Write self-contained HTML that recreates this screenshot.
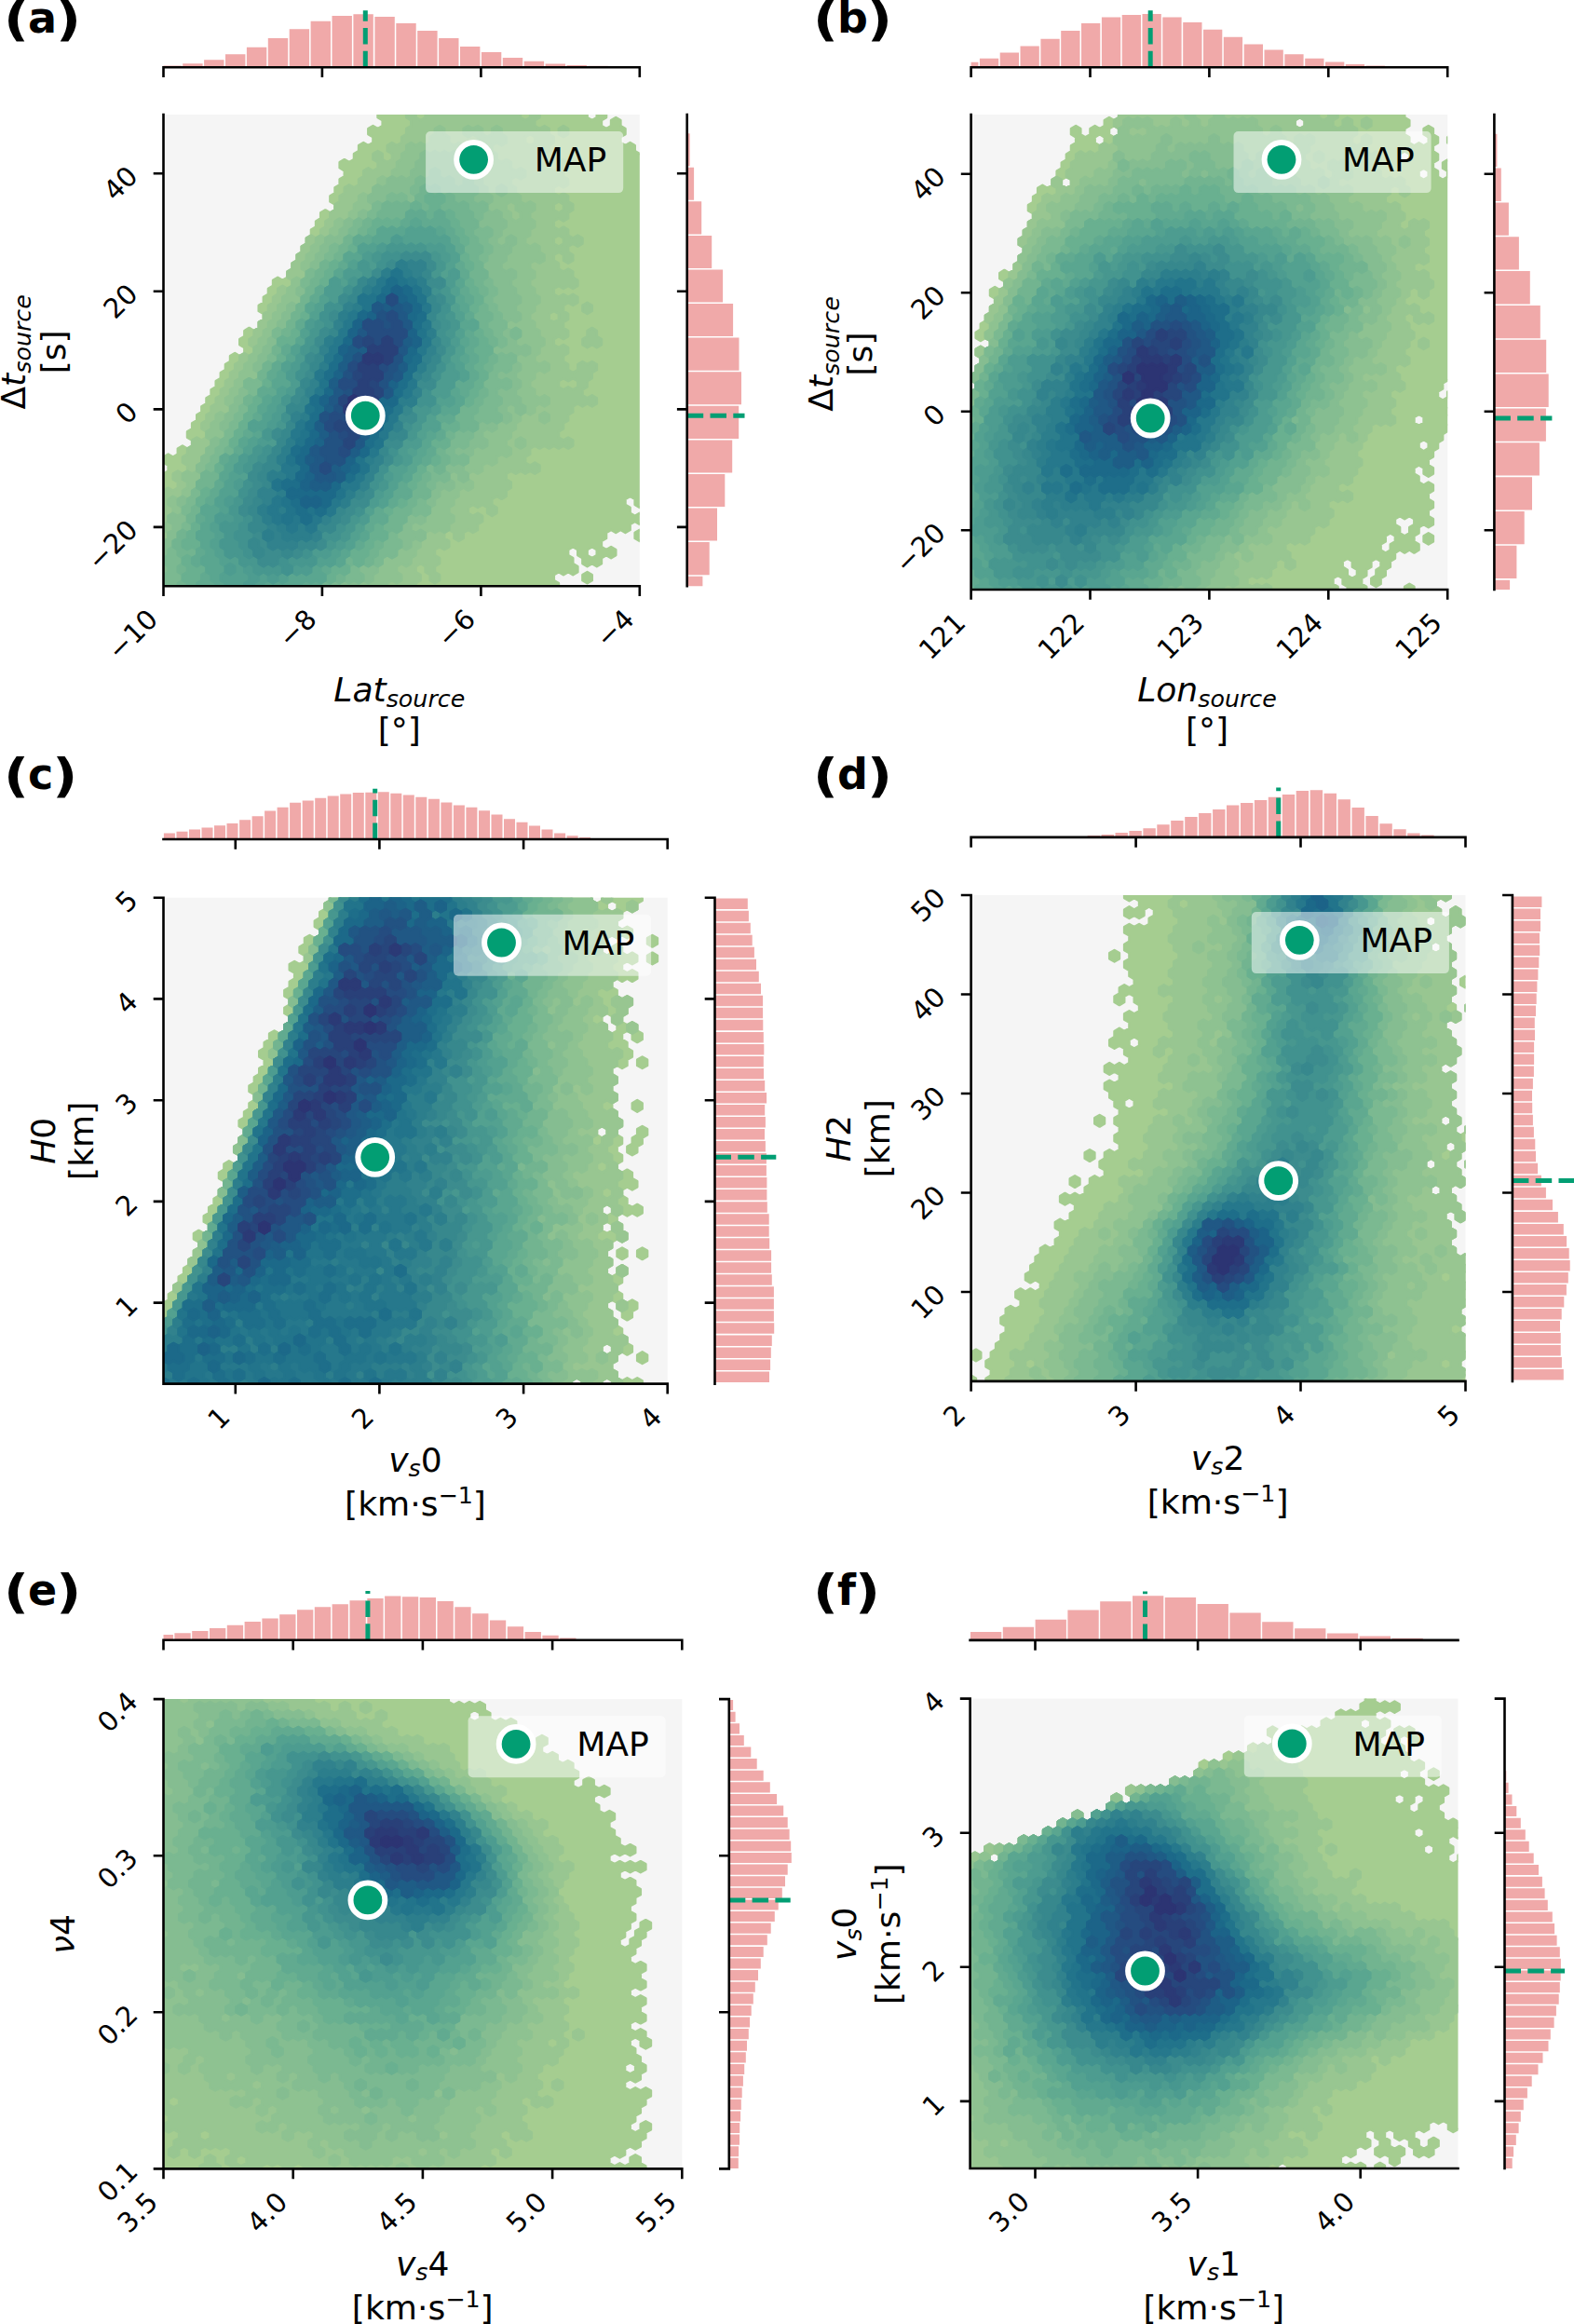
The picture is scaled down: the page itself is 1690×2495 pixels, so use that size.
<!DOCTYPE html>
<html><head><meta charset="utf-8"><title>Posterior joint distributions</title>
<style>
html,body{margin:0;padding:0;background:#fff}
svg{display:block}
text{font-family:"DejaVu Sans","Liberation Sans",sans-serif;fill:#000}
.i{font-style:italic}
.hx path{vector-effect:non-scaling-stroke;stroke-width:2.6;stroke-linejoin:round}
</style></head><body>
<svg width="1690" height="2495" viewBox="0 0 1690 2495">
<rect width="1690" height="2495" fill="#fff"/>
<!-- panel a -->
<clipPath id="clip0"><rect x="175.5" y="123.0" width="511.3" height="506.2"/></clipPath>
<rect x="175.5" y="123.0" width="511.3" height="506.2" fill="#f5f5f5"/>
<g clip-path="url(#clip0)"><g transform="matrix(5.1130 0 0 -3.0131 175.50 629.20)" class="hx">
<path fill="#a5cd90" stroke="#a5cd90" d="M0 -8l-1 1-1-1-1 1 0 2 1 1 0 2-1 1 0 2 1 1 0 2-1 1 0 2 1 1 0 2-1 1 0 2 1 1 0 2-1 1 0 2 1 1 0 2-1 1 0 2 1 1 0 2-1 1 0 2 1 1 0 2-1 1 0 2 1 1 1-1 1 1 0 2 1 1 0 2-1 1 0 2 1 1 1-1 1 1 0 2 1 1 1-1 1 1 0 2-1 1 0 2 1 1 0 2 1 1 0 2 1 1 0 2 1 1 0 2 1 1 0 2 1 1 0 2 1 1 0 2 1 1 0 2 1 1 0 2 1 1 1-1 1 1 0 2-1 1 0 2 1 1 0 2 1 1 1-1 1 1 0 2 1 1 0 2-1 1 0 2 1 1 0 2 1 1 0 2 1 1 0 2 1 1 1-1 1 1 0 2 1 1 0 2 1 1 0 2 1 1 0 2 1 1 0 2 1 1 0 2 1 1 0 2 1 1 0 2 1 1 1-1 1 1 0 2-1 1 0 2 1 1 0 2 1 1 0 2 1 1 0 2-1 1 0 2 1 1 1-1 1 1 0 2 1 1 0 2 1 1 1-1 1 1 0 2-1 1 0 2 1 1 1-1 1 1 0 2-1 1 0 2 1 1 0 2 1 1 1-1 1 1 0 2 1 1 0 2-1 1 0 2 1 1 0 2 1 1 1-1 1 1 1-1 1 1 1-1 1 1 1-1 1 1 1-1 1 1 1-1 1 1 1-1 1 1 1-1 1 1 1-1 1 1 1-1 1 1 1-1 1 1 1-1 1 1 1-1 0-2 1-1 1 1 0 2 1 1 1-1 1 1 1-1 1 1 1-1 0-2 1-1 0-2 1-1 1 1 0 2-1 1 0 2 1 1 1-1 0-2 1-1 0-2-1-1 0-2 1-1 0-2 1-1 0-2-1-1 0-2 1-1 1 1 0 2 1 1 0 2 1 1 1-1 0-2-1-1 0-2-1-1 0-2 1-1 1 1 0 2 1 1 1-1 0-2 1-1 0-2-1-1 0-2 1-1 1 1 1-1 0-2 1-1 1 1 1-1 0-2-1-1 0-2 1-1 1 1 1-1 0-2 1-1 0-2 1-1 0-2-1-1 0-2 1-1 0-2-1-1 0-2 1-1 0-2-1-1 0-2 1-1 0-2-1-1 0-2 1-1 0-2-1-1 0-2 1-1 0-2-1-1 0-2 1-1 0-2-1-1 0-2 1-1 0-2-1-1 0-2 1-1 0-2-1-1 0-2 1-1 0-2-1-1 0-2 1-1 0-2-1-1 0-2 1-1 0-2-1-1 0-2 1-1 0-2-1-1 0-2 1-1 0-2-1-1 0-2 1-1 0-2-1-1 0-2 1-1 0-2-1-1 0-2 1-1 0-2-1-1 0-2 1-1 0-2-1-1 0-2-1-1 0-2 1-1 0-2-1-1-1 1 0 2-1 1-1-1 0-2-1-1-1 1 0 2-1 1-1-1 0-2 1-1 0-2 1-1 1 1 1-1 0-2-1-1-1 1-1-1 0-2-1-1-1 1-1-1-1 1-1-1 0-2-1-1 0-2 1-1 1 1 1-1 0-2-1-1-1 1-1-1 0-2-1-1-1 1-1-1-1 1 0 2-1 1 0 2-1 1-1-1 0-2 1-1 0-2 1-1 0-2-1-1-1 1-1-1-1 1-1-1 0-2 1-1 0-2 1-1 0-2-1-1-1 1-1-1-1 1 0 2-1 1-1-1 0-2 1-1 0-2-1-1-1 1-1-1-1 1-1-1-1 1-1-1-1 1-1-1-1 1-1-1-1 1-1-1-1 1-1-1-1 1-1-1-1 1-1-1-1 1-1-1-1 1-1-1-1 1-1-1-1 1-1-1-1 1-1-1-1 1-1-1-1 1-1-1-1 1-1-1-1 1-1-1-1 1-1-1-1 1-1-1-1 1-1-1-1 1-1-1-1 1-1-1-1 1-1-1-1 1-1-1-1 1-1-1-1 1-1-1-1 1-1-1-1 1-1-1-1 1-1-1-1 1-1-1-1 1-1-1-1 1-1-1-1 1-1-1-1 1-1-1-1 1-1-1-1 1-1-1-1 1-1-1-1 1zM85 173l1-1 1 1 0 2-1 1-1-1zM91 11l0 2-1 1-1-1 0-2 1-1zM103 137l-1-1 0-2 1-1 1 1 0 2zM88 4l1 1 1-1 0-2-1-1-1 1zM99 19l1 1 1-1 0-2-1-1-1 1zM106 20l-1-1-1 1 0 2-1 1 0 2 1 1 1-1 0-2 1-1z"/>
<path fill="#98c691" stroke="#98c691" d="M5 -7l-1-1-1 1-1-1-1 1-1-1-1 1-1-1-1 1 0 2 1 1 0 2-1 1 0 2 1 1 0 2-1 1 0 2 1 1 0 2-1 1 0 2 1 1 0 2-1 1 0 2 1 1 0 2-1 1 0 2 1 1 1-1 1 1 0 2-1 1 0 2 1 1 0 2 1 1 1-1 1 1 0 2-1 1 0 2 1 1 1-1 1 1 0 2-1 1 0 2 1 1 0 2 1 1 0 2 1 1 1-1 1 1 0 2-1 1 0 2 1 1 0 2 1 1 0 2 1 1 0 2 1 1 0 2 1 1 0 2 1 1 0 2 1 1 0 2 1 1 0 2 1 1 1-1 1 1 0 2-1 1 0 2 1 1 0 2 1 1 0 2 1 1 0 2 1 1 0 2 1 1 0 2 1 1 0 2 1 1 1-1 1 1 0 2-1 1 0 2 1 1 0 2 1 1 0 2 1 1 0 2 1 1 0 2 1 1 1-1 1 1 0 2 1 1 0 2 1 1 0 2 1 1 0 2 1 1 0 2 1 1 0 2 1 1 1-1 1 1 0 2 1 1 0 2 1 1 1-1 1 1 0 2-1 1 0 2 1 1 1-1 0-2 1-1 1 1 0 2-1 1 0 2 1 1 1-1 1 1 0 2 1 1 0 2 1 1 0 2-1 1 0 2 1 1 1-1 0-2 1-1 1 1 0 2 1 1 0 2 1 1 0 2 1 1 1-1 0-2 1-1 0-2 1-1 1 1 0 2 1 1 0 2-1 1-1-1-1 1 0 2 1 1 1-1 1 1 1-1 0-2 1-1 1 1 0 2 1 1 1-1 1 1 1-1 1 1 1-1 0-2 1-1 1 1 1-1 0-2-1-1-1 1-1-1-1 1 0 2-1 1-1-1 0-2 1-1 0-2 1-1 1 1 1-1 1 1 1-1 0-2 1-1 1 1 0 2 1 1 1-1 0-2-1-1 0-2 1-1 1 1 1-1 0-2 1-1 0-2-1-1 0-2-1-1 0-2 1-1 0-2 1-1 1 1 0 2 1 1 1-1 0-2-1-1 0-2 1-1 0-2-1-1-1 1-1-1 0-2 1-1 1 1 1-1 0-2 1-1 0-2-1-1 0-2-1-1-1 1-1-1 0-2 1-1 1 1 1-1 0-2 1-1 1 1 1-1 0-2-1-1-1 1-1-1 0-2 1-1 0-2-1-1-1 1 0 2-1 1-1-1 0-2 1-1 0-2 1-1 1 1 1-1 0-2 1-1 0-2-1-1-1 1-1-1-1 1-1-1 0-2 1-1 1 1 1-1 1 1 1-1 0-2-1-1-1 1-1-1 0-2 1-1 0-2-1-1 0-2 1-1 0-2-1-1-1 1-1-1 0-2 1-1 1 1 1-1 0-2-1-1 0-2 1-1 0-2 1-1 1 1 0 2 1 1 1-1 1 1 1-1 0-2-1-1 0-2-1-1 0-2-1-1 0-2 1-1 1 1 1-1 0-2-1-1-1 1-1-1-1 1-1-1 0-2-1-1 0-2-1-1 0-2-1-1 0-2 1-1 1 1 1-1 0-2-1-1-1 1-1-1-1 1-1-1-1 1-1-1-1 1-1-1 0-2-1-1 0-2 1-1 1 1 1-1 0-2-1-1-1 1-1-1-1 1-1-1-1 1-1-1 0-2 1-1 0-2-1-1 0-2-1-1-1 1-1-1 0-2 1-1 0-2-1-1-1 1 0 2-1 1-1-1-1 1-1-1 0-2 1-1 1 1 1-1 0-2-1-1 0-2-1-1-1 1-1-1 0-2-1-1-1 1 0 2-1 1-1-1 0-2 1-1 0-2-1-1-1 1-1-1 0-2 1-1 0-2-1-1 0-2 1-1 0-2-1-1-1 1 0 2-1 1 0 2-1 1-1-1 0-2 1-1 0-2-1-1 0-2-1-1-1 1-1-1 0-2 1-1 0-2-1-1-1 1-1-1-1 1-1-1-1 1-1-1-1 1-1-1-1 1-1-1-1 1-1-1-1 1-1-1-1 1-1-1-1 1-1-1-1 1-1-1-1 1-1-1-1 1-1-1-1 1-1-1-1 1-1-1-1 1-1-1-1 1-1-1-1 1-1-1-1 1-1-1-1 1-1-1-1 1-1-1-1 1-1-1-1 1-1-1zM77 157l1 1 0 2-1 1-1-1 0-2zM85 73l-1 1-1-1 0-2 1-1 1 1 1-1 1 1 0 2-1 1zM83 95l0 2-1 1-1-1 0-2 1-1zM84 122l0 2-1 1-1-1 0-2 1-1zM84 134l0 2-1 1-1-1 0-2 1-1zM66 184l1 1 1-1 0-2-1-1-1 1zM91 91l0-2 1-1 0-2-1-1-1 1-1-1-1 1 0 2 1 1 0 2 1 1zM88 100l1 1 1-1 0-2-1-1-1 1zM83 163l1 1 1-1 0-2-1-1-1 1z"/>
<path fill="#8ec291" stroke="#8ec291" d="M9 -7l-1-1-1 1-1-1-1 1-1-1-1 1-1-1-1 1-1-1-1 1-1-1-1 1 0 2 1 1 0 2-1 1 0 2 1 1 0 2-1 1 0 2 1 1 0 2-1 1 0 2 1 1 0 2 1 1 1-1 1 1 0 2-1 1 0 2 1 1 0 2 1 1 0 2-1 1 0 2 1 1 1-1 1 1 0 2 1 1 0 2-1 1 0 2 1 1 1-1 1 1 0 2 1 1 0 2 1 1 0 2 1 1 0 2-1 1 0 2 1 1 0 2 1 1 0 2 1 1 1-1 1 1 0 2-1 1 0 2 1 1 0 2 1 1 0 2 1 1 0 2 1 1 0 2 1 1 0 2 1 1 0 2 1 1 0 2 1 1 0 2 1 1 0 2 1 1 0 2 1 1 0 2 1 1 0 2 1 1 0 2 1 1 0 2 1 1 1-1 1 1 0 2-1 1 0 2 1 1 0 2 1 1 0 2 1 1 0 2 1 1 1-1 1 1 0 2 1 1 0 2 1 1 1-1 1 1 0 2 1 1 0 2 1 1 0 2 1 1 1-1 1 1 0 2 1 1 0 2 1 1 1-1 1 1 0 2 1 1 0 2 1 1 0 2 1 1 0 2 1 1 1-1 1 1 1-1 1 1 0 2 1 1 0 2 1 1 1-1 0-2 1-1 0-2 1-1 1 1 1-1 1 1 1-1 1 1 0 2-1 1-1-1-1 1 0 2 1 1 1-1 1 1 1-1 0-2 1-1 1 1 0 2 1 1 1-1 0-2 1-1 0-2-1-1-1 1-1-1 0-2 1-1 0-2 1-1 1 1 1-1 0-2 1-1 1 1 1-1 0-2-1-1-1 1-1-1 0-2 1-1 0-2 1-1 0-2 1-1 1 1 1-1 0-2-1-1 0-2 1-1 0-2-1-1 0-2-1-1 0-2 1-1 1 1 1-1 0-2 1-1 0-2-1-1-1 1-1-1 0-2 1-1 0-2-1-1 0-2 1-1 0-2 1-1 0-2-1-1 0-2-1-1 0-2 1-1 0-2 1-1 0-2 1-1 0-2-1-1 0-2-1-1 0-2 1-1 1 1 1-1 0-2-1-1-1 1-1-1 0-2-1-1 0-2 1-1 0-2 1-1 1 1 1-1 0-2-1-1-1 1-1-1 0-2-1-1-1 1-1-1 0-2-1-1 0-2-1-1 0-2-1-1 0-2 1-1 0-2-1-1-1 1-1-1 0-2-1-1-1 1-1-1 0-2-1-1-1 1-1-1 0-2 1-1 0-2-1-1-1 1-1-1 0-2-1-1 0-2-1-1 0-2 1-1 0-2-1-1 0-2-1-1-1 1-1-1-1 1-1-1 0-2-1-1 0-2-1-1 0-2-1-1 0-2-1-1-1 1-1-1 0-2 1-1 0-2-1-1-1 1-1-1 0-2-1-1-1 1-1-1 0-2-1-1-1 1-1-1 0-2-1-1-1 1-1-1-1 1-1-1-1 1-1-1-1 1-1-1-1 1-1-1-1 1-1-1-1 1-1-1-1 1-1-1-1 1-1-1-1 1-1-1-1 1-1-1-1 1-1-1-1 1-1-1-1 1-1-1-1 1-1-1zM74 136l-1 1-1-1 0-2 1-1 0-2 1-1 1 1 0 2-1 1zM74 50l0 2 1 1 1-1 0-2-1-1zM79 61l1 1 1-1 0-2-1-1-1 1z"/>
<path fill="#85bd91" stroke="#85bd91" d="M-2 2l0 2 1 1 0 2 1 1 0 2-1 1 0 2 1 1 0 2 1 1 0 2 1 1 0 2-1 1 0 2 1 1 1-1 1 1 0 2-1 1 0 2 1 1 1-1 1 1 0 2 1 1 0 2 1 1 0 2-1 1 0 2 1 1 0 2 1 1 0 2 1 1 0 2 1 1 1-1 1 1 0 2-1 1 0 2 1 1 0 2 1 1 0 2 1 1 0 2 1 1 0 2 1 1 0 2 1 1 1-1 1 1 0 2-1 1 0 2 1 1 0 2 1 1 0 2 1 1 0 2 1 1 0 2 1 1 0 2 1 1 0 2 1 1 0 2 1 1 1-1 1 1 0 2-1 1 0 2 1 1 0 2 1 1 0 2 1 1 0 2 1 1 0 2 1 1 0 2 1 1 0 2 1 1 1-1 1 1 0 2 1 1 0 2 1 1 1-1 1 1 0 2 1 1 1-1 1 1 0 2-1 1 0 2 1 1 0 2 1 1 1-1 1 1 0 2 1 1 1-1 1 1 1-1 1 1 0 2 1 1 0 2 1 1 0 2 1 1 1-1 1 1 1-1 1 1 1-1 1 1 1-1 0-2 1-1 1 1 1-1 0-2 1-1 0-2 1-1 0-2 1-1 0-2 1-1 0-2-1-1 0-2 1-1 1 1 1-1 0-2 1-1 0-2-1-1 0-2-1-1 0-2 1-1 1 1 0 2 1 1 1-1 0-2-1-1 0-2-1-1 0-2-1-1 0-2 1-1 1 1 1-1 0-2-1-1 0-2 1-1 0-2 1-1 0-2-1-1 0-2 1-1 0-2-1-1-1 1-1-1 0-2 1-1 1 1 1-1 0-2-1-1 0-2 1-1 1 1 1-1 0-2-1-1-1 1-1-1 0-2 1-1 0-2-1-1 0-2 1-1 0-2-1-1 0-2 1-1 0-2 1-1 0-2-1-1-1 1 0 2-1 1-1-1 0-2 1-1 0-2-1-1-1 1-1-1 0-2-1-1-1 1-1-1 0-2 1-1 0-2-1-1-1 1-1-1 0-2-1-1 0-2-1-1 0-2 1-1 0-2-1-1-1 1 0 2-1 1-1-1 0-2 1-1 0-2-1-1-1 1-1-1 0-2-1-1 0-2-1-1 0-2-1-1 0-2-1-1-1 1-1-1 0-2 1-1 1 1 1-1 0-2-1-1-1 1-1-1 0-2-1-1-1 1-1-1 0-2-1-1-1 1-1-1 0-2-1-1 0-2-1-1 0-2-1-1-1 1-1-1 0-2 1-1 0-2-1-1-1 1-1-1-1 1-1-1 0-2-1-1-1 1-1-1-1 1-1-1-1 1-1-1-1 1-1-1-1 1-1-1-1 1-1-1-1 1-1-1-1 1-1-1-1 1-1-1-1 1-1-1-1 1-1-1-1 1-1-1-1 1-1-1-1 1-1-1-1 1-1-1-1 1-1-1-1 1-1-1-1 1-1-1-1 1 0 2-1 1 0 2 1 1 0 2zM70 142l1 1 1-1 0-2-1-1-1 1z"/>
<path fill="#7bb991" stroke="#7bb991" d="M10 -8l-1 1-1-1-1 1-1-1-1 1-1-1-1 1-1-1-1 1-1-1-1 1 0 2 1 1 0 2-1 1 0 2 1 1 0 2 1 1 0 2-1 1 0 2 1 1 0 2 1 1 0 2 1 1 0 2 1 1 0 2 1 1 0 2-1 1 0 2 1 1 0 2 1 1 0 2 1 1 0 2 1 1 0 2 1 1 0 2 1 1 0 2 1 1 0 2 1 1 0 2 1 1 0 2 1 1 0 2 1 1 0 2 1 1 0 2 1 1 0 2 1 1 0 2-1 1 0 2 1 1 1-1 1 1 0 2 1 1 0 2 1 1 0 2 1 1 0 2 1 1 0 2-1 1 0 2 1 1 1-1 1 1 0 2 1 1 0 2 1 1 0 2 1 1 0 2 1 1 0 2-1 1 0 2 1 1 0 2 1 1 1-1 1 1 0 2 1 1 0 2 1 1 0 2 1 1 1-1 1 1 0 2 1 1 0 2 1 1 0 2 1 1 1-1 1 1 0 2 1 1 0 2 1 1 1-1 1 1 0 2 1 1 1-1 1 1 1-1 0-2 1-1 1 1 0 2-1 1 0 2 1 1 0 2 1 1 1-1 1 1 0 2 1 1 1-1 0-2 1-1 1 1 1-1 0-2 1-1 1 1 0 2 1 1 1-1 0-2 1-1 0-2-1-1 0-2 1-1 1 1 1-1 0-2-1-1 0-2-1-1 0-2 1-1 1 1 1-1 0-2-1-1 0-2 1-1 0-2-1-1 0-2-1-1 0-2 1-1 0-2 1-1 0-2 1-1 0-2-1-1 0-2 1-1 0-2 1-1 0-2 1-1 0-2-1-1 0-2 1-1 0-2-1-1-1 1-1-1 0-2 1-1 1 1 1-1 1 1 1-1 0-2-1-1 0-2-1-1-1 1-1-1 0-2 1-1 1 1 1-1 0-2-1-1-1 1-1-1 0-2 1-1 0-2-1-1 0-2 1-1 0-2-1-1-1 1-1-1-1 1-1-1 0-2-1-1 0-2-1-1 0-2-1-1-1 1-1-1 0-2 1-1 1 1 1-1 0-2-1-1-1 1-1-1-1 1-1-1 0-2 1-1 0-2-1-1-1 1-1-1 0-2-1-1 0-2-1-1 0-2 1-1 0-2-1-1-1 1-1-1-1 1-1-1 0-2-1-1 0-2-1-1 0-2 1-1 0-2-1-1 0-2-1-1-1 1-1-1 0-2-1-1-1 1-1-1-1 1-1-1 0-2 1-1 0-2-1-1-1 1-1-1-1 1-1-1 0-2-1-1 0-2-1-1-1 1-1-1 0-2-1-1-1 1-1-1-1 1-1-1-1 1-1-1-1 1-1-1-1 1-1-1-1 1-1-1-1 1-1-1-1 1-1-1-1 1-1-1-1 1-1-1-1 1zM73 89l0 2 1 1 1-1 0-2-1-1z"/>
<path fill="#72b490" stroke="#72b490" d="M8 -8l-1 1-1-1-1 1 0 2-1 1-1-1-1 1 0 2 1 1 0 2 1 1 0 2-1 1 0 2 1 1 0 2-1 1 0 2-1 1 0 2 1 1 0 2 1 1 1-1 1 1 0 2-1 1 0 2 1 1 0 2 1 1 0 2 1 1 0 2-1 1 0 2 1 1 0 2 1 1 1-1 1 1 0 2 1 1 0 2 1 1 0 2 1 1 0 2 1 1 0 2 1 1 0 2 1 1 0 2 1 1 0 2-1 1 0 2 1 1 1-1 1 1 0 2 1 1 0 2-1 1 0 2 1 1 0 2 1 1 1-1 1 1 0 2-1 1 0 2 1 1 0 2 1 1 0 2 1 1 0 2 1 1 0 2 1 1 0 2 1 1 0 2 1 1 0 2 1 1 0 2 1 1 0 2 1 1 0 2 1 1 1-1 1 1 0 2 1 1 0 2 1 1 0 2 1 1 1-1 1 1 0 2 1 1 0 2 1 1 1-1 1 1 0 2 1 1 0 2 1 1 1-1 1 1 1-1 1 1 1-1 1 1 0 2 1 1 0 2 1 1 1-1 1 1 1-1 0-2 1-1 1 1 1-1 0-2 1-1 1 1 1-1 0-2 1-1 0-2 1-1 0-2-1-1 0-2 1-1 0-2 1-1 0-2-1-1 0-2 1-1 0-2 1-1 0-2-1-1 0-2 1-1 0-2-1-1 0-2 1-1 0-2 1-1 0-2-1-1 0-2 1-1 0-2 1-1 0-2-1-1 0-2 1-1 0-2-1-1 0-2-1-1 0-2-1-1 0-2 1-1 0-2-1-1 0-2-1-1 0-2-1-1 0-2 1-1 0-2-1-1-1 1-1-1-1 1-1-1 0-2-1-1 0-2-1-1 0-2 1-1 0-2-1-1 0-2-1-1-1 1 0 2-1 1-1-1 0-2 1-1 0-2-1-1 0-2 1-1 0-2-1-1-1 1-1-1 0-2-1-1 0-2-1-1 0-2-1-1 0-2-1-1-1 1-1-1 0-2-1-1 0-2-1-1 0-2-1-1 0-2-1-1-1 1-1-1-1 1-1-1 0-2-1-1 0-2-1-1-1 1-1-1 0-2-1-1 0-2-1-1 0-2-1-1-1 1-1-1-1 1-1-1-1 1-1-1-1 1-1-1-1 1-1-1-1 1-1-1-1 1-1-1-1 1-1-1-1 1-1-1-1 1-1-1-1 1-1-1-1 1z"/>
<path fill="#69b090" stroke="#69b090" d="M13 -7l-1-1-1 1-1-1-1 1-1-1-1 1 0 2-1 1 0 2-1 1 0 2-1 1 0 2 1 1 0 2-1 1 0 2 1 1 1-1 1 1 0 2-1 1-1-1-1 1 0 2 1 1 0 2 1 1 0 2 1 1 0 2 1 1 0 2-1 1 0 2 1 1 0 2 1 1 1-1 1 1 0 2 1 1 0 2-1 1 0 2 1 1 0 2 1 1 1-1 1 1 0 2-1 1 0 2 1 1 0 2 1 1 0 2 1 1 0 2 1 1 0 2 1 1 0 2 1 1 0 2 1 1 0 2 1 1 0 2 1 1 0 2 1 1 0 2 1 1 0 2-1 1 0 2 1 1 1-1 1 1 0 2 1 1 0 2 1 1 0 2 1 1 0 2 1 1 0 2 1 1 0 2 1 1 0 2 1 1 0 2 1 1 0 2 1 1 1-1 1 1 0 2 1 1 0 2 1 1 0 2 1 1 1-1 1 1 0 2 1 1 0 2 1 1 1-1 1 1 1-1 1 1 1-1 1 1 0 2 1 1 0 2 1 1 1-1 0-2 1-1 1 1 0 2-1 1 0 2 1 1 1-1 1 1 1-1 0-2-1-1 0-2 1-1 1 1 1-1 0-2 1-1 0-2 1-1 0-2 1-1 0-2-1-1 0-2 1-1 0-2 1-1 0-2-1-1 0-2 1-1 0-2 1-1 0-2 1-1 0-2-1-1 0-2-1-1 0-2 1-1 0-2 1-1 0-2 1-1 0-2 1-1 0-2-1-1 0-2-1-1 0-2 1-1 0-2-1-1 0-2-1-1 0-2-1-1 0-2-1-1-1 1-1-1 0-2-1-1 0-2 1-1 0-2-1-1-1 1-1-1 0-2 1-1 0-2-1-1-1 1-1-1 0-2 1-1 0-2-1-1-1 1-1-1 0-2-1-1 0-2-1-1 0-2-1-1 0-2-1-1 0-2-1-1-1 1-1-1 0-2-1-1 0-2-1-1 0-2 1-1 0-2-1-1-1 1-1-1 0-2-1-1 0-2-1-1 0-2-1-1-1 1 0 2-1 1-1-1 0-2 1-1 0-2-1-1-1 1-1-1 0-2-1-1-1 1-1-1 0-2-1-1 0-2-1-1-1 1-1-1-1 1-1-1 0-2-1-1-1 1-1-1-1 1-1-1-1 1-1-1-1 1-1-1-1 1-1-1-1 1-1-1zM9 -5l1 1 0 2-1 1-1-1 0-2z"/>
<path fill="#61aa90" stroke="#61aa90" d="M10 -2l-1 1-1-1-1 1 0 2 1 1 0 2 1 1 0 2-1 1-1-1-1 1 0 2 1 1 0 2 1 1 0 2-1 1 0 2 1 1 0 2-1 1 0 2 1 1 0 2 1 1 0 2 1 1 0 2 1 1 0 2 1 1 0 2 1 1 0 2-1 1 0 2 1 1 1-1 1 1 0 2 1 1 0 2 1 1 0 2 1 1 0 2 1 1 0 2 1 1 0 2 1 1 0 2-1 1 0 2 1 1 1-1 1 1 0 2-1 1 0 2 1 1 0 2 1 1 1-1 1 1 0 2-1 1 0 2 1 1 1-1 1 1 0 2 1 1 0 2-1 1 0 2 1 1 1-1 1 1 0 2-1 1 0 2 1 1 0 2 1 1 0 2 1 1 1-1 1 1 0 2 1 1 0 2 1 1 0 2 1 1 0 2 1 1 1-1 1 1 0 2-1 1 0 2 1 1 1-1 1 1 1-1 1 1 0 2 1 1 1-1 1 1 1-1 1 1 0 2 1 1 0 2 1 1 1-1 1 1 1-1 0-2 1-1 1 1 0 2 1 1 1-1 0-2 1-1 0-2 1-1 0-2 1-1 0-2 1-1 0-2-1-1 0-2 1-1 0-2 1-1 0-2-1-1 0-2 1-1 0-2 1-1 0-2-1-1 0-2 1-1 0-2 1-1 0-2-1-1 0-2 1-1 0-2-1-1 0-2 1-1 0-2-1-1 0-2 1-1 0-2-1-1 0-2-1-1 0-2-1-1 0-2-1-1 0-2-1-1 0-2-1-1-1 1-1-1 0-2 1-1 0-2-1-1-1 1-1-1 0-2 1-1 0-2-1-1 0-2-1-1-1 1-1-1 0-2-1-1 0-2-1-1 0-2 1-1 0-2-1-1-1 1-1-1 0-2-1-1-1 1-1-1 0-2 1-1 0-2-1-1-1 1-1-1 0-2-1-1 0-2-1-1 0-2-1-1-1 1-1-1 0-2-1-1 0-2-1-1-1 1-1-1 0-2-1-1 0-2-1-1 0-2-1-1-1 1-1-1-1 1-1-1 0-2-1-1-1 1 0 2-1 1-1-1 0-2-1-1-1 1-1-1-1 1-1-1 0-2-1-1-1 1-1-1-1 1 0 2-1 1-1-1 0-2-1-1-1 1 0 2 1 1 0 2-1 1z"/>
<path fill="#5aa690" stroke="#5aa690" d="M12 -2l-1 1 0 2-1 1 0 2-1 1 0 2-1 1 0 2 1 1 0 2-1 1 0 2-1 1 0 2 1 1 0 2 1 1 0 2-1 1 0 2 1 1 1-1 1 1 0 2 1 1 0 2 1 1 0 2-1 1 0 2 1 1 0 2 1 1 0 2 1 1 1-1 1 1 0 2-1 1 0 2 1 1 1-1 1 1 0 2-1 1 0 2 1 1 1-1 1 1 0 2-1 1 0 2 1 1 0 2 1 1 1-1 1 1 0 2-1 1 0 2 1 1 0 2 1 1 0 2 1 1 0 2 1 1 0 2 1 1 0 2 1 1 0 2 1 1 0 2 1 1 0 2-1 1 0 2 1 1 1-1 1 1 0 2 1 1 0 2 1 1 0 2 1 1 0 2 1 1 1-1 1 1 0 2-1 1 0 2 1 1 1-1 1 1 0 2 1 1 1-1 1 1 0 2 1 1 0 2 1 1 1-1 1 1 1-1 1 1 1-1 1 1 0 2 1 1 1-1 0-2 1-1 1 1 1-1 1 1 1-1 0-2 1-1 0-2 1-1 0-2 1-1 0-2-1-1 0-2 1-1 0-2 1-1 0-2-1-1 0-2 1-1 0-2 1-1 0-2-1-1 0-2 1-1 1 1 1-1 0-2-1-1-1 1-1-1 0-2 1-1 0-2-1-1 0-2 1-1 0-2-1-1 0-2 1-1 0-2-1-1-1 1-1-1 0-2 1-1 0-2 1-1 0-2-1-1 0-2-1-1-1 1-1-1-1 1-1-1 0-2 1-1 0-2-1-1 0-2-1-1 0-2-1-1 0-2-1-1 0-2-1-1 0-2-1-1 0-2-1-1-1 1-1-1 0-2-1-1 0-2-1-1 0-2-1-1-1 1-1-1 0-2-1-1 0-2-1-1 0-2 1-1 0-2-1-1-1 1-1-1 0-2-1-1 0-2-1-1 0-2-1-1-1 1-1-1-1 1-1-1 0-2 1-1 0-2-1-1-1 1-1-1-1 1-1-1 0-2-1-1-1 1-1-1-1 1-1-1 0-2-1-1-1 1-1-1-1 1-1-1-1 1-1-1-1 1-1-1-1 1 0 2-1 1z"/>
<path fill="#53a190" stroke="#53a190" d="M15 -1l-1-1-1 1 0 2-1 1 0 2 1 1 0 2-1 1 0 2-1 1 0 2-1 1 0 2 1 1 0 2-1 1 0 2 1 1 0 2 1 1 0 2-1 1 0 2 1 1 0 2 1 1 0 2 1 1 0 2 1 1 0 2 1 1 0 2 1 1 0 2 1 1 0 2 1 1 1-1 1 1 0 2-1 1-1-1-1 1 0 2 1 1 1-1 1 1 0 2 1 1 0 2 1 1 0 2 1 1 0 2 1 1 1-1 1 1 0 2-1 1 0 2-1 1 0 2 1 1 1-1 1 1 0 2-1 1 0 2 1 1 1-1 1 1 0 2-1 1 0 2 1 1 0 2 1 1 0 2 1 1 0 2 1 1 0 2 1 1 0 2 1 1 0 2 1 1 1-1 1 1 0 2 1 1 0 2 1 1 1-1 1 1 0 2-1 1 0 2 1 1 1-1 1 1 1-1 1 1 1-1 1 1 0 2 1 1 1-1 1 1 0 2 1 1 1-1 1 1 1-1 1 1 1-1 0-2 1-1 1 1 1-1 0-2 1-1 0-2 1-1 0-2-1-1 0-2 1-1 0-2-1-1 0-2 1-1 0-2-1-1 0-2 1-1 0-2 1-1 0-2-1-1 0-2 1-1 0-2-1-1 0-2 1-1 0-2-1-1 0-2 1-1 0-2 1-1 0-2-1-1-1 1-1-1 0-2-1-1 0-2 1-1 0-2-1-1-1 1-1-1 0-2-1-1 0-2 1-1 0-2-1-1-1 1-1-1 0-2-1-1 0-2-1-1 0-2-1-1 0-2-1-1 0-2-1-1 0-2-1-1 0-2-1-1 0-2-1-1 0-2-1-1-1 1-1-1 0-2-1-1 0-2-1-1 0-2-1-1 0-2-1-1 0-2-1-1-1 1-1-1 0-2-1-1 0-2-1-1-1 1-1-1-1 1-1-1 0-2-1-1-1 1-1-1-1 1-1-1 0-2-1-1-1 1-1-1-1 1-1-1 0-2-1-1-1 1-1-1-1 1-1-1z"/>
<path fill="#4d9c90" stroke="#4d9c90" d="M17 7l-1 1 0 2-1 1-1-1-1 1 0 2-1 1 0 2 1 1 0 2-1 1 0 2-1 1 0 2 1 1 1-1 1 1 0 2-1 1 0 2 1 1 1-1 1 1 0 2-1 1 0 2 1 1 1-1 1 1 0 2-1 1-1-1-1 1 0 2 1 1 0 2 1 1 1-1 1 1 0 2 1 1 0 2 1 1 0 2 1 1 0 2 1 1 0 2 1 1 0 2 1 1 0 2 1 1 0 2 1 1 0 2-1 1 0 2 1 1 0 2 1 1 0 2 1 1 0 2 1 1 0 2 1 1 0 2-1 1 0 2 1 1 1-1 1 1 0 2 1 1 0 2 1 1 0 2-1 1 0 2 1 1 0 2 1 1 1-1 0-2 1-1 1 1 0 2-1 1 0 2 1 1 1-1 1 1 0 2 1 1 0 2 1 1 1-1 1 1 0 2 1 1 1-1 1 1 0 2 1 1 1-1 0-2 1-1 1 1 1-1 1 1 1-1 1 1 1-1 1 1 1-1 0-2 1-1 0-2-1-1 0-2-1-1 0-2 1-1 1 1 0 2 1 1 1-1 0-2-1-1 0-2-1-1 0-2 1-1 0-2-1-1 0-2 1-1 0-2 1-1 0-2-1-1 0-2 1-1 0-2-1-1 0-2-1-1 0-2 1-1 0-2 1-1 0-2-1-1 0-2-1-1 0-2-1-1-1 1-1-1 0-2 1-1 0-2-1-1-1 1-1-1 0-2-1-1 0-2-1-1 0-2 1-1 0-2-1-1-1 1-1-1 0-2 1-1 0-2-1-1-1 1-1-1-1 1-1-1 0-2 1-1 0-2-1-1 0-2-1-1 0-2-1-1 0-2-1-1-1 1-1-1 0-2 1-1 0-2-1-1-1 1-1-1 0-2-1-1 0-2-1-1 0-2-1-1-1 1-1-1 0-2-1-1-1 1-1-1 0-2-1-1 0-2-1-1-1 1-1-1-1 1-1-1-1 1-1-1 0-2-1-1-1 1 0 2-1 1-1-1 0-2-1-1 0-2-1-1-1 1 0 2 1 1 0 2-1 1zM14 4l-1 1 0 2 1 1 1-1 0-2z"/>
<path fill="#47978f" stroke="#47978f" d="M17 7l-1 1 0 2-1 1-1-1-1 1 0 2-1 1 0 2 1 1 0 2-1 1 0 2 1 1 1-1 1 1 0 2-1 1 0 2 1 1 0 2 1 1 0 2 1 1 0 2 1 1 0 2-1 1 0 2 1 1 0 2 1 1 0 2 1 1 1-1 1 1 1-1 1 1 0 2-1 1-1-1-1 1 0 2 1 1 1-1 1 1 0 2 1 1 0 2 1 1 0 2-1 1 0 2 1 1 1-1 1 1 0 2 1 1 0 2-1 1 0 2 1 1 0 2 1 1 0 2-1 1 0 2 1 1 0 2 1 1 0 2 1 1 0 2 1 1 0 2 1 1 0 2 1 1 1-1 1 1 0 2 1 1 0 2 1 1 0 2 1 1 1-1 1 1 0 2-1 1 0 2 1 1 1-1 0-2 1-1 1 1 0 2-1 1 0 2 1 1 1-1 1 1 0 2 1 1 1-1 1 1 1-1 1 1 1-1 1 1 1-1 0-2 1-1 1 1 1-1 0-2 1-1 0-2-1-1 0-2 1-1 0-2 1-1 0-2 1-1 0-2-1-1 0-2 1-1 0-2 1-1 0-2-1-1 0-2-1-1 0-2 1-1 0-2-1-1 0-2-1-1 0-2-1-1 0-2-1-1 0-2-1-1 0-2 1-1 0-2-1-1 0-2-1-1 0-2-1-1 0-2-1-1 0-2-1-1-1 1-1-1 0-2-1-1 0-2 1-1 0-2-1-1-1 1-1-1 0-2-1-1 0-2 1-1 0-2-1-1-1 1-1-1 0-2-1-1 0-2-1-1 0-2-1-1 0-2-1-1 0-2-1-1 0-2-1-1-1 1-1-1 0-2-1-1-1 1-1-1-1 1-1-1 0-2 1-1 0-2-1-1-1 1-1-1-1 1-1-1 0-2-1-1-1 1-1-1-1 1-1-1-1 1-1-1-1 1 0 2-1 1z"/>
<path fill="#41928f" stroke="#41928f" d="M21 7l-1 1 0 2-1 1-1-1-1 1 0 2-1 1 0 2-1 1 0 2 1 1 0 2 1 1 0 2-1 1 0 2 1 1 0 2-1 1 0 2 1 1 0 2 1 1 0 2 1 1 0 2 1 1 0 2 1 1 0 2 1 1 1-1 1 1 0 2-1 1 0 2 1 1 1-1 1 1 0 2-1 1 0 2 1 1 0 2 1 1 0 2 1 1 0 2 1 1 0 2-1 1 0 2 1 1 0 2 1 1 0 2 1 1 0 2 1 1 0 2 1 1 0 2 1 1 0 2-1 1 0 2 1 1 0 2 1 1 1-1 1 1 0 2 1 1 0 2 1 1 1-1 1 1 0 2 1 1 1-1 1 1 0 2 1 1 0 2 1 1 0 2 1 1 1-1 1 1 1-1 1 1 1-1 1 1 1-1 1 1 1-1 0-2 1-1 0-2-1-1 0-2 1-1 1 1 1-1 0-2-1-1 0-2 1-1 0-2 1-1 0-2-1-1 0-2 1-1 0-2-1-1 0-2 1-1 0-2-1-1 0-2-1-1 0-2 1-1 0-2-1-1 0-2-1-1 0-2-1-1 0-2 1-1 0-2-1-1-1 1-1-1-1 1-1-1 0-2 1-1 0-2-1-1 0-2-1-1 0-2-1-1 0-2-1-1 0-2-1-1 0-2-1-1 0-2-1-1 0-2-1-1 0-2-1-1 0-2-1-1 0-2-1-1 0-2-1-1-1 1-1-1 0-2-1-1 0-2-1-1 0-2-1-1-1 1-1-1 0-2-1-1-1 1-1-1 0-2-1-1-1 1-1-1-1 1-1-1 0-2 1-1 0-2-1-1-1 1 0 2-1 1-1-1-1 1z"/>
<path fill="#3c8c8e" stroke="#3c8c8e" d="M19 11l0 2-1 1 0 2 1 1 0 2-1 1 0 2 1 1 0 2-1 1-1-1-1 1 0 2 1 1 0 2 1 1 0 2 1 1 0 2-1 1 0 2 1 1 0 2 1 1 1-1 1 1 0 2 1 1 0 2 1 1 0 2-1 1 0 2 1 1 1-1 1 1 0 2 1 1 0 2-1 1 0 2 1 1 0 2 1 1 0 2 1 1 0 2 1 1 0 2 1 1 0 2-1 1 0 2 1 1 1-1 1 1 0 2-1 1 0 2 1 1 0 2 1 1 1-1 1 1 0 2-1 1 0 2 1 1 1-1 1 1 0 2-1 1 0 2 1 1 1-1 1 1 0 2 1 1 0 2 1 1 1-1 1 1 0 2 1 1 1-1 1 1 0 2 1 1 1-1 1 1 0 2 1 1 1-1 1 1 1-1 1 1 1-1 0-2 1-1 0-2-1-1 0-2 1-1 1 1 1-1 0-2-1-1-1 1-1-1 0-2 1-1 1 1 1-1 0-2-1-1 0-2-1-1 0-2 1-1 0-2-1-1 0-2 1-1 0-2 1-1 0-2-1-1 0-2-1-1 0-2-1-1 0-2 1-1 0-2-1-1-1 1-1-1 0-2-1-1 0-2-1-1 0-2 1-1 0-2-1-1-1 1-1-1 0-2 1-1 0-2-1-1 0-2-1-1-1 1-1-1 0-2 1-1 0-2-1-1-1 1-1-1 0-2-1-1 0-2-1-1 0-2 1-1 0-2-1-1 0-2-1-1-1 1-1-1 0-2-1-1 0-2-1-1-1 1-1-1 0-2-1-1-1 1-1-1 0-2 1-1 0-2-1-1-1 1-1-1-1 1-1-1 0-2-1-1-1 1-1-1-1 1-1-1 0-2-1-1-1 1-1-1-1 1 0 2z"/>
<path fill="#37888d" stroke="#37888d" d="M19 17l1-1 0-2 1-1 0-2-1-1-1 1 0 2-1 1 0 2zM22 14l0 2-1 1 0 2-1 1-1-1-1 1 0 2 1 1 0 2-1 1 0 2 1 1 0 2 1 1 0 2 1 1 0 2-1 1 0 2 1 1 0 2 1 1 0 2 1 1 0 2 1 1 0 2 1 1 0 2 1 1 0 2 1 1 0 2-1 1 0 2 1 1 1-1 1 1 0 2 1 1 0 2-1 1 0 2 1 1 1-1 1 1 0 2-1 1 0 2 1 1 0 2 1 1 0 2 1 1 0 2 1 1 0 2 1 1 0 2 1 1 0 2 1 1 0 2 1 1 0 2 1 1 0 2 1 1 0 2 1 1 1-1 1 1 1-1 1 1 0 2 1 1 1-1 1 1 0 2 1 1 1-1 1 1 1-1 1 1 1-1 0-2 1-1 0-2-1-1 0-2 1-1 0-2 1-1 0-2 1-1 0-2-1-1 0-2-1-1 0-2 1-1 0-2 1-1 0-2-1-1 0-2 1-1 0-2-1-1 0-2-1-1 0-2-1-1-1 1-1-1 0-2 1-1 0-2-1-1 0-2-1-1 0-2-1-1-1 1-1-1 0-2 1-1 0-2 1-1 0-2-1-1-1 1-1-1-1 1-1-1 0-2 1-1 0-2-1-1 0-2-1-1 0-2-1-1 0-2-1-1 0-2-1-1 0-2-1-1-1 1-1-1 0-2-1-1 0-2-1-1 0-2-1-1 0-2-1-1-1 1-1-1 0-2-1-1 0-2-1-1-1 1-1-1-1 1-1-1 0-2-1-1-1 1 0 2-1 1-1-1z"/>
<path fill="#31828d" stroke="#31828d" d="M21 19l1 1 0 2-1 1 0 2-1 1 0 2 1 1 0 2-1 1 0 2 1 1 1-1 1 1 0 2-1 1 0 2 1 1 1-1 1 1 0 2-1 1 0 2 1 1 0 2 1 1 0 2 1 1 0 2 1 1 0 2-1 1 0 2 1 1 1-1 1 1 0 2 1 1 0 2-1 1 0 2 1 1 0 2 1 1 0 2 1 1 0 2 1 1 0 2-1 1 0 2 1 1 0 2 1 1 1-1 1 1 0 2-1 1 0 2 1 1 0 2 1 1 0 2 1 1 1-1 1 1 0 2 1 1 0 2 1 1 0 2 1 1 1-1 1 1 0 2 1 1 1-1 1 1 0 2 1 1 1-1 1 1 1-1 1 1 1-1 0-2-1-1 0-2 1-1 0-2 1-1 0-2-1-1 0-2 1-1 0-2-1-1 0-2 1-1 0-2 1-1 0-2-1-1 0-2 1-1 0-2-1-1 0-2-1-1 0-2-1-1 0-2-1-1 0-2 1-1 0-2-1-1 0-2-1-1-1 1-1-1 0-2-1-1 0-2 1-1 0-2-1-1-1 1-1-1 0-2-1-1 0-2-1-1 0-2 1-1 0-2-1-1 0-2-1-1 0-2-1-1 0-2-1-1-1 1-1-1 0-2-1-1 0-2-1-1-1 1-1-1 0-2-1-1 0-2-1-1-1 1-1-1 0-2 1-1 0-2-1-1-1 1-1-1-1 1-1-1 0-2-1-1-1 1-1-1-1 1-1-1-1 1 0 2-1 1z"/>
<path fill="#2c7e8c" stroke="#2c7e8c" d="M23 17l-1-1-1 1 0 2 1 1 1-1zM22 22l-1 1 0 2-1 1 0 2 1 1 1-1 1 1 0 2 1 1 0 2-1 1 0 2-1 1 0 2 1 1 1-1 1 1 0 2-1 1 0 2 1 1 0 2 1 1 0 2 1 1 0 2 1 1 0 2 1 1 0 2 1 1 0 2 1 1 0 2 1 1 0 2 1 1 0 2-1 1 0 2 1 1 0 2 1 1 0 2 1 1 0 2-1 1 0 2 1 1 1-1 1 1 0 2 1 1 0 2-1 1 0 2 1 1 1-1 1 1 0 2 1 1 0 2 1 1 0 2 1 1 1-1 1 1 0 2 1 1 0 2 1 1 1-1 1 1 0 2 1 1 1-1 0-2 1-1 0-2 1-1 1 1 1-1 0-2 1-1 0-2-1-1 0-2 1-1 0-2-1-1 0-2 1-1 0-2 1-1 0-2-1-1 0-2-1-1 0-2-1-1 0-2 1-1 0-2-1-1-1 1-1-1 0-2 1-1 0-2-1-1 0-2 1-1 0-2-1-1-1 1-1-1 0-2-1-1 0-2-1-1 0-2-1-1 0-2-1-1 0-2-1-1 0-2-1-1 0-2-1-1 0-2-1-1 0-2-1-1 0-2-1-1 0-2-1-1 0-2-1-1-1 1-1-1 0-2-1-1-1 1-1-1 0-2-1-1 0-2-1-1 0-2-1-1-1 1-1-1-1 1-1-1-1 1 0 2-1 1 0 2-1 1z"/>
<path fill="#26788c" stroke="#26788c" d="M28 22l0-2-1-1-1 1 0 2-1 1-1-1-1 1 0 2-1 1 0 2 1 1 0 2 1 1 1-1 1 1 0 2-1 1-1-1-1 1 0 2 1 1 1-1 1 1 0 2-1 1 0 2 1 1 0 2 1 1 0 2 1 1 0 2-1 1 0 2 1 1 0 2 1 1 1-1 1 1 0 2-1 1 0 2 1 1 0 2 1 1 0 2 1 1 0 2-1 1 0 2 1 1 1-1 1 1 0 2-1 1 0 2 1 1 0 2 1 1 0 2 1 1 0 2 1 1 0 2 1 1 0 2 1 1 1-1 1 1 0 2-1 1 0 2 1 1 1-1 1 1 0 2 1 1 0 2 1 1 1-1 1 1 0 2 1 1 1-1 0-2 1-1 1 1 1-1 0-2 1-1 0-2 1-1 0-2 1-1 0-2-1-1 0-2 1-1 0-2-1-1 0-2 1-1 0-2-1-1 0-2-1-1 0-2-1-1 0-2-1-1 0-2 1-1 0-2-1-1 0-2-1-1-1 1-1-1 0-2 1-1 0-2-1-1 0-2-1-1 0-2-1-1 0-2-1-1 0-2-1-1 0-2-1-1-1 1-1-1 0-2 1-1 0-2-1-1 0-2-1-1 0-2-1-1-1 1-1-1 0-2-1-1 0-2-1-1 0-2-1-1-1 1-1-1 0-2-1-1 0-2-1-1-1 1 0 2-1 1zM26 26l0 2-1 1-1-1 0-2 1-1z"/>
<path fill="#22748b" stroke="#22748b" d="M26 28l-1 1 0 2 1 1 0 2-1 1-1-1-1 1 0 2 1 1 1-1 1 1 1-1 1 1 0 2 1 1 0 2-1 1-1-1-1 1 0 2 1 1 0 2 1 1 0 2 1 1 0 2 1 1 0 2 1 1 0 2-1 1 0 2 1 1 0 2 1 1 1-1 1 1 0 2-1 1 0 2 1 1 0 2 1 1 0 2 1 1 0 2 1 1 0 2 1 1 0 2 1 1 0 2 1 1 0 2 1 1 0 2 1 1 0 2-1 1 0 2 1 1 1-1 1 1 1-1 1 1 0 2 1 1 0 2 1 1 0 2 1 1 1-1 0-2 1-1 0-2 1-1 1 1 1-1 0-2 1-1 0-2-1-1 0-2 1-1 0-2-1-1 0-2 1-1 0-2-1-1 0-2-1-1 0-2 1-1 0-2-1-1 0-2-1-1 0-2-1-1 0-2-1-1 0-2-1-1 0-2-1-1 0-2-1-1 0-2-1-1 0-2-1-1 0-2 1-1 0-2-1-1-1 1-1-1 0-2-1-1 0-2 1-1 0-2-1-1-1 1-1-1 0-2-1-1-1 1-1-1 0-2 1-1 0-2-1-1-1 1-1-1 0-2-1-1 0-2-1-1-1 1-1-1 0-2-1-1-1 1 0 2-1 1-1-1 0-2-1-1-1 1 0 2 1 1z"/>
<path fill="#1e6e8a" stroke="#1e6e8a" d="M28 28l-1 1 0 2-1 1 0 2-1 1 0 2 1 1 1-1 1 1 0 2 1 1 0 2-1 1 0 2-1 1 0 2 1 1 1-1 1 1 0 2 1 1 0 2-1 1 0 2 1 1 0 2 1 1 0 2-1 1 0 2 1 1 1-1 1 1 0 2 1 1 0 2-1 1 0 2 1 1 0 2 1 1 0 2 1 1 0 2 1 1 0 2 1 1 0 2 1 1 0 2 1 1 0 2 1 1 1-1 1 1 0 2 1 1 0 2 1 1 0 2 1 1 0 2 1 1 1-1 0-2 1-1 1 1 1-1 0-2 1-1 0-2 1-1 0-2 1-1 0-2-1-1 0-2-1-1 0-2 1-1 0-2-1-1 0-2 1-1 0-2-1-1 0-2-1-1 0-2-1-1 0-2-1-1 0-2-1-1 0-2-1-1 0-2-1-1 0-2-1-1 0-2-1-1 0-2-1-1 0-2-1-1 0-2-1-1-1 1-1-1 0-2 1-1 0-2-1-1 0-2-1-1-1 1-1-1 0-2-1-1 0-2-1-1 0-2-1-1 0-2-1-1-1 1 0 2-1 1-1-1 0-2 1-1 0-2-1-1-1 1 0 2-1 1z"/>
<path fill="#1c6989" stroke="#1c6989" d="M31 29l-1-1-1 1 0 2-1 1-1-1-1 1 0 2 1 1 1-1 1 1 0 2-1 1 0 2 1 1 0 2-1 1 0 2 1 1 0 2 1 1 0 2 1 1 0 2 1 1 0 2 1 1 0 2 1 1 0 2-1 1 0 2 1 1 0 2 1 1 0 2 1 1 0 2 1 1 0 2 1 1 0 2-1 1 0 2 1 1 0 2 1 1 0 2 1 1 0 2 1 1 0 2 1 1 1-1 1 1 0 2 1 1 0 2 1 1 1-1 1 1 0 2 1 1 1-1 1 1 1-1 0-2 1-1 0-2 1-1 0-2-1-1 0-2-1-1 0-2 1-1 0-2 1-1 0-2-1-1 0-2-1-1 0-2-1-1 0-2-1-1 0-2-1-1 0-2-1-1 0-2 1-1 0-2-1-1-1 1-1-1 0-2-1-1 0-2 1-1 0-2-1-1-1 1-1-1 0-2-1-1 0-2 1-1 0-2-1-1-1 1-1-1 0-2 1-1 0-2-1-1-1 1-1-1 0-2-1-1 0-2-1-1 0-2-1-1 0-2-1-1-1 1-1-1z"/>
<path fill="#1c6388" stroke="#1c6388" d="M31 29l-1-1-1 1 0 2 1 1 1-1 1 1 1-1 0-2-1-1zM30 34l-1 1 0 2 1 1 0 2 1 1 0 2-1 1 0 2 1 1 0 2 1 1 0 2 1 1 0 2-1 1 0 2 1 1 0 2 1 1 0 2-1 1 0 2 1 1 1-1 1 1 0 2-1 1 0 2 1 1 0 2 1 1 0 2 1 1 0 2-1 1 0 2 1 1 1-1 1 1 0 2-1 1 0 2 1 1 0 2 1 1 1-1 1 1 0 2 1 1 0 2 1 1 1-1 1 1 0 2 1 1 0 2 1 1 1-1 0-2 1-1 0-2 1-1 0-2-1-1 0-2 1-1 0-2 1-1 0-2 1-1 0-2-1-1-1 1-1-1 0-2-1-1 0-2 1-1 0-2-1-1 0-2-1-1 0-2-1-1 0-2-1-1-1 1-1-1 0-2-1-1 0-2 1-1 0-2-1-1 0-2-1-1 0-2-1-1 0-2-1-1 0-2-1-1 0-2-1-1 0-2-1-1 0-2-1-1-1 1-1-1 0-2-1-1-1 1-1-1-1 1z"/>
<path fill="#1e5d86" stroke="#1e5d86" d="M31 41l0 2-1 1 0 2 1 1 0 2 1 1 1-1 1 1 0 2-1 1 0 2-1 1 0 2 1 1 0 2 1 1 0 2 1 1 0 2 1 1 0 2-1 1 0 2 1 1 1-1 1 1 0 2-1 1 0 2 1 1 0 2 1 1 0 2 1 1 0 2 1 1 0 2 1 1 0 2 1 1 1-1 1 1 0 2-1 1 0 2 1 1 1-1 1 1 0 2 1 1 1-1 0-2 1-1 1 1 1-1 0-2-1-1 0-2 1-1 0-2-1-1 0-2 1-1 0-2-1-1 0-2-1-1 0-2 1-1 0-2-1-1 0-2-1-1-1 1-1-1 0-2 1-1 0-2-1-1-1 1-1-1 0-2-1-1 0-2-1-1 0-2 1-1 0-2-1-1 0-2-1-1 0-2-1-1 0-2-1-1-1 1-1-1 0-2-1-1 0-2 1-1 0-2-1-1-1 1-1-1 0-2-1-1-1 1-1-1-1 1 0 2 1 1 0 2z"/>
<path fill="#205885" stroke="#205885" d="M33 37l-1 1 0 2-1 1 0 2 1 1 0 2-1 1 0 2 1 1 1-1 1 1 0 2 1 1 0 2-1 1 0 2-1 1 0 2 1 1 1-1 1 1 0 2-1 1 0 2 1 1 0 2 1 1 0 2 1 1 0 2 1 1 0 2 1 1 0 2 1 1 1-1 1 1 0 2-1 1-1-1-1 1 0 2 1 1 0 2 1 1 0 2 1 1 1-1 1 1 0 2-1 1 0 2 1 1 1-1 0-2 1-1 1 1 0 2-1 1 0 2 1 1 1-1 0-2 1-1 0-2 1-1 0-2 1-1 0-2-1-1 0-2-1-1 0-2 1-1 0-2-1-1 0-2-1-1 0-2 1-1 0-2-1-1-1 1-1-1 0-2 1-1 0-2-1-1-1 1-1-1 0-2-1-1 0-2-1-1 0-2-1-1 0-2-1-1 0-2 1-1 0-2-1-1-1 1-1-1 0-2-1-1 0-2-1-1-1 1-1-1 0-2 1-1 0-2-1-1-1 1z"/>
<path fill="#225282" stroke="#225282" d="M34 46l-1 1 0 2 1 1 0 2 1 1 0 2-1 1 0 2-1 1 0 2 1 1 1-1 1 1 0 2 1 1 0 2 1 1 0 2-1 1 0 2 1 1 0 2 1 1 0 2 1 1 0 2 1 1 1-1 1 1 0 2-1 1-1-1-1 1 0 2 1 1 1-1 1 1 0 2-1 1 0 2 1 1 1-1 1 1 0 2 1 1 1-1 1 1 1-1 0-2 1-1 0-2 1-1 0-2-1-1 0-2-1-1 0-2 1-1 0-2-1-1 0-2-1-1 0-2-1-1 0-2-1-1 0-2-1-1 0-2-1-1 0-2-1-1 0-2-1-1 0-2-1-1 0-2-1-1 0-2-1-1 0-2-1-1 0-2-1-1-1 1-1-1 0-2-1-1-1 1 0 2 1 1zM49 103l0-2-1-1-1 1 0 2 1 1z"/>
<path fill="#254c80" stroke="#254c80" d="M33 43l1 1 1-1 0-2-1-1-1 1zM38 52l-1 1 0 2-1 1-1-1-1 1 0 2 1 1 0 2 1 1 1-1 1 1 0 2-1 1 0 2 1 1 1-1 1 1 0 2-1 1-1-1-1 1 0 2 1 1 1-1 1 1 0 2-1 1 0 2 1 1 1-1 1 1 0 2 1 1 0 2-1 1-1-1-1 1 0 2 1 1 1-1 1 1 0 2-1 1 0 2 1 1 1-1 1 1 1-1 0-2 1-1 1 1 0 2-1 1 0 2 1 1 1-1 0-2 1-1 0-2 1-1 0-2-1-1 0-2-1-1 0-2-1-1 0-2-1-1 0-2-1-1 0-2-1-1 0-2 1-1 0-2-1-1 0-2-1-1-1 1-1-1 0-2 1-1 0-2-1-1-1 1-1-1 0-2 1-1 0-2-1-1 0-2-1-1 0-2-1-1-1 1 0 2 1 1zM48 104l1-1 0-2-1-1-1 1 0 2z"/>
<path fill="#27467c" stroke="#27467c" d="M38 52l1 1 0 2-1 1-1-1-1 1 0 2 1 1 1-1 1 1 0 2-1 1 0 2-1 1 0 2 1 1 1-1 1 1 0 2 1 1 0 2-1 1 0 2 1 1 0 2 1 1 0 2 1 1 0 2-1 1 0 2 1 1 1-1 0-2 1-1 1 1 0 2 1 1 1-1 0-2 1-1 0-2-1-1 0-2-1-1-1 1-1-1 0-2 1-1 0-2-1-1 0-2 1-1 0-2-1-1 0-2-1-1-1 1-1-1 0-2-1-1 0-2-1-1 0-2 1-1 0-2-1-1 0-2-1-1-1 1z"/>
<path fill="#294079" stroke="#294079" d="M39 59l0 2-1 1 0 2 1 1 0 2 1 1 0 2 1 1 0 2 1 1 0 2-1 1 0 2 1 1 0 2 1 1 0 2 1 1 1-1 1 1 0 2 1 1 1-1 0-2 1-1 0-2-1-1 0-2-1-1-1 1-1-1 0-2 1-1 0-2-1-1-1 1-1-1 0-2 1-1 0-2 1-1 0-2-1-1-1 1 0 2-1 1-1-1 0-2 1-1 0-2-1-1 0-2-1-1z"/>
<path fill="#2b3a76" stroke="#2b3a76" d="M39 61l-1 1 0 2 1 1 0 2 1 1 1-1 0-2-1-1 0-2zM45 83l1-1 0-2-1-1-1 1-1-1-1 1 0 2 1 1 1-1z"/>
<path fill="#2c3473" stroke="#2c3473" d="M40 68l1-1 0-2-1-1-1 1 0 2z"/>
</g></g>
<path fill="#f0a9a9" d="M175.5 72.3v-1.7h19.2v1.7zM196.2 72.3v-4.1h21.4v4.1zM219.1 72.3v-8.1h21.4v8.1zM242.0 72.3v-14.0h21.4v14.0zM264.9 72.3v-21.6h21.4v21.6zM287.8 72.3v-31.2h21.4v31.2zM310.7 72.3v-41.1h21.4v41.1zM333.6 72.3v-49.5h21.4v49.5zM356.5 72.3v-55.2h21.4v55.2zM379.4 72.3v-57.1h21.4v57.1zM402.4 72.3v-54.2h21.4v54.2zM425.3 72.3v-47.3h21.4v47.3zM448.2 72.3v-39.2h21.4v39.2zM471.1 72.3v-31.2h21.4v31.2zM494.0 72.3v-22.4h21.4v22.4zM516.9 72.3v-16.4h21.4v16.4zM539.8 72.3v-10.3h21.4v10.3zM562.7 72.3v-6.6h21.4v6.6zM585.6 72.3v-3.9h21.4v3.9zM608.5 72.3v-2.2h21.4v2.2zM631.5 72.3v-1.5h21.4v1.5z"/>
<path fill="#f0a9a9" d="M737.7 143.2h3.0v35.1h-3.0zM737.7 179.7h7.4v35.1h-7.4zM737.7 216.3h15.5v35.1h-15.5zM737.7 252.9h26.5v35.1h-26.5zM737.7 289.5h38.4v35.1h-38.4zM737.7 326.0h49.4v35.1h-49.4zM737.7 362.6h55.8v35.1h-55.8zM737.7 399.2h58.3v35.1h-58.3zM737.7 435.8h55.5v35.1h-55.5zM737.7 472.4h48.5v35.1h-48.5zM737.7 508.9h40.6v35.1h-40.6zM737.7 545.5h32.3v35.1h-32.3zM737.7 582.1h24.0v35.1h-24.0zM737.7 618.7h16.7v10.5h-16.7z"/>
<path d="M392.3 72.3V11.3M737.7 446.2H799.5" stroke="#029e73" stroke-width="5" stroke-dasharray="17.5 7.3" fill="none"/>
<path d="M175.5 121.7V630.5M174.2 629.2H688.1M174.2 72.3H688.1M737.7 121.7V630.5M175.5 629.2v10.8M175.5 72.3v10.8M345.9 629.2v10.8M345.9 72.3v10.8M516.4 629.2v10.8M516.4 72.3v10.8M686.8 629.2v10.8M686.8 72.3v10.8M175.5 565.9h-10.8M737.7 565.9h-10.8M175.5 439.4h-10.8M737.7 439.4h-10.8M175.5 312.8h-10.8M737.7 312.8h-10.8M175.5 186.3h-10.8M737.7 186.3h-10.8" stroke="#000" stroke-width="2.6" fill="none"/>
<text transform="translate(127.69,710.21) rotate(-45)" font-size="29.17" >−10</text>
<text transform="translate(311.25,697.08) rotate(-45)" font-size="29.17" >−8</text>
<text transform="translate(481.68,697.08) rotate(-45)" font-size="29.17" >−6</text>
<text transform="translate(652.11,697.08) rotate(-45)" font-size="29.17" >−4</text>
<text transform="translate(106.19,614.05) rotate(-45)" font-size="29.17" >−20</text>
<text transform="translate(136.60,457.09) rotate(-45)" font-size="29.17" >0</text>
<text transform="translate(123.47,343.66) rotate(-45)" font-size="29.17" >20</text>
<text transform="translate(123.47,217.11) rotate(-45)" font-size="29.17" >40</text>
<circle cx="392.3" cy="446.2" r="18.4" fill="#029e73" stroke="#fff" stroke-width="6"/>
<rect x="457.1" y="141.1" width="212.1" height="66.0" rx="5" fill="#fff" fill-opacity="0.5"/>
<circle cx="508.6" cy="171.3" r="18.4" fill="#029e73" stroke="#fff" stroke-width="6"/>
<text x="573.7" y="184.2" font-size="36.1">MAP</text>
<text x="428.8" y="753.4" font-size="36.1" text-anchor="middle"><tspan class="i">Lat</tspan><tspan class="i" font-size="25.3" dy="5.4">source</tspan></text><text x="428.8" y="796.2" font-size="36.1" text-anchor="middle"><tspan>[°]</tspan></text><text transform="translate(26.8,377.9) rotate(-90)" font-size="36.1" text-anchor="middle"><tspan>Δ</tspan><tspan class="i">t</tspan><tspan class="i" font-size="25.3" dy="6.5">source</tspan></text><text transform="translate(69.5,377.9) rotate(-90)" font-size="36.1" text-anchor="middle"><tspan>[s]</tspan></text>
<g font-weight="bold"><text transform="translate(4.0,37.6) scale(1.19,1)" font-size="49.7">(</text><text x="29.9" y="35.0" font-size="46.0">a</text><text transform="translate(60.0,37.6) scale(1.19,1)" font-size="49.7">)</text></g>
<!-- panel b -->
<clipPath id="clip1"><rect x="1042.6" y="123.0" width="511.6" height="510.0"/></clipPath>
<rect x="1042.6" y="123.0" width="511.6" height="510.0" fill="#f5f5f5"/>
<g clip-path="url(#clip1)"><g transform="matrix(5.1160 0 0 -3.0357 1042.60 633.00)" class="hx">
<path fill="#a5cd90" stroke="#a5cd90" d="M-2 4l-1 1 0 2 1 1 0 2-1 1 0 2 1 1 0 2-1 1 0 2 1 1 0 2-1 1 0 2 1 1 0 2-1 1 0 2 1 1 0 2-1 1 0 2 1 1 0 2-1 1 0 2 1 1 0 2-1 1 0 2 1 1 0 2-1 1 0 2 1 1 0 2-1 1 0 2 1 1 0 2 1 1 0 2 1 1 0 2 1 1 0 2-1 1 0 2 1 1 0 2 1 1 0 2-1 1 0 2 1 1 1-1 1 1 0 2-1 1-1-1-1 1 0 2 1 1 0 2 1 1 0 2 1 1 0 2 1 1 0 2-1 1 0 2 1 1 1-1 1 1 0 2-1 1 0 2 1 1 1-1 1 1 0 2 1 1 0 2 1 1 0 2-1 1 0 2 1 1 0 2 1 1 0 2 1 1 0 2-1 1 0 2 1 1 0 2 1 1 0 2 1 1 1-1 1 1 0 2 1 1 0 2 1 1 0 2 1 1 0 2 1 1 0 2 1 1 0 2-1 1 0 2 1 1 1-1 0-2 1-1 1 1 0 2 1 1 1-1 1 1 0 2 1 1 1-1 1 1 0 2-1 1 0 2 1 1 0 2-1 1 0 2 1 1 0 2-1 1 0 2 1 1 1-1 1 1 1-1 1 1 1-1 1 1 1-1 1 1 1-1 1 1 1-1 1 1 1-1 1 1 1-1 1 1 1-1 1 1 1-1 1 1 1-1 1 1 1-1 1 1 1-1 1 1 1-1 1 1 1-1 1 1 1-1 1 1 1-1 1 1 1-1 1 1 1-1 1 1 1-1 1 1 1-1 1 1 1-1 1 1 1-1 0-2 1-1 1 1 0 2 1 1 1-1 0-2-1-1 0-2 1-1 0-2 1-1 0-2 1-1 0-2 1-1 1 1 0 2-1 1 0 2 1 1 0 2 1 1 1-1 0-2 1-1 0-2-1-1 0-2 1-1 1 1 1-1 1 1 1-1 0-2 1-1 0-2-1-1 0-2 1-1 0-2 1-1 1 1 1-1 1 1 0 2-1 1 0 2 1 1 1-1 0-2 1-1 0-2-1-1 0-2 1-1 0-2-1-1 0-2 1-1 0-2 1-1 1 1 0 2-1 1 0 2 1 1 1-1 0-2 1-1 0-2 1-1 0-2 1-1 0-2-1-1 0-2-1-1 0-2 1-1 1 1 0 2 1 1 1-1 0-2-1-1 0-2 1-1 0-2-1-1 0-2 1-1 0-2-1-1 0-2 1-1 0-2-1-1 0-2 1-1 0-2-1-1 0-2 1-1 0-2-1-1 0-2 1-1 0-2-1-1 0-2 1-1 0-2-1-1-1 1-1-1 0-2 1-1 1 1 1-1 0-2-1-1-1 1-1-1-1 1-1-1 0-2 1-1 1 1 1-1 0-2 1-1 0-2-1-1 0-2 1-1 0-2-1-1-1 1 0 2-1 1-1-1-1 1-1-1 0-2-1-1 0-2 1-1 1 1 0 2 1 1 1-1 0-2 1-1 0-2 1-1 0-2-1-1 0-2-1-1-1 1-1-1 0-2-1-1 0-2-1-1 0-2-1-1 0-2-1-1 0-2 1-1 0-2-1-1-1 1 0 2-1 1-1-1 0-2 1-1 0-2 1-1 1 1 1-1 0-2-1-1 0-2 1-1 0-2-1-1 0-2 1-1 0-2-1-1-1 1-1-1 0-2-1-1 0-2 1-1 0-2-1-1-1 1-1-1-1 1-1-1 0-2-1-1 0-2-1-1 0-2-1-1 0-2-1-1-1 1 0 2 1 1 0 2 1 1 0 2-1 1-1-1 0-2-1-1 0-2-1-1 0-2 1-1 0-2 1-1 0-2 1-1 0-2-1-1-1 1-1-1-1 1-1-1-1 1-1-1-1 1-1-1-1 1-1-1-1 1-1-1-1 1-1-1-1 1-1-1-1 1-1-1-1 1-1-1-1 1-1-1-1 1-1-1-1 1-1-1-1 1-1-1-1 1-1-1-1 1-1-1-1 1-1-1-1 1-1-1-1 1-1-1-1 1-1-1-1 1-1-1-1 1-1-1-1 1-1-1-1 1-1-1-1 1-1-1-1 1-1-1-1 1-1-1-1 1-1-1-1 1-1-1-1 1-1-1-1 1-1-1-1 1-1-1-1 1-1-1-1 1-1-1-1 1-1-1-1 1-1-1-1 1-1-1-1 1-1-1-1 1-1-1-1 1-1-1-1 1-1-1-1 1-1-1-1 1-1-1-1 1 0 2 1 1 0 2-1 1 0 2 1 1zM30 160l1 1 0 2-1 1-1-1 0-2zM26 160l0-2 1-1 1 1 0 2-1 1zM20 142l1 1 0 2-1 1-1-1 0-2zM68 166l0-2 1-1 1 1 0 2-1 1zM76 2l1-1 0-2 1-1 1 1 0 2-1 1 0 2-1 1-1-1zM90 20l1-1 1 1 0 2 1 1 0 2-1 1-1-1-1 1-1-1 0-2 1-1zM86 16l0-2 1-1 1 1 0 2 1 1 0 2-1 1-1-1 0-2zM78 10l0-2 1-1 0-2 1-1 1 1 0 2-1 1 0 2-1 1zM82 -4l0 2-1 1-1-1 0-2 1-1zM73 179l1-1 1 1 0 2-1 1-1-1zM96 148l-1 1-1-1 0-2 1-1 1 1zM95 59l0 2-1 1-1-1 0-2 1-1zM96 50l0 2-1 1-1-1 0-2 1-1zM90 152l1-1 1 1 0 2-1 1-1-1zM102 62l0 2-1 1-1-1 0-2 1-1zM81 181l1 1 1-1 0-2-1-1-1 1zM85 185l1-1 0-2-1-1-1 1 0 2zM92 2l1-1 0-2-1-1-1 1 0 2zM95 19l1 1 1-1 0-2-1-1-1 1zM102 160l0-2 1-1 0-2 1-1 0-2-1-1-1 1 0 2-1 1 0 2-1 1 0 2 1 1z"/>
<path fill="#98c691" stroke="#98c691" d="M3 -7l-1-1-1 1-1-1-1 1-1-1-1 1 0 2 1 1 0 2-1 1 0 2 1 1 0 2-1 1 0 2 1 1 0 2-1 1 0 2 1 1 0 2-1 1 0 2 1 1 0 2-1 1 0 2 1 1 0 2-1 1 0 2 1 1 0 2-1 1 0 2 1 1 0 2-1 1 0 2 1 1 0 2-1 1 0 2 1 1 0 2-1 1 0 2 1 1 0 2-1 1 0 2 1 1 0 2 1 1 0 2 1 1 0 2 1 1 0 2-1 1 0 2 1 1 0 2 1 1 0 2-1 1 0 2 1 1 1-1 1 1 0 2-1 1 0 2 1 1 0 2-1 1 0 2 1 1 0 2 1 1 0 2 1 1 0 2 1 1 0 2 1 1 0 2 1 1 0 2 1 1 0 2 1 1 0 2-1 1 0 2 1 1 0 2 1 1 0 2 1 1 0 2 1 1 0 2 1 1 0 2 1 1 1-1 1 1 0 2-1 1 0 2 1 1 1-1 0-2 1-1 1 1 0 2-1 1 0 2 1 1 0 2 1 1 0 2 1 1 1-1 1 1 1-1 1 1 0 2 1 1 1-1 1 1 0 2 1 1 0 2-1 1 0 2 1 1 0 2-1 1 0 2 1 1 0 2-1 1 0 2 1 1 0 2 1 1 1-1 0-2 1-1 1 1 1-1 1 1 0 2 1 1 0 2 1 1 1-1 0-2 1-1 0-2 1-1 1 1 0 2 1 1 1-1 1 1 1-1 1 1 1-1 1 1 0 2 1 1 1-1 0-2 1-1 0-2 1-1 1 1 0 2 1 1 1-1 1 1 0 2 1 1 1-1 0-2-1-1 0-2-1-1 0-2 1-1 1 1 1-1 1 1 0 2-1 1 0 2 1 1 1-1 0-2 1-1 0-2 1-1 1 1 1-1 1 1 1-1 1 1 1-1 0-2 1-1 1 1 0 2-1 1 0 2 1 1 1-1 0-2 1-1 1 1 1-1 0-2-1-1-1 1-1-1 0-2-1-1 0-2 1-1 1 1 0 2 1 1 1-1 0-2-1-1 0-2 1-1 1 1 0 2 1 1 1-1 0-2 1-1 0-2-1-1 0-2 1-1 1 1 0 2 1 1 1-1 0-2-1-1 0-2 1-1 1 1 1-1 0-2-1-1 0-2 1-1 0-2 1-1 1 1 1-1 1 1 1-1 0-2 1-1 0-2-1-1-1 1 0 2-1 1-1-1 0-2-1-1 0-2 1-1 1 1 1-1 0-2 1-1 0-2-1-1 0-2 1-1 1 1 0 2 1 1 1-1 1 1 1-1 0-2-1-1 0-2 1-1 0-2-1-1 0-2 1-1 0-2-1-1-1 1-1-1 0-2 1-1 1 1 1-1 0-2 1-1 0-2-1-1 0-2-1-1-1 1 0 2-1 1-1-1 0-2-1-1 0-2 1-1 1 1 1-1 0-2 1-1 1 1 1-1 0-2-1-1-1 1-1-1-1 1 0 2-1 1-1-1 0-2 1-1 0-2 1-1 0-2-1-1 0-2-1-1 0-2 1-1 0-2-1-1-1 1-1-1 0-2 1-1 0-2 1-1 0-2-1-1-1 1-1-1 0-2 1-1 0-2-1-1 0-2 1-1 0-2-1-1-1 1-1-1-1 1-1-1 0-2-1-1 0-2-1-1 0-2-1-1 0-2 1-1 0-2-1-1 0-2-1-1 0-2-1-1-1 1-1-1 0-2 1-1 1 1 1-1 0-2-1-1-1 1-1-1-1 1-1-1 0-2 1-1 0-2-1-1 0-2-1-1-1 1-1-1 0-2-1-1 0-2-1-1-1 1-1-1-1 1-1-1 0-2 1-1 0-2 1-1 0-2-1-1-1 1 0 2-1 1-1-1 0-2-1-1 0-2-1-1-1 1-1-1-1 1-1-1 0-2 1-1 1 1 1-1 1 1 1-1 0-2-1-1-1 1-1-1-1 1-1-1-1 1-1-1 0-2-1-1 0-2-1-1-1 1-1-1-1 1-1-1-1 1-1-1-1 1-1-1-1 1-1-1-1 1-1-1-1 1-1-1-1 1-1-1-1 1-1-1-1 1-1-1-1 1-1-1-1 1-1-1-1 1-1-1-1 1-1-1-1 1-1-1-1 1-1-1-1 1-1-1-1 1-1-1-1 1-1-1-1 1-1-1-1 1-1-1-1 1-1-1-1 1-1-1-1 1-1-1-1 1-1-1zM39 179l-1-1 0-2 1-1 1 1 0 2zM48 172l0-2 1-1 1 1 0 2 1 1 0 2-1 1-1-1 0-2zM69 169l1 1 0 2-1 1-1-1 0-2zM70 166l-1 1-1-1 0-2 1-1 1 1zM57 -5l1 1 1-1 0-2-1-1-1 1zM83 167l1-1 0-2-1-1-1 1 0 2zM94 88l1 1 1-1 0-2-1-1-1 1z"/>
<path fill="#8ec291" stroke="#8ec291" d="M-2 4l-1 1 0 2 1 1 0 2-1 1 0 2 1 1 0 2-1 1 0 2 1 1 0 2-1 1 0 2 1 1 0 2-1 1 0 2 1 1 0 2-1 1 0 2 1 1 0 2-1 1 0 2 1 1 0 2-1 1 0 2 1 1 0 2-1 1 0 2 1 1 0 2-1 1 0 2 1 1 0 2 1 1 0 2 1 1 0 2 1 1 0 2-1 1 0 2 1 1 0 2 1 1 0 2 1 1 0 2 1 1 0 2-1 1 0 2 1 1 0 2 1 1 0 2 1 1 0 2 1 1 0 2 1 1 0 2-1 1 0 2 1 1 1-1 1 1 0 2 1 1 0 2-1 1 0 2 1 1 0 2 1 1 0 2 1 1 0 2 1 1 0 2 1 1 1-1 1 1 0 2-1 1 0 2 1 1 1-1 1 1 0 2 1 1 1-1 1 1 0 2 1 1 0 2 1 1 1-1 1 1 0 2 1 1 1-1 1 1 0 2 1 1 0 2 1 1 0 2-1 1 0 2 1 1 0 2 1 1 0 2 1 1 1-1 1 1 1-1 1 1 1-1 0-2 1-1 1 1 1-1 1 1 0 2 1 1 1-1 0-2 1-1 1 1 0 2-1 1 0 2 1 1 1-1 0-2 1-1 0-2 1-1 1 1 0 2 1 1 0 2-1 1 0 2 1 1 1-1 0-2 1-1 0-2 1-1 1 1 1-1 1 1 1-1 1 1 1-1 0-2 1-1 0-2 1-1 1 1 0 2 1 1 1-1 0-2 1-1 0-2 1-1 1 1 0 2 1 1 1-1 1 1 1-1 0-2-1-1 0-2-1-1 0-2 1-1 0-2 1-1 1 1 1-1 0-2 1-1 1 1 0 2-1 1 0 2 1 1 1-1 1 1 1-1 0-2 1-1 0-2-1-1-1 1-1-1 0-2 1-1 1 1 1-1 0-2-1-1 0-2 1-1 1 1 1-1 0-2 1-1 1 1 1-1 1 1 1-1 0-2-1-1 0-2-1-1 0-2 1-1 1 1 1-1 0-2 1-1 0-2-1-1 0-2 1-1 0-2 1-1 0-2-1-1 0-2 1-1 0-2-1-1 0-2-1-1 0-2-1-1 0-2 1-1 0-2-1-1 0-2-1-1 0-2-1-1 0-2-1-1 0-2 1-1 1 1 1-1 0-2-1-1-1 1-1-1-1 1-1-1 0-2 1-1 1 1 1-1 0-2-1-1-1 1-1-1 0-2 1-1 0-2-1-1 0-2-1-1 0-2-1-1 0-2 1-1 0-2-1-1-1 1 0 2-1 1-1-1 0-2-1-1 0-2-1-1 0-2-1-1 0-2 1-1 0-2-1-1-1 1-1-1 0-2-1-1 0-2-1-1 0-2 1-1 0-2-1-1-1 1 0 2-1 1-1-1 0-2-1-1 0-2-1-1 0-2-1-1-1 1-1-1 0-2 1-1 0-2-1-1-1 1-1-1-1 1-1-1 0-2 1-1 0-2-1-1-1 1 0 2-1 1-1-1 0-2 1-1 0-2-1-1 0-2 1-1 0-2-1-1-1 1-1-1 0-2-1-1 0-2-1-1-1 1-1-1 0-2-1-1-1 1-1-1-1 1-1-1-1 1-1-1-1 1-1-1-1 1-1-1-1 1-1-1-1 1-1-1-1 1-1-1-1 1-1-1-1 1-1-1-1 1-1-1-1 1-1-1-1 1-1-1-1 1-1-1-1 1-1-1-1 1-1-1-1 1-1-1-1 1-1-1-1 1-1-1-1 1-1-1-1 1-1-1-1 1-1-1-1 1-1-1-1 1-1-1-1 1-1-1-1 1 0 2 1 1 0 2-1 1 0 2 1 1zM35 161l1-1 1 1 0 2-1 1-1-1-1 1-1-1 0-2 1-1zM72 154l1 1 1-1 0-2-1-1-1 1zM90 124l1 1 1-1 0-2-1-1-1 1z"/>
<path fill="#85bd91" stroke="#85bd91" d="M-2 -2l-1 1 0 2 1 1 0 2-1 1 0 2 1 1 0 2-1 1 0 2 1 1 0 2-1 1 0 2 1 1 0 2-1 1 0 2 1 1 0 2-1 1 0 2 1 1 0 2-1 1 0 2 1 1 0 2-1 1 0 2 1 1 0 2-1 1 0 2 1 1 0 2-1 1 0 2 1 1 0 2 1 1 0 2-1 1 0 2 1 1 0 2 1 1 0 2 1 1 0 2-1 1 0 2 1 1 0 2 1 1 0 2 1 1 0 2 1 1 0 2 1 1 0 2 1 1 0 2 1 1 0 2 1 1 0 2-1 1 0 2 1 1 0 2 1 1 0 2 1 1 0 2 1 1 0 2 1 1 0 2 1 1 0 2 1 1 0 2 1 1 0 2 1 1 1-1 1 1 1-1 1 1 0 2-1 1 0 2 1 1 1-1 1 1 0 2 1 1 0 2 1 1 0 2 1 1 1-1 1 1 1-1 1 1 0 2 1 1 0 2 1 1 0 2-1 1 0 2 1 1 1-1 0-2 1-1 1 1 1-1 1 1 1-1 1 1 0 2 1 1 0 2 1 1 0 2 1 1 1-1 0-2-1-1 0-2 1-1 1 1 0 2 1 1 1-1 1 1 1-1 1 1 1-1 1 1 0 2 1 1 1-1 0-2 1-1 1 1 1-1 1 1 1-1 0-2 1-1 0-2 1-1 1 1 0 2 1 1 1-1 0-2 1-1 1 1 1-1 0-2 1-1 1 1 1-1 0-2 1-1 0-2 1-1 1 1 1-1 0-2 1-1 1 1 1-1 0-2 1-1 0-2 1-1 0-2 1-1 1 1 1-1 0-2-1-1 0-2 1-1 1 1 1-1 1 1 1-1 0-2 1-1 0-2 1-1 0-2 1-1 0-2-1-1 0-2 1-1 0-2-1-1 0-2-1-1 0-2 1-1 0-2-1-1 0-2-1-1-1 1-1-1 0-2-1-1 0-2 1-1 1 1 1-1 0-2-1-1 0-2-1-1-1 1-1-1 0-2-1-1 0-2 1-1 0-2-1-1 0-2-1-1 0-2-1-1 0-2 1-1 0-2-1-1 0-2-1-1 0-2-1-1-1 1-1-1 0-2-1-1 0-2 1-1 0-2-1-1-1 1-1-1 0-2 1-1 0-2-1-1 0-2-1-1 0-2-1-1-1 1-1-1 0-2-1-1 0-2-1-1-1 1-1-1 0-2-1-1 0-2-1-1 0-2-1-1-1 1-1-1 0-2-1-1 0-2-1-1-1 1-1-1 0-2-1-1 0-2-1-1 0-2-1-1 0-2-1-1 0-2-1-1 0-2-1-1-1 1-1-1 0-2-1-1-1 1-1-1-1 1-1-1-1 1-1-1-1 1-1-1-1 1-1-1-1 1-1-1-1 1-1-1-1 1-1-1-1 1-1-1-1 1-1-1-1 1-1-1-1 1-1-1-1 1-1-1-1 1-1-1-1 1-1-1-1 1-1-1-1 1-1-1-1 1-1-1-1 1-1-1-1 1-1-1-1 1-1-1-1 1-1-1-1 1-1-1-1 1 0 2 1 1zM84 98l0 2-1 1-1-1 0-2 1-1zM73 145l1 1 1-1 0-2-1-1-1 1z"/>
<path fill="#7bb991" stroke="#7bb991" d="M-1 -7l-1-1-1 1 0 2 1 1 0 2-1 1 0 2 1 1 0 2-1 1 0 2 1 1 0 2-1 1 0 2 1 1 0 2-1 1 0 2 1 1 0 2-1 1 0 2 1 1 0 2-1 1 0 2 1 1 0 2-1 1 0 2 1 1 0 2-1 1 0 2 1 1 0 2-1 1 0 2 1 1 0 2 1 1 0 2-1 1 0 2 1 1 0 2 1 1 0 2 1 1 0 2-1 1 0 2 1 1 0 2 1 1 0 2 1 1 0 2 1 1 0 2-1 1 0 2 1 1 1-1 1 1 0 2-1 1 0 2 1 1 0 2 1 1 0 2 1 1 0 2 1 1 0 2 1 1 0 2 1 1 0 2 1 1 0 2 1 1 0 2 1 1 0 2 1 1 0 2 1 1 0 2 1 1 1-1 1 1 0 2 1 1 0 2 1 1 0 2 1 1 1-1 1 1 1-1 1 1 0 2 1 1 0 2 1 1 1-1 1 1 0 2 1 1 0 2 1 1 1-1 1 1 0 2 1 1 1-1 1 1 1-1 1 1 1-1 1 1 0 2 1 1 1-1 1 1 1-1 0-2-1-1 0-2 1-1 1 1 0 2 1 1 0 2-1 1 0 2 1 1 1-1 1 1 1-1 0-2 1-1 0-2 1-1 1 1 1-1 1 1 1-1 1 1 0 2 1 1 1-1 0-2-1-1 0-2 1-1 1 1 0 2 1 1 1-1 0-2 1-1 0-2 1-1 1 1 1-1 1 1 1-1 0-2 1-1 1 1 1-1 0-2 1-1 0-2-1-1 0-2 1-1 1 1 1-1 1 1 1-1 0-2 1-1 0-2 1-1 0-2 1-1 1 1 1-1 0-2 1-1 0-2 1-1 0-2 1-1 0-2 1-1 0-2-1-1 0-2-1-1-1 1-1-1 0-2 1-1 0-2-1-1 0-2 1-1 0-2-1-1-1 1-1-1 0-2-1-1 0-2 1-1 0-2-1-1 0-2-1-1 0-2 1-1 0-2-1-1-1 1-1-1 0-2 1-1 0-2-1-1 0-2-1-1-1 1-1-1 0-2-1-1 0-2 1-1 0-2-1-1 0-2 1-1 0-2-1-1-1 1-1-1 0-2-1-1 0-2-1-1 0-2-1-1-1 1-1-1 0-2-1-1 0-2 1-1 0-2-1-1-1 1-1-1 0-2-1-1-1 1-1-1 0-2-1-1 0-2-1-1 0-2 1-1 0-2-1-1-1 1 0 2-1 1-1-1 0-2-1-1 0-2-1-1 0-2-1-1-1 1-1-1 0-2-1-1 0-2 1-1 0-2-1-1 0-2-1-1-1 1 0 2-1 1-1-1 0-2 1-1 0-2-1-1-1 1-1-1 0-2-1-1-1 1-1-1-1 1-1-1-1 1-1-1-1 1-1-1-1 1-1-1-1 1-1-1-1 1-1-1-1 1-1-1-1 1-1-1-1 1-1-1-1 1-1-1-1 1-1-1-1 1-1-1-1 1-1-1-1 1-1-1-1 1-1-1-1 1-1-1-1 1-1-1-1 1-1-1-1 1-1-1zM35 143l1-1 1 1 0 2-1 1-1-1zM48 148l0-2 1-1 1 1 0 2-1 1zM70 134l0 2-1 1-1-1 0-2 1-1zM79 97l1 1 0 2-1 1-1-1 0-2zM31 151l1 1 1-1 0-2-1-1-1 1z"/>
<path fill="#72b490" stroke="#72b490" d="M-3 1l1 1 0 2-1 1 0 2 1 1 0 2-1 1 0 2 1 1 0 2-1 1 0 2 1 1 0 2-1 1 0 2 1 1 0 2-1 1 0 2 1 1 0 2-1 1 0 2 1 1 0 2-1 1 0 2 1 1 0 2-1 1 0 2 1 1 0 2 1 1 0 2 1 1 0 2-1 1 0 2 1 1 0 2 1 1 0 2 1 1 0 2-1 1 0 2 1 1 0 2 1 1 0 2 1 1 0 2 1 1 0 2 1 1 0 2 1 1 0 2 1 1 0 2 1 1 0 2-1 1 0 2 1 1 0 2 1 1 0 2 1 1 0 2 1 1 1-1 1 1 0 2-1 1 0 2 1 1 1-1 0-2 1-1 1 1 0 2-1 1 0 2 1 1 1-1 1 1 0 2 1 1 0 2 1 1 0 2 1 1 1-1 1 1 0 2 1 1 1-1 1 1 0 2 1 1 0 2 1 1 1-1 1 1 0 2 1 1 1-1 0-2 1-1 1 1 0 2-1 1 0 2 1 1 1-1 0-2 1-1 1 1 0 2 1 1 1-1 1 1 1-1 1 1 1-1 1 1 0 2 1 1 1-1 1 1 1-1 1 1 1-1 1 1 1-1 0-2 1-1 1 1 0 2-1 1 0 2 1 1 1-1 0-2 1-1 0-2 1-1 1 1 1-1 0-2 1-1 1 1 1-1 0-2 1-1 1 1 1-1 0-2 1-1 0-2 1-1 1 1 1-1 1 1 1-1 0-2 1-1 0-2 1-1 1 1 1-1 0-2 1-1 1 1 1-1 0-2 1-1 0-2 1-1 1 1 1-1 0-2-1-1-1 1-1-1 0-2-1-1 0-2 1-1 1 1 1-1 0-2-1-1 0-2-1-1-1 1-1-1 0-2 1-1 0-2-1-1 0-2-1-1-1 1-1-1 0-2 1-1 0-2-1-1 0-2 1-1 0-2-1-1-1 1-1-1 0-2 1-1 0-2-1-1 0-2 1-1 0-2-1-1-1 1-1-1 0-2-1-1 0-2 1-1 0-2-1-1 0-2-1-1 0-2-1-1-1 1-1-1 0-2 1-1 0-2-1-1 0-2-1-1 0-2-1-1 0-2-1-1-1 1-1-1 0-2-1-1-1 1-1-1 0-2-1-1 0-2-1-1 0-2-1-1 0-2-1-1 0-2-1-1-1 1-1-1-1 1-1-1 0-2-1-1 0-2-1-1-1 1-1-1 0-2 1-1 0-2-1-1-1 1-1-1 0-2 1-1 0-2-1-1-1 1-1-1 0-2-1-1-1 1-1-1 0-2 1-1 0-2-1-1-1 1-1-1-1 1-1-1-1 1-1-1-1 1-1-1-1 1-1-1-1 1-1-1-1 1-1-1-1 1-1-1-1 1-1-1-1 1-1-1-1 1-1-1-1 1-1-1-1 1-1-1-1 1-1-1-1 1-1-1-1 1-1-1-1 1-1-1-1 1-1-1-1 1-1-1-1 1-1-1-1 1 0 2 1 1 0 2-1 1zM68 58l1 1 0 2-1 1-1-1 0-2z"/>
<path fill="#69b090" stroke="#69b090" d="M-1 -7l0 2-1 1 0 2-1 1 0 2 1 1 0 2-1 1 0 2 1 1 0 2-1 1 0 2 1 1 0 2-1 1 0 2 1 1 0 2-1 1 0 2 1 1 0 2-1 1 0 2 1 1 0 2-1 1 0 2 1 1 0 2-1 1 0 2 1 1 0 2 1 1 0 2 1 1 0 2-1 1 0 2 1 1 0 2 1 1 0 2-1 1 0 2 1 1 0 2 1 1 0 2-1 1 0 2 1 1 1-1 1 1 0 2-1 1 0 2 1 1 1-1 1 1 0 2 1 1 0 2-1 1 0 2 1 1 0 2 1 1 0 2 1 1 0 2 1 1 0 2-1 1 0 2 1 1 1-1 0-2 1-1 1 1 0 2 1 1 0 2 1 1 0 2-1 1 0 2 1 1 1-1 1 1 0 2 1 1 0 2 1 1 1-1 1 1 0 2-1 1 0 2 1 1 1-1 1 1 0 2 1 1 0 2 1 1 1-1 1 1 1-1 1 1 1-1 1 1 1-1 1 1 0 2-1 1-1-1-1 1 0 2 1 1 1-1 1 1 1-1 1 1 0 2 1 1 1-1 0-2 1-1 1 1 0 2 1 1 1-1 1 1 1-1 1 1 0 2 1 1 1-1 0-2 1-1 1 1 0 2 1 1 1-1 1 1 1-1 0-2 1-1 0-2 1-1 1 1 1-1 1 1 0 2 1 1 1-1 0-2 1-1 0-2 1-1 1 1 1-1 0-2 1-1 1 1 0 2 1 1 1-1 0-2-1-1 0-2 1-1 1 1 1-1 1 1 1-1 0-2 1-1 1 1 1-1 0-2-1-1 0-2 1-1 1 1 1-1 1 1 1-1 0-2-1-1 0-2 1-1 0-2 1-1 0-2 1-1 0-2-1-1-1 1 0 2-1 1-1-1 0-2 1-1 0-2 1-1 0-2-1-1-1 1-1-1 0-2-1-1 0-2 1-1 0-2-1-1 0-2-1-1 0-2-1-1 0-2-1-1 0-2 1-1 0-2-1-1 0-2-1-1 0-2-1-1 0-2-1-1 0-2-1-1 0-2 1-1 0-2-1-1 0-2-1-1 0-2-1-1 0-2-1-1-1 1-1-1 0-2-1-1 0-2-1-1 0-2 1-1 0-2-1-1-1 1-1-1-1 1-1-1 0-2-1-1 0-2-1-1 0-2-1-1-1 1-1-1 0-2-1-1 0-2-1-1-1 1-1-1 0-2-1-1-1 1-1-1 0-2 1-1 0-2-1-1-1 1-1-1 0-2 1-1 0-2-1-1-1 1 0 2-1 1-1-1 0-2 1-1 0-2-1-1 0-2-1-1-1 1-1-1-1 1-1-1 0-2-1-1 0-2-1-1-1 1-1-1-1 1-1-1-1 1-1-1-1 1-1-1-1 1-1-1-1 1-1-1-1 1-1-1-1 1-1-1-1 1-1-1-1 1-1-1-1 1-1-1-1 1-1-1-1 1-1-1-1 1-1-1-1 1-1-1-1 1-1-1zM35 -5l1 1 1-1 0-2-1-1-1 1z"/>
<path fill="#61aa90" stroke="#61aa90" d="M1 1l-1 1 0 2-1 1-1-1-1 1 0 2 1 1 0 2-1 1 0 2 1 1 1-1 1 1 0 2-1 1-1-1-1 1 0 2 1 1 0 2-1 1 0 2 1 1 0 2-1 1 0 2 1 1 0 2 1 1 0 2-1 1 0 2 1 1 0 2-1 1 0 2 1 1 0 2 1 1 0 2 1 1 0 2-1 1 0 2 1 1 1-1 1 1 0 2-1 1 0 2-1 1 0 2 1 1 1-1 1 1 0 2-1 1 0 2 1 1 0 2 1 1 0 2 1 1 0 2 1 1 0 2 1 1 0 2 1 1 0 2-1 1 0 2 1 1 1-1 1 1 0 2 1 1 0 2 1 1 0 2 1 1 0 2 1 1 0 2 1 1 1-1 1 1 1-1 1 1 0 2-1 1 0 2-1 1 0 2 1 1 1-1 1 1 1-1 1 1 0 2 1 1 1-1 1 1 0 2 1 1 1-1 1 1 0 2 1 1 1-1 1 1 0 2 1 1 1-1 1 1 1-1 1 1 1-1 1 1 0 2-1 1 0 2 1 1 1-1 1 1 1-1 0-2 1-1 1 1 0 2 1 1 1-1 0-2 1-1 1 1 1-1 1 1 0 2 1 1 1-1 0-2 1-1 1 1 0 2 1 1 1-1 0-2-1-1 0-2 1-1 1 1 1-1 0-2 1-1 1 1 1-1 1 1 1-1 1 1 1-1 0-2 1-1 1 1 0 2 1 1 1-1 0-2-1-1 0-2 1-1 1 1 1-1 0-2 1-1 0-2 1-1 1 1 1-1 0-2 1-1 0-2-1-1 0-2 1-1 0-2-1-1 0-2 1-1 0-2-1-1-1 1-1-1 0-2-1-1 0-2 1-1 0-2-1-1 0-2 1-1 0-2-1-1 0-2-1-1 0-2-1-1 0-2-1-1 0-2-1-1 0-2 1-1 0-2-1-1 0-2-1-1-1 1-1-1 0-2-1-1 0-2-1-1 0-2 1-1 0-2-1-1 0-2-1-1-1 1-1-1 0-2-1-1 0-2-1-1 0-2-1-1 0-2-1-1 0-2-1-1-1 1-1-1-1 1-1-1 0-2 1-1 0-2-1-1-1 1-1-1-1 1-1-1 0-2-1-1 0-2-1-1 0-2-1-1-1 1-1-1 0-2-1-1 0-2-1-1 0-2-1-1 0-2-1-1-1 1-1-1 0-2 1-1 0-2-1-1-1 1-1-1 0-2-1-1-1 1-1-1 0-2-1-1-1 1-1-1-1 1-1-1-1 1-1-1-1 1-1-1-1 1-1-1-1 1-1-1-1 1-1-1-1 1-1-1-1 1-1-1-1 1-1-1-1 1-1-1-1 1-1-1-1 1-1-1-1 1-1-1-1 1 0 2-1 1 0 2 1 1zM-3 -1l0 2 1 1 1-1 0-2-1-1zM66 56l0 2 1 1 1-1 0-2-1-1z"/>
<path fill="#5aa690" stroke="#5aa690" d="M2 4l-1 1 0 2-1 1 0 2-1 1 0 2 1 1 0 2-1 1-1-1-1 1 0 2 1 1 0 2 1 1 0 2-1 1 0 2 1 1 0 2-1 1 0 2 1 1 0 2-1 1 0 2 1 1 0 2-1 1 0 2 1 1 1-1 1 1 0 2-1 1 0 2 1 1 0 2 1 1 0 2 1 1 0 2-1 1 0 2 1 1 0 2 1 1 0 2 1 1 0 2-1 1 0 2 1 1 1-1 1 1 0 2-1 1 0 2 1 1 1-1 1 1 0 2-1 1 0 2 1 1 0 2 1 1 0 2 1 1 0 2 1 1 1-1 1 1 0 2-1 1 0 2 1 1 0 2 1 1 1-1 0-2-1-1 0-2 1-1 1 1 0 2 1 1 0 2-1 1 0 2 1 1 1-1 0-2 1-1 1 1 0 2 1 1 0 2-1 1-1-1-1 1 0 2 1 1 1-1 1 1 0 2 1 1 1-1 1 1 0 2 1 1 1-1 1 1 0 2 1 1 1-1 1 1 1-1 1 1 0 2 1 1 0 2 1 1 1-1 0-2 1-1 1 1 0 2 1 1 1-1 1 1 1-1 1 1 1-1 1 1 0 2 1 1 1-1 1 1 1-1 0-2 1-1 1 1 0 2 1 1 1-1 1 1 1-1 0-2 1-1 0-2 1-1 1 1 1-1 1 1 1-1 1 1 1-1 0-2 1-1 0-2 1-1 1 1 1-1 0-2-1-1 0-2 1-1 1 1 0 2 1 1 1-1 1 1 1-1 0-2 1-1 0-2 1-1 0-2 1-1 0-2-1-1 0-2-1-1 0-2 1-1 0-2-1-1 0-2-1-1 0-2-1-1 0-2-1-1 0-2 1-1 0-2-1-1-1 1-1-1 0-2-1-1 0-2 1-1 0-2-1-1 0-2-1-1 0-2 1-1 0-2-1-1 0-2-1-1 0-2-1-1 0-2-1-1 0-2-1-1 0-2-1-1-1 1-1-1 0-2-1-1 0-2-1-1-1 1-1-1 0-2-1-1 0-2 1-1 1 1 1-1 0-2-1-1-1 1-1-1-1 1-1-1 0-2-1-1 0-2-1-1-1 1-1-1 0-2-1-1 0-2-1-1-1 1-1-1 0-2 1-1 0-2-1-1-1 1-1-1 0-2-1-1-1 1 0 2-1 1-1-1 0-2 1-1 0-2-1-1-1 1-1-1 0-2 1-1 0-2-1-1-1 1-1-1-1 1-1-1 0-2 1-1 0-2-1-1-1 1-1-1 0-2-1-1 0-2-1-1-1 1-1-1-1 1-1-1-1 1-1-1-1 1-1-1-1 1-1-1-1 1-1-1-1 1-1-1-1 1-1-1-1 1-1-1-1 1-1-1-1 1-1-1-1 1-1-1-1 1-1-1-1 1 0 2 1 1 0 2-1 1 0 2 1 1zM29 121l0-2 1-1 1 1 0 2-1 1zM69 79l1 1 1-1 0-2-1-1-1 1z"/>
<path fill="#53a190" stroke="#53a190" d="M5 -1l0 2-1 1 0 2-1 1-1-1-1 1 0 2-1 1 0 2 1 1 1-1 0-2 1-1 1 1 0 2-1 1 0 2-1 1 0 2-1 1 0 2-1 1 0 2-1 1 0 2-1 1 0 2 1 1 1-1 1 1 0 2 1 1 0 2-1 1 0 2-1 1 0 2-1 1 0 2 1 1 0 2 1 1 0 2 1 1 0 2-1 1 0 2 1 1 0 2 1 1 0 2 1 1 0 2 1 1 0 2-1 1 0 2 1 1 0 2 1 1 0 2 1 1 0 2 1 1 0 2 1 1 0 2 1 1 1-1 1 1 1-1 1 1 0 2-1 1 0 2 1 1 0 2-1 1 0 2 1 1 1-1 1 1 1-1 1 1 0 2-1 1 0 2 1 1 1-1 1 1 0 2 1 1 0 2 1 1 1-1 1 1 1-1 1 1 0 2-1 1 0 2 1 1 0 2 1 1 1-1 0-2 1-1 1 1 0 2 1 1 0 2 1 1 0 2 1 1 1-1 1 1 1-1 1 1 1-1 1 1 0 2-1 1 0 2 1 1 1-1 0-2 1-1 1 1 1-1 1 1 1-1 1 1 0 2 1 1 1-1 0-2 1-1 1 1 1-1 1 1 0 2 1 1 1-1 0-2 1-1 1 1 1-1 0-2 1-1 1 1 1-1 0-2 1-1 1 1 1-1 1 1 1-1 0-2 1-1 0-2 1-1 1 1 0 2 1 1 1-1 0-2 1-1 0-2 1-1 0-2 1-1 0-2-1-1 0-2 1-1 0-2-1-1 0-2-1-1-1 1-1-1 0-2 1-1 1 1 1-1 0-2-1-1-1 1-1-1 0-2-1-1 0-2-1-1 0-2 1-1 0-2-1-1 0-2-1-1 0-2 1-1 0-2-1-1 0-2-1-1-1 1-1-1 0-2 1-1 0-2-1-1 0-2 1-1 0-2-1-1-1 1-1-1 0-2 1-1 0-2-1-1-1 1-1-1 0-2-1-1 0-2-1-1-1 1-1-1 0-2-1-1 0-2-1-1 0-2-1-1-1 1-1-1 0-2-1-1 0-2-1-1-1 1-1-1-1 1-1-1 0-2-1-1 0-2-1-1 0-2-1-1-1 1-1-1-1 1-1-1 0-2 1-1 0-2-1-1 0-2-1-1 0-2-1-1-1 1-1-1-1 1-1-1 0-2 1-1 0-2-1-1-1 1-1-1 0-2-1-1-1 1-1-1 0-2-1-1 0-2-1-1-1 1-1-1-1 1-1-1-1 1-1-1-1 1-1-1-1 1-1-1-1 1-1-1-1 1-1-1-1 1 0 2-1 1-1-1-1 1 0 2zM9 -1l0 2-1 1-1-1 0-2 1-1zM-2 32l0 2 1 1 1-1 0-2-1-1zM9 89l0 2 1 1 1-1 0-2-1-1z"/>
<path fill="#4d9c90" stroke="#4d9c90" d="M6 4l-1 1 0 2-1 1 0 2 1 1 0 2-1 1 0 2-1 1 0 2-1 1-1-1-1 1 0 2 1 1 0 2 1 1 0 2 1 1 0 2-1 1 0 2-1 1 0 2 1 1 0 2-1 1 0 2 1 1 1-1 1 1 0 2-1 1 0 2 1 1 0 2-1 1 0 2 1 1 0 2-1 1 0 2 1 1 0 2 1 1 0 2 1 1 1-1 1 1 0 2-1 1 0 2-1 1 0 2 1 1 1-1 1 1 0 2-1 1 0 2 1 1 1-1 1 1 1-1 1 1 0 2 1 1 0 2-1 1 0 2 1 1 1-1 1 1 1-1 1 1 0 2-1 1 0 2 1 1 0 2-1 1 0 2 1 1 1-1 0-2 1-1 1 1 1-1 1 1 0 2-1 1-1-1-1 1 0 2 1 1 1-1 1 1 0 2 1 1 1-1 1 1 0 2 1 1 0 2-1 1 0 2 1 1 1-1 0-2 1-1 1 1 0 2 1 1 1-1 1 1 0 2 1 1 1-1 1 1 0 2 1 1 1-1 1 1 1-1 1 1 0 2 1 1 1-1 1 1 1-1 1 1 1-1 0-2 1-1 1 1 0 2 1 1 1-1 0-2 1-1 1 1 0 2 1 1 1-1 0-2 1-1 0-2 1-1 0-2 1-1 1 1 1-1 1 1 1-1 0-2 1-1 1 1 0 2 1 1 1-1 0-2-1-1 0-2 1-1 0-2 1-1 0-2 1-1 1 1 1-1 0-2 1-1 0-2-1-1-1 1-1-1 0-2 1-1 0-2-1-1 0-2 1-1 0-2-1-1 0-2-1-1 0-2-1-1 0-2-1-1 0-2 1-1 0-2-1-1 0-2-1-1 0-2-1-1 0-2-1-1 0-2 1-1 0-2-1-1 0-2-1-1 0-2-1-1-1 1-1-1 0-2 1-1 0-2-1-1-1 1 0 2-1 1-1-1 0-2-1-1 0-2-1-1 0-2-1-1 0-2-1-1-1 1-1-1-1 1-1-1 0-2 1-1 0-2-1-1 0-2-1-1-1 1-1-1 0-2-1-1-1 1-1-1-1 1-1-1 0-2 1-1 0-2-1-1-1 1-1-1 0-2-1-1 0-2 1-1 0-2-1-1-1 1 0 2-1 1-1-1-1 1-1-1 0-2 1-1 0-2-1-1-1 1-1-1 0-2-1-1 0-2 1-1 0-2-1-1-1 1-1-1 0-2-1-1-1 1-1-1 0-2-1-1-1 1-1-1-1 1 0 2-1 1-1-1 0-2-1-1-1 1 0 2-1 1-1-1 0-2-1-1-1 1 0 2 1 1 0 2-1 1 0 2-1 1-1-1-1 1-1-1-1 1zM24 -2l1 1 0 2-1 1-1-1 0-2zM20 -2l0-2 1-1 1 1 0 2-1 1zM-2 32l0 2 1 1 1-1 0-2-1-1zM70 110l0 2 1 1 1-1 0-2-1-1z"/>
<path fill="#47978f" stroke="#47978f" d="M7 5l-1-1-1 1 0 2-1 1 0 2 1 1 1-1 1 1 1-1 1 1 0 2-1 1 0 2-1 1-1-1-1 1 0 2 1 1 0 2-1 1-1-1-1 1 0 2 1 1 0 2-1 1 0 2 1 1 1-1 1 1 0 2-1 1-1-1-1 1 0 2 1 1 0 2 1 1 0 2 1 1 0 2-1 1 0 2-1 1 0 2 1 1 0 2 1 1 0 2 1 1 0 2-1 1 0 2 1 1 1-1 1 1 1-1 1 1 0 2-1 1-1-1-1 1 0 2 1 1 1-1 1 1 0 2-1 1 0 2 1 1 1-1 1 1 0 2-1 1 0 2 1 1 1-1 1 1 1-1 1 1 0 2 1 1 0 2-1 1 0 2 1 1 1-1 1 1 0 2 1 1 0 2-1 1 0 2 1 1 1-1 1 1 0 2-1 1 0 2 1 1 1-1 1 1 0 2 1 1 1-1 1 1 0 2-1 1 0 2 1 1 1-1 0-2 1-1 1 1 0 2 1 1 0 2 1 1 1-1 1 1 1-1 1 1 1-1 1 1 0 2 1 1 1-1 1 1 1-1 1 1 0 2 1 1 1-1 0-2 1-1 1 1 1-1 1 1 0 2 1 1 1-1 1 1 1-1 0-2 1-1 1 1 1-1 0-2 1-1 1 1 1-1 0-2-1-1 0-2 1-1 1 1 0 2 1 1 1-1 0-2 1-1 0-2 1-1 1 1 1-1 0-2 1-1 0-2-1-1 0-2 1-1 0-2 1-1 0-2-1-1 0-2-1-1 0-2-1-1 0-2-1-1 0-2 1-1 0-2-1-1 0-2-1-1 0-2-1-1 0-2 1-1 0-2-1-1-1 1-1-1-1 1-1-1 0-2 1-1 0-2-1-1 0-2-1-1 0-2-1-1-1 1-1-1 0-2 1-1 0-2-1-1 0-2-1-1-1 1-1-1 0-2-1-1 0-2-1-1-1 1-1-1 0-2-1-1 0-2-1-1 0-2-1-1 0-2-1-1-1 1-1-1-1 1-1-1 0-2-1-1 0-2-1-1 0-2-1-1-1 1-1-1-1 1-1-1 0-2-1-1 0-2-1-1 0-2-1-1-1 1-1-1 0-2-1-1 0-2-1-1-1 1-1-1 0-2-1-1-1 1 0 2-1 1-1-1 0-2 1-1 0-2-1-1-1 1-1-1 0-2-1-1-1 1-1-1-1 1 0 2 1 1 0 2-1 1-1-1 0-2-1-1-1 1 0 2-1 1 0 2-1 1-1-1zM16 2l1-1 1 1 0 2-1 1-1-1zM14 86l0 2 1 1 1-1 0-2-1-1z"/>
<path fill="#41928f" stroke="#41928f" d="M15 1l-1 1 0 2 1 1 1-1 0-2zM11 7l1 1 0 2-1 1-1-1-1 1 0 2-1 1 0 2-1 1 0 2 1 1 0 2-1 1 0 2-1 1 0 2-1 1 0 2 1 1 0 2 1 1 0 2-1 1 0 2 1 1 0 2-1 1 0 2-1 1 0 2 1 1 0 2 1 1 1-1 1 1 0 2-1 1 0 2-1 1 0 2 1 1 0 2 1 1 1-1 1 1 0 2-1 1 0 2 1 1 1-1 1 1 0 2-1 1 0 2 1 1 0 2-1 1 0 2 1 1 1-1 1 1 1-1 1 1 1-1 1 1 0 2-1 1 0 2-1 1 0 2 1 1 1-1 1 1 1-1 1 1 0 2-1 1 0 2 1 1 1-1 1 1 0 2 1 1 0 2-1 1 0 2 1 1 1-1 0-2 1-1 1 1 0 2 1 1 0 2 1 1 1-1 1 1 0 2 1 1 0 2 1 1 1-1 0-2 1-1 1 1 0 2-1 1 0 2 1 1 1-1 1 1 1-1 1 1 1-1 1 1 0 2 1 1 1-1 1 1 1-1 1 1 1-1 1 1 1-1 1 1 1-1 0-2 1-1 0-2 1-1 1 1 1-1 1 1 1-1 0-2 1-1 1 1 1-1 0-2 1-1 1 1 1-1 0-2-1-1 0-2 1-1 0-2 1-1 0-2-1-1 0-2-1-1-1 1-1-1 0-2 1-1 1 1 1-1 0-2-1-1-1 1-1-1 0-2 1-1 0-2-1-1 0-2-1-1 0-2-1-1 0-2 1-1 0-2-1-1 0-2-1-1 0-2 1-1 0-2-1-1 0-2-1-1-1 1-1-1 0-2-1-1 0-2 1-1 0-2-1-1 0-2-1-1-1 1 0 2-1 1-1-1 0-2-1-1 0-2 1-1 0-2-1-1-1 1-1-1 0-2-1-1 0-2-1-1-1 1-1-1 0-2-1-1-1 1 0 2-1 1-1-1 0-2 1-1 0-2-1-1-1 1-1-1 0-2-1-1 0-2-1-1-1 1-1-1 0-2-1-1 0-2-1-1-1 1-1-1 0-2 1-1 0-2-1-1-1 1-1-1-1 1-1-1 0-2-1-1-1 1-1-1-1 1-1-1 0-2-1-1 0-2-1-1-1 1 0 2 1 1 0 2-1 1-1-1-1 1-1-1-1 1-1-1 0-2-1-1-1 1-1-1-1 1 0 2 1 1zM18 10l1 1 0 2-1 1-1-1 0-2zM60 106l0-2 1-1 1 1 0 2-1 1zM22 2l0 2 1 1 1-1 0-2-1-1z"/>
<path fill="#3c8c8e" stroke="#3c8c8e" d="M17 7l-1 1 0 2 1 1 1-1 0-2zM7 17l0 2 1 1 0 2 1 1 0 2-1 1 0 2-1 1 0 2 1 1 0 2-1 1 0 2 1 1 0 2-1 1 0 2 1 1 1-1 1 1 0 2-1 1 0 2-1 1 0 2 1 1 0 2-1 1 0 2 1 1 0 2 1 1 1-1 1 1 0 2 1 1 0 2 1 1 0 2-1 1 0 2 1 1 1-1 1 1 0 2 1 1 0 2 1 1 0 2 1 1 0 2-1 1 0 2 1 1 0 2 1 1 1-1 1 1 0 2 1 1 1-1 1 1 0 2-1 1 0 2 1 1 1-1 0-2 1-1 1 1 0 2-1 1 0 2 1 1 0 2 1 1 0 2 1 1 1-1 1 1 1-1 0-2 1-1 1 1 0 2 1 1 0 2 1 1 0 2 1 1 1-1 1 1 1-1 1 1 0 2 1 1 0 2 1 1 1-1 0-2 1-1 1 1 1-1 1 1 1-1 0-2 1-1 1 1 0 2-1 1 0 2 1 1 1-1 0-2 1-1 0-2-1-1 0-2 1-1 0-2 1-1 1 1 1-1 1 1 0 2 1 1 1-1 0-2-1-1 0-2 1-1 0-2 1-1 0-2 1-1 1 1 0 2 1 1 1-1 0-2-1-1 0-2 1-1 0-2-1-1-1 1 0 2-1 1-1-1 0-2 1-1 0-2 1-1 0-2-1-1-1 1-1-1 0-2 1-1 0-2 1-1 0-2-1-1 0-2-1-1-1 1-1-1 0-2 1-1 0-2 1-1 0-2-1-1 0-2-1-1 0-2-1-1 0-2-1-1-1 1-1-1 0-2 1-1 0-2-1-1-1 1-1-1 0-2-1-1-1 1-1-1 0-2 1-1 0-2-1-1-1 1-1-1 0-2-1-1 0-2-1-1-1 1-1-1-1 1-1-1 0-2-1-1 0-2-1-1 0-2-1-1-1 1-1-1 0-2-1-1-1 1-1-1 0-2-1-1 0-2-1-1 0-2-1-1-1 1 0 2-1 1-1-1 0-2-1-1 0-2 1-1 0-2-1-1-1 1-1-1-1 1-1-1 0-2-1-1-1 1 0 2-1 1 0 2-1 1 0 2-1 1-1-1 0-2-1-1-1 1-1-1-1 1-1-1-1 1 0 2-1 1-1-1zM22 14l1-1 1 1 0 2-1 1-1-1zM10 20l1-1 1 1 0 2-1 1-1-1zM12 52l-1 1-1-1 0-2 1-1 1 1zM19 1l-1 1 0 2 1 1 1-1 0-2z"/>
<path fill="#37888d" stroke="#37888d" d="M13 17l0 2-1 1 0 2 1 1 1-1 1 1 0 2-1 1-1-1-1 1-1-1-1 1 0 2 1 1 0 2-1 1 0 2-1 1 0 2-1 1 0 2 1 1 0 2 1 1 1-1 1 1 0 2-1 1 0 2 1 1 0 2 1 1 0 2 1 1 0 2-1 1 0 2-1 1 0 2 1 1 1-1 1 1 0 2-1 1 0 2 1 1 0 2 1 1 1-1 1 1 1-1 1 1 0 2-1 1-1-1-1 1 0 2 1 1 0 2 1 1 1-1 1 1 1-1 1 1 0 2-1 1 0 2 1 1 0 2 1 1 0 2 1 1 1-1 1 1 0 2 1 1 0 2-1 1 0 2 1 1 1-1 1 1 0 2 1 1 0 2 1 1 1-1 0-2 1-1 1 1 0 2 1 1 0 2 1 1 1-1 1 1 0 2 1 1 1-1 1 1 1-1 1 1 1-1 1 1 0 2 1 1 1-1 0-2 1-1 0-2 1-1 1 1 1-1 1 1 1-1 0-2 1-1 1 1 1-1 0-2 1-1 1 1 1-1 0-2-1-1 0-2 1-1 1 1 1-1 1 1 1-1 0-2-1-1-1 1-1-1 0-2-1-1 0-2 1-1 0-2-1-1 0-2-1-1 0-2 1-1 0-2-1-1 0-2-1-1 0-2 1-1 0-2-1-1 0-2-1-1 0-2-1-1 0-2 1-1 0-2-1-1-1 1-1-1 0-2-1-1 0-2-1-1 0-2-1-1-1 1-1-1 0-2-1-1 0-2-1-1-1 1-1-1 0-2-1-1 0-2-1-1-1 1-1-1 0-2-1-1 0-2-1-1 0-2-1-1-1 1-1-1 0-2-1-1-1 1-1-1-1 1-1-1 0-2 1-1 0-2-1-1-1 1-1-1-1 1-1-1-1 1-1-1 0-2 1-1 0-2-1-1-1 1 0 2-1 1-1-1-1 1 0 2-1 1-1-1 0-2-1-1-1 1-1-1-1 1-1-1zM21 23l0 2-1 1-1-1 0-2 1-1zM12 38l0 2-1 1-1-1 0-2 1-1zM8 28l-1 1 0 2 1 1 1-1 0-2zM12 58l0-2-1-1 0-2-1-1-1 1 0 2 1 1 0 2 1 1zM19 85l-1 1 0 2 1 1 1-1 0-2z"/>
<path fill="#31828d" stroke="#31828d" d="M20 26l-1-1 0-2-1-1-1 1 0 2-1 1-1-1-1 1 0 2-1 1 0 2 1 1 1-1 1 1 0 2-1 1 0 2-1 1 0 2 1 1 0 2-1 1 0 2-1 1 0 2-1 1 0 2 1 1 1-1 1 1 0 2-1 1 0 2-1 1 0 2 1 1 1-1 1 1 0 2 1 1 0 2 1 1 0 2-1 1-1-1 0-2-1-1-1 1 0 2 1 1 0 2 1 1 1-1 1 1 1-1 1 1 0 2 1 1 0 2-1 1 0 2 1 1 1-1 1 1 0 2 1 1 0 2 1 1 0 2 1 1 0 2 1 1 0 2 1 1 0 2 1 1 1-1 1 1 0 2 1 1 0 2 1 1 1-1 1 1 0 2 1 1 1-1 1 1 1-1 1 1 0 2 1 1 1-1 1 1 1-1 1 1 1-1 1 1 0 2 1 1 1-1 0-2 1-1 1 1 1-1 1 1 1-1 0-2-1-1 0-2 1-1 0-2 1-1 1 1 0 2 1 1 1-1 0-2-1-1 0-2 1-1 1 1 1-1 0-2-1-1 0-2 1-1 0-2-1-1 0-2 1-1 0-2-1-1 0-2-1-1 0-2 1-1 0-2-1-1 0-2-1-1 0-2 1-1 0-2-1-1-1 1-1-1 0-2 1-1 0-2-1-1-1 1-1-1 0-2-1-1 0-2-1-1 0-2-1-1 0-2-1-1 0-2-1-1-1 1 0 2-1 1-1-1 0-2 1-1 0-2-1-1-1 1-1-1 0-2 1-1 0-2-1-1-1 1 0 2-1 1-1-1 0-2-1-1 0-2-1-1-1 1-1-1 0-2-1-1-1 1-1-1 0-2 1-1 0-2-1-1-1 1 0 2-1 1-1-1 0-2 1-1 0-2-1-1-1 1 0 2-1 1-1-1 0-2-1-1-1 1-1-1 0-2-1-1 0-2-1-1-1 1 0 2-1 1 0 2 1 1 0 2zM12 34l-1 1 0 2 1 1 1-1 0-2zM18 76l-1 1 0 2 1 1 1-1 0-2z"/>
<path fill="#2c7e8c" stroke="#2c7e8c" d="M24 20l-1-1-1 1 0 2 1 1 1-1zM16 34l-1 1 0 2 1 1 0 2-1 1 0 2-1 1 0 2 1 1 0 2-1 1 0 2 1 1 0 2 1 1 0 2 1 1 0 2-1 1 0 2 1 1 0 2 1 1 1-1 1 1 0 2 1 1 0 2-1 1 0 2 1 1 0 2 1 1 1-1 1 1 0 2-1 1 0 2 1 1 0 2 1 1 1-1 1 1 0 2 1 1 1-1 1 1 0 2-1 1 0 2 1 1 0 2 1 1 1-1 1 1 1-1 1 1 0 2-1 1 0 2 1 1 0 2 1 1 1-1 0-2 1-1 1 1 0 2 1 1 0 2 1 1 1-1 1 1 1-1 1 1 1-1 1 1 1-1 0-2 1-1 1 1 0 2 1 1 1-1 0-2-1-1 0-2 1-1 0-2 1-1 1 1 1-1 1 1 1-1 0-2-1-1 0-2 1-1 1 1 1-1 0-2-1-1-1 1-1-1 0-2 1-1 0-2 1-1 0-2 1-1 0-2-1-1-1 1 0 2-1 1-1-1 0-2 1-1 0-2 1-1 0-2-1-1 0-2 1-1 0-2-1-1-1 1-1-1 0-2-1-1 0-2-1-1 0-2-1-1 0-2-1-1 0-2 1-1 0-2-1-1-1 1-1-1 0-2-1-1-1 1-1-1 0-2-1-1 0-2-1-1-1 1-1-1 0-2-1-1-1 1-1-1 0-2 1-1 0-2-1-1-1 1-1-1 0-2-1-1-1 1-1-1-1 1-1-1-1 1-1-1-1 1-1-1 0-2 1-1 1 1 1-1 0-2-1-1-1 1-1-1-1 1 0 2-1 1-1-1-1 1-1-1-1 1-1-1-1 1 0 2-1 1-1-1 0-2 1-1 0-2-1-1-1 1 0 2-1 1 0 2 1 1z"/>
<path fill="#26788c" stroke="#26788c" d="M22 32l-1-1-1 1 0 2 1 1 0 2-1 1 0 2-1 1 0 2-1 1-1-1 0-2-1-1-1 1 0 2 1 1 0 2 1 1 0 2-1 1 0 2 1 1 1-1 1 1 0 2-1 1 0 2 1 1 1-1 1 1 0 2-1 1 0 2-1 1 0 2 1 1 1-1 1 1 0 2-1 1 0 2 1 1 0 2-1 1 0 2 1 1 1-1 0-2 1-1 1 1 0 2-1 1 0 2 1 1 0 2 1 1 0 2 1 1 0 2 1 1 1-1 1 1 0 2 1 1 0 2 1 1 0 2 1 1 1-1 1 1 0 2 1 1 0 2 1 1 1-1 1 1 0 2 1 1 1-1 1 1 1-1 1 1 1-1 1 1 1-1 0-2 1-1 1 1 0 2 1 1 1-1 0-2 1-1 0-2 1-1 0-2 1-1 0-2-1-1 0-2 1-1 1 1 0 2 1 1 1-1 0-2-1-1 0-2 1-1 0-2-1-1 0-2-1-1 0-2-1-1 0-2 1-1 1 1 1-1 0-2-1-1-1 1-1-1 0-2 1-1 1 1 1-1 0-2-1-1-1 1-1-1 0-2-1-1-1 1-1-1 0-2 1-1 0-2-1-1 0-2-1-1 0-2-1-1 0-2-1-1 0-2-1-1-1 1-1-1-1 1-1-1 0-2-1-1 0-2-1-1 0-2-1-1-1 1-1-1 0-2-1-1 0-2-1-1-1 1-1-1-1 1-1-1 0-2-1-1-1 1 0 2-1 1-1-1 0-2-1-1 0-2-1-1-1 1 0 2-1 1 0 2-1 1-1-1zM18 38l1-1 0-2-1-1-1 1-1-1-1 1 0 2 1 1 1-1zM58 82l-1 1 0 2 1 1 1-1 0-2zM56 100l-1 1 0 2 1 1 1-1 0-2z"/>
<path fill="#22748b" stroke="#22748b" d="M22 38l1-1 1 1 0 2-1 1 0 2-1 1 0 2-1 1 0 2-1 1-1-1-1 1 0 2 1 1 0 2-1 1 0 2 1 1 1-1 1 1 0 2-1 1 0 2 1 1 0 2 1 1 0 2-1 1 0 2 1 1 0 2 1 1 1-1 1 1 0 2 1 1 0 2 1 1 0 2-1 1 0 2 1 1 1-1 1 1 0 2 1 1 0 2 1 1 0 2 1 1 0 2 1 1 1-1 1 1 1-1 1 1 0 2-1 1 0 2 1 1 1-1 0-2 1-1 1 1 0 2 1 1 1-1 1 1 0 2 1 1 1-1 1 1 1-1 0-2-1-1 0-2 1-1 1 1 1-1 1 1 1-1 0-2 1-1 1 1 1-1 0-2-1-1 0-2 1-1 0-2 1-1 1 1 1-1 0-2-1-1 0-2-1-1-1 1-1-1 0-2 1-1 0-2 1-1 0-2-1-1-1 1-1-1 0-2 1-1 0-2 1-1 0-2-1-1-1 1-1-1 0-2-1-1 0-2-1-1-1 1-1-1 0-2 1-1 0-2-1-1 0-2 1-1 0-2-1-1-1 1-1-1-1 1-1-1 0-2-1-1 0-2-1-1-1 1-1-1 0-2-1-1-1 1 0 2-1 1-1-1 0-2-1-1 0-2-1-1 0-2-1-1-1 1-1-1-1 1-1-1-1 1 0 2 1 1 0 2-1 1-1-1 0-2-1-1 0-2-1-1-1 1-1-1 0-2-1-1-1 1 0 2 1 1 0 2zM43 55l0-2 1-1 1 1 0 2-1 1zM21 41l-1-1-1 1 0 2 1 1 1-1zM36 34l-1 1 0 2 1 1 1-1 0-2z"/>
<path fill="#1e6e8a" stroke="#1e6e8a" d="M27 41l-1-1 0-2-1-1-1 1 0 2-1 1 0 2-1 1 0 2-1 1 0 2 1 1 0 2 1 1 0 2-1 1-1-1-1 1 0 2 1 1 0 2 1 1 0 2-1 1 0 2 1 1 1-1 1 1 1-1 1 1 0 2-1 1-1-1-1 1 0 2 1 1 0 2 1 1 0 2 1 1 0 2 1 1 0 2 1 1 0 2 1 1 0 2 1 1 1-1 1 1 0 2-1 1 0 2 1 1 1-1 1 1 0 2 1 1 1-1 1 1 0 2 1 1 1-1 1 1 0 2 1 1 1-1 1 1 1-1 0-2 1-1 1 1 1-1 1 1 1-1 1 1 1-1 0-2 1-1 1 1 1-1 0-2-1-1 0-2 1-1 0-2 1-1 0-2-1-1 0-2-1-1 0-2-1-1 0-2 1-1 0-2-1-1 0-2-1-1 0-2-1-1 0-2 1-1 0-2-1-1 0-2-1-1-1 1-1-1 0-2 1-1 0-2-1-1-1 1-1-1-1 1-1-1 0-2-1-1 0-2 1-1 0-2-1-1-1 1-1-1 0-2-1-1 0-2-1-1-1 1 0 2-1 1-1-1 0-2-1-1 0-2-1-1 0-2-1-1-1 1-1-1-1 1-1-1-1 1 0 2 1 1 0 2zM23 35l-1-1-1 1 0 2 1 1 1-1zM21 41l-1-1-1 1 0 2 1 1 1-1z"/>
<path fill="#1c6989" stroke="#1c6989" d="M26 40l-1 1-1-1-1 1 0 2 1 1 1-1 1 1 0 2-1 1-1-1-1 1 0 2-1 1 0 2 1 1 0 2-1 1 0 2-1 1 0 2 1 1 1-1 1 1 0 2-1 1 0 2 1 1 1-1 1 1 0 2-1 1 0 2 1 1 0 2 1 1 0 2-1 1 0 2 1 1 1-1 1 1 0 2-1 1 0 2 1 1 1-1 1 1 0 2 1 1 0 2-1 1 0 2 1 1 1-1 0-2 1-1 1 1 0 2 1 1 1-1 1 1 0 2-1 1 0 2 1 1 1-1 1 1 1-1 0-2 1-1 1 1 0 2 1 1 1-1 1 1 1-1 1 1 1-1 0-2 1-1 0-2 1-1 0-2 1-1 0-2-1-1 0-2 1-1 0-2-1-1 0-2-1-1 0-2 1-1 0-2 1-1 0-2-1-1 0-2-1-1-1 1-1-1 0-2 1-1 1 1 1-1 0-2-1-1-1 1-1-1 0-2-1-1 0-2-1-1 0-2-1-1-1 1-1-1 0-2-1-1 0-2-1-1-1 1-1-1 0-2-1-1 0-2-1-1-1 1 0 2-1 1-1-1 0-2-1-1 0-2-1-1-1 1-1-1-1 1-1-1-1 1z"/>
<path fill="#1c6388" stroke="#1c6388" d="M25 49l-1 1 0 2-1 1 0 2-1 1 0 2 1 1 0 2 1 1 0 2 1 1 0 2 1 1 0 2 1 1 0 2-1 1 0 2 1 1 0 2 1 1 0 2 1 1 0 2 1 1 1-1 1 1 0 2-1 1 0 2 1 1 1-1 1 1 0 2 1 1 0 2 1 1 1-1 0-2 1-1 1 1 0 2 1 1 0 2-1 1 0 2 1 1 1-1 0-2 1-1 1 1 0 2 1 1 1-1 1 1 1-1 0-2 1-1 0-2 1-1 0-2 1-1 0-2 1-1 0-2 1-1 0-2-1-1 0-2-1-1 0-2 1-1 0-2-1-1 0-2 1-1 0-2-1-1-1 1-1-1 0-2-1-1 0-2 1-1 0-2-1-1-1 1-1-1 0-2 1-1 0-2-1-1-1 1-1-1 0-2-1-1-1 1-1-1 0-2-1-1-1 1-1-1 0-2 1-1 0-2-1-1-1 1 0 2-1 1-1-1 0-2-1-1-1 1-1-1-1 1 0 2 1 1 0 2-1 1-1-1 0-2-1-1-1 1-1-1-1 1zM45 97l1 1 0 2-1 1-1-1 0-2z"/>
<path fill="#1e5d86" stroke="#1e5d86" d="M30 50l-1-1 0-2-1-1-1 1 0 2 1 1 0 2-1 1-1-1 0-2-1-1-1 1 0 2-1 1 0 2 1 1 1-1 1 1 0 2-1 1 0 2 1 1 0 2-1 1 0 2 1 1 0 2 1 1 0 2 1 1 0 2 1 1 0 2-1 1 0 2 1 1 1-1 1 1 0 2 1 1 0 2 1 1 1-1 1 1 0 2-1 1 0 2 1 1 1-1 0-2 1-1 1 1 0 2 1 1 0 2 1 1 0 2 1 1 1-1 1 1 0 2 1 1 1-1 0-2-1-1 0-2 1-1 0-2 1-1 1 1 1-1 0-2 1-1 1 1 1-1 0-2-1-1 0-2 1-1 0-2-1-1 0-2 1-1 0-2-1-1-1 1-1-1 0-2-1-1 0-2 1-1 0-2-1-1 0-2-1-1-1 1-1-1 0-2 1-1 0-2-1-1 0-2-1-1-1 1-1-1 0-2-1-1-1 1-1-1-1 1-1-1 0-2 1-1 0-2-1-1-1 1-1-1 0-2-1-1-1 1-1-1-1 1 0 2 1 1 0 2z"/>
<path fill="#205885" stroke="#205885" d="M31 53l0 2-1 1-1-1-1 1 0 2-1 1 0 2-1 1 0 2 1 1 0 2-1 1 0 2 1 1 0 2 1 1 1-1 1 1 0 2-1 1 0 2 1 1 0 2 1 1 0 2 1 1 0 2 1 1 1-1 1 1 0 2 1 1 1-1 1 1 0 2 1 1 1-1 1 1 0 2 1 1 0 2 1 1 1-1 0-2 1-1 0-2 1-1 1 1 1-1 0-2 1-1 0-2 1-1 0-2 1-1 0-2-1-1 0-2-1-1-1 1 0 2-1 1-1-1 0-2 1-1 0-2 1-1 0-2-1-1 0-2 1-1 0-2-1-1 0-2-1-1-1 1-1-1 0-2 1-1 0-2-1-1-1 1-1-1 0-2-1-1 0-2-1-1-1 1 0 2-1 1-1-1 0-2-1-1 0-2 1-1 0-2-1-1-1 1 0 2-1 1-1-1-1 1 0 2zM25 55l0-2-1-1-1 1 0 2 1 1z"/>
<path fill="#225282" stroke="#225282" d="M31 53l0 2-1 1-1-1-1 1 0 2-1 1 0 2 1 1 1-1 1 1 0 2-1 1 0 2-1 1 0 2 1 1 0 2 1 1 0 2-1 1 0 2 1 1 1-1 1 1 0 2-1 1 0 2 1 1 0 2 1 1 1-1 1 1 1-1 1 1 0 2 1 1 0 2 1 1 1-1 1 1 1-1 1 1 1-1 1 1 1-1 0-2 1-1 0-2 1-1 0-2-1-1 0-2-1-1 0-2 1-1 0-2 1-1 0-2-1-1 0-2-1-1-1 1-1-1 0-2 1-1 0-2-1-1 0-2 1-1 0-2-1-1-1 1-1-1 0-2-1-1-1 1-1-1-1 1-1-1 0-2-1-1-1 1-1-1 0-2-1-1-1 1 0 2zM49 83l1-1 0-2-1-1-1 1 0 2z"/>
<path fill="#254c80" stroke="#254c80" d="M30 56l-1-1-1 1 0 2 1 1 0 2 1 1 0 2 1 1 0 2-1 1 0 2 1 1 0 2 1 1 0 2-1 1-1-1-1 1 0 2 1 1 1-1 1 1 0 2 1 1 0 2 1 1 0 2 1 1 1-1 1 1 0 2 1 1 1-1 1 1 1-1 1 1 0 2 1 1 1-1 0-2 1-1 0-2 1-1 0-2-1-1 0-2 1-1 0-2 1-1 0-2 1-1 0-2-1-1 0-2-1-1-1 1 0 2-1 1-1-1 0-2 1-1 0-2-1-1-1 1-1-1 0-2 1-1 0-2 1-1 0-2-1-1-1 1-1-1-1 1-1-1 0-2-1-1-1 1-1-1-1 1 0 2-1 1-1-1 0-2 1-1 0-2-1-1-1 1 0 2z"/>
<path fill="#27467c" stroke="#27467c" d="M28 58l1 1 1-1 0-2-1-1-1 1zM32 58l-1 1 0 2 1 1 0 2-1 1 0 2-1 1 0 2 1 1 0 2 1 1 0 2-1 1 0 2 1 1 1-1 1 1 0 2 1 1 0 2-1 1 0 2 1 1 1-1 0-2 1-1 1 1 0 2 1 1 0 2 1 1 1-1 1 1 1-1 1 1 1-1 0-2-1-1 0-2-1-1-1 1-1-1 0-2 1-1 1 1 1-1 0-2-1-1 0-2 1-1 1 1 0 2 1 1 1-1 0-2-1-1 0-2-1-1-1 1-1-1 0-2 1-1 0-2-1-1-1 1-1-1 0-2 1-1 0-2-1-1 0-2-1-1-1 1-1-1 0-2-1-1-1 1 0 2-1 1-1-1-1 1zM35 65l0 2-1 1-1-1 0-2 1-1z"/>
<path fill="#294079" stroke="#294079" d="M36 58l1 1 1-1 0-2-1-1-1 1zM31 61l1 1 0 2-1 1 0 2 1 1 0 2 1 1 0 2-1 1 0 2 1 1 0 2 1 1 0 2 1 1 0 2 1 1 1-1 1 1 1-1 0-2 1-1 1 1 1-1 1 1 1-1 0-2-1-1 0-2 1-1 0-2-1-1-1 1-1-1 0-2-1-1 0-2 1-1 0-2 1-1 0-2-1-1-1 1-1-1-1 1-1-1-1 1-1-1-1 1-1-1 0-2-1-1-1 1zM34 64l1 1 0 2-1 1-1-1 0-2zM36 74l0 2-1 1-1-1 0-2 1-1zM43 89l1-1 0-2-1-1-1 1 0 2zM40 92l1-1 0-2-1-1-1 1 0 2z"/>
<path fill="#2b3a76" stroke="#2b3a76" d="M34 64l1 1 0 2 1 1 0 2-1 1 0 2 1 1 0 2-1 1 0 2 1 1 0 2-1 1 0 2 1 1 1-1 0-2 1-1 1 1 1-1 0-2 1-1 1 1 0 2 1 1 1-1 0-2-1-1 0-2-1-1 0-2-1-1 0-2-1-1-1 1-1-1 0-2 1-1 1 1 1-1 0-2-1-1 0-2-1-1-1 1 0 2-1 1-1-1 0-2-1-1-1 1zM32 70l1 1 1-1 0-2-1-1-1 1zM32 76l1 1 1-1 0-2-1-1-1 1z"/>
<path fill="#2c3473" stroke="#2c3473" d="M34 62l0 2 1 1 0 2 1 1 0 2 1 1 0 2-1 1 0 2-1 1 0 2 1 1 1-1 1 1 1-1 1 1 1-1 0-2-1-1 0-2 1-1 0-2-1-1-1 1-1-1 0-2-1-1 0-2-1-1 0-2-1-1zM32 74l0 2 1 1 1-1 0-2-1-1z"/>
</g></g>
<path fill="#f0a9a9" d="M1042.6 72.3v-5.6h7.8v5.6zM1051.9 72.3v-9.6h20.3v9.6zM1073.7 72.3v-15.7h20.3v15.7zM1095.5 72.3v-22.7h20.3v22.7zM1117.4 72.3v-30.5h20.3v30.5zM1139.2 72.3v-39.2h20.3v39.2zM1161.0 72.3v-47.3h20.3v47.3zM1182.9 72.3v-53.7h20.3v53.7zM1204.7 72.3v-56.4h20.3v56.4zM1226.5 72.3v-57.4h20.3v57.4zM1248.3 72.3v-53.7h20.3v53.7zM1270.2 72.3v-48.3h20.3v48.3zM1292.0 72.3v-40.6h20.3v40.6zM1313.8 72.3v-32.5h20.3v32.5zM1335.7 72.3v-24.8h20.3v24.8zM1357.5 72.3v-18.7h20.3v18.7zM1379.3 72.3v-14.0h20.3v14.0zM1401.2 72.3v-9.6h20.3v9.6zM1423.0 72.3v-5.9h20.3v5.9zM1444.8 72.3v-3.2h20.3v3.2zM1466.6 72.3v-1.9h20.3v1.9z"/>
<path fill="#f0a9a9" d="M1604.4 143.8h3.0v35.3h-3.0zM1604.4 180.6h7.4v35.3h-7.4zM1604.4 217.4h15.5v35.3h-15.5zM1604.4 254.3h26.5v35.3h-26.5zM1604.4 291.1h38.4v35.3h-38.4zM1604.4 328.0h49.4v35.3h-49.4zM1604.4 364.8h55.8v35.3h-55.8zM1604.4 401.6h58.3v35.3h-58.3zM1604.4 438.5h55.5v35.3h-55.5zM1604.4 475.3h48.5v35.3h-48.5zM1604.4 512.2h40.6v35.3h-40.6zM1604.4 549.0h32.3v35.3h-32.3zM1604.4 585.8h24.0v35.3h-24.0zM1604.4 622.7h16.7v10.3h-16.7z"/>
<path d="M1235.2 72.3V11.3M1604.4 449.0H1666.4" stroke="#029e73" stroke-width="5" stroke-dasharray="17.5 7.3" fill="none"/>
<path d="M1042.6 121.7V634.3M1041.3 633.0H1555.5M1041.3 72.3H1555.5M1604.4 121.7V634.3M1042.6 633.0v10.8M1042.6 72.3v10.8M1170.5 633.0v10.8M1170.5 72.3v10.8M1298.4 633.0v10.8M1298.4 72.3v10.8M1426.3 633.0v10.8M1426.3 72.3v10.8M1554.2 633.0v10.8M1554.2 72.3v10.8M1042.6 569.2h-10.8M1604.4 569.2h-10.8M1042.6 441.8h-10.8M1604.4 441.8h-10.8M1042.6 314.2h-10.8M1604.4 314.2h-10.8M1042.6 186.8h-10.8M1604.4 186.8h-10.8" stroke="#000" stroke-width="2.6" fill="none"/>
<text transform="translate(998.95,709.85) rotate(-45)" font-size="29.17" >121</text>
<text transform="translate(1126.85,709.85) rotate(-45)" font-size="29.17" >122</text>
<text transform="translate(1254.75,709.85) rotate(-45)" font-size="29.17" >123</text>
<text transform="translate(1382.65,709.85) rotate(-45)" font-size="29.17" >124</text>
<text transform="translate(1510.55,709.85) rotate(-45)" font-size="29.17" >125</text>
<text transform="translate(973.29,617.37) rotate(-45)" font-size="29.17" >−20</text>
<text transform="translate(1003.70,459.46) rotate(-45)" font-size="29.17" >0</text>
<text transform="translate(990.57,345.09) rotate(-45)" font-size="29.17" >20</text>
<text transform="translate(990.57,217.59) rotate(-45)" font-size="29.17" >40</text>
<circle cx="1235.2" cy="449.0" r="18.4" fill="#029e73" stroke="#fff" stroke-width="6"/>
<rect x="1324.5" y="141.1" width="212.1" height="66.0" rx="5" fill="#fff" fill-opacity="0.5"/>
<circle cx="1376.0" cy="171.3" r="18.4" fill="#029e73" stroke="#fff" stroke-width="6"/>
<text x="1441.1" y="184.2" font-size="36.1">MAP</text>
<text x="1296.0" y="753.4" font-size="36.1" text-anchor="middle"><tspan class="i">Lon</tspan><tspan class="i" font-size="25.3" dy="5.4">source</tspan></text><text x="1296.0" y="796.2" font-size="36.1" text-anchor="middle"><tspan>[°]</tspan></text><text transform="translate(894.0,380.0) rotate(-90)" font-size="36.1" text-anchor="middle"><tspan>Δ</tspan><tspan class="i">t</tspan><tspan class="i" font-size="25.3" dy="6.5">source</tspan></text><text transform="translate(936.4,380.0) rotate(-90)" font-size="36.1" text-anchor="middle"><tspan>[s]</tspan></text>
<g font-weight="bold"><text transform="translate(873.1,37.6) scale(1.19,1)" font-size="49.7">(</text><text x="899.0" y="35.0" font-size="46.0">b</text><text transform="translate(931.0,37.6) scale(1.19,1)" font-size="49.7">)</text></g>
<!-- panel c -->
<clipPath id="clip2"><rect x="175.5" y="963.7" width="541.2" height="521.9"/></clipPath>
<rect x="175.5" y="963.7" width="541.2" height="521.9" fill="#f5f5f5"/>
<g clip-path="url(#clip2)"><g transform="matrix(5.4120 0 0 -3.1065 175.50 1485.60)" class="hx">
<path fill="#a5cd90" stroke="#a5cd90" d="M6 -8l-1 1-1-1-1 1-1-1-1 1-1-1-1 1-1-1-1 1 0 2 1 1 0 2-1 1 0 2 1 1 0 2-1 1 0 2 1 1 0 2-1 1 0 2 1 1 0 2-1 1 0 2 1 1 0 2 1 1 0 2-1 1 0 2 1 1 1-1 1 1 0 2 1 1 0 2 1 1 0 2 1 1 0 2 1 1 0 2 1 1 0 2 1 1 0 2-1 1 0 2 1 1 1-1 1 1 0 2-1 1 0 2 1 1 0 2 1 1 0 2 1 1 0 2 1 1 0 2-1 1 0 2 1 1 0 2 1 1 1-1 1 1 0 2-1 1 0 2 1 1 0 2 1 1 0 2-1 1 0 2 1 1 0 2 1 1 0 2 1 1 0 2-1 1 0 2 1 1 0 2 1 1 0 2 1 1 0 2-1 1 0 2 1 1 0 2 1 1 0 2 1 1 1-1 1 1 0 2 1 1 0 2-1 1 0 2 1 1 0 2-1 1 0 2 1 1 0 2 1 1 0 2-1 1 0 2 1 1 1-1 1 1 0 2-1 1 0 2 1 1 0 2 1 1 1-1 1 1 0 2-1 1 0 2 1 1 0 2 1 1 0 2 1 1 0 2 1 1 0 2-1 1 0 2 1 1 0 2 1 1 0 2-1 1 0 2 1 1 1-1 1 1 1-1 1 1 1-1 1 1 1-1 1 1 1-1 1 1 1-1 1 1 1-1 1 1 1-1 1 1 1-1 1 1 1-1 1 1 1-1 1 1 1-1 1 1 1-1 1 1 1-1 1 1 1-1 1 1 1-1 1 1 1-1 1 1 1-1 1 1 1-1 1 1 1-1 1 1 1-1 1 1 1-1 1 1 1-1 1 1 1-1 1 1 1-1 1 1 1-1 1 1 1-1 1 1 1-1 1 1 1-1 1 1 1-1 0-2-1-1-1 1-1-1 0-2 1-1 0-2-1-1-1 1-1-1 0-2-1-1 0-2 1-1 1 1 0 2 1 1 1-1 1 1 1-1 0-2 1-1 0-2-1-1 0-2-1-1-1 1-1-1 0-2-1-1 0-2 1-1 1 1 1-1 0-2-1-1-1 1-1-1-1 1-1-1 0-2-1-1 0-2 1-1 1 1 0 2 1 1 1-1 0-2 1-1 1 1 1-1 0-2-1-1-1 1-1-1 0-2 1-1 1 1 1-1 0-2-1-1-1 1-1-1-1 1-1-1 0-2 1-1 0-2 1-1 1 1 1-1 0-2-1-1 0-2-1-1 0-2 1-1 1 1 1-1 0-2 1-1 0-2-1-1-1 1 0 2-1 1-1-1 0-2 1-1 0-2 1-1 0-2-1-1 0-2-1-1-1 1-1-1 0-2 1-1 0-2-1-1 0-2 1-1 0-2-1-1 0-2 1-1 0-2 1-1 0-2-1-1 0-2 1-1 0-2-1-1 0-2 1-1 0-2-1-1 0-2 1-1 1 1 1-1 0-2 1-1 0-2-1-1-1 1-1-1 0-2 1-1 0-2 1-1 1 1 1-1 0-2-1-1-1 1-1-1-1 1-1-1 0-2 1-1 0-2 1-1 0-2-1-1-1 1-1-1 0-2-1-1 0-2 1-1 0-2-1-1 0-2 1-1 1 1 0 2 1 1 1-1 0-2-1-1 0-2-1-1 0-2 1-1 0-2 1-1 1 1 1-1 0-2-1-1 0-2-1-1-1 1 0 2-1 1 0 2-1 1-1-1 0-2 1-1 0-2 1-1 0-2 1-1 0-2 1-1 0-2 1-1 0-2-1-1-1 1-1-1 0-2-1-1 0-2 1-1 0-2 1-1 1 1 1-1 1 1 1-1 0-2-1-1-1 1-1-1-1 1-1-1 0-2-1-1 0-2-1-1-1 1-1-1-1 1-1-1-1 1-1-1-1 1-1-1-1 1-1-1-1 1-1-1-1 1-1-1-1 1-1-1-1 1-1-1-1 1-1-1-1 1-1-1-1 1-1-1-1 1-1-1-1 1-1-1-1 1-1-1-1 1-1-1-1 1-1-1-1 1-1-1-1 1-1-1-1 1-1-1-1 1-1-1-1 1-1-1-1 1-1-1-1 1-1-1-1 1-1-1-1 1-1-1-1 1-1-1-1 1-1-1-1 1-1-1-1 1-1-1-1 1-1-1-1 1-1-1-1 1-1-1-1 1-1-1-1 1-1-1-1 1-1-1-1 1-1-1-1 1-1-1-1 1-1-1-1 1-1-1-1 1zM82 -2l1 1 0 2-1 1-1-1 0-2zM86 166l1 1 0 2-1 1-1-1 0-2zM88 122l1-1 1 1 0 2-1 1 0 2-1 1-1-1 0-2 1-1zM88 86l0 2-1 1-1-1 0-2 1-1zM89 61l-1 1-1-1 0-2 1-1 1 1zM89 55l-1 1-1-1 0-2 1-1 1 1zM89 13l-1 1-1-1 0-2 1-1 1 1zM89 -1l0 2-1 1-1-1 0-2 1-1zM90 164l0 2-1 1-1-1 0-2 1-1zM94 10l1 1 1-1 0-2-1-1-1 1zM90 46l1 1 1-1 0-2-1-1-1 1zM94 46l1 1 1-1 0-2-1-1-1 1zM96 86l-1-1 0-2-1-1 0-2-1-1-1 1 0 2 1 1 0 2 1 1 0 2 1 1 1-1zM93 97l1 1 1-1 0-2-1-1-1 1zM94 112l1 1 1-1 0-2-1-1-1 1zM96 148l1 1 1-1 0-2-1-1-1 1zM96 154l1 1 1-1 0-2-1-1-1 1zM98 172l1 1 1-1 0-2-1-1-1 1z"/>
<path fill="#98c691" stroke="#98c691" d="M-2 -8l-1 1 0 2 1 1 0 2-1 1 0 2 1 1 0 2-1 1 0 2 1 1 0 2-1 1 0 2 1 1 0 2 1 1 0 2 1 1 0 2 1 1 0 2 1 1 0 2 1 1 0 2-1 1 0 2 1 1 1-1 1 1 0 2 1 1 0 2-1 1 0 2 1 1 0 2 1 1 0 2 1 1 0 2 1 1 0 2 1 1 0 2 1 1 0 2 1 1 0 2-1 1 0 2 1 1 0 2 1 1 0 2 1 1 0 2 1 1 0 2-1 1 0 2 1 1 0 2 1 1 0 2 1 1 0 2 1 1 0 2 1 1 0 2-1 1 0 2 1 1 0 2 1 1 0 2 1 1 0 2 1 1 0 2-1 1 0 2 1 1 0 2 1 1 0 2 1 1 0 2 1 1 0 2 1 1 0 2-1 1 0 2 1 1 0 2 1 1 0 2 1 1 0 2 1 1 0 2-1 1 0 2 1 1 0 2 1 1 0 2 1 1 0 2 1 1 0 2 1 1 0 2-1 1 0 2 1 1 0 2 1 1 0 2 1 1 0 2 1 1 0 2-1 1 0 2 1 1 0 2 1 1 1-1 1 1 1-1 1 1 1-1 1 1 1-1 1 1 1-1 1 1 1-1 1 1 1-1 1 1 1-1 1 1 1-1 1 1 1-1 1 1 1-1 1 1 1-1 1 1 1-1 1 1 1-1 1 1 1-1 1 1 1-1 1 1 1-1 1 1 1-1 1 1 1-1 1 1 1-1 1 1 1-1 1 1 1-1 1 1 1-1 1 1 1-1 1 1 1-1 1 1 1-1 1 1 1-1 1 1 1-1 0-2-1-1 0-2 1-1 0-2-1-1-1 1-1-1 0-2-1-1 0-2 1-1 0-2-1-1-1 1 0 2-1 1-1-1 0-2 1-1 0-2 1-1 1 1 1-1 1 1 1-1 0-2-1-1 0-2 1-1 0-2-1-1-1 1-1-1 0-2-1-1 0-2 1-1 1 1 1-1 0-2-1-1 0-2 1-1 0-2-1-1 0-2-1-1-1 1-1-1 0-2 1-1 0-2 1-1 0-2-1-1-1 1-1-1 0-2 1-1 1 1 1-1 0-2 1-1 0-2-1-1 0-2 1-1 1 1 1-1 0-2-1-1 0-2-1-1 0-2 1-1 0-2-1-1 0-2 1-1 0-2-1-1-1 1-1-1 0-2 1-1 1 1 1-1 0-2 1-1 0-2-1-1 0-2-1-1 0-2-1-1 0-2 1-1 0-2 1-1 0-2 1-1 0-2-1-1 0-2 1-1 0-2-1-1 0-2 1-1 0-2-1-1-1 1 0 2-1 1-1-1 0-2 1-1 0-2-1-1 0-2-1-1 0-2 1-1 1 1 1-1 0-2-1-1 0-2 1-1 0-2-1-1 0-2 1-1 0-2 1-1 0-2-1-1 0-2-1-1 0-2 1-1 0-2 1-1 0-2-1-1 0-2 1-1 1 1 1-1 0-2-1-1 0-2-1-1 0-2-1-1 0-2 1-1 0-2 1-1 0-2-1-1 0-2-1-1 0-2-1-1-1 1-1-1-1 1-1-1-1 1-1-1-1 1-1-1-1 1-1-1-1 1-1-1-1 1-1-1-1 1-1-1-1 1-1-1-1 1-1-1-1 1-1-1-1 1-1-1-1 1-1-1-1 1-1-1-1 1-1-1-1 1-1-1-1 1-1-1-1 1-1-1-1 1-1-1-1 1-1-1-1 1-1-1-1 1-1-1-1 1-1-1-1 1-1-1-1 1-1-1-1 1-1-1-1 1-1-1-1 1-1-1-1 1-1-1-1 1-1-1-1 1-1-1-1 1-1-1-1 1-1-1-1 1-1-1-1 1-1-1-1 1-1-1-1 1-1-1-1 1-1-1-1 1-1-1-1 1-1-1-1 1-1-1-1 1-1-1-1 1-1-1-1 1-1-1-1 1zM83 -1l0 2-1 1-1-1 0-2 1-1zM87 85l1 1 0 2-1 1-1-1 0-2-1-1 0-2 1-1 1 1zM88 76l-1 1-1-1 0-2 1-1 1 1zM87 -1l1-1 1 1 0 2-1 1-1-1zM88 10l1 1 0 2-1 1-1-1 0-2zM88 64l1 1 0 2-1 1-1-1 0-2zM90 28l1 1 1-1 0-2-1-1-1 1zM90 40l1 1 1-1 0-2-1-1-1 1zM89 55l1 1 1-1 0-2 1-1 0-2-1-1-1 1 0 2-1 1zM93 125l1-1 0-2-1-1-1 1 0 2zM91 133l1 1 1-1 0-2-1-1 0-2-1-1 0-2-1-1-1 1 0 2 1 1 0 2-1 1 0 2 1 1zM92 166l1 1 1-1 0-2-1-1-1 1z"/>
<path fill="#8ec291" stroke="#8ec291" d="M-2 4l-1 1 0 2 1 1 0 2-1 1 0 2 1 1 0 2 1 1 0 2 1 1 0 2 1 1 0 2 1 1 0 2 1 1 0 2 1 1 0 2 1 1 0 2 1 1 0 2 1 1 0 2 1 1 0 2-1 1 0 2 1 1 0 2 1 1 0 2 1 1 0 2 1 1 0 2 1 1 0 2-1 1 0 2 1 1 0 2 1 1 0 2 1 1 0 2 1 1 0 2-1 1 0 2 1 1 0 2 1 1 0 2 1 1 0 2 1 1 0 2 1 1 0 2-1 1 0 2 1 1 0 2 1 1 0 2 1 1 0 2 1 1 0 2-1 1 0 2 1 1 0 2 1 1 0 2 1 1 0 2 1 1 0 2 1 1 0 2-1 1 0 2 1 1 0 2 1 1 0 2 1 1 0 2 1 1 0 2 1 1 0 2-1 1 0 2 1 1 0 2 1 1 0 2 1 1 0 2 1 1 0 2-1 1 0 2 1 1 0 2 1 1 0 2 1 1 0 2 1 1 0 2 1 1 0 2-1 1 0 2 1 1 1-1 1 1 1-1 1 1 1-1 1 1 1-1 1 1 1-1 1 1 1-1 1 1 1-1 1 1 1-1 1 1 1-1 1 1 1-1 1 1 1-1 1 1 1-1 1 1 1-1 1 1 1-1 1 1 1-1 1 1 1-1 1 1 1-1 1 1 1-1 1 1 1-1 1 1 1-1 1 1 1-1 1 1 1-1 1 1 1-1 1 1 1-1 1 1 1-1 0-2-1-1 0-2 1-1 1 1 1-1 0-2-1-1 0-2 1-1 0-2-1-1-1 1-1-1 0-2 1-1 0-2-1-1 0-2 1-1 0-2-1-1-1 1-1-1 0-2 1-1 0-2 1-1 1 1 0 2 1 1 1-1 0-2-1-1 0-2-1-1-1 1-1-1 0-2 1-1 0-2-1-1 0-2-1-1 0-2-1-1 0-2-1-1 0-2 1-1 1 1 0 2 1 1 1-1 0-2-1-1 0-2-1-1 0-2 1-1 0-2-1-1 0-2-1-1 0-2 1-1 0-2 1-1 0-2 1-1 0-2-1-1 0-2 1-1 0-2-1-1-1 1 0 2-1 1-1-1 0-2 1-1 0-2 1-1 0-2 1-1 0-2 1-1 0-2-1-1-1 1-1-1 0-2 1-1 1 1 1-1 0-2-1-1 0-2 1-1 0-2-1-1 0-2-1-1-1 1-1-1 0-2 1-1 0-2 1-1 1 1 1-1 0-2-1-1 0-2-1-1 0-2-1-1 0-2 1-1 0-2-1-1 0-2 1-1 1 1 1-1 0-2 1-1 0-2-1-1 0-2-1-1 0-2 1-1 0-2-1-1-1 1-1-1 0-2 1-1 1 1 1-1 0-2-1-1 0-2-1-1 0-2 1-1 0-2 1-1 0-2-1-1 0-2-1-1 0-2 1-1 0-2-1-1-1 1-1-1 0-2 1-1 1 1 1-1 1 1 1-1 0-2-1-1 0-2-1-1 0-2 1-1 0-2-1-1-1 1-1-1-1 1-1-1-1 1-1-1-1 1-1-1-1 1-1-1-1 1-1-1-1 1-1-1-1 1-1-1-1 1-1-1-1 1-1-1-1 1-1-1-1 1-1-1-1 1-1-1-1 1-1-1-1 1-1-1-1 1-1-1-1 1-1-1-1 1-1-1-1 1-1-1-1 1-1-1-1 1-1-1-1 1-1-1-1 1-1-1-1 1-1-1-1 1-1-1-1 1-1-1-1 1-1-1-1 1-1-1-1 1-1-1-1 1-1-1-1 1-1-1-1 1-1-1-1 1-1-1-1 1-1-1-1 1-1-1-1 1-1-1-1 1-1-1-1 1-1-1-1 1-1-1-1 1-1-1-1 1-1-1-1 1-1-1-1 1-1-1-1 1 0 2 1 1 0 2-1 1 0 2 1 1zM82 2l-1-1 0-2 1-1 1 1 0 2zM84 172l1 1 0 2-1 1-1-1 0-2zM86 10l1 1 1-1 0-2-1-1-1 1zM84 58l1 1 1-1 0-2-1-1-1 1z"/>
<path fill="#85bd91" stroke="#85bd91" d="M-2 4l-1 1 0 2 1 1 0 2-1 1 0 2 1 1 0 2 1 1 0 2 1 1 0 2 1 1 0 2 1 1 0 2 1 1 0 2 1 1 0 2 1 1 0 2 1 1 0 2 1 1 0 2 1 1 0 2 1 1 0 2-1 1 0 2 1 1 0 2 1 1 0 2 1 1 0 2 1 1 0 2-1 1 0 2 1 1 0 2 1 1 0 2 1 1 0 2 1 1 0 2 1 1 0 2-1 1 0 2 1 1 0 2 1 1 0 2 1 1 0 2 1 1 0 2-1 1 0 2 1 1 0 2 1 1 0 2 1 1 0 2 1 1 0 2 1 1 0 2-1 1 0 2 1 1 0 2 1 1 0 2 1 1 0 2 1 1 0 2-1 1 0 2 1 1 0 2 1 1 0 2 1 1 0 2 1 1 0 2 1 1 0 2-1 1 0 2 1 1 0 2 1 1 0 2 1 1 0 2 1 1 0 2 1 1 0 2-1 1 0 2 1 1 0 2 1 1 0 2 1 1 0 2 1 1 0 2-1 1 0 2 1 1 1-1 1 1 1-1 1 1 1-1 1 1 1-1 1 1 1-1 1 1 1-1 1 1 1-1 1 1 1-1 1 1 1-1 1 1 1-1 1 1 1-1 1 1 1-1 1 1 1-1 1 1 1-1 1 1 1-1 1 1 1-1 1 1 1-1 1 1 1-1 1 1 1-1 1 1 1-1 1 1 1-1 1 1 1-1 1 1 1-1 1 1 1-1 0-2-1-1 0-2-1-1 0-2-1-1 0-2 1-1 0-2-1-1 0-2-1-1 0-2 1-1 0-2-1-1 0-2-1-1 0-2 1-1 0-2-1-1 0-2 1-1 1 1 1-1 0-2-1-1 0-2-1-1 0-2-1-1 0-2 1-1 0-2 1-1 0-2-1-1 0-2-1-1 0-2-1-1 0-2 1-1 1 1 1-1 0-2-1-1 0-2-1-1 0-2 1-1 0-2-1-1 0-2-1-1 0-2-1-1 0-2 1-1 0-2-1-1 0-2 1-1 1 1 1-1 0-2 1-1 0-2-1-1 0-2-1-1 0-2 1-1 1 1 1-1 0-2-1-1-1 1-1-1 0-2 1-1 0-2-1-1 0-2 1-1 0-2 1-1 1 1 1-1 0-2-1-1-1 1-1-1-1 1 0 2-1 1 0 2-1 1-1-1 0-2 1-1 0-2 1-1 0-2 1-1 1 1 1-1 0-2 1-1 0-2-1-1-1 1-1-1-1 1-1-1 0-2-1-1 0-2 1-1 1 1 0 2 1 1 1-1 0-2 1-1 0-2 1-1 0-2-1-1-1 1-1-1 0-2-1-1 0-2 1-1 1 1 1-1 0-2 1-1 0-2-1-1-1 1-1-1 0-2 1-1 0-2 1-1 0-2 1-1 0-2 1-1 0-2-1-1-1 1 0 2-1 1-1-1 0-2 1-1 0-2-1-1 0-2 1-1 0-2-1-1 0-2 1-1 0-2-1-1 0-2 1-1 0-2 1-1 0-2-1-1-1 1-1-1-1 1-1-1-1 1-1-1-1 1-1-1-1 1-1-1-1 1-1-1-1 1-1-1-1 1-1-1-1 1-1-1-1 1-1-1-1 1-1-1-1 1-1-1-1 1-1-1-1 1-1-1-1 1-1-1-1 1-1-1-1 1-1-1-1 1-1-1-1 1-1-1-1 1-1-1-1 1-1-1-1 1-1-1-1 1-1-1-1 1-1-1-1 1-1-1-1 1-1-1-1 1-1-1-1 1-1-1-1 1-1-1-1 1-1-1-1 1-1-1-1 1-1-1-1 1-1-1-1 1-1-1-1 1-1-1-1 1-1-1-1 1-1-1-1 1-1-1-1 1-1-1-1 1-1-1-1 1-1-1-1 1 0 2 1 1 0 2-1 1 0 2 1 1zM78 130l1 1 0 2-1 1-1-1 0-2-1-1 0-2 1-1 1 1zM78 118l-1 1-1-1 0-2 1-1 1 1zM79 103l1 1 1-1 0-2-1-1-1 1z"/>
<path fill="#7bb991" stroke="#7bb991" d="M11 -7l-1-1-1 1-1-1-1 1-1-1-1 1-1-1-1 1-1-1-1 1-1-1-1 1-1-1-1 1 0 2 1 1 0 2-1 1 0 2 1 1 0 2-1 1 0 2 1 1 0 2-1 1 0 2 1 1 0 2 1 1 0 2 1 1 0 2 1 1 0 2 1 1 0 2 1 1 0 2 1 1 0 2 1 1 0 2 1 1 0 2 1 1 0 2 1 1 0 2 1 1 0 2-1 1 0 2 1 1 0 2 1 1 0 2 1 1 0 2 1 1 0 2 1 1 0 2-1 1 0 2 1 1 0 2 1 1 0 2 1 1 0 2 1 1 0 2 1 1 0 2-1 1 0 2 1 1 0 2 1 1 0 2 1 1 0 2 1 1 0 2-1 1 0 2 1 1 0 2 1 1 0 2 1 1 0 2 1 1 0 2-1 1 0 2 1 1 0 2 1 1 0 2 1 1 0 2 1 1 0 2 1 1 0 2-1 1 0 2 1 1 0 2 1 1 0 2 1 1 0 2 1 1 0 2 1 1 0 2-1 1 0 2 1 1 0 2 1 1 0 2 1 1 0 2 1 1 0 2-1 1 0 2 1 1 0 2 1 1 0 2 1 1 0 2 1 1 0 2 1 1 0 2 1 1 1-1 1 1 1-1 1 1 1-1 1 1 1-1 1 1 1-1 1 1 1-1 1 1 1-1 1 1 1-1 1 1 1-1 1 1 1-1 1 1 1-1 1 1 1-1 1 1 1-1 1 1 1-1 1 1 1-1 1 1 1-1 1 1 1-1 1 1 1-1 1 1 1-1 1 1 1-1 1 1 1-1 0-2-1-1 0-2 1-1 0-2 1-1 0-2-1-1-1 1-1-1 0-2 1-1 0-2-1-1 0-2 1-1 0-2-1-1 0-2-1-1 0-2 1-1 0-2 1-1 0-2-1-1 0-2 1-1 0-2-1-1 0-2-1-1 0-2-1-1 0-2-1-1 0-2 1-1 0-2 1-1 0-2-1-1 0-2-1-1 0-2 1-1 0-2 1-1 0-2-1-1 0-2 1-1 0-2 1-1 0-2-1-1 0-2-1-1 0-2 1-1 0-2-1-1 0-2-1-1 0-2 1-1 0-2 1-1 0-2 1-1 0-2-1-1-1 1-1-1 0-2 1-1 0-2-1-1 0-2 1-1 0-2 1-1 0-2-1-1 0-2 1-1 0-2 1-1 1 1 1-1 0-2-1-1-1 1-1-1 0-2-1-1 0-2 1-1 1 1 1-1 0-2-1-1 0-2 1-1 0-2-1-1 0-2-1-1 0-2-1-1 0-2-1-1 0-2 1-1 1 1 0 2 1 1 1-1 0-2-1-1 0-2-1-1 0-2 1-1 1 1 1-1 0-2-1-1-1 1-1-1 0-2 1-1 0-2-1-1 0-2-1-1 0-2 1-1 1 1 1-1 0-2-1-1-1 1-1-1 0-2 1-1 0-2 1-1 0-2-1-1-1 1-1-1 0-2-1-1-1 1-1-1-1 1-1-1-1 1-1-1-1 1-1-1-1 1-1-1-1 1-1-1-1 1-1-1-1 1-1-1-1 1-1-1-1 1-1-1-1 1-1-1-1 1-1-1-1 1-1-1-1 1-1-1-1 1-1-1-1 1-1-1-1 1-1-1-1 1-1-1-1 1-1-1-1 1-1-1-1 1-1-1-1 1-1-1-1 1-1-1-1 1-1-1-1 1-1-1-1 1-1-1-1 1-1-1-1 1-1-1-1 1-1-1-1 1-1-1-1 1-1-1zM75 109l-1 1-1-1 0-2 1-1 1 1zM77 41l0 2-1 1-1-1 0-2 1-1zM74 56l1-1 1 1 0 2-1 1-1-1zM77 151l-1 1-1-1 0-2 1-1 1 1zM81 181l1 1 1-1 0-2-1-1-1 1z"/>
<path fill="#72b490" stroke="#72b490" d="M0 -8l-1 1-1-1-1 1 0 2 1 1 0 2-1 1 0 2 1 1 0 2-1 1 0 2 1 1 0 2-1 1 0 2 1 1 0 2 1 1 0 2 1 1 0 2 1 1 0 2 1 1 0 2 1 1 0 2 1 1 0 2 1 1 0 2 1 1 0 2 1 1 0 2 1 1 0 2 1 1 0 2-1 1 0 2 1 1 0 2 1 1 0 2 1 1 0 2 1 1 0 2 1 1 0 2-1 1 0 2 1 1 0 2 1 1 0 2 1 1 0 2 1 1 0 2 1 1 0 2-1 1 0 2 1 1 0 2 1 1 0 2 1 1 0 2 1 1 0 2-1 1 0 2 1 1 0 2 1 1 0 2 1 1 0 2 1 1 0 2-1 1 0 2 1 1 0 2 1 1 0 2 1 1 0 2 1 1 0 2 1 1 0 2-1 1 0 2 1 1 0 2 1 1 0 2 1 1 0 2 1 1 0 2 1 1 0 2-1 1 0 2 1 1 0 2 1 1 0 2 1 1 0 2 1 1 0 2 1 1 0 2-1 1 0 2 1 1 0 2 1 1 0 2 1 1 0 2 1 1 0 2 1 1 1-1 1 1 1-1 1 1 1-1 1 1 1-1 1 1 1-1 1 1 1-1 1 1 1-1 1 1 1-1 1 1 1-1 1 1 1-1 1 1 1-1 1 1 1-1 1 1 1-1 1 1 1-1 1 1 1-1 1 1 1-1 1 1 1-1 1 1 1-1 1 1 1-1 1 1 1-1 0-2-1-1 0-2 1-1 0-2-1-1 0-2-1-1 0-2 1-1 0-2-1-1 0-2 1-1 1 1 1-1 0-2-1-1-1 1-1-1 0-2 1-1 0-2-1-1 0-2-1-1-1 1-1-1 0-2 1-1 1 1 1-1 0-2-1-1 0-2 1-1 0-2-1-1 0-2-1-1 0-2-1-1 0-2 1-1 0-2-1-1 0-2 1-1 0-2-1-1 0-2-1-1 0-2 1-1 0-2 1-1 0-2-1-1 0-2-1-1 0-2 1-1 1 1 1-1 0-2-1-1 0-2-1-1 0-2 1-1 1 1 1-1 0-2-1-1 0-2-1-1 0-2 1-1 0-2-1-1-1 1-1-1 0-2 1-1 0-2 1-1 1 1 1-1 0-2-1-1-1 1-1-1 0-2 1-1 0-2-1-1 0-2 1-1 0-2 1-1 0-2-1-1 0-2 1-1 0-2-1-1 0-2 1-1 0-2 1-1 0-2-1-1-1 1-1-1 0-2 1-1 0-2-1-1 0-2 1-1 1 1 0 2 1 1 1-1 0-2-1-1 0-2-1-1 0-2 1-1 0-2-1-1-1 1-1-1 0-2-1-1 0-2 1-1 1 1 1-1 0-2-1-1 0-2 1-1 1 1 1-1 0-2-1-1-1 1-1-1 0-2 1-1 0-2-1-1 0-2 1-1 0-2 1-1 0-2-1-1-1 1-1-1 0-2-1-1-1 1-1-1-1 1-1-1-1 1-1-1-1 1-1-1-1 1-1-1-1 1-1-1-1 1-1-1-1 1-1-1-1 1-1-1-1 1-1-1-1 1-1-1-1 1-1-1-1 1-1-1-1 1-1-1-1 1-1-1-1 1-1-1-1 1-1-1-1 1-1-1-1 1-1-1-1 1-1-1-1 1-1-1-1 1-1-1-1 1-1-1-1 1-1-1-1 1-1-1-1 1-1-1-1 1-1-1-1 1-1-1-1 1-1-1-1 1-1-1-1 1-1-1-1 1-1-1-1 1-1-1-1 1-1-1-1 1-1-1-1 1zM72 74l0 2-1 1-1-1 0-2 1-1z"/>
<path fill="#69b090" stroke="#69b090" d="M3 -7l-1-1-1 1-1-1-1 1-1-1-1 1 0 2 1 1 0 2-1 1 0 2 1 1 0 2-1 1 0 2 1 1 0 2-1 1 0 2 1 1 0 2 1 1 0 2 1 1 0 2 1 1 0 2 1 1 0 2 1 1 0 2 1 1 0 2 1 1 0 2 1 1 0 2 1 1 0 2 1 1 0 2 1 1 0 2 1 1 0 2-1 1 0 2 1 1 0 2 1 1 0 2 1 1 0 2 1 1 0 2 1 1 0 2-1 1 0 2 1 1 0 2 1 1 0 2 1 1 0 2 1 1 0 2-1 1 0 2 1 1 0 2 1 1 0 2 1 1 0 2 1 1 0 2 1 1 0 2-1 1 0 2 1 1 0 2 1 1 0 2 1 1 0 2 1 1 0 2-1 1 0 2 1 1 0 2 1 1 0 2 1 1 0 2 1 1 0 2-1 1 0 2 1 1 0 2 1 1 0 2 1 1 0 2 1 1 0 2 1 1 0 2-1 1 0 2 1 1 0 2 1 1 0 2 1 1 0 2 1 1 0 2 1 1 0 2-1 1 0 2 1 1 0 2 1 1 0 2 1 1 0 2 1 1 0 2 1 1 1-1 1 1 1-1 1 1 1-1 1 1 1-1 1 1 1-1 1 1 1-1 1 1 1-1 1 1 1-1 1 1 1-1 1 1 1-1 1 1 1-1 1 1 1-1 1 1 1-1 1 1 1-1 1 1 1-1 1 1 1-1 1 1 1-1 1 1 1-1 1 1 1-1 0-2-1-1 0-2 1-1 0-2-1-1 0-2-1-1 0-2 1-1 0-2-1-1 0-2-1-1 0-2 1-1 0-2-1-1 0-2 1-1 0-2-1-1 0-2 1-1 1 1 1-1 0-2-1-1-1 1-1-1 0-2-1-1 0-2-1-1 0-2 1-1 0-2 1-1 0-2-1-1 0-2 1-1 0-2-1-1 0-2-1-1 0-2 1-1 0-2-1-1 0-2 1-1 0-2 1-1 0-2-1-1 0-2-1-1 0-2 1-1 0-2 1-1 0-2-1-1 0-2-1-1 0-2 1-1 1 1 1-1 0-2-1-1-1 1-1-1 0-2 1-1 0-2 1-1 0-2-1-1-1 1-1-1 0-2 1-1 0-2 1-1 1 1 1-1 0-2-1-1-1 1-1-1 0-2 1-1 0-2 1-1 0-2-1-1 0-2-1-1 0-2 1-1 0-2-1-1 0-2 1-1 0-2-1-1 0-2 1-1 0-2 1-1 0-2-1-1-1 1-1-1 0-2 1-1 1 1 1-1 0-2 1-1 0-2-1-1 0-2-1-1 0-2 1-1 1 1 1-1 0-2-1-1-1 1-1-1 0-2-1-1 0-2 1-1 1 1 1-1 0-2 1-1 0-2-1-1-1 1 0 2-1 1-1-1 0-2 1-1 0-2 1-1 0-2-1-1 0-2-1-1 0-2-1-1-1 1-1-1-1 1-1-1-1 1-1-1-1 1-1-1-1 1-1-1-1 1-1-1-1 1-1-1-1 1-1-1-1 1-1-1-1 1-1-1-1 1-1-1-1 1-1-1-1 1-1-1-1 1-1-1-1 1-1-1-1 1-1-1-1 1-1-1-1 1-1-1-1 1-1-1-1 1-1-1-1 1-1-1-1 1-1-1-1 1-1-1-1 1-1-1-1 1-1-1-1 1-1-1-1 1-1-1-1 1-1-1-1 1-1-1-1 1-1-1-1 1-1-1-1 1-1-1-1 1-1-1zM73 55l1 1 1-1 0-2-1-1-1 1z"/>
<path fill="#61aa90" stroke="#61aa90" d="M3 -7l-1-1-1 1-1-1-1 1-1-1-1 1 0 2 1 1 0 2-1 1 0 2 1 1 0 2-1 1 0 2 1 1 0 2-1 1 0 2 1 1 0 2 1 1 0 2 1 1 0 2 1 1 0 2 1 1 0 2 1 1 0 2 1 1 0 2 1 1 0 2 1 1 0 2 1 1 0 2 1 1 0 2 1 1 0 2 1 1 0 2-1 1 0 2 1 1 0 2 1 1 0 2 1 1 0 2 1 1 0 2 1 1 0 2-1 1 0 2 1 1 0 2 1 1 0 2 1 1 0 2 1 1 0 2-1 1 0 2 1 1 0 2 1 1 0 2 1 1 0 2 1 1 0 2 1 1 0 2-1 1 0 2 1 1 0 2 1 1 0 2 1 1 0 2 1 1 0 2-1 1 0 2 1 1 0 2 1 1 0 2 1 1 0 2 1 1 0 2 1 1 0 2-1 1 0 2 1 1 0 2 1 1 0 2 1 1 0 2 1 1 0 2 1 1 0 2 1 1 0 2-1 1 0 2 1 1 0 2 1 1 0 2 1 1 0 2-1 1 0 2 1 1 0 2 1 1 0 2 1 1 0 2 1 1 0 2 1 1 1-1 1 1 1-1 1 1 1-1 1 1 1-1 1 1 1-1 1 1 1-1 1 1 1-1 1 1 1-1 1 1 1-1 1 1 1-1 1 1 1-1 1 1 1-1 1 1 1-1 1 1 1-1 1 1 1-1 1 1 1-1 1 1 1-1 1 1 1-1 0-2 1-1 0-2 1-1 0-2-1-1-1 1-1-1 0-2 1-1 0-2-1-1 0-2-1-1 0-2-1-1 0-2 1-1 1 1 1-1 0-2-1-1 0-2-1-1 0-2-1-1 0-2 1-1 1 1 1-1 0-2-1-1-1 1-1-1 0-2 1-1 0-2-1-1 0-2 1-1 0-2-1-1 0-2-1-1 0-2-1-1 0-2-1-1 0-2 1-1 0-2-1-1 0-2 1-1 1 1 0 2 1 1 1-1 0-2-1-1 0-2-1-1 0-2-1-1 0-2 1-1 0-2 1-1 0-2 1-1 0-2 1-1 0-2-1-1-1 1 0 2-1 1-1-1-1 1-1-1 0-2 1-1 1 1 1-1 0-2 1-1 0-2-1-1 0-2-1-1 0-2 1-1 0-2-1-1 0-2 1-1 0-2-1-1 0-2 1-1 0-2-1-1 0-2 1-1 0-2 1-1 0-2-1-1 0-2-1-1 0-2 1-1 1 1 1-1 0-2-1-1 0-2-1-1 0-2-1-1 0-2-1-1 0-2 1-1 0-2 1-1 0-2 1-1 0-2-1-1-1 1-1-1 0-2 1-1 0-2 1-1 1 1 1-1 0-2-1-1 0-2 1-1 0-2-1-1 0-2-1-1 0-2-1-1 0-2-1-1 0-2 1-1 1 1 1-1 0-2 1-1 0-2-1-1 0-2-1-1-1 1-1-1-1 1-1-1-1 1-1-1-1 1-1-1-1 1-1-1-1 1-1-1-1 1-1-1-1 1-1-1-1 1-1-1-1 1-1-1-1 1-1-1-1 1-1-1-1 1-1-1-1 1-1-1-1 1-1-1-1 1-1-1-1 1-1-1-1 1-1-1-1 1-1-1-1 1-1-1-1 1-1-1-1 1-1-1-1 1-1-1-1 1-1-1-1 1-1-1-1 1-1-1-1 1-1-1-1 1-1-1-1 1-1-1-1 1-1-1-1 1-1-1-1 1-1-1-1 1-1-1zM69 139l1 1 0 2-1 1-1-1 0-2zM70 40l1 1 1-1 0-2-1-1-1 1z"/>
<path fill="#5aa690" stroke="#5aa690" d="M1 -7l-1-1-1 1-1-1-1 1 0 2 1 1 0 2-1 1 0 2 1 1 0 2-1 1 0 2 1 1 0 2-1 1 0 2 1 1 0 2 1 1 0 2 1 1 0 2 1 1 0 2 1 1 0 2 1 1 0 2 1 1 0 2 1 1 0 2 1 1 0 2 1 1 0 2 1 1 0 2 1 1 0 2 1 1 0 2 1 1 0 2-1 1 0 2 1 1 0 2 1 1 0 2 1 1 0 2 1 1 0 2-1 1 0 2 1 1 0 2 1 1 0 2 1 1 0 2 1 1 0 2 1 1 0 2-1 1 0 2 1 1 0 2 1 1 0 2 1 1 0 2 1 1 0 2-1 1 0 2 1 1 0 2 1 1 0 2 1 1 0 2 1 1 0 2 1 1 0 2 1 1 0 2-1 1 0 2 1 1 0 2 1 1 0 2 1 1 0 2-1 1 0 2 1 1 0 2 1 1 0 2 1 1 0 2 1 1 0 2 1 1 0 2 1 1 0 2-1 1 0 2 1 1 0 2 1 1 0 2 1 1 0 2 1 1 0 2 1 1 0 2-1 1 0 2 1 1 0 2 1 1 0 2 1 1 1-1 1 1 1-1 1 1 1-1 1 1 1-1 1 1 1-1 1 1 1-1 1 1 1-1 1 1 1-1 1 1 1-1 1 1 1-1 1 1 1-1 1 1 1-1 1 1 1-1 1 1 1-1 1 1 1-1 1 1 1-1 1 1 1-1 1 1 1-1 0-2-1-1 0-2-1-1 0-2 1-1 0-2-1-1 0-2-1-1 0-2 1-1 0-2-1-1 0-2 1-1 0-2 1-1 0-2-1-1-1 1-1-1 0-2-1-1 0-2 1-1 0-2-1-1 0-2-1-1 0-2 1-1 0-2-1-1 0-2-1-1 0-2-1-1 0-2 1-1 0-2 1-1 0-2-1-1-1 1-1-1 0-2 1-1 0-2 1-1 0-2 1-1 0-2-1-1 0-2-1-1 0-2 1-1 1 1 1-1 0-2-1-1-1 1-1-1-1 1-1-1 0-2 1-1 1 1 1-1 0-2 1-1 0-2-1-1 0-2 1-1 0-2-1-1 0-2 1-1 0-2 1-1 0-2 1-1 0-2-1-1 0-2-1-1 0-2 1-1 0-2 1-1 0-2-1-1 0-2 1-1 0-2-1-1 0-2-1-1 0-2 1-1 0-2-1-1 0-2-1-1 0-2 1-1 0-2 1-1 0-2 1-1 0-2-1-1 0-2-1-1 0-2 1-1 0-2-1-1 0-2-1-1 0-2 1-1 0-2 1-1 0-2-1-1 0-2 1-1 0-2-1-1 0-2-1-1 0-2 1-1 0-2 1-1 0-2-1-1-1 1-1-1-1 1-1-1-1 1-1-1-1 1-1-1-1 1-1-1-1 1-1-1-1 1-1-1-1 1-1-1-1 1-1-1-1 1-1-1-1 1-1-1-1 1-1-1-1 1-1-1-1 1-1-1-1 1-1-1-1 1-1-1-1 1-1-1-1 1-1-1-1 1-1-1-1 1-1-1-1 1-1-1-1 1-1-1-1 1-1-1-1 1-1-1-1 1-1-1-1 1-1-1-1 1-1-1-1 1-1-1-1 1-1-1-1 1-1-1-1 1-1-1-1 1-1-1-1 1-1-1zM67 67l-1 1-1-1 0-2 1-1 1 1zM67 73l1 1 0 2-1 1-1-1 0-2zM69 19l1 1 1-1 0-2-1-1-1 1zM70 128l-1-1-1 1 0 2 1 1 0 2 1 1 1-1 0-2-1-1zM70 142l1 1 1-1 0-2-1-1-1 1z"/>
<path fill="#53a190" stroke="#53a190" d="M-2 -8l-1 1 0 2 1 1 0 2-1 1 0 2 1 1 0 2-1 1 0 2 1 1 0 2-1 1 0 2 1 1 0 2 1 1 0 2 1 1 0 2 1 1 0 2 1 1 0 2 1 1 0 2 1 1 0 2 1 1 0 2 1 1 0 2 1 1 0 2 1 1 0 2 1 1 0 2 1 1 0 2 1 1 0 2-1 1 0 2 1 1 0 2 1 1 0 2 1 1 0 2 1 1 0 2 1 1 0 2-1 1 0 2 1 1 0 2 1 1 0 2 1 1 0 2 1 1 0 2 1 1 0 2-1 1 0 2 1 1 0 2 1 1 0 2 1 1 0 2 1 1 0 2-1 1 0 2 1 1 0 2 1 1 0 2 1 1 0 2 1 1 0 2 1 1 0 2-1 1 0 2 1 1 0 2 1 1 0 2 1 1 0 2 1 1 0 2 1 1 0 2-1 1 0 2 1 1 0 2 1 1 0 2 1 1 0 2 1 1 0 2-1 1 0 2 1 1 0 2 1 1 0 2 1 1 0 2 1 1 0 2 1 1 0 2-1 1 0 2 1 1 0 2 1 1 0 2 1 1 1-1 1 1 1-1 1 1 1-1 1 1 1-1 1 1 1-1 1 1 1-1 1 1 1-1 1 1 1-1 1 1 1-1 1 1 1-1 1 1 1-1 1 1 1-1 1 1 1-1 1 1 1-1 1 1 1-1 1 1 1-1 0-2-1-1 0-2-1-1 0-2 1-1 0-2 1-1 0-2 1-1 0-2-1-1 0-2 1-1 0-2-1-1 0-2 1-1 0-2-1-1 0-2-1-1 0-2-1-1 0-2-1-1 0-2 1-1 0-2-1-1 0-2 1-1 0-2-1-1 0-2-1-1 0-2 1-1 0-2-1-1 0-2-1-1 0-2-1-1 0-2 1-1 0-2 1-1 1 1 1-1 0-2-1-1 0-2-1-1-1 1-1-1 0-2 1-1 1 1 1-1 0-2-1-1-1 1-1-1 0-2 1-1 0-2 1-1 0-2 1-1 0-2 1-1 0-2-1-1-1 1-1-1 0-2 1-1 0-2 1-1 0-2-1-1 0-2 1-1 0-2 1-1 0-2-1-1-1 1-1-1 0-2 1-1 0-2-1-1 0-2 1-1 1 1 1-1 0-2-1-1 0-2-1-1 0-2-1-1 0-2-1-1 0-2 1-1 0-2 1-1 1 1 1-1 0-2-1-1 0-2-1-1 0-2 1-1 0-2-1-1 0-2 1-1 0-2-1-1 0-2-1-1 0-2 1-1 1 1 1-1 0-2-1-1 0-2-1-1 0-2 1-1 0-2 1-1 0-2-1-1 0-2-1-1 0-2 1-1 0-2-1-1-1 1-1-1-1 1-1-1-1 1-1-1-1 1-1-1-1 1-1-1-1 1-1-1-1 1-1-1-1 1-1-1-1 1-1-1-1 1-1-1-1 1-1-1-1 1-1-1-1 1-1-1-1 1-1-1-1 1-1-1-1 1-1-1-1 1-1-1-1 1-1-1-1 1-1-1-1 1-1-1-1 1-1-1-1 1-1-1-1 1-1-1-1 1-1-1-1 1-1-1-1 1-1-1-1 1-1-1-1 1-1-1-1 1-1-1-1 1-1-1-1 1-1-1-1 1-1-1-1 1-1-1-1 1zM64 4l0-2 1-1 1 1 0 2-1 1 0 2-1 1-1-1 0-2zM70 176l0 2 1 1 1-1 0-2-1-1z"/>
<path fill="#4d9c90" stroke="#4d9c90" d="M0 -8l-1 1-1-1-1 1 0 2 1 1 0 2-1 1 0 2 1 1 0 2-1 1 0 2 1 1 0 2-1 1 0 2 1 1 0 2 1 1 0 2 1 1 0 2 1 1 1-1 1 1 0 2-1 1 0 2 1 1 0 2 1 1 0 2 1 1 0 2 1 1 0 2 1 1 0 2 1 1 0 2 1 1 0 2 1 1 0 2 1 1 0 2-1 1 0 2 1 1 0 2 1 1 0 2 1 1 0 2 1 1 0 2 1 1 0 2-1 1 0 2 1 1 0 2 1 1 0 2 1 1 0 2 1 1 0 2 1 1 0 2-1 1 0 2 1 1 0 2 1 1 0 2 1 1 0 2 1 1 0 2-1 1 0 2 1 1 0 2 1 1 0 2 1 1 0 2 1 1 0 2 1 1 0 2 1 1 0 2-1 1 0 2 1 1 0 2 1 1 0 2 1 1 0 2 1 1 0 2-1 1 0 2 1 1 0 2 1 1 0 2 1 1 0 2 1 1 0 2 1 1 0 2-1 1 0 2 1 1 0 2 1 1 0 2 1 1 0 2 1 1 0 2-1 1 0 2 1 1 0 2 1 1 0 2 1 1 1-1 1 1 1-1 1 1 1-1 1 1 1-1 1 1 1-1 1 1 1-1 1 1 1-1 1 1 1-1 1 1 1-1 1 1 1-1 1 1 1-1 1 1 1-1 1 1 1-1 1 1 1-1 1 1 1-1 1 1 1-1 0-2-1-1 0-2-1-1 0-2 1-1 0-2-1-1 0-2 1-1 0-2 1-1 0-2-1-1 0-2 1-1 0-2-1-1 0-2-1-1 0-2 1-1 0-2-1-1 0-2-1-1 0-2 1-1 0-2-1-1 0-2-1-1 0-2-1-1 0-2 1-1 0-2-1-1 0-2-1-1 0-2 1-1 0-2-1-1 0-2 1-1 0-2-1-1 0-2 1-1 0-2-1-1 0-2-1-1 0-2 1-1 0-2-1-1 0-2-1-1 0-2-1-1 0-2 1-1 1 1 1-1 1 1 1-1 0-2-1-1 0-2 1-1 0-2 1-1 0-2-1-1-1 1 0 2-1 1-1-1 0-2-1-1 0-2 1-1 1 1 1-1 0-2-1-1 0-2 1-1 0-2 1-1 0-2-1-1-1 1-1-1 0-2 1-1 0-2 1-1 0-2-1-1 0-2 1-1 0-2-1-1 0-2 1-1 0-2-1-1 0-2 1-1 1 1 1-1 0-2-1-1 0-2-1-1-1 1-1-1 0-2 1-1 0-2 1-1 0-2 1-1 0-2-1-1 0-2-1-1 0-2 1-1 0-2-1-1 0-2-1-1 0-2 1-1 0-2 1-1 0-2 1-1 0-2-1-1-1 1-1-1 0-2-1-1-1 1-1-1-1 1-1-1-1 1-1-1-1 1-1-1-1 1-1-1-1 1-1-1-1 1-1-1-1 1-1-1-1 1-1-1-1 1-1-1-1 1-1-1-1 1-1-1-1 1-1-1-1 1-1-1-1 1-1-1-1 1-1-1-1 1-1-1-1 1-1-1-1 1-1-1-1 1-1-1-1 1-1-1-1 1-1-1-1 1-1-1-1 1-1-1-1 1-1-1-1 1-1-1-1 1-1-1-1 1-1-1-1 1-1-1-1 1-1-1-1 1zM62 16l1 1 0 2-1 1-1-1 0-2zM66 16l1 1 1-1 0-2-1-1-1 1zM64 92l0 2 1 1 1-1 0-2-1-1z"/>
<path fill="#47978f" stroke="#47978f" d="M0 -8l-1 1-1-1-1 1 0 2 1 1 0 2-1 1 0 2 1 1 0 2-1 1 0 2 1 1 0 2 1 1 0 2 1 1 0 2-1 1 0 2 1 1 1-1 1 1 0 2 1 1 0 2-1 1 0 2 1 1 0 2 1 1 0 2 1 1 0 2 1 1 0 2 1 1 0 2 1 1 0 2 1 1 0 2 1 1 0 2 1 1 0 2-1 1 0 2 1 1 0 2 1 1 0 2 1 1 0 2 1 1 0 2 1 1 0 2 1 1 0 2-1 1 0 2 1 1 0 2 1 1 0 2 1 1 0 2 1 1 0 2-1 1 0 2 1 1 0 2 1 1 0 2 1 1 0 2 1 1 0 2 1 1 0 2-1 1 0 2 1 1 0 2 1 1 0 2 1 1 0 2 1 1 0 2 1 1 0 2-1 1 0 2 1 1 0 2 1 1 0 2 1 1 0 2 1 1 0 2 1 1 0 2-1 1 0 2 1 1 0 2 1 1 0 2 1 1 0 2 1 1 0 2-1 1 0 2 1 1 0 2 1 1 0 2 1 1 0 2 1 1 0 2 1 1 0 2-1 1 0 2 1 1 0 2 1 1 1-1 1 1 1-1 1 1 1-1 1 1 1-1 1 1 1-1 1 1 1-1 1 1 1-1 1 1 1-1 1 1 1-1 1 1 1-1 1 1 1-1 1 1 1-1 1 1 1-1 1 1 1-1 1 1 1-1 1 1 1-1 0-2-1-1-1 1-1-1 0-2 1-1 0-2 1-1 0-2-1-1-1 1 0 2-1 1-1-1 0-2 1-1 0-2 1-1 1 1 1-1 0-2-1-1-1 1-1-1 0-2 1-1 0-2 1-1 0-2-1-1 0-2 1-1 0-2-1-1 0-2 1-1 0-2-1-1-1 1-1-1 0-2 1-1 0-2-1-1 0-2 1-1 0-2-1-1-1 1-1-1 0-2 1-1 0-2 1-1 0-2-1-1-1 1-1-1 0-2 1-1 1 1 1-1 0-2-1-1-1 1-1-1 0-2 1-1 0-2-1-1 0-2 1-1 0-2 1-1 0-2-1-1 0-2-1-1 0-2-1-1 0-2 1-1 0-2-1-1 0-2 1-1 1 1 1-1 0-2 1-1 0-2-1-1 0-2-1-1 0-2-1-1 0-2-1-1 0-2 1-1 1 1 1-1 0-2-1-1 0-2-1-1 0-2 1-1 0-2 1-1 0-2 1-1 0-2-1-1 0-2 1-1 0-2-1-1 0-2-1-1 0-2 1-1 0-2-1-1-1 1-1-1 0-2 1-1 1 1 1-1 1 1 1-1 0-2-1-1-1 1-1-1 0-2 1-1 0-2 1-1 0-2-1-1-1 1-1-1 0-2-1-1 0-2 1-1 1 1 1-1 0-2-1-1-1 1-1-1 0-2 1-1 1 1 1-1 0-2-1-1-1 1-1-1 0-2 1-1 0-2-1-1 0-2 1-1 1 1 1-1 0-2-1-1 0-2-1-1-1 1-1-1-1 1-1-1-1 1-1-1-1 1-1-1-1 1-1-1-1 1-1-1-1 1-1-1-1 1-1-1-1 1-1-1-1 1-1-1-1 1-1-1-1 1-1-1-1 1-1-1-1 1-1-1-1 1-1-1-1 1-1-1-1 1-1-1-1 1-1-1-1 1-1-1-1 1-1-1-1 1-1-1-1 1-1-1-1 1-1-1-1 1-1-1-1 1-1-1-1 1-1-1-1 1-1-1-1 1-1-1-1 1-1-1-1 1-1-1-1 1zM63 47l0 2-1 1-1-1 0-2 1-1zM62 104l0 2-1 1-1-1 0-2 1-1zM63 85l-1 1-1-1 0-2 1-1 1 1zM61 59l0 2-1 1-1-1 0-2 1-1z"/>
<path fill="#41928f" stroke="#41928f" d="M-2 2l0 2-1 1 0 2 1 1 0 2 1 1 0 2 1 1 0 2 1 1 0 2 1 1 0 2 1 1 0 2 1 1 0 2 1 1 0 2 1 1 0 2-1 1 0 2 1 1 0 2 1 1 0 2 1 1 0 2 1 1 0 2 1 1 0 2 1 1 0 2 1 1 0 2 1 1 0 2-1 1 0 2 1 1 0 2 1 1 0 2 1 1 0 2 1 1 0 2-1 1 0 2 1 1 0 2 1 1 0 2 1 1 0 2 1 1 0 2 1 1 0 2 1 1 0 2-1 1 0 2 1 1 0 2 1 1 0 2 1 1 0 2-1 1 0 2 1 1 0 2 1 1 0 2 1 1 0 2 1 1 0 2 1 1 0 2 1 1 0 2-1 1 0 2 1 1 0 2 1 1 0 2 1 1 0 2 1 1 0 2-1 1 0 2 1 1 0 2 1 1 0 2 1 1 0 2 1 1 0 2 1 1 0 2-1 1 0 2 1 1 0 2 1 1 0 2 1 1 0 2 1 1 0 2 1 1 0 2 1 1 0 2 1 1 1-1 1 1 1-1 1 1 1-1 1 1 1-1 1 1 1-1 1 1 1-1 1 1 1-1 1 1 1-1 1 1 1-1 1 1 1-1 1 1 1-1 1 1 1-1 1 1 1-1 0-2 1-1 0-2 1-1 0-2-1-1-1 1-1-1 0-2 1-1 0-2-1-1 0-2 1-1 0-2 1-1 0-2-1-1 0-2 1-1 0-2 1-1 0-2-1-1 0-2-1-1 0-2-1-1 0-2-1-1 0-2 1-1 0-2 1-1 0-2-1-1-1 1-1-1 0-2 1-1 0-2-1-1 0-2-1-1 0-2 1-1 0-2-1-1-1 1-1-1 0-2 1-1 1 1 1-1 0-2-1-1-1 1-1-1 0-2 1-1 0-2-1-1 0-2 1-1 0-2-1-1 0-2 1-1 0-2 1-1 0-2-1-1-1 1 0 2-1 1-1-1 0-2 1-1 0-2 1-1 0-2-1-1-1 1-1-1 0-2 1-1 1 1 1-1 1 1 1-1 0-2 1-1 0-2-1-1-1 1-1-1-1 1-1-1 0-2 1-1 1 1 1-1 0-2-1-1 0-2 1-1 1 1 1-1 0-2-1-1-1 1-1-1 0-2-1-1 0-2 1-1 1 1 1-1 0-2-1-1 0-2-1-1 0-2-1-1 0-2 1-1 0-2 1-1 1 1 1-1 0-2-1-1 0-2-1-1 0-2-1-1 0-2-1-1 0-2 1-1 0-2 1-1 1 1 1-1 0-2-1-1-1 1-1-1 0-2 1-1 0-2-1-1 0-2 1-1 0-2 1-1 0-2-1-1-1 1-1-1 0-2 1-1 0-2 1-1 0-2-1-1 0-2-1-1 0-2-1-1-1 1-1-1-1 1-1-1-1 1-1-1-1 1-1-1-1 1-1-1-1 1-1-1-1 1-1-1-1 1-1-1-1 1-1-1-1 1-1-1-1 1-1-1-1 1-1-1-1 1-1-1-1 1-1-1-1 1-1-1-1 1-1-1-1 1-1-1-1 1-1-1-1 1-1-1-1 1-1-1-1 1-1-1-1 1-1-1-1 1-1-1-1 1-1-1-1 1-1-1-1 1-1-1-1 1-1-1-1 1-1-1-1 1-1-1-1 1-1-1-1 1 0 2 1 1 0 2-1 1 0 2zM58 64l1 1 0 2-1 1-1-1 0-2zM61 -7l0 2 1 1 1-1 0-2-1-1zM68 184l1 1 1-1 0-2-1-1-1 1z"/>
<path fill="#3c8c8e" stroke="#3c8c8e" d="M-2 -8l-1 1 0 2 1 1 0 2-1 1 0 2 1 1 0 2-1 1 0 2 1 1 0 2 1 1 0 2 1 1 0 2 1 1 0 2 1 1 0 2 1 1 0 2 1 1 0 2 1 1 0 2 1 1 0 2 1 1 0 2 1 1 0 2-1 1 0 2 1 1 0 2 1 1 0 2 1 1 0 2 1 1 0 2 1 1 0 2 1 1 0 2 1 1 0 2-1 1 0 2 1 1 0 2 1 1 0 2 1 1 0 2 1 1 0 2-1 1 0 2 1 1 0 2 1 1 0 2 1 1 0 2 1 1 0 2 1 1 0 2-1 1 0 2 1 1 0 2 1 1 0 2 1 1 0 2-1 1 0 2 1 1 1-1 1 1 0 2-1 1 0 2 1 1 0 2 1 1 0 2 1 1 0 2 1 1 0 2-1 1 0 2 1 1 0 2 1 1 0 2 1 1 0 2 1 1 0 2 1 1 0 2-1 1 0 2 1 1 1-1 1 1 0 2-1 1 0 2 1 1 0 2 1 1 0 2 1 1 0 2-1 1 0 2 1 1 0 2 1 1 0 2 1 1 0 2 1 1 0 2 1 1 0 2 1 1 1-1 1 1 1-1 1 1 1-1 1 1 1-1 1 1 1-1 1 1 1-1 1 1 1-1 1 1 1-1 1 1 1-1 1 1 1-1 1 1 1-1 1 1 1-1 1 1 1-1 0-2 1-1 0-2-1-1 0-2-1-1 0-2-1-1 0-2 1-1 0-2-1-1 0-2 1-1 0-2 1-1 0-2-1-1 0-2-1-1 0-2 1-1 0-2-1-1 0-2-1-1 0-2 1-1 0-2-1-1 0-2-1-1 0-2-1-1 0-2 1-1 0-2-1-1 0-2-1-1 0-2 1-1 1 1 1-1 0-2-1-1-1 1-1-1 0-2 1-1 0-2-1-1 0-2 1-1 0-2-1-1-1 1-1-1-1 1-1-1 0-2 1-1 0-2 1-1 0-2-1-1 0-2 1-1 0-2 1-1 0-2 1-1 0-2-1-1-1 1-1-1 0-2 1-1 1 1 1-1 0-2 1-1 0-2-1-1-1 1 0 2-1 1-1-1 0-2 1-1 0-2 1-1 0-2 1-1 0-2 1-1 0-2-1-1-1 1 0 2-1 1-1-1-1 1-1-1 0-2-1-1 0-2 1-1 1 1 0 2 1 1 1-1 0-2 1-1 0-2 1-1 0-2-1-1 0-2 1-1 0-2-1-1 0-2-1-1 0-2 1-1 0-2-1-1 0-2-1-1 0-2-1-1 0-2 1-1 0-2 1-1 0-2 1-1 1 1 1-1 0-2-1-1 0-2-1-1-1 1-1-1 0-2 1-1 0-2 1-1 1 1 1-1 0-2-1-1 0-2-1-1 0-2-1-1-1 1-1-1 0-2 1-1 1 1 1-1 0-2-1-1 0-2-1-1 0-2-1-1-1 1-1-1-1 1-1-1-1 1-1-1-1 1-1-1-1 1-1-1-1 1-1-1-1 1-1-1-1 1-1-1-1 1-1-1-1 1-1-1-1 1-1-1-1 1-1-1-1 1-1-1-1 1-1-1-1 1-1-1-1 1-1-1-1 1-1-1-1 1-1-1-1 1-1-1-1 1-1-1-1 1-1-1-1 1-1-1-1 1-1-1-1 1-1-1-1 1-1-1-1 1-1-1-1 1-1-1-1 1-1-1-1 1zM56 22l1 1 0 2-1 1-1-1 0-2zM54 2l0 2-1 1-1-1 0-2 1-1zM56 88l1 1 0 2-1 1-1-1 0-2zM55 79l1 1 0 2-1 1-1-1 0-2zM61 173l1-1 1 1 0 2-1 1-1-1zM58 32l0 2 1 1 1-1 0-2-1-1z"/>
<path fill="#37888d" stroke="#37888d" d="M-2 4l-1 1 0 2 1 1 0 2 1 1 0 2 1 1 0 2 1 1 0 2 1 1 0 2 1 1 0 2 1 1 0 2 1 1 0 2 1 1 0 2 1 1 0 2 1 1 0 2-1 1 0 2 1 1 1-1 1 1 0 2-1 1 0 2 1 1 0 2 1 1 0 2 1 1 0 2 1 1 0 2 1 1 0 2 1 1 0 2-1 1 0 2 1 1 0 2 1 1 0 2 1 1 0 2-1 1 0 2 1 1 1-1 1 1 0 2-1 1 0 2 1 1 0 2 1 1 0 2 1 1 0 2-1 1 0 2 1 1 0 2 1 1 0 2 1 1 0 2 1 1 0 2 1 1 0 2-1 1 0 2 1 1 0 2 1 1 0 2 1 1 0 2 1 1 0 2 1 1 0 2-1 1 0 2 1 1 0 2 1 1 0 2 1 1 0 2 1 1 0 2 1 1 0 2 1 1 0 2-1 1 0 2 1 1 0 2 1 1 0 2 1 1 0 2 1 1 0 2-1 1 0 2 1 1 1-1 1 1 0 2-1 1 0 2 1 1 0 2 1 1 0 2 1 1 1-1 1 1 1-1 1 1 1-1 1 1 1-1 1 1 1-1 1 1 1-1 1 1 1-1 1 1 1-1 1 1 1-1 1 1 1-1 1 1 1-1 1 1 1-1 0-2-1-1 0-2 1-1 0-2 1-1 0-2-1-1-1 1 0 2-1 1-1-1 0-2 1-1 0-2 1-1 0-2-1-1 0-2 1-1 0-2 1-1 0-2 1-1 0-2-1-1 0-2-1-1 0-2 1-1 0-2-1-1 0-2 1-1 0-2-1-1-1 1-1-1 0-2 1-1 0-2-1-1 0-2-1-1 0-2-1-1 0-2-1-1 0-2-1-1 0-2 1-1 1 1 1-1 0-2-1-1 0-2-1-1-1 1-1-1 0-2 1-1 1 1 1-1 0-2-1-1-1 1-1-1 0-2 1-1 0-2 1-1 0-2-1-1 0-2-1-1 0-2-1-1-1 1-1-1-1 1-1-1 0-2 1-1 1 1 1-1 1 1 1-1 1 1 1-1 0-2-1-1 0-2-1-1-1 1 0 2-1 1-1-1 0-2 1-1 0-2 1-1 1 1 1-1 0-2-1-1 0-2-1-1 0-2 1-1 0-2-1-1 0-2-1-1 0-2 1-1 0-2 1-1 0-2 1-1 1 1 0 2 1 1 1-1 0-2-1-1 0-2-1-1 0-2-1-1 0-2 1-1 0-2-1-1 0-2-1-1 0-2-1-1 0-2 1-1 0-2 1-1 0-2-1-1 0-2-1-1 0-2 1-1 1 1 1-1 0-2-1-1-1 1-1-1-1 1-1-1 0-2 1-1 1 1 1-1 0-2 1-1 1 1 1-1 0-2-1-1-1 1-1-1 0-2 1-1 1 1 1-1 0-2-1-1-1 1-1-1 0-2-1-1 0-2 1-1 1 1 1-1 0-2-1-1-1 1-1-1-1 1-1-1-1 1-1-1 0-2-1-1-1 1-1-1-1 1-1-1-1 1-1-1-1 1-1-1-1 1-1-1-1 1-1-1-1 1-1-1-1 1-1-1-1 1-1-1-1 1-1-1-1 1-1-1-1 1-1-1-1 1-1-1-1 1-1-1-1 1-1-1-1 1-1-1-1 1-1-1-1 1-1-1-1 1-1-1-1 1-1-1-1 1-1-1-1 1-1-1-1 1-1-1-1 1-1-1-1 1-1-1-1 1-1-1-1 1 0 2 1 1 0 2-1 1 0 2 1 1zM53 11l-1-1 0-2 1-1 0-2-1-1 0-2 1-1 1 1 0 2 1 1 0 2-1 1 0 2 1 1 0 2-1 1-1-1zM53 77l0 2-1 1-1-1 0-2 1-1zM53 65l0 2-1 1-1-1 0-2 1-1zM54 34l-1 1-1-1 0-2 1-1 1 1zM56 98l0 2-1 1-1-1 0-2 1-1zM56 62l0 2 1 1 1-1 0-2-1-1zM57 71l0 2 1 1 1-1 0-2-1-1zM65 179l0 2 1 1 1-1 0-2-1-1z"/>
<path fill="#31828d" stroke="#31828d" d="M-2 2l0 2 1 1 0 2-1 1 0 2 1 1 0 2 1 1 0 2 1 1 0 2 1 1 0 2 1 1 0 2 1 1 0 2 1 1 0 2 1 1 0 2 1 1 0 2 1 1 0 2 1 1 0 2 1 1 0 2-1 1 0 2 1 1 0 2 1 1 0 2 1 1 0 2 1 1 0 2 1 1 0 2 1 1 0 2-1 1 0 2 1 1 0 2 1 1 0 2 1 1 0 2 1 1 0 2 1 1 0 2-1 1 0 2 1 1 0 2 1 1 0 2 1 1 0 2-1 1 0 2 1 1 0 2 1 1 0 2 1 1 0 2 1 1 0 2 1 1 0 2-1 1 0 2 1 1 0 2 1 1 0 2 1 1 0 2 1 1 0 2 1 1 0 2 1 1 0 2-1 1 0 2 1 1 0 2 1 1 0 2 1 1 0 2 1 1 0 2 1 1 0 2-1 1 0 2 1 1 0 2 1 1 0 2 1 1 0 2 1 1 0 2 1 1 0 2 1 1 0 2-1 1 0 2 1 1 1-1 1 1 0 2-1 1 0 2 1 1 1-1 1 1 1-1 1 1 1-1 1 1 1-1 1 1 1-1 1 1 1-1 1 1 1-1 1 1 1-1 1 1 1-1 1 1 1-1 1 1 1-1 1 1 1-1 0-2-1-1-1 1-1-1-1 1-1-1 0-2 1-1 1 1 1-1 0-2-1-1 0-2 1-1 0-2-1-1 0-2 1-1 0-2 1-1 0-2 1-1 0-2-1-1 0-2 1-1 0-2-1-1 0-2-1-1-1 1-1-1 0-2 1-1 1 1 1-1 0-2-1-1-1 1-1-1 0-2 1-1 0-2-1-1 0-2-1-1 0-2 1-1 0-2-1-1 0-2-1-1 0-2-1-1 0-2-1-1 0-2 1-1 0-2-1-1 0-2-1-1 0-2 1-1 0-2-1-1 0-2-1-1 0-2-1-1 0-2 1-1 0-2-1-1-1 1-1-1 0-2 1-1 1 1 1-1 1 1 1-1 0-2 1-1 0-2-1-1-1 1 0 2-1 1-1-1 0-2 1-1 0-2 1-1 1 1 1-1 0-2-1-1-1 1-1-1-1 1 0 2-1 1-1-1 0-2 1-1 0-2 1-1 0-2-1-1 0-2-1-1 0-2 1-1 1 1 0 2 1 1 0 2 1 1 1-1 0-2-1-1 0-2-1-1 0-2 1-1 0-2 1-1 0-2-1-1-1 1 0 2-1 1-1-1 0-2 1-1 0-2 1-1 0-2-1-1 0-2-1-1 0-2 1-1 0-2-1-1-1 1-1-1 0-2 1-1 1 1 1-1 1 1 0 2 1 1 0 2 1 1 1-1 0-2-1-1 0-2-1-1 0-2 1-1 0-2-1-1-1 1 0 2-1 1-1-1 0-2 1-1 0-2-1-1 0-2-1-1 0-2-1-1 0-2-1-1-1 1-1-1 0-2-1-1 0-2 1-1 1 1 0 2 1 1 1-1 1 1 0 2 1 1 0 2 1 1 1-1 0-2-1-1 0-2 1-1 0-2-1-1 0-2-1-1 0-2 1-1 0-2-1-1 0-2 1-1 0-2 1-1 0-2-1-1-1 1 0 2-1 1-1-1 0-2 1-1 0-2-1-1-1 1-1-1-1 1-1-1-1 1-1-1-1 1-1-1-1 1-1-1-1 1-1-1-1 1-1-1-1 1-1-1-1 1-1-1-1 1-1-1-1 1-1-1-1 1-1-1-1 1-1-1-1 1-1-1-1 1-1-1-1 1-1-1-1 1-1-1-1 1-1-1-1 1-1-1-1 1-1-1-1 1-1-1-1 1-1-1-1 1-1-1-1 1-1-1-1 1-1-1-1 1-1-1-1 1 0 2 1 1 0 2-1 1 0 2zM48 46l1 1 0 2-1 1-1-1 0-2zM45 47l0 2-1 1-1-1 0-2 1-1zM43 37l1 1 0 2-1 1-1-1 0-2zM54 4l1 1 1-1 0-2-1-1-1 1zM57 5l0 2 1 1 1-1 0-2-1-1zM54 8l0 2 1 1 1-1 0-2-1-1zM56 20l0 2 1 1 1-1 0-2-1-1zM55 47l0 2 1 1 1-1 0-2-1-1zM57 109l1 1 1-1 0-2-1-1-1 1zM63 173l0 2 1 1 1-1 0-2-1-1z"/>
<path fill="#2c7e8c" stroke="#2c7e8c" d="M-2 2l0 2 1 1 0 2-1 1 0 2 1 1 0 2 1 1 0 2 1 1 1-1 1 1 0 2-1 1 0 2 1 1 0 2 1 1 0 2 1 1 0 2 1 1 0 2 1 1 0 2 1 1 1-1 1 1 0 2-1 1 0 2 1 1 0 2 1 1 0 2-1 1 0 2 1 1 0 2 1 1 0 2 1 1 0 2 1 1 0 2 1 1 0 2-1 1 0 2 1 1 0 2 1 1 0 2 1 1 0 2 1 1 0 2 1 1 0 2-1 1 0 2 1 1 0 2 1 1 0 2 1 1 0 2 1 1 0 2 1 1 0 2-1 1 0 2 1 1 0 2 1 1 0 2 1 1 0 2 1 1 0 2-1 1 0 2 1 1 0 2 1 1 0 2 1 1 0 2 1 1 0 2 1 1 0 2-1 1 0 2 1 1 0 2 1 1 0 2 1 1 0 2 1 1 0 2 1 1 0 2 1 1 0 2-1 1 0 2 1 1 0 2 1 1 0 2 1 1 0 2 1 1 0 2 1 1 0 2-1 1 0 2 1 1 1-1 1 1 0 2-1 1 0 2 1 1 1-1 1 1 1-1 1 1 1-1 1 1 1-1 1 1 1-1 1 1 1-1 1 1 1-1 1 1 1-1 1 1 1-1 1 1 1-1 1 1 1-1 0-2-1-1-1 1-1-1 0-2-1-1 0-2 1-1 1 1 1-1 0-2 1-1 0-2-1-1-1 1-1-1 0-2 1-1 0-2 1-1 0-2 1-1 0-2-1-1 0-2 1-1 0-2-1-1 0-2-1-1 0-2 1-1 0-2-1-1 0-2-1-1 0-2 1-1 0-2-1-1-1 1-1-1 0-2 1-1 1 1 1-1 0-2-1-1-1 1-1-1 0-2-1-1 0-2 1-1 0-2-1-1-1 1-1-1 0-2 1-1 0-2 1-1 0-2-1-1-1 1 0 2-1 1-1-1 0-2 1-1 0-2-1-1 0-2 1-1 1 1 1-1 0-2-1-1 0-2-1-1 0-2-1-1 0-2-1-1 0-2 1-1 0-2-1-1-1 1-1-1 0-2 1-1 0-2 1-1 0-2 1-1 0-2 1-1 0-2-1-1-1 1 0 2-1 1-1-1 0-2-1-1 0-2 1-1 0-2 1-1 0-2 1-1 1 1 1-1 0-2-1-1 0-2 1-1 0-2-1-1 0-2 1-1 0-2-1-1-1 1-1-1 0-2-1-1 0-2-1-1 0-2 1-1 0-2 1-1 0-2 1-1 1 1 1-1 0-2-1-1-1 1-1-1 0-2 1-1 0-2-1-1 0-2-1-1-1 1-1-1 0-2-1-1-1 1-1-1 0-2 1-1 1 1 1-1 1 1 0 2 1 1 1-1 1 1 1-1 0-2-1-1-1 1-1-1 0-2 1-1 1 1 1-1 0-2-1-1 0-2 1-1 0-2 1-1 0-2-1-1-1 1-1-1 0-2-1-1 0-2-1-1-1 1 0 2 1 1 0 2-1 1-1-1 0-2-1-1 0-2-1-1-1 1-1-1-1 1-1-1-1 1-1-1-1 1-1-1-1 1-1-1-1 1 0 2-1 1-1-1 0-2-1-1-1 1-1-1-1 1-1-1-1 1-1-1-1 1-1-1-1 1-1-1-1 1-1-1-1 1-1-1-1 1-1-1-1 1-1-1-1 1-1-1-1 1-1-1-1 1-1-1-1 1-1-1-1 1-1-1-1 1-1-1-1 1-1-1-1 1 0 2 1 1 0 2-1 1 0 2zM37 35l-1-1 0-2 1-1 1 1 0 2zM38 4l0-2 1-1 1 1 0 2-1 1zM43 59l1-1 1 1 0 2-1 1-1-1zM43 47l1-1 0-2 1-1 0-2 1-1 1 1 0 2-1 1 0 2-1 1 0 2-1 1-1-1zM46 34l0-2 1-1 1 1 0 2-1 1zM47 5l1-1 0-2 1-1 1 1 0 2-1 1 0 2-1 1-1-1zM42 52l1 1 0 2-1 1-1-1 0-2zM40 46l1 1 0 2-1 1-1-1 0-2zM43 29l0 2-1 1-1-1 0-2 1-1zM43 37l1 1 0 2-1 1-1-1 0-2zM49 47l0 2-1 1 0 2-1 1-1-1 0-2 1-1 0-2 1-1zM49 77l0 2-1 1-1-1 0-2 1-1zM49 55l0-2 1-1 1 1 0 2-1 1zM51 35l0 2 1 1 1-1 0-2-1-1zM55 47l0 2 1 1 1-1 0-2-1-1zM54 56l0 2 1 1 1-1 0-2-1-1zM53 65l0 2 1 1 1-1 0-2-1-1zM52 80l0 2 1 1 1-1 0-2-1-1zM54 86l0 2 1 1 1-1 0-2-1-1z"/>
<path fill="#26788c" stroke="#26788c" d="M-2 -2l-1 1 0 2 1 1 0 2 1 1 0 2 1 1 0 2 1 1 0 2 1 1 1-1 1 1 0 2-1 1 0 2 1 1 0 2-1 1 0 2 1 1 0 2 1 1 0 2 1 1 0 2 1 1 1-1 1 1 0 2 1 1 0 2-1 1 0 2 1 1 0 2 1 1 0 2 1 1 0 2-1 1 0 2 1 1 0 2 1 1 0 2 1 1 0 2 1 1 0 2 1 1 0 2-1 1 0 2 1 1 0 2 1 1 0 2 1 1 0 2 1 1 0 2-1 1 0 2 1 1 0 2 1 1 0 2 1 1 0 2 1 1 0 2 1 1 0 2 1 1 0 2-1 1 0 2 1 1 0 2 1 1 0 2 1 1 0 2 1 1 0 2-1 1 0 2 1 1 0 2 1 1 0 2 1 1 0 2 1 1 0 2 1 1 0 2 1 1 0 2-1 1 0 2 1 1 0 2 1 1 0 2 1 1 0 2 1 1 0 2 1 1 0 2 1 1 0 2-1 1 0 2 1 1 1-1 1 1 0 2-1 1 0 2 1 1 0 2 1 1 0 2 1 1 0 2 1 1 0 2 1 1 1-1 1 1 1-1 1 1 1-1 1 1 1-1 1 1 1-1 1 1 1-1 1 1 1-1 0-2 1-1 1 1 1-1 0-2-1-1 0-2-1-1-1 1-1-1 0-2 1-1 0-2 1-1 0-2 1-1 0-2 1-1 1 1 1-1 0-2-1-1-1 1-1-1 0-2 1-1 1 1 1-1 0-2 1-1 0-2-1-1-1 1-1-1 0-2 1-1 0-2 1-1 0-2-1-1-1 1-1-1 0-2 1-1 0-2 1-1 0-2-1-1-1 1 0 2-1 1-1-1 0-2 1-1 0-2-1-1 0-2 1-1 0-2-1-1 0-2-1-1 0-2-1-1 0-2 1-1 0-2 1-1 0-2-1-1-1 1 0 2-1 1-1-1 0-2 1-1 0-2-1-1 0-2-1-1 0-2-1-1-1 1-1-1 0-2 1-1 0-2 1-1 0-2-1-1 0-2 1-1 0-2-1-1-1 1-1-1 0-2 1-1 0-2-1-1 0-2 1-1 0-2 1-1 0-2-1-1-1 1 0 2-1 1-1-1 0-2-1-1 0-2-1-1 0-2-1-1 0-2 1-1 0-2 1-1 1 1 0 2-1 1 0 2 1 1 1-1 1 1 1-1 0-2-1-1 0-2 1-1 1 1 1-1 0-2-1-1 0-2-1-1-1 1-1-1-1 1-1-1 0-2-1-1 0-2 1-1 0-2 1-1 0-2 1-1 1 1 1-1 0-2 1-1 0-2 1-1 0-2-1-1 0-2 1-1 0-2 1-1 0-2-1-1 0-2-1-1-1 1-1-1-1 1-1-1 0-2-1-1-1 1-1-1 0-2 1-1 0-2 1-1 1 1 0 2 1 1 1-1 0-2 1-1 1 1 1-1 0-2-1-1-1 1-1-1-1 1-1-1-1 1-1-1-1 1-1-1 0-2 1-1 0-2 1-1 1 1 0 2 1 1 1-1 1 1 1-1 0-2-1-1-1 1-1-1 0-2 1-1 0-2-1-1-1 1 0 2-1 1-1-1 0-2 1-1 0-2-1-1-1 1-1-1-1 1 0 2-1 1 0 2-1 1-1-1 0-2 1-1 0-2-1-1-1 1-1-1-1 1 0 2-1 1-1-1 0-2-1-1-1 1 0 2 1 1 0 2-1 1-1-1 0-2-1-1 0-2-1-1-1 1-1-1-1 1-1-1-1 1-1-1-1 1-1-1-1 1 0 2-1 1-1-1 0-2-1-1-1 1-1-1-1 1-1-1-1 1-1-1-1 1-1-1-1 1-1-1-1 1-1-1-1 1-1-1-1 1-1-1-1 1 0 2 1 1zM33 43l0-2 1-1 1 1 0 2-1 1zM36 38l1-1 1 1 0 2-1 1-1-1zM36 32l1-1 1 1 1-1 1 1 0 2 1 1 0 2-1 1-1-1 0-2-1-1-1 1-1-1zM33 5l-1-1 0-2 1-1 1 1 0 2zM24 -2l0-2 1-1 1 1 0 2-1 1zM15 19l1 1 0 2-1 1-1-1 0-2zM17 11l1-1 1 1 0 2-1 1 0 2-1 1-1-1 0-2 1-1zM22 10l1 1 0 2-1 1-1-1 0-2zM23 5l0 2-1 1-1-1 0-2 1-1zM11 11l1-1 1 1 1-1 1 1 0 2-1 1-1-1-1 1-1-1zM1 5l-1-1 0-2 1-1 1 1 0 2zM15 -1l1-1 1 1 0 2-1 1-1-1zM23 31l0-2 1-1 1 1 0 2-1 1zM28 20l1-1 1 1 0 2-1 1-1-1zM34 14l0 2-1 1-1-1 0-2 1-1zM45 35l1-1 0-2 1-1 1 1 0 2-1 1 0 2-1 1-1-1zM45 23l1-1 1 1 1-1 1 1 0 2-1 1-1-1-1 1-1-1zM39 61l0-2 1-1 1 1 0 2-1 1 0 2-1 1-1-1 0-2zM38 52l1 1 0 2-1 1-1-1 0-2zM41 47l0 2-1 1-1-1 0-2 1-1zM44 38l0 2-1 1-1-1 0-2 1-1zM41 31l0-2 1-1 1 1 0 2 1 1 0 2-1 1-1-1 0-2zM42 22l1 1 0 2-1 1-1-1 0-2zM37 25l1 1 0 2-1 1-1-1 0-2zM40 14l0 2-1 1-1-1 0-2 1-1zM40 2l0 2-1 1-1-1 0-2 1-1zM44 80l0 2-1 1-1-1 0-2 1-1zM43 53l0 2-1 1-1-1 0-2 1-1zM55 161l0 2-1 1-1-1 0-2 1-1zM48 -4l0 2 1 1 1-1 0-2-1-1zM47 47l1-1 1 1 1-1 0-2-1-1-1 1-1-1-1 1 0 2-1 1 0 2 1 1 1-1zM52 50l1-1 0-2-1-1-1 1 0 2-1 1 0 2 1 1 1-1zM51 59l0 2 1 1 1-1 0-2-1-1zM50 74l0 2 1 1 1-1 0-2-1-1zM52 98l0 2 1 1 1-1 0-2-1-1zM58 170l0 2 1 1 1-1 0-2-1-1z"/>
<path fill="#22748b" stroke="#22748b" d="M-3 -5l1 1 0 2-1 1 0 2 1 1 0 2 1 1 1-1 0-2 1-1 0-2-1-1 0-2 1-1 0-2-1-1-1 1-1-1-1 1zM5 -7l-1-1-1 1 0 2-1 1 0 2 1 1 1-1 1 1 0 2-1 1-1-1-1 1 0 2-1 1 0 2-1 1 0 2 1 1 0 2 1 1 1-1 1 1 0 2-1 1 0 2 1 1 0 2-1 1 0 2 1 1 0 2 1 1 1-1 1 1 0 2-1 1 0 2 1 1 1-1 1 1 0 2 1 1 0 2-1 1 0 2 1 1 0 2 1 1 0 2 1 1 0 2-1 1 0 2 1 1 0 2 1 1 0 2 1 1 0 2 1 1 0 2 1 1 0 2-1 1 0 2 1 1 0 2 1 1 0 2 1 1 0 2 1 1 0 2-1 1 0 2 1 1 1-1 1 1 0 2-1 1 0 2 1 1 0 2 1 1 0 2 1 1 0 2 1 1 0 2-1 1 0 2 1 1 0 2 1 1 0 2 1 1 0 2 1 1 0 2 1 1 0 2-1 1 0 2 1 1 0 2 1 1 0 2 1 1 0 2 1 1 0 2 1 1 1-1 1 1 0 2-1 1-1-1-1 1 0 2 1 1 0 2 1 1 1-1 1 1 0 2-1 1 0 2 1 1 0 2 1 1 0 2 1 1 0 2-1 1 0 2 1 1 1-1 1 1 0 2 1 1 0 2-1 1 0 2 1 1 0 2 1 1 0 2 1 1 0 2 1 1 1-1 1 1 1-1 1 1 1-1 1 1 1-1 1 1 1-1 1 1 1-1 1 1 1-1 0-2 1-1 0-2 1-1 0-2-1-1-1 1 0 2-1 1-1-1 0-2 1-1 0-2 1-1 0-2 1-1 0-2 1-1 0-2 1-1 1 1 1-1 0-2-1-1-1 1-1-1-1 1-1-1 0-2 1-1 0-2 1-1 1 1 0 2 1 1 1-1 0-2-1-1 0-2-1-1 0-2-1-1-1 1-1-1 0-2 1-1 1 1 1-1 0-2-1-1-1 1-1-1 0-2 1-1 1 1 1-1 0-2 1-1 0-2-1-1-1 1 0 2-1 1-1-1-1 1-1-1 0-2 1-1 1 1 1-1 0-2-1-1 0-2-1-1 0-2-1-1 0-2 1-1 0-2-1-1 0-2-1-1 0-2-1-1 0-2 1-1 0-2-1-1-1 1-1-1 0-2-1-1-1 1-1-1 0-2 1-1 0-2-1-1 0-2 1-1 0-2 1-1 0-2 1-1 0-2-1-1-1 1-1-1-1 1 0 2 1 1 0 2-1 1-1-1 0-2-1-1 0-2-1-1 0-2-1-1 0-2 1-1 0-2-1-1 0-2-1-1 0-2 1-1 0-2-1-1 0-2 1-1 0-2-1-1-1 1 0 2-1 1-1-1 0-2-1-1 0-2-1-1 0-2 1-1 0-2 1-1 0-2-1-1-1 1 0 2-1 1-1-1 0-2 1-1 0-2-1-1 0-2-1-1-1 1-1-1-1 1-1-1 0-2 1-1 1 1 1-1 1 1 1-1 1 1 1-1 0-2-1-1-1 1-1-1 0-2 1-1 1 1 1-1 0-2 1-1 0-2-1-1-1 1 0 2-1 1-1-1 0-2-1-1 0-2-1-1 0-2 1-1 1 1 1-1 1 1 1-1 1 1 1-1 1 1 1-1 1 1 1-1 0-2-1-1 0-2-1-1-1 1 0 2-1 1-1-1 0-2-1-1 0-2 1-1 0-2 1-1 1 1 0 2 1 1 1-1 0-2-1-1 0-2-1-1-1 1-1-1 0-2-1-1 0-2 1-1 0-2-1-1-1 1 0 2-1 1 0 2 1 1 0 2 1 1 0 2-1 1 0 2-1 1 0 2-1 1-1-1 0-2-1-1 0-2 1-1 0-2 1-1 0-2-1-1 0-2 1-1 0-2 1-1 0-2 1-1 0-2-1-1-1 1 0 2-1 1 0 2-1 1 0 2-1 1 0 2-1 1-1-1-1 1 0 2-1 1-1-1 0-2 1-1 0-2 1-1 0-2 1-1 0-2-1-1 0-2-1-1-1 1-1-1-1 1-1-1-1 1-1-1-1 1-1-1-1 1 0 2-1 1-1-1 0-2-1-1-1 1-1-1-1 1-1-1-1 1-1-1-1 1-1-1zM26 34l1 1 1-1 1 1 0 2-1 1-1-1-1 1-1-1 0-2zM24 32l-1-1-1 1-1-1 0-2 1-1 1 1 1-1 1 1 1-1 1 1 1-1 1 1 0 2-1 1-1-1-1 1-1-1zM24 20l-1-1 0-2 1-1 1 1 0 2 1 1 1-1 0-2 1-1 1 1 0 2 1 1 0 2-1 1-1-1-1 1-1-1-1 1-1-1zM24 -4l1-1 1 1 0 2-1 1-1-1zM11 23l1-1 1 1 0 2-1 1-1-1zM15 17l1-1 0-2 1-1 0-2 1-1 1 1 0 2-1 1 0 2-1 1 0 2-1 1 0 2-1 1-1-1 0-2 1-1zM20 4l0-2 1-1 1 1 1-1 1 1 0 2-1 1 0 2-1 1-1-1-1 1-1-1 0-2zM17 5l0 2-1 1-1-1-1 1-1-1-1 1-1-1 0-2 1-1 1 1 1-1 1 1 1-1 0-2-1-1 0-2 1-1 1 1 1-1 1 1 0 2-1 1 0 2zM11 11l1-1 1 1 1-1 1 1 0 2-1 1-1-1-1 1-1-1zM11 -1l0 2-1 1 0 2-1 1-1-1 0-2 1-1 0-2 1-1zM7 7l1 1 0 2-1 1-1-1 0-2zM7 13l1 1 0 2-1 1-1-1 0-2zM20 28l-1 1-1-1 0-2 1-1 1 1zM20 16l0-2 1-1 0-2 1-1 1 1 0 2-1 1 0 2-1 1 0 2-1 1-1-1 0-2zM32 32l0 2-1 1-1-1 0-2 1-1zM37 67l1 1 0 2-1 1-1-1 0-2zM36 64l-1 1-1-1 0-2 1-1 1 1zM42 176l1-1 1 1 0 2-1 1-1-1zM42 172l0-2 1-1 1 1 0 2-1 1zM53 163l0-2 1-1 1 1 0 2-1 1zM29 -7l0 2 1 1 1-1 0-2-1-1zM40 -4l1-1 0-2-1-1-1 1 0 2-1 1 0 2 1 1 1-1zM40 34l1 1 0 2 1 1 1-1 0-2-1-1 0-2-1-1 0-2 1-1 1 1 1-1 0-2 1-1 0-2-1-1-1 1 0 2-1 1-1-1-1 1 0 2-1 1 0 2 1 1zM37 35l0 2 1 1 1-1 0-2-1-1zM36 46l1 1 1-1 1 1 1-1 0-2 1-1 1 1 1-1 0-2-1-1-1 1-1-1-1 1 0 2-1 1-1-1-1 1zM41 59l1-1 0-2-1-1 0-2-1-1-1 1 0 2-1 1 0 2 1 1 1-1zM42 2l1-1 0-2-1-1-1 1 0 2-1 1 0 2 1 1 1-1zM43 7l-1 1 0 2 1 1 1-1 0-2zM43 53l0 2 1 1 1-1 0-2-1-1zM45 71l-1-1-1 1 0 2 1 1 0 2 1 1 1-1 1 1 1-1 0-2-1-1-1 1-1-1zM46 10l-1 1 0 2 1 1 1-1 0-2zM49 23l0 2 1 1 1-1 0-2-1-1zM48 32l0 2 1 1 1-1 0-2-1-1zM46 38l0 2 1 1 1-1 0-2-1-1zM45 47l0 2 1 1 1-1 0-2-1-1zM48 56l0 2 1 1 1-1 0-2-1-1z"/>
<path fill="#1e6e8a" stroke="#1e6e8a" d="M9 -5l-1 1-1-1 0-2-1-1-1 1 0 2 1 1 0 2-1 1 0 2 1 1 1-1 0-2 1-1 1 1 1-1 1 1 0 2-1 1 0 2-1 1 0 2-1 1 0 2-1 1-1-1 0-2-1-1 0-2-1-1 0-2-1-1-1 1 0 2-1 1 0 2-1 1 0 2 1 1 0 2 1 1 1-1 1 1 0 2 1 1 0 2-1 1 0 2 1 1 0 2-1 1 0 2 1 1 1-1 1 1 1-1 1 1 0 2-1 1 0 2 1 1 0 2 1 1 0 2-1 1 0 2 1 1 1-1 1 1 0 2-1 1 0 2 1 1 0 2 1 1 0 2-1 1 0 2 1 1 0 2 1 1 0 2 1 1 0 2 1 1 0 2 1 1 0 2 1 1 0 2 1 1 0 2 1 1 0 2-1 1 0 2 1 1 0 2 1 1 0 2 1 1 0 2-1 1 0 2 1 1 0 2 1 1 0 2 1 1 0 2 1 1 0 2-1 1 0 2 1 1 1-1 1 1 0 2-1 1 0 2 1 1 0 2 1 1 0 2 1 1 0 2-1 1 0 2 1 1 0 2 1 1 0 2 1 1 1-1 1 1 0 2 1 1 0 2-1 1 0 2-1 1 0 2 1 1 1-1 1 1 0 2-1 1 0 2 1 1 0 2 1 1 0 2 1 1 0 2 1 1 1-1 1 1 0 2-1 1 0 2 1 1 0 2 1 1 1-1 0-2 1-1 0-2 1-1 1 1 0 2-1 1 0 2 1 1 0 2-1 1 0 2-1 1-1-1 0-2-1-1-1 1 0 2 1 1 0 2 1 1 0 2 1 1 1-1 1 1 1-1 1 1 1-1 1 1 1-1 1 1 1-1 1 1 1-1 1 1 1-1 0-2-1-1-1 1-1-1 0-2 1-1 0-2-1-1-1 1 0 2-1 1-1-1 0-2 1-1 0-2-1-1 0-2-1-1 0-2 1-1 1 1 0 2 1 1 1-1 1 1 0 2 1 1 1-1 0-2 1-1 0-2-1-1 0-2-1-1-1 1-1-1 0-2 1-1 1 1 1-1 0-2 1-1 0-2 1-1 1 1 1-1 0-2-1-1-1 1-1-1 0-2-1-1 0-2 1-1 1 1 1-1 0-2-1-1-1 1-1-1 0-2-1-1 0-2-1-1 0-2 1-1 1 1 1-1 0-2-1-1-1 1-1-1 0-2-1-1 0-2 1-1 0-2-1-1 0-2 1-1 0-2-1-1-1 1-1-1 0-2 1-1 0-2-1-1-1 1-1-1 0-2 1-1 0-2-1-1-1 1-1-1 0-2 1-1 0-2-1-1 0-2-1-1 0-2-1-1 0-2-1-1 0-2-1-1-1 1-1-1 0-2 1-1 0-2-1-1 0-2 1-1 0-2-1-1-1 1-1-1 0-2 1-1 1 1 1-1 0-2-1-1-1 1-1-1 0-2-1-1 0-2-1-1-1 1 0 2-1 1-1-1 0-2 1-1 0-2 1-1 0-2 1-1 0-2-1-1-1 1-1-1-1 1-1-1 0-2 1-1 1 1 1-1 0-2-1-1 0-2-1-1-1 1 0 2-1 1 0 2-1 1-1-1 0-2-1-1 0-2 1-1 0-2-1-1 0-2-1-1-1 1 0 2-1 1-1-1 0-2 1-1 0-2-1-1 0-2-1-1-1 1-1-1 0-2 1-1 0-2 1-1 0-2 1-1 0-2-1-1-1 1 0 2-1 1 0 2-1 1 0 2-1 1-1-1 0-2 1-1 0-2 1-1 0-2-1-1-1 1-1-1-1 1 0 2-1 1 0 2-1 1-1-1-1 1-1-1 0-2 1-1 1 1 1-1 0-2-1-1 0-2-1-1-1 1-1-1 0-2 1-1 0-2 1-1 0-2-1-1 0-2 1-1 0-2 1-1 0-2 1-1 1 1 1-1 0-2-1-1 0-2-1-1-1 1 0 2-1 1-1-1-1 1zM36 68l1-1 1 1 0 2-1 1-1-1zM20 38l1-1 1 1 0 2-1 1-1-1zM26 44l0 2-1 1-1-1 0-2 1-1zM6 16l0-2 1-1 1 1 0 2-1 1zM7 19l1 1 0 2-1 1-1-1 0-2zM18 34l0-2 1-1 1 1 0 2-1 1zM30 58l0-2-1-1 0-2 1-1 1 1 0 2 1 1 1-1 1 1 0 2-1 1-1-1-1 1zM-1 1l1 1 1-1 0-2-1-1-1 1-1-1-1 1 0 2 1 1zM15 1l-1 1 0 2 1 1 1-1 0-2zM18 10l0-2-1-1-1 1-1-1-1 1 0 2 1 1 1-1 1 1zM20 2l1-1 0-2-1-1 0-2-1-1 0-2-1-1-1 1 0 2 1 1 0 2 1 1 0 2zM20 10l-1 1 0 2 1 1 1-1 0-2zM15 13l-1 1 0 2 1 1 1-1 0-2zM24 -4l1-1 0-2-1-1-1 1-1-1-1 1 0 2 1 1 0 2 1 1 1-1zM26 -2l-1 1 0 2 1 1 1-1 0-2zM24 10l0-2-1-1-1 1 0 2 1 1 0 2 1 1 1-1 0-2zM29 13l0-2-1-1-1 1 0 2-1 1 0 2 1 1 1-1 0-2zM26 32l0 2 1 1 1-1 0-2-1-1zM32 10l0-2 1-1 0-2-1-1-1 1 0 2-1 1 0 2 1 1zM28 26l0 2 1 1 1-1 0-2 1-1 0-2 1-1 1 1 1-1 0-2 1-1 0-2 1-1 0-2 1-1 0-2-1-1-1 1 0 2-1 1 0 2-1 1 0 2-1 1-1-1 0-2-1-1-1 1 0 2 1 1 0 2-1 1 0 2zM31 29l0 2 1 1 0 2 1 1 1-1 0-2-1-1 0-2-1-1zM35 -1l0 2 1 1 1-1 0-2-1-1zM32 38l0 2 1 1 1-1 0-2-1-1zM39 -7l0 2-1 1 0 2 1 1 1-1 0-2 1-1 0-2-1-1zM36 22l1 1 1-1 1 1 1-1 1 1 1-1 0-2-1-1 0-2-1-1-1 1 0 2-1 1-1-1-1 1zM39 53l0 2 1 1 0 2 1 1 1-1 0-2-1-1 0-2-1-1zM42 -2l-1 1 0 2 1 1 1-1 0-2zM43 23l0 2 1 1 1-1 0-2-1-1zM47 37l-1 1 0 2 1 1 1-1 0-2zM58 160l-1 1 0 2 1 1 1-1 0-2z"/>
<path fill="#1c6989" stroke="#1c6989" d="M15 -7l-1-1-1 1 0 2 1 1 1-1zM7 -5l-1 1 0 2 1 1 1-1 0-2zM-2 -2l-1 1 0 2 1 1 1-1 0-2zM10 4l-1 1 0 2 1 1 1-1 0-2zM3 11l1-1 0-2-1-1-1 1-1-1-1 1 0 2 1 1 0 2 1 1 1-1zM15 7l-1 1 0 2 1 1 1-1 0-2zM11 11l-1-1-1 1-1-1-1 1 0 2 1 1 1-1 1 1 1-1zM7 19l1 1 1-1 1 1 0 2-1 1 0 2-1 1 0 2 1 1 0 2-1 1 0 2 1 1 0 2 1 1 0 2-1 1 0 2 1 1 1-1 1 1 0 2 1 1 0 2-1 1 0 2 1 1 0 2-1 1 0 2 1 1 1-1 1 1 0 2 1 1 0 2-1 1 0 2 1 1 1-1 1 1 0 2-1 1 0 2 1 1 0 2 1 1 0 2 1 1 0 2-1 1 0 2 1 1 0 2 1 1 0 2 1 1 0 2 1 1 0 2-1 1 0 2 1 1 0 2 1 1 0 2 1 1 0 2 1 1 0 2 1 1 0 2-1 1 0 2 1 1 1-1 1 1 0 2-1 1 0 2 1 1 0 2 1 1 0 2-1 1 0 2 1 1 0 2 1 1 1-1 1 1 0 2 1 1 0 2-1 1 0 2 1 1 0 2 1 1 0 2-1 1 0 2 1 1 0 2 1 1 0 2 1 1 1-1 1 1 0 2 1 1 0 2 1 1 0 2-1 1 0 2 1 1 1-1 0-2 1-1 0-2 1-1 1 1 0 2 1 1 0 2 1 1 0 2 1 1 1-1 1 1 1-1 0-2-1-1 0-2-1-1 0-2 1-1 1 1 1-1 0-2 1-1 0-2 1-1 1 1 1-1 0-2 1-1 0-2 1-1 1 1 1-1 0-2-1-1-1 1-1-1 0-2-1-1 0-2 1-1 0-2-1-1 0-2-1-1 0-2-1-1 0-2-1-1 0-2-1-1 0-2 1-1 0-2-1-1 0-2 1-1 0-2-1-1 0-2-1-1-1 1-1-1 0-2 1-1 0-2-1-1-1 1-1-1 0-2 1-1 0-2-1-1 0-2 1-1 0-2-1-1 0-2-1-1 0-2-1-1-1 1-1-1 0-2-1-1 0-2-1-1 0-2 1-1 0-2-1-1 0-2 1-1 0-2-1-1-1 1-1-1 0-2 1-1 0-2-1-1-1 1 0 2-1 1-1-1 0-2-1-1 0-2-1-1 0-2-1-1 0-2-1-1-1 1-1-1 0-2-1-1 0-2 1-1 0-2-1-1 0-2-1-1 0-2-1-1-1 1 0 2-1 1-1-1 0-2 1-1 0-2-1-1 0-2 1-1 0-2-1-1-1 1-1-1-1 1 0 2 1 1 0 2-1 1-1-1 0-2-1-1 0-2-1-1-1 1-1-1 0-2 1-1 1 1 1-1 0-2-1-1 0-2-1-1-1 1-1-1-1 1-1-1-1 1 0 2-1 1-1-1 0-2 1-1 0-2 1-1 0-2 1-1 0-2-1-1-1 1-1-1-1 1-1-1-1 1-1-1-1 1 0 2 1 1zM45 97l1 1 0 2-1 1-1-1 0-2zM39 79l1 1 0 2-1 1-1-1 0-2zM51 161l0 2-1 1-1-1 0-2 1-1zM6 22l-1 1 0 2 1 1 1-1 0-2zM20 -2l-1 1 0 2 1 1 1-1 0-2zM24 10l-1 1 0 2 1 1 1-1 0-2zM27 13l-1 1 0 2 1 1 1-1 0-2zM32 52l-1 1 0 2 1 1 1-1 0-2zM36 58l0-2 1-1 0-2-1-1-1 1 0 2-1 1 0 2 1 1zM44 178l-1 1 0 2 1 1 1-1 0-2zM58 160l-1 1 0 2 1 1 1-1 0-2zM55 163l-1 1 0 2 1 1 1-1 0-2zM51 185l1-1 1 1 1-1 0-2-1-1-1 1-1-1-1 1-1-1-1 1 0 2 1 1 1-1z"/>
<path fill="#1c6388" stroke="#1c6388" d="M9 11l-1-1-1 1 0 2 1 1 1-1zM10 16l-1 1 0 2 1 1 1-1 0-2zM9 31l-1 1 0 2 1 1 0 2 1 1 0 2 1 1 0 2 1 1 0 2 1 1 0 2 1 1 0 2-1 1 0 2 1 1 0 2 1 1 0 2 1 1 0 2-1 1 0 2 1 1 1-1 1 1 0 2-1 1 0 2 1 1 0 2 1 1 0 2 1 1 0 2-1 1 0 2 1 1 0 2 1 1 0 2 1 1 0 2 1 1 0 2 1 1 0 2 1 1 0 2-1 1 0 2 1 1 0 2 1 1 1-1 1 1 0 2-1 1 0 2-1 1 0 2 1 1 1-1 1 1 0 2-1 1 0 2 1 1 0 2 1 1 0 2 1 1 0 2 1 1 0 2 1 1 0 2 1 1 0 2-1 1 0 2 1 1 1-1 1 1 0 2-1 1 0 2 1 1 1-1 1 1 0 2-1 1 0 2 1 1 1-1 1 1 0 2 1 1 0 2-1 1 0 2 1 1 0 2 1 1 1-1 0-2 1-1 1 1 0 2 1 1 0 2 1 1 0 2 1 1 1-1 1 1 1-1 0-2-1-1-1 1-1-1 0-2-1-1 0-2 1-1 0-2 1-1 0-2-1-1 0-2 1-1 1 1 0 2 1 1 0 2-1 1 0 2 1 1 1-1 0-2 1-1 0-2 1-1 1 1 1-1 0-2 1-1 0-2 1-1 0-2-1-1 0-2-1-1-1 1-1-1 0-2-1-1 0-2 1-1 0-2 1-1 0-2-1-1 0-2-1-1 0-2-1-1 0-2-1-1 0-2 1-1 0-2 1-1 0-2-1-1-1 1-1-1-1 1-1-1 0-2-1-1 0-2 1-1 0-2-1-1 0-2-1-1-1 1-1-1 0-2 1-1 0-2-1-1-1 1-1-1 0-2 1-1 1 1 1-1 0-2 1-1 0-2-1-1-1 1 0 2-1 1-1-1-1 1-1-1 0-2 1-1 1 1 1-1 0-2-1-1-1 1-1-1 0-2-1-1 0-2-1-1 0-2 1-1 1 1 0 2 1 1 1-1 0-2-1-1 0-2 1-1 0-2-1-1-1 1 0 2-1 1-1-1-1 1-1-1-1 1-1-1 0-2 1-1 1 1 1-1 1 1 1-1 0-2-1-1-1 1-1-1-1 1-1-1 0-2 1-1 0-2-1-1 0-2-1-1-1 1-1-1-1 1-1-1 0-2 1-1 0-2-1-1 0-2-1-1-1 1-1-1 0-2 1-1 0-2 1-1 0-2-1-1-1 1 0 2-1 1-1-1 0-2-1-1-1 1-1-1-1 1-1-1 0-2 1-1 0-2-1-1-1 1-1-1 0-2-1-1 0-2-1-1 0-2-1-1-1 1-1-1-1 1-1-1 0-2 1-1 0-2-1-1-1 1 0 2-1 1 0 2 1 1zM13 35l-1-1 0-2 1-1 1 1 0 2zM14 40l0-2 1-1 1 1 0 2-1 1zM32 64l1 1 0 2-1 1-1-1 0-2zM18 28l-1 1 0 2 1 1 1-1 0-2zM55 163l-1 1 0 2 1 1 1-1 0-2zM49 181l-1 1 0 2 1 1 1-1 0-2z"/>
<path fill="#1e5d86" stroke="#1e5d86" d="M10 26l-1-1-1 1 0 2 1 1 1-1zM13 29l-1-1-1 1 0 2 1 1 1-1zM17 35l-1-1-1 1-1-1-1 1-1-1-1 1-1-1-1 1 0 2 1 1 0 2 1 1 0 2 1 1 0 2 1 1 0 2 1 1 0 2-1 1 0 2 1 1 0 2 1 1 0 2 1 1 0 2-1 1 0 2 1 1 1-1 1 1 0 2-1 1 0 2 1 1 0 2 1 1 0 2 1 1 0 2 1 1 0 2 1 1 0 2-1 1 0 2 1 1 0 2 1 1 0 2 1 1 0 2 1 1 0 2-1 1 0 2 1 1 0 2 1 1 1-1 1 1 0 2-1 1 0 2 1 1 0 2 1 1 0 2-1 1 0 2 1 1 0 2 1 1 0 2 1 1 0 2 1 1 0 2 1 1 0 2 1 1 0 2 1 1 0 2 1 1 0 2-1 1 0 2 1 1 1-1 1 1 0 2-1 1 0 2 1 1 1-1 1 1 0 2 1 1 0 2 1 1 1-1 1 1 0 2 1 1 1-1 0-2 1-1 1 1 1-1 0-2-1-1 0-2 1-1 1 1 0 2 1 1 0 2-1 1 0 2 1 1 1-1 0-2 1-1 0-2-1-1 0-2 1-1 1 1 1-1 0-2 1-1 1 1 1-1 0-2-1-1-1 1-1-1 0-2-1-1 0-2-1-1 0-2 1-1 0-2 1-1 0-2-1-1-1 1-1-1-1 1-1-1 0-2 1-1 1 1 1-1 0-2-1-1-1 1-1-1 0-2-1-1 0-2 1-1 1 1 1-1 0-2-1-1 0-2-1-1-1 1-1-1 0-2-1-1 0-2-1-1 0-2-1-1 0-2-1-1 0-2-1-1 0-2-1-1 0-2 1-1 0-2-1-1-1 1-1-1 0-2 1-1 0-2-1-1 0-2-1-1 0-2-1-1 0-2-1-1-1 1-1-1 0-2-1-1 0-2 1-1 0-2-1-1 0-2-1-1-1 1-1-1 0-2 1-1 1 1 1-1 0-2-1-1-1 1-1-1-1 1 0 2-1 1-1-1 0-2-1-1 0-2 1-1 1 1 1-1 0-2-1-1-1 1-1-1 0-2-1-1 0-2-1-1-1 1-1-1 0-2 1-1 0-2-1-1-1 1 0 2-1 1-1-1 0-2-1-1 0-2-1-1 0-2-1-1zM35 85l0-2 1-1 1 1 0 2-1 1zM14 38l1-1 1 1 0 2-1 1-1-1zM41 103l1 1 0 2-1 1-1-1 0-2zM50 172l-1 1 0 2 1 1 1-1 0-2z"/>
<path fill="#205885" stroke="#205885" d="M15 41l0 2-1 1-1-1 0-2 1-1 0-2-1-1 0-2-1-1-1 1 0 2 1 1 0 2-1 1 0 2 1 1 0 2 1 1 0 2 1 1 0 2 1 1 0 2 1 1 0 2-1 1 0 2 1 1 0 2 1 1 0 2 1 1 0 2 1 1 0 2 1 1 0 2 1 1 0 2-1 1 0 2 1 1 0 2 1 1 0 2-1 1 0 2 1 1 0 2 1 1 1-1 1 1 0 2-1 1 0 2 1 1 0 2-1 1 0 2 1 1 0 2 1 1 1-1 1 1 0 2-1 1 0 2 1 1 0 2 1 1 0 2 1 1 0 2-1 1 0 2 1 1 1-1 1 1 0 2-1 1 0 2 1 1 0 2 1 1 0 2 1 1 1-1 1 1 0 2-1 1 0 2 1 1 0 2-1 1 0 2 1 1 1-1 1 1 0 2-1 1 0 2 1 1 1-1 1 1 1-1 1 1 1-1 1 1 0 2-1 1 0 2 1 1 1-1 0-2 1-1 1 1 0 2 1 1 1-1 0-2-1-1 0-2 1-1 1 1 1-1 0-2 1-1 0-2-1-1 0-2 1-1 0-2 1-1 0-2-1-1 0-2-1-1 0-2-1-1 0-2 1-1 1 1 1-1 0-2-1-1-1 1-1-1 0-2-1-1-1 1-1-1 0-2-1-1 0-2 1-1 0-2-1-1 0-2-1-1 0-2 1-1 0-2-1-1 0-2-1-1-1 1-1-1-1 1-1-1 0-2 1-1 1 1 1-1 0-2-1-1 0-2-1-1 0-2-1-1-1 1-1-1 0-2 1-1 0-2-1-1 0-2-1-1-1 1-1-1 0-2 1-1 0-2-1-1 0-2-1-1 0-2-1-1 0-2 1-1 0-2-1-1-1 1-1-1 0-2-1-1-1 1-1-1 0-2-1-1 0-2 1-1 1 1 1-1 0-2-1-1-1 1-1-1 0-2-1-1 0-2-1-1-1 1-1-1-1 1-1-1 0-2-1-1 0-2-1-1 0-2-1-1 0-2-1-1 0-2-1-1-1 1 0 2 1 1 0 2zM30 118l0-2 1-1 1 1 0 2-1 1zM39 97l1 1 0 2-1 1-1-1 0-2zM49 133l-1 1-1-1 0-2 1-1 1 1zM51 145l-1 1-1-1 0-2 1-1 1 1zM54 148l-1 1 0 2 1 1 1-1 0-2z"/>
<path fill="#225282" stroke="#225282" d="M13 37l0-2-1-1-1 1 0 2 1 1zM14 44l-1-1 0-2-1-1-1 1 0 2 1 1 0 2 1 1 0 2 1 1 0 2 1 1 0 2 1 1 0 2-1 1 0 2 1 1 0 2 1 1 0 2 1 1 0 2 1 1 0 2 1 1 0 2 1 1 0 2-1 1 0 2 1 1 0 2 1 1 0 2 1 1 0 2 1 1 0 2 1 1 0 2 1 1 0 2-1 1 0 2 1 1 0 2-1 1 0 2 1 1 1-1 1 1 0 2 1 1 0 2-1 1 0 2 1 1 0 2 1 1 1-1 0-2-1-1 0-2 1-1 1 1 0 2 1 1 0 2-1 1 0 2-1 1-1-1-1 1 0 2 1 1 1-1 1 1 0 2-1 1 0 2 1 1 1-1 1 1 0 2 1 1 0 2 1 1 0 2-1 1 0 2 1 1 1-1 0-2 1-1 1 1 0 2-1 1 0 2-1 1-1-1-1 1 0 2 1 1 1-1 1 1 0 2 1 1 0 2 1 1 1-1 1 1 1-1 1 1 0 2 1 1 1-1 1 1 1-1 0-2-1-1-1 1-1-1 0-2 1-1 0-2 1-1 1 1 1-1 1 1 1-1 0-2 1-1 0-2-1-1-1 1 0 2-1 1-1-1 0-2 1-1 0-2 1-1 1 1 1-1 0-2-1-1-1 1-1-1 0-2 1-1 0-2-1-1-1 1-1-1 0-2 1-1 0-2-1-1 0-2-1-1 0-2 1-1 0-2-1-1 0-2-1-1 0-2-1-1 0-2 1-1 0-2-1-1-1 1-1-1-1 1-1-1-1 1-1-1 0-2-1-1 0-2 1-1 0-2-1-1 0-2-1-1 0-2 1-1 0-2-1-1 0-2-1-1-1 1-1-1 0-2 1-1 0-2 1-1 0-2-1-1-1 1-1-1 0-2 1-1 0-2 1-1 0-2-1-1-1 1 0 2-1 1 0 2-1 1-1-1 0-2 1-1 0-2 1-1 0-2-1-1-1 1-1-1 0-2-1-1 0-2-1-1-1 1-1-1 0-2-1-1 0-2 1-1 0-2-1-1-1 1 0 2-1 1-1-1 0-2-1-1 0-2 1-1 0-2-1-1 0-2-1-1 0-2-1-1-1 1 0 2-1 1 0 2zM17 61l0-2 1-1 1 1 0 2-1 1zM40 136l1 1 0 2-1 1-1-1 0-2zM47 143l-1-1 0-2 1-1 1 1 0 2zM30 56l-1-1-1 1 0 2 1 1 1-1zM41 95l-1-1-1 1 0 2 1 1 1-1zM40 104l1-1 1 1 1-1 0-2-1-1-1 1-1-1-1 1 0 2z"/>
<path fill="#254c80" stroke="#254c80" d="M13 37l0-2-1-1-1 1 0 2 1 1zM17 43l0-2-1-1-1 1 0 2 1 1zM20 46l0-2-1-1-1 1 0 2 1 1zM15 55l1 1 1-1 1 1 0 2 1 1 0 2-1 1-1-1-1 1 0 2 1 1 0 2 1 1 1-1 1 1 0 2-1 1 0 2 1 1 0 2 1 1 0 2 1 1 0 2 1 1 0 2 1 1 1-1 1 1 0 2-1 1-1-1-1 1 0 2 1 1 0 2 1 1 0 2 1 1 0 2 1 1 1-1 1 1 1-1 1 1 0 2-1 1-1-1-1 1-1-1-1 1 0 2 1 1 0 2 1 1 0 2 1 1 0 2 1 1 1-1 1 1 1-1 1 1 0 2-1 1 0 2-1 1 0 2-1 1 0 2 1 1 0 2 1 1 1-1 1 1 0 2-1 1 0 2 1 1 0 2 1 1 0 2 1 1 1-1 0-2 1-1 0-2 1-1 1 1 0 2-1 1 0 2-1 1 0 2-1 1 0 2-1 1-1-1-1 1 0 2 1 1 1-1 1 1 1-1 0-2 1-1 1 1 0 2 1 1 0 2 1 1 0 2 1 1 1-1 0-2 1-1 0-2 1-1 1 1 1-1 1 1 1-1 0-2 1-1 0-2-1-1-1 1 0 2-1 1-1-1 0-2 1-1 0-2 1-1 0-2-1-1-1 1 0 2-1 1-1-1 0-2 1-1 0-2 1-1 0-2-1-1 0-2 1-1 0-2-1-1-1 1-1-1 0-2-1-1 0-2 1-1 1 1 1-1 0-2-1-1 0-2-1-1 0-2-1-1-1 1 0 2-1 1-1-1 0-2 1-1 0-2-1-1 0-2-1-1-1 1 0 2-1 1-1-1 0-2 1-1 0-2-1-1 0-2 1-1 0-2-1-1 0-2-1-1 0-2 1-1 0-2-1-1-1 1-1-1 0-2-1-1 0-2 1-1 0-2 1-1 0-2-1-1-1 1-1-1 0-2-1-1-1 1-1-1-1 1-1-1 0-2 1-1 0-2 1-1 0-2-1-1 0-2-1-1 0-2-1-1-1 1-1-1 0-2-1-1-1 1-1-1 0-2-1-1-1 1-1-1 0-2-1-1 0-2-1-1-1 1 0 2 1 1 0 2-1 1zM23 65l-1-1 0-2 1-1 1 1 0 2zM43 131l0 2-1 1-1-1 0-2 1-1zM41 125l1-1 1 1 0 2-1 1-1-1zM36 124l1 1 0 2-1 1-1-1 0-2zM42 142l1 1 0 2-1 1-1-1 0-2zM45 137l0 2-1 1-1-1 0-2 1-1zM24 52l0-2-1-1-1 1 0 2 1 1zM41 95l-1-1-1 1 0 2 1 1 1-1z"/>
<path fill="#27467c" stroke="#27467c" d="M13 37l0-2-1-1-1 1 0 2 1 1zM17 43l0-2-1-1-1 1 0 2 1 1zM15 53l0 2 1 1 1-1 1 1 0 2 1 1 1-1 1 1 0 2 1 1 1-1 1 1 1-1 0-2-1-1 0-2-1-1-1 1-1-1 0-2-1-1-1 1-1-1 0-2-1-1 0-2-1-1-1 1 0 2 1 1 0 2zM20 64l0-2-1-1-1 1 0 2 1 1zM20 70l1 1 0 2 1 1 0 2-1 1 0 2 1 1 0 2 1 1 0 2 1 1 1-1 1 1 0 2-1 1 0 2 1 1 0 2-1 1 0 2 1 1 0 2 1 1 1-1 1 1 1-1 1 1 0 2 1 1 0 2-1 1-1-1 0-2-1-1-1 1 0 2-1 1 0 2 1 1 1-1 1 1 0 2-1 1 0 2 1 1 1-1 1 1 1-1 1 1 0 2-1 1 0 2 1 1 0 2-1 1-1-1-1 1 0 2 1 1 1-1 1 1 1-1 0-2 1-1 1 1 0 2-1 1 0 2 1 1 0 2-1 1-1-1-1 1 0 2 1 1 0 2 1 1 0 2 1 1 1-1 0-2 1-1 0-2 1-1 1 1 0 2 1 1 0 2 1 1 0 2-1 1-1-1 0-2-1-1-1 1 0 2 1 1 0 2 1 1 0 2 1 1 1-1 1 1 0 2 1 1 1-1 0-2 1-1 1 1 1-1 0-2-1-1-1 1-1-1-1 1-1-1 0-2 1-1 1 1 1-1 0-2-1-1 0-2 1-1 0-2-1-1-1 1 0 2-1 1-1-1 0-2 1-1 0-2 1-1 1 1 1-1 0-2-1-1 0-2-1-1-1 1-1-1-1 1-1-1 0-2 1-1 1 1 1-1 0-2 1-1 1 1 1-1 0-2-1-1-1 1-1-1-1 1-1-1-1 1-1-1 0-2 1-1 0-2 1-1 0-2-1-1-1 1-1-1-1 1-1-1 0-2 1-1 0-2-1-1 0-2 1-1 0-2-1-1 0-2-1-1-1 1 0 2-1 1-1-1 0-2 1-1 0-2 1-1 0-2-1-1-1 1-1-1 0-2 1-1 0-2 1-1 0-2 1-1 0-2-1-1-1 1-1-1-1 1-1-1 0-2-1-1-1 1-1-1 0-2-1-1 0-2 1-1 0-2-1-1-1 1 0 2-1 1-1-1 0-2-1-1-1 1 0 2-1 1zM25 83l-1-1 0-2 1-1 1 1 1-1 1 1 0 2-1 1-1-1zM32 82l-1 1-1-1 0-2 1-1 1 1zM29 91l0-2 1-1 1 1 0 2-1 1zM37 113l0 2-1 1-1-1 0-2 1-1zM43 131l0 2-1 1-1-1 0-2 1-1zM50 142l0-2-1-1-1 1 0 2 1 1zM52 148l0-2-1-1-1 1 0 2 1 1z"/>
<path fill="#294079" stroke="#294079" d="M15 53l0 2 1 1 1-1 0-2 1-1 0-2-1-1-1 1 0 2zM18 56l0 2 1 1 1-1 1 1 1-1 0-2-1-1 0-2-1-1-1 1 0 2zM20 68l0 2 1 1 0 2 1 1 0 2 1 1 0 2-1 1 0 2 1 1 0 2 1 1 1-1 1 1 1-1 1 1 0 2-1 1-1-1-1 1 0 2 1 1 0 2 1 1 0 2 1 1 1-1 1 1 0 2 1 1 0 2 1 1 0 2 1 1 0 2-1 1-1-1-1 1 0 2 1 1 1-1 1 1 1-1 0-2 1-1 0-2 1-1 1 1 1-1 0-2-1-1-1 1-1-1-1 1-1-1 0-2 1-1 1 1 1-1 1 1 1-1 0-2-1-1 0-2-1-1-1 1 0 2-1 1-1-1-1 1-1-1 0-2 1-1 0-2 1-1 0-2-1-1-1 1 0 2-1 1 0 2-1 1-1-1 0-2 1-1 0-2 1-1 0-2-1-1 0-2 1-1 0-2-1-1 0-2 1-1 0-2-1-1-1 1-1-1 0-2-1-1 0-2-1-1-1 1-1-1 0-2-1-1-1 1 0 2zM25 79l1 1 1-1 1 1 0 2-1 1-1-1-1 1-1-1 0-2zM25 73l-1 1-1-1 0-2 1-1 1 1zM33 79l0-2-1-1-1 1 0 2 1 1zM29 107l1-1 0-2-1-1-1 1 0 2zM33 121l1 1 0 2-1 1 0 2 1 1 1-1 0-2 1-1 1 1 1-1 1 1 1-1 1 1 1-1 1 1 1-1 0-2-1-1-1 1-1-1-1 1-1-1-1 1-1-1 0-2 1-1 1 1 1-1 0-2 1-1 0-2-1-1 0-2-1-1-1 1-1-1-1 1 0 2 1 1 0 2-1 1-1-1-1 1 0 2-1 1zM35 137l0 2 1 1 1-1 1 1 1-1 0-2 1-1 1 1 1-1 1 1 1-1 0-2 1-1 0-2-1-1 0-2-1-1-1 1-1-1-1 1 0 2 1 1 1-1 1 1 0 2-1 1-1-1-1 1-1-1-1 1-1-1-1 1 0 2zM37 131l1-1 0-2-1-1-1 1 0 2zM44 146l1-1 0-2-1-1-1 1 0 2zM43 151l0-2-1-1-1 1 0 2 1 1zM47 151l0-2-1-1-1 1 0 2 1 1z"/>
<path fill="#2b3a76" stroke="#2b3a76" d="M16 52l1 1 1-1 0-2-1-1-1 1zM19 55l1 1 1-1 0-2-1-1-1 1zM22 68l0 2 1 1 1-1 0-2-1-1 0-2-1-1-1 1 0 2zM24 74l0 2 1 1 0 2 1 1 1-1 0-2 1-1 0-2-1-1 0-2-1-1-1 1 0 2zM23 83l0 2 1 1 1-1 0-2-1-1 0-2-1-1-1 1 0 2zM26 94l1 1 0 2 1 1 1-1 1 1 1-1 0-2 1-1 0-2-1-1-1 1 0 2-1 1-1-1 0-2-1-1-1 1zM32 100l1 1 1-1 1 1 1-1 0-2-1-1-1 1-1-1-1 1zM32 106l1 1 0 2-1 1 0 2 1 1 1-1 0-2 1-1 0-2 1-1 0-2-1-1-1 1-1-1-1 1zM36 112l1 1 1-1 0-2-1-1-1 1zM39 115l-1 1 0 2 1 1 1-1 0-2 1-1 0-2-1-1-1 1zM36 124l1 1 1-1 1 1 1-1 1 1 1-1 1 1 1-1 0-2-1-1-1 1-1-1-1 1-1-1-1 1-1-1-1 1zM33 127l1 1 1-1 0-2-1-1-1 1zM40 130l1 1 1-1 0-2-1-1-1 1zM43 133l1 1 1-1 0-2-1-1-1 1zM38 136l-1 1-1-1-1 1 0 2 1 1 1-1 1 1 1-1 0-2zM46 152l1-1 0-2-1-1-1 1 0 2z"/>
<path fill="#2c3473" stroke="#2c3473" d="M20 52l-1 1 0 2 1 1 1-1 0-2zM23 67l-1 1 0 2 1 1 1-1 0-2zM25 71l0 2-1 1 0 2 1 1 1-1 1 1 1-1 0-2-1-1 0-2-1-1zM28 94l-1 1 0 2 1 1 1-1 0-2zM32 98l0 2 1 1 1-1 0-2-1-1zM32 110l0 2 1 1 1-1 0-2-1-1zM39 115l-1 1 0 2 1 1 1-1 0-2zM40 122l0 2 1 1 1-1 0-2-1-1zM40 128l0 2 1 1 1-1 0-2-1-1z"/>
</g></g>
<path fill="#f0a9a9" d="M175.9 901.0v-6.5h12.0v6.5zM189.5 901.0v-8.3h12.0v8.3zM203.0 901.0v-10.5h12.0v10.5zM216.5 901.0v-12.6h12.0v12.6zM230.0 901.0v-14.7h12.0v14.7zM243.5 901.0v-16.9h12.0v16.9zM257.1 901.0v-20.8h12.0v20.8zM270.6 901.0v-24.7h12.0v24.7zM284.1 901.0v-30.4h12.0v30.4zM297.6 901.0v-34.3h12.0v34.3zM311.1 901.0v-39.3h12.0v39.3zM324.7 901.0v-41.4h12.0v41.4zM338.2 901.0v-44.3h12.0v44.3zM351.7 901.0v-46.4h12.0v46.4zM365.2 901.0v-48.5h12.0v48.5zM378.8 901.0v-50.0h12.0v50.0zM392.3 901.0v-50.3h12.0v50.3zM405.8 901.0v-50.7h12.0v50.7zM419.3 901.0v-49.2h12.0v49.2zM432.8 901.0v-47.5h12.0v47.5zM446.3 901.0v-45.3h12.0v45.3zM459.9 901.0v-43.2h12.0v43.2zM473.4 901.0v-39.6h12.0v39.6zM486.9 901.0v-36.4h12.0v36.4zM500.4 901.0v-34.3h12.0v34.3zM514.0 901.0v-30.7h12.0v30.7zM527.5 901.0v-26.5h12.0v26.5zM541.0 901.0v-21.8h12.0v21.8zM554.5 901.0v-18.3h12.0v18.3zM568.0 901.0v-14.4h12.0v14.4zM581.5 901.0v-10.5h12.0v10.5zM595.1 901.0v-6.5h12.0v6.5zM608.6 901.0v-3.7h12.0v3.7zM622.1 901.0v-1.9h12.0v1.9z"/>
<path fill="#f0a9a9" d="M767.5 964.6h35.3v11.5h-35.3zM767.5 977.7h36.4v11.5h-36.4zM767.5 990.7h38.3v11.5h-38.3zM767.5 1003.7h40.2v11.5h-40.2zM767.5 1016.7h42.4v11.5h-42.4zM767.5 1029.8h44.5v11.5h-44.5zM767.5 1042.8h47.3v11.5h-47.3zM767.5 1055.8h49.5v11.5h-49.5zM767.5 1068.8h51.6v11.5h-51.6zM767.5 1081.8h51.6v11.5h-51.6zM767.5 1094.8h51.8v11.5h-51.8zM767.5 1107.9h52.3v11.5h-52.3zM767.5 1120.9h52.8v11.5h-52.8zM767.5 1133.9h52.3v11.5h-52.3zM767.5 1146.9h52.5v11.5h-52.5zM767.5 1160.0h53.7v11.5h-53.7zM767.5 1173.0h55.6v11.5h-55.6zM767.5 1186.0h53.7v11.5h-53.7zM767.5 1199.0h54.4v11.5h-54.4zM767.5 1212.0h53.5v11.5h-53.5zM767.5 1225.0h54.4v11.5h-54.4zM767.5 1238.1h55.4v11.5h-55.4zM767.5 1251.1h55.4v11.5h-55.4zM767.5 1264.1h55.9v11.5h-55.9zM767.5 1277.1h55.9v11.5h-55.9zM767.5 1290.2h56.3v11.5h-56.3zM767.5 1303.2h58.2v11.5h-58.2zM767.5 1316.2h58.2v11.5h-58.2zM767.5 1329.2h58.7v11.5h-58.7zM767.5 1342.2h60.6v11.5h-60.6zM767.5 1355.2h60.6v11.5h-60.6zM767.5 1368.3h61.3v11.5h-61.3zM767.5 1381.3h63.4v11.5h-63.4zM767.5 1394.3h63.4v11.5h-63.4zM767.5 1407.3h63.4v11.5h-63.4zM767.5 1420.3h63.7v11.5h-63.7zM767.5 1433.4h61.3v11.5h-61.3zM767.5 1446.4h60.3v11.5h-60.3zM767.5 1459.4h59.6v11.5h-59.6zM767.5 1472.4h58.5v11.5h-58.5z"/>
<path d="M402.7 901.0V846.8M767.5 1242.3H833.3" stroke="#029e73" stroke-width="5" stroke-dasharray="17.5 7.3" fill="none"/>
<path d="M175.5 962.4V1486.9M174.2 1485.6H718.0M174.2 901.0H718.0M767.5 962.4V1486.9M252.8 1485.6v10.8M252.8 901.0v10.8M407.4 1485.6v10.8M407.4 901.0v10.8M562.1 1485.6v10.8M562.1 901.0v10.8M716.7 1485.6v10.8M716.7 901.0v10.8M175.5 1398.6h-10.8M767.5 1398.6h-10.8M175.5 1289.9h-10.8M767.5 1289.9h-10.8M175.5 1181.2h-10.8M767.5 1181.2h-10.8M175.5 1072.4h-10.8M767.5 1072.4h-10.8M175.5 963.7h-10.8M767.5 963.7h-10.8" stroke="#000" stroke-width="2.6" fill="none"/>
<text transform="translate(235.41,1536.20) rotate(-45)" font-size="29.17" >1</text>
<text transform="translate(390.04,1536.20) rotate(-45)" font-size="29.17" >2</text>
<text transform="translate(544.67,1536.20) rotate(-45)" font-size="29.17" >3</text>
<text transform="translate(699.30,1536.20) rotate(-45)" font-size="29.17" >4</text>
<text transform="translate(136.60,1416.33) rotate(-45)" font-size="29.17" >1</text>
<text transform="translate(136.60,1307.60) rotate(-45)" font-size="29.17" >2</text>
<text transform="translate(136.60,1198.87) rotate(-45)" font-size="29.17" >3</text>
<text transform="translate(136.60,1090.14) rotate(-45)" font-size="29.17" >4</text>
<text transform="translate(136.60,981.41) rotate(-45)" font-size="29.17" >5</text>
<circle cx="402.7" cy="1242.3" r="18.4" fill="#029e73" stroke="#fff" stroke-width="6"/>
<rect x="487.0" y="981.8" width="212.1" height="66.0" rx="5" fill="#fff" fill-opacity="0.5"/>
<circle cx="538.5" cy="1012.0" r="18.4" fill="#029e73" stroke="#fff" stroke-width="6"/>
<text x="603.6" y="1024.9" font-size="36.1">MAP</text>
<text x="446.0" y="1580.0" font-size="36.1" text-anchor="middle"><tspan class="i">v</tspan><tspan class="i" font-size="25.3" dy="5.4">s</tspan><tspan dy="-5.4">0</tspan></text><text x="446.0" y="1627.0" font-size="36.1" text-anchor="middle"><tspan>[km·s</tspan><tspan font-size="25.3" dy="-13.0">−1</tspan><tspan dy="13.0">]</tspan></text><text transform="translate(59.0,1224.8) rotate(-90)" font-size="36.1" text-anchor="middle"><tspan class="i">H</tspan><tspan>0</tspan></text><text transform="translate(100.4,1224.8) rotate(-90)" font-size="36.1" text-anchor="middle"><tspan>[km]</tspan></text>
<g font-weight="bold"><text transform="translate(4.0,849.8) scale(1.19,1)" font-size="49.7">(</text><text x="29.9" y="847.2" font-size="46.0">c</text><text transform="translate(56.3,849.8) scale(1.19,1)" font-size="49.7">)</text></g>
<!-- panel d -->
<clipPath id="clip3"><rect x="1042.6" y="961.0" width="530.9" height="521.9"/></clipPath>
<rect x="1042.6" y="961.0" width="530.9" height="521.9" fill="#f5f5f5"/>
<g clip-path="url(#clip3)"><g transform="matrix(5.3090 0 0 -3.1065 1042.60 1482.90)" class="hx">
<path fill="#a5cd90" stroke="#a5cd90" d="M6 -8l-1 1-1-1-1 1-1-1-1 1-1-1-1 1 0 2-1 1 0 2 1 1 0 2 1 1 1-1 0-2-1-1 0-2 1-1 1 1 0 2 1 1 0 2 1 1 0 2-1 1 0 2 1 1 0 2 1 1 0 2 1 1 0 2 1 1 0 2-1 1 0 2 1 1 0 2 1 1 1-1 1 1 0 2-1 1 0 2 1 1 1-1 1 1 1-1 1 1 0 2-1 1-1-1-1 1 0 2 1 1 0 2 1 1 0 2 1 1 0 2 1 1 1-1 1 1 0 2 1 1 0 2-1 1 0 2 1 1 1-1 1 1 0 2 1 1 0 2-1 1-1-1-1 1 0 2 1 1 1-1 1 1 1-1 1 1 0 2 1 1 0 2 1 1 1-1 1 1 0 2-1 1 0 2 1 1 0 2 1 1 1-1 1 1 0 2-1 1 0 2 1 1 0 2-1 1 0 2 1 1 0 2-1 1 0 2-1 1 0 2-1 1 0 2 1 1 1-1 1 1 0 2-1 1-1-1-1 1 0 2 1 1 1-1 1 1 1-1 1 1 0 2-1 1 0 2-1 1-1-1-1 1 0 2 1 1 0 2 1 1 1-1 1 1 0 2-1 1 0 2 1 1 1-1 1 1 0 2-1 1 0 2-1 1-1-1 0-2-1-1-1 1 0 2 1 1 0 2 1 1 1-1 1 1 0 2-1 1 0 2-1 1 0 2 1 1 0 2-1 1 0 2 1 1 0 2-1 1 0 2 1 1 1-1 1 1 1-1 1 1 0 2 1 1 0 2-1 1-1-1 0-2-1-1-1 1-1-1-1 1 0 2 1 1 1-1 1 1 0 2-1 1-1-1-1 1 0 2 1 1 0 2-1 1 0 2 1 1 0 2-1 1 0 2 1 1 0 2 1 1 1-1 0-2 1-1 1 1 0 2 1 1 1-1 1 1 1-1 1 1 1-1 1 1 1-1 1 1 1-1 1 1 1-1 1 1 1-1 1 1 1-1 1 1 1-1 1 1 1-1 1 1 1-1 1 1 1-1 1 1 1-1 1 1 1-1 1 1 1-1 1 1 1-1 1 1 1-1 1 1 1-1 1 1 1-1 1 1 1-1 1 1 1-1 1 1 1-1 1 1 1-1 1 1 1-1 1 1 1-1 1 1 1-1 1 1 1-1 1 1 1-1 1 1 1-1 1 1 1-1 1 1 1-1 0-2 1-1 0-2-1-1 0-2-1-1 0-2 1-1 0-2-1-1 0-2-1-1-1 1-1-1 0-2 1-1 0-2 1-1 1 1 0 2 1 1 1-1 0-2 1-1 0-2-1-1-1 1-1-1 0-2-1-1 0-2 1-1 0-2 1-1 0-2-1-1 0-2 1-1 0-2-1-1 0-2 1-1 0-2-1-1 0-2 1-1 0-2 1-1 0-2-1-1-1 1-1-1 0-2 1-1 0-2 1-1 0-2 1-1 0-2-1-1 0-2-1-1-1 1-1-1 0-2 1-1 1 1 1-1 0-2-1-1 0-2 1-1 0-2-1-1 0-2 1-1 0-2 1-1 0-2-1-1 0-2 1-1 1 1 0 2 1 1 1-1 0-2 1-1 0-2-1-1-1 1-1-1 0-2-1-1 0-2-1-1 0-2 1-1 0-2 1-1 0-2-1-1-1 1-1-1 0-2 1-1 0-2 1-1 0-2 1-1 0-2-1-1-1 1 0 2-1 1-1-1 0-2 1-1 0-2 1-1 0-2-1-1 0-2 1-1 0-2 1-1 1 1 1-1 0-2-1-1 0-2 1-1 1 1 1-1 0-2-1-1-1 1-1-1 0-2 1-1 1 1 1-1 0-2-1-1 0-2-1-1-1 1-1-1 0-2 1-1 1 1 1-1 1 1 1-1 0-2-1-1-1 1-1-1-1 1-1-1 0-2 1-1 1 1 1-1 1 1 1-1 0-2-1-1 0-2-1-1-1 1-1-1 0-2-1-1 0-2 1-1 1 1 0 2 1 1 1-1 1 1 1-1 0-2-1-1-1 1-1-1 0-2 1-1 1 1 1-1 0-2-1-1-1 1-1-1 0-2-1-1 0-2-1-1-1 1-1-1-1 1-1-1-1 1-1-1-1 1-1-1-1 1-1-1-1 1-1-1-1 1-1-1-1 1-1-1-1 1-1-1-1 1-1-1-1 1-1-1-1 1-1-1-1 1-1-1-1 1-1-1-1 1-1-1-1 1-1-1-1 1-1-1-1 1-1-1-1 1-1-1-1 1-1-1-1 1-1-1-1 1-1-1-1 1-1-1-1 1-1-1-1 1-1-1-1 1-1-1-1 1-1-1-1 1-1-1-1 1-1-1-1 1-1-1-1 1-1-1-1 1-1-1-1 1-1-1-1 1-1-1-1 1-1-1-1 1-1-1-1 1-1-1-1 1-1-1-1 1-1-1-1 1-1-1-1 1-1-1-1 1-1-1-1 1-1-1-1 1-1-1-1 1-1-1-1 1-1-1-1 1zM32 94l1 1 0 2-1 1-1-1 0-2zM33 115l1 1 0 2-1 1-1-1 0-2zM33 175l0-2 1-1 0-2 1-1 1 1 0 2-1 1 0 2-1 1zM93 157l1 1 0 2-1 1-1-1 0-2zM95 149l0 2-1 1-1-1 0-2 1-1zM97 91l-1 1-1-1 0-2 1-1 1 1zM93 73l1 1 0 2-1 1-1-1 0-2zM95 65l0 2-1 1-1-1 0-2 1-1zM96 80l1-1 1 1 0 2-1 1-1-1zM0 10l1 1 1-1 0-2-1-1-1 1zM20 70l1 1 1-1 0-2-1-1-1 1zM24 80l1-1 0-2-1-1-1 1 0 2zM26 92l1-1 0-2-1-1-1 1 0 2zM29 149l1-1 0-2-1-1-1 1 0 2zM103 73l0-2-1-1-1 1 0 2-1 1 0 2 1 1 1-1 0-2zM100 130l1 1 1-1 0-2-1-1-1 1zM99 139l1 1 1-1 0-2-1-1-1 1z"/>
<path fill="#98c691" stroke="#98c691" d="M9 5l0 2-1 1 0 2 1 1 1-1 1 1 0 2 1 1 0 2 1 1 0 2 1 1 0 2 1 1 0 2-1 1 0 2 1 1 0 2 1 1 0 2 1 1 0 2 1 1 0 2 1 1 0 2 1 1 0 2 1 1 0 2 1 1 0 2 1 1 1-1 1 1 0 2 1 1 0 2 1 1 0 2 1 1 1-1 1 1 0 2 1 1 0 2-1 1 0 2 1 1 1-1 1 1 1-1 1 1 0 2-1 1-1-1-1 1 0 2 1 1 1-1 1 1 0 2 1 1 0 2-1 1 0 2 1 1 0 2 1 1 0 2 1 1 1-1 1 1 0 2-1 1-1-1-1 1 0 2 1 1 0 2 1 1 1-1 1 1 0 2-1 1-1-1-1 1 0 2 1 1 0 2 1 1 0 2 1 1 0 2-1 1-1-1 0-2-1-1-1 1 0 2 1 1 0 2 1 1 1-1 1 1 0 2-1 1 0 2-1 1 0 2 1 1 0 2 1 1 0 2-1 1-1-1-1 1 0 2 1 1 1-1 1 1 0 2-1 1 0 2 1 1 0 2 1 1 0 2-1 1 0 2-1 1 0 2 1 1 0 2 1 1 0 2-1 1 0 2-1 1 0 2 1 1 0 2-1 1 0 2 1 1 1-1 1 1 1-1 1 1 0 2 1 1 0 2-1 1-1-1-1 1-1-1-1 1 0 2 1 1 0 2 1 1 1-1 1 1 1-1 1 1 1-1 1 1 1-1 1 1 1-1 1 1 1-1 1 1 1-1 1 1 1-1 1 1 1-1 1 1 1-1 1 1 1-1 1 1 1-1 1 1 1-1 1 1 1-1 1 1 1-1 1 1 1-1 1 1 1-1 1 1 1-1 1 1 1-1 1 1 1-1 1 1 1-1 1 1 1-1 1 1 1-1 1 1 1-1 1 1 1-1 1 1 1-1 1 1 1-1 1 1 1-1 0-2-1-1 0-2 1-1 0-2-1-1 0-2 1-1 0-2-1-1 0-2-1-1-1 1-1-1 0-2 1-1 0-2 1-1 1 1 0 2 1 1 1-1 0-2 1-1 0-2-1-1-1 1-1-1 0-2-1-1 0-2 1-1 0-2 1-1 0-2-1-1 0-2 1-1 0-2-1-1 0-2 1-1 0-2-1-1 0-2-1-1 0-2 1-1 1 1 1-1 0-2-1-1-1 1-1-1 0-2 1-1 0-2 1-1 0-2 1-1 0-2-1-1 0-2-1-1-1 1-1-1 0-2 1-1 1 1 1-1 0-2-1-1 0-2 1-1 0-2-1-1 0-2 1-1 0-2 1-1 0-2-1-1 0-2 1-1 0-2 1-1 0-2-1-1 0-2-1-1 0-2 1-1 0-2 1-1 0-2-1-1-1 1-1-1 0-2 1-1 0-2 1-1 0-2 1-1 0-2-1-1-1 1 0 2-1 1-1-1 0-2 1-1 0-2 1-1 0-2-1-1 0-2 1-1 0-2 1-1 1 1 1-1 0-2-1-1 0-2 1-1 1 1 1-1 0-2-1-1-1 1-1-1 0-2 1-1 1 1 1-1 0-2-1-1-1 1-1-1 0-2-1-1 0-2 1-1 1 1 1-1 0-2-1-1-1 1-1-1-1 1-1-1 0-2 1-1 1 1 1-1 1 1 1-1 0-2 1-1 0-2-1-1-1 1-1-1 0-2-1-1 0-2 1-1 1 1 1-1 0-2 1-1 0-2-1-1 0-2-1-1-1 1-1-1 0-2-1-1-1 1-1-1-1 1-1-1-1 1-1-1-1 1-1-1-1 1-1-1-1 1-1-1-1 1-1-1-1 1-1-1-1 1-1-1-1 1-1-1-1 1-1-1-1 1-1-1-1 1-1-1-1 1-1-1-1 1-1-1-1 1-1-1-1 1-1-1-1 1-1-1-1 1-1-1-1 1-1-1-1 1-1-1-1 1-1-1-1 1-1-1-1 1-1-1-1 1-1-1-1 1-1-1-1 1-1-1-1 1-1-1-1 1-1-1-1 1-1-1-1 1-1-1-1 1-1-1-1 1-1-1-1 1-1-1-1 1-1-1-1 1-1-1-1 1-1-1-1 1-1-1-1 1-1-1-1 1-1-1-1 1-1-1-1 1-1-1-1 1-1-1-1 1-1-1-1 1-1-1-1 1 0 2-1 1 0 2 1 1 0 2 1 1 0 2zM42 166l0-2 1-1 1 1 0 2-1 1zM8 -4l1-1 1 1 0 2-1 1-1-1zM11 5l1-1 1 1 0 2-1 1-1-1zM94 158l0 2-1 1-1-1 0-2 1-1zM95 149l0 2-1 1-1-1 0-2 1-1zM94 74l0 2-1 1-1-1 0-2 1-1zM95 65l0 2-1 1-1-1 0-2 1-1zM101 1l-1 1-1-1 0-2 1-1 1 1zM95 5l1-1 1 1 0 2-1 1-1-1zM96 34l1 1 0 2-1 1-1-1 0-2zM95 89l1-1 1 1 0 2-1 1-1-1zM98 82l-1 1-1-1 0-2-1-1 0-2 1-1 1 1 0 2 1 1zM100 74l0 2 1 1 1-1 0-2 1-1 0-2-1-1-1 1 0 2zM103 85l0-2-1-1-1 1 0 2-1 1 0 2 1 1 1-1 0-2zM100 130l1 1 1-1 0-2-1-1-1 1z"/>
<path fill="#8ec291" stroke="#8ec291" d="M25 -7l-1-1-1 1-1-1-1 1-1-1-1 1-1-1-1 1-1-1-1 1 0 2-1 1 0 2-1 1 0 2-1 1 0 2 1 1 1-1 0-2 1-1 0-2 1-1 1 1 0 2-1 1 0 2-1 1 0 2 1 1 0 2-1 1 0 2 1 1 1-1 1 1 0 2-1 1 0 2 1 1 0 2 1 1 0 2 1 1 0 2 1 1 0 2 1 1 0 2-1 1 0 2 1 1 1-1 1 1 0 2 1 1 0 2 1 1 0 2 1 1 1-1 1 1 0 2 1 1 0 2-1 1 0 2 1 1 1-1 1 1 0 2 1 1 0 2-1 1 0 2 1 1 0 2 1 1 1-1 1 1 0 2 1 1 0 2 1 1 1-1 1 1 0 2-1 1 0 2 1 1 1-1 1 1 0 2-1 1 0 2 1 1 0 2-1 1 0 2 1 1 1-1 0-2 1-1 1 1 0 2-1 1 0 2 1 1 0 2 1 1 0 2-1 1-1-1-1 1 0 2 1 1 0 2 1 1 1-1 1 1 1-1 1 1 0 2-1 1 0 2-1 1 0 2-1 1 0 2 1 1 0 2-1 1 0 2 1 1 1-1 1 1 0 2-1 1 0 2-1 1 0 2 1 1 0 2-1 1 0 2 1 1 0 2 1 1 0 2-1 1 0 2 1 1 1-1 1 1 0 2-1 1-1-1-1 1 0 2 1 1 0 2-1 1 0 2 1 1 1-1 0-2 1-1 1 1 0 2-1 1 0 2-1 1 0 2-1 1 0 2 1 1 1-1 1 1 0 2-1 1 0 2 1 1 0 2 1 1 0 2-1 1 0 2 1 1 1-1 1 1 1-1 1 1 1-1 1 1 1-1 1 1 1-1 1 1 1-1 1 1 1-1 1 1 1-1 1 1 1-1 1 1 1-1 1 1 1-1 1 1 1-1 1 1 1-1 1 1 1-1 1 1 1-1 1 1 1-1 1 1 1-1 1 1 1-1 0-2-1-1-1 1-1-1 0-2 1-1 1 1 1-1 1 1 1-1 0-2-1-1-1 1-1-1 0-2 1-1 1 1 1-1 0-2-1-1 0-2 1-1 0-2-1-1 0-2 1-1 0-2 1-1 0-2-1-1 0-2-1-1 0-2 1-1 1 1 0 2 1 1 1-1 0-2-1-1 0-2-1-1 0-2-1-1 0-2-1-1 0-2-1-1 0-2 1-1 1 1 1-1 0-2 1-1 0-2 1-1 0-2-1-1 0-2-1-1 0-2 1-1 1 1 1-1 0-2-1-1-1 1-1-1 0-2 1-1 1 1 1-1 0-2-1-1-1 1-1-1 0-2 1-1 0-2-1-1-1 1-1-1 0-2 1-1 1 1 1-1 0-2 1-1 0-2-1-1 0-2-1-1-1 1-1-1 0-2 1-1 1 1 1-1 1 1 1-1 0-2-1-1-1 1-1-1 0-2 1-1 0-2 1-1 0-2-1-1 0-2-1-1 0-2 1-1 1 1 1-1 0-2-1-1-1 1-1-1 0-2-1-1-1 1-1-1 0-2 1-1 0-2 1-1 1 1 1-1 0-2-1-1-1 1-1-1 0-2-1-1 0-2 1-1 0-2 1-1 0-2-1-1-1 1-1-1 0-2 1-1 1 1 1-1 0-2 1-1 0-2 1-1 0-2-1-1 0-2-1-1-1 1-1-1 0-2 1-1 0-2 1-1 0-2-1-1 0-2-1-1 0-2 1-1 0-2 1-1 1 1 1-1 0-2-1-1-1 1-1-1 0-2-1-1 0-2-1-1 0-2 1-1 0-2 1-1 0-2-1-1-1 1-1-1-1 1-1-1-1 1-1-1-1 1-1-1-1 1-1-1-1 1-1-1-1 1-1-1-1 1-1-1-1 1-1-1-1 1-1-1-1 1-1-1-1 1-1-1-1 1-1-1-1 1-1-1-1 1-1-1-1 1-1-1-1 1-1-1-1 1-1-1-1 1-1-1-1 1-1-1-1 1-1-1-1 1-1-1-1 1-1-1-1 1-1-1-1 1-1-1-1 1-1-1-1 1-1-1-1 1-1-1-1 1-1-1-1 1-1-1-1 1-1-1zM48 118l0-2 1-1 1 1 0 2 1 1 0 2-1 1-1-1 0-2zM51 131l0 2-1 1-1-1 0-2 1-1zM86 10l-1 1-1-1 0-2 1-1 1 1zM88 34l0-2 1-1 1 1 0 2-1 1zM89 127l0-2 1-1 1 1 0 2-1 1zM26 52l1 1 1-1 0-2-1-1-1 1zM44 112l1 1 1-1 0-2-1-1-1 1zM45 151l1 1 1-1 0-2-1-1-1 1zM94 40l0-2-1-1-1 1 0 2-1 1 0 2 1 1 1-1 0-2zM94 44l0 2 1 1 1-1 0-2-1-1zM90 52l1 1 1-1 0-2-1-1-1 1zM95 127l1 1 1-1 0-2-1-1-1 1zM91 139l1 1 1-1 0-2-1-1-1 1zM94 166l0-2-1-1-1 1 0 2-1 1 0 2 1 1 1-1 0-2zM91 181l1 1 1-1 0-2-1-1-1 1z"/>
<path fill="#85bd91" stroke="#85bd91" d="M25 -7l-1-1-1 1-1-1-1 1 0 2-1 1-1-1-1 1 0 2 1 1 0 2 1 1 0 2-1 1 0 2-1 1 0 2 1 1 0 2-1 1 0 2 1 1 0 2 1 1 1-1 1 1 0 2-1 1 0 2 1 1 0 2 1 1 0 2 1 1 0 2 1 1 0 2 1 1 0 2 1 1 1-1 0-2 1-1 1 1 0 2 1 1 0 2-1 1 0 2 1 1 1-1 1 1 0 2-1 1 0 2 1 1 1-1 1 1 0 2 1 1 0 2 1 1 1-1 1 1 0 2-1 1 0 2 1 1 1-1 1 1 0 2-1 1 0 2 1 1 0 2 1 1 1-1 1 1 0 2-1 1 0 2 1 1 1-1 1 1 0 2-1 1-1-1-1 1 0 2 1 1 1-1 1 1 1-1 1 1 0 2-1 1 0 2-1 1 0 2 1 1 0 2 1 1 1-1 1 1 0 2 1 1 0 2-1 1 0 2 1 1 0 2-1 1 0 2 1 1 0 2-1 1 0 2 1 1 1-1 1 1 0 2-1 1 0 2-1 1 0 2 1 1 0 2 1 1 0 2-1 1 0 2-1 1 0 2 1 1 0 2 1 1 0 2-1 1 0 2 1 1 0 2 1 1 0 2-1 1 0 2-1 1 0 2 1 1 0 2 1 1 0 2-1 1-1-1-1 1 0 2 1 1 1-1 1 1 0 2 1 1 0 2-1 1 0 2 1 1 0 2 1 1 0 2 1 1 1-1 1 1 1-1 1 1 1-1 1 1 1-1 1 1 1-1 1 1 1-1 1 1 1-1 1 1 1-1 1 1 1-1 1 1 1-1 1 1 1-1 1 1 1-1 1 1 1-1 1 1 1-1 0-2-1-1 0-2 1-1 0-2 1-1 0-2 1-1 0-2 1-1 0-2 1-1 0-2-1-1 0-2-1-1 0-2 1-1 0-2-1-1 0-2-1-1 0-2 1-1 1 1 1-1 0-2-1-1-1 1-1-1 0-2 1-1 0-2 1-1 0-2-1-1 0-2 1-1 0-2 1-1 0-2-1-1 0-2 1-1 0-2-1-1 0-2-1-1 0-2 1-1 0-2 1-1 0-2-1-1 0-2 1-1 0-2-1-1-1 1-1-1 0-2 1-1 1 1 1-1 0-2-1-1 0-2 1-1 0-2-1-1 0-2 1-1 0-2-1-1 0-2-1-1 0-2 1-1 1 1 1-1 0-2-1-1 0-2-1-1-1 1-1-1 0-2 1-1 0-2-1-1 0-2 1-1 0-2-1-1 0-2 1-1 0-2-1-1 0-2-1-1 0-2-1-1 0-2 1-1 1 1 1-1 0-2-1-1 0-2 1-1 0-2-1-1-1 1-1-1 0-2 1-1 0-2-1-1 0-2-1-1 0-2 1-1 0-2 1-1 1 1 1-1 0-2-1-1-1 1-1-1 0-2 1-1 1 1 1-1 0-2-1-1 0-2-1-1 0-2-1-1 0-2 1-1 0-2-1-1 0-2-1-1 0-2-1-1 0-2-1-1-1 1-1-1-1 1-1-1-1 1-1-1-1 1-1-1-1 1-1-1-1 1-1-1-1 1-1-1-1 1-1-1-1 1-1-1-1 1-1-1-1 1-1-1-1 1-1-1-1 1-1-1-1 1-1-1-1 1-1-1-1 1-1-1-1 1-1-1-1 1-1-1-1 1-1-1-1 1-1-1-1 1-1-1-1 1-1-1-1 1-1-1-1 1-1-1-1 1-1-1-1 1-1-1-1 1-1-1zM51 175l1 1 1-1 0-2-1-1-1 1z"/>
<path fill="#7bb991" stroke="#7bb991" d="M22 -4l0 2-1 1 0 2 1 1 0 2-1 1 0 2 1 1 0 2 1 1 1-1 1 1 0 2-1 1-1-1-1 1 0 2 1 1 0 2 1 1 0 2 1 1 0 2 1 1 0 2 1 1 0 2-1 1 0 2 1 1 1-1 1 1 0 2 1 1 1-1 1 1 0 2 1 1 1-1 1 1 0 2-1 1 0 2-1 1 0 2 1 1 0 2 1 1 0 2 1 1 1-1 1 1 0 2 1 1 0 2 1 1 0 2 1 1 0 2 1 1 0 2 1 1 0 2 1 1 1-1 1 1 0 2-1 1 0 2 1 1 1-1 1 1 0 2-1 1 0 2 1 1 0 2 1 1 0 2-1 1 0 2 1 1 1-1 1 1 0 2-1 1 0 2 1 1 0 2 1 1 0 2 1 1 0 2 1 1 0 2-1 1 0 2 1 1 0 2-1 1 0 2-1 1 0 2 1 1 1-1 1 1 0 2 1 1 0 2-1 1 0 2 1 1 0 2-1 1 0 2-1 1 0 2 1 1 0 2-1 1 0 2 1 1 0 2 1 1 0 2-1 1 0 2-1 1 0 2 1 1 1-1 1 1 0 2 1 1 0 2-1 1-1-1-1 1 0 2-1 1 0 2 1 1 1-1 1 1 0 2-1 1 0 2 1 1 0 2-1 1 0 2 1 1 1-1 1 1 1-1 1 1 1-1 1 1 1-1 1 1 1-1 1 1 1-1 1 1 1-1 1 1 1-1 1 1 1-1 1 1 1-1 1 1 1-1 1 1 1-1 1 1 1-1 0-2 1-1 0-2 1-1 0-2 1-1 0-2-1-1 0-2 1-1 0-2-1-1 0-2-1-1 0-2 1-1 0-2 1-1 0-2-1-1 0-2 1-1 0-2-1-1 0-2 1-1 0-2-1-1 0-2-1-1 0-2 1-1 0-2-1-1 0-2 1-1 0-2 1-1 0-2-1-1 0-2-1-1 0-2 1-1 0-2 1-1 0-2 1-1 0-2-1-1-1 1-1-1 0-2 1-1 1 1 1-1 0-2-1-1-1 1-1-1 0-2 1-1 1 1 1-1 0-2-1-1-1 1-1-1 0-2 1-1 1 1 1-1 0-2-1-1 0-2-1-1 0-2 1-1 0-2 1-1 0-2-1-1-1 1-1-1 0-2 1-1 0-2-1-1 0-2 1-1 0-2-1-1 0-2 1-1 0-2-1-1-1 1 0 2-1 1-1-1 0-2 1-1 0-2 1-1 1 1 1-1 0-2-1-1 0-2-1-1 0-2-1-1 0-2 1-1 0-2-1-1 0-2 1-1 0-2-1-1 0-2 1-1 0-2-1-1 0-2-1-1 0-2 1-1 0-2-1-1 0-2 1-1 1 1 1-1 0-2-1-1-1 1-1-1 0-2 1-1 0-2 1-1 0-2-1-1 0-2 1-1 0-2-1-1-1 1-1-1 0-2 1-1 0-2-1-1 0-2-1-1-1 1-1-1-1 1-1-1-1 1-1-1-1 1-1-1-1 1-1-1-1 1-1-1-1 1-1-1-1 1-1-1-1 1-1-1-1 1-1-1-1 1-1-1-1 1-1-1-1 1-1-1-1 1-1-1-1 1-1-1-1 1-1-1-1 1-1-1-1 1-1-1-1 1-1-1-1 1-1-1-1 1-1-1-1 1-1-1-1 1-1-1-1 1-1-1-1 1-1-1-1 1-1-1-1 1-1-1-1 1 0 2z"/>
<path fill="#72b490" stroke="#72b490" d="M26 4l-1 1 0 2 1 1 0 2-1 1 0 2 1 1 1-1 1 1 0 2 1 1 0 2-1 1-1-1 0-2-1-1-1 1 0 2 1 1 0 2 1 1 0 2 1 1 1-1 0-2 1-1 1 1 0 2-1 1 0 2 1 1 0 2 1 1 0 2 1 1 0 2 1 1 0 2 1 1 0 2 1 1 0 2 1 1 0 2-1 1 0 2 1 1 0 2 1 1 0 2 1 1 1-1 1 1 0 2-1 1 0 2 1 1 1-1 1 1 0 2 1 1 0 2 1 1 1-1 1 1 0 2-1 1 0 2 1 1 1-1 1 1 0 2 1 1 0 2 1 1 0 2-1 1 0 2 1 1 0 2 1 1 0 2 1 1 0 2-1 1 0 2 1 1 1-1 1 1 0 2 1 1 0 2-1 1 0 2-1 1 0 2 1 1 1-1 1 1 0 2-1 1 0 2-1 1 0 2 1 1 0 2-1 1 0 2 1 1 0 2 1 1 0 2-1 1 0 2 1 1 0 2-1 1 0 2-1 1 0 2 1 1 0 2 1 1 0 2-1 1 0 2 1 1 0 2-1 1 0 2 1 1 0 2 1 1 0 2-1 1 0 2-1 1 0 2 1 1 0 2 1 1 0 2 1 1 0 2 1 1 0 2 1 1 1-1 1 1 1-1 1 1 1-1 1 1 1-1 1 1 1-1 1 1 1-1 1 1 1-1 1 1 1-1 1 1 1-1 1 1 1-1 0-2 1-1 0-2 1-1 0-2 1-1 0-2-1-1 0-2 1-1 0-2-1-1 0-2 1-1 0-2 1-1 0-2-1-1 0-2 1-1 0-2-1-1 0-2-1-1 0-2 1-1 0-2-1-1 0-2-1-1 0-2 1-1 0-2 1-1 0-2-1-1 0-2 1-1 0-2-1-1 0-2 1-1 0-2-1-1 0-2-1-1 0-2 1-1 0-2 1-1 0-2-1-1 0-2-1-1 0-2 1-1 1 1 1-1 0-2-1-1-1 1-1-1 0-2-1-1 0-2 1-1 0-2 1-1 0-2-1-1 0-2 1-1 0-2-1-1 0-2-1-1 0-2-1-1 0-2 1-1 1 1 1-1 0-2-1-1 0-2-1-1 0-2 1-1 0-2-1-1 0-2-1-1 0-2-1-1 0-2 1-1 0-2 1-1 0-2 1-1 0-2-1-1-1 1-1-1 0-2 1-1 0-2 1-1 0-2-1-1 0-2-1-1 0-2 1-1 1 1 1-1 0-2-1-1-1 1-1-1 0-2 1-1 0-2-1-1 0-2 1-1 0-2-1-1 0-2 1-1 0-2 1-1 0-2-1-1-1 1-1-1 0-2-1-1 0-2-1-1 0-2-1-1-1 1-1-1-1 1-1-1-1 1-1-1-1 1-1-1-1 1-1-1-1 1-1-1-1 1-1-1-1 1-1-1-1 1-1-1-1 1-1-1-1 1-1-1-1 1-1-1-1 1-1-1-1 1-1-1-1 1-1-1-1 1-1-1-1 1-1-1-1 1-1-1-1 1-1-1-1 1-1-1-1 1-1-1-1 1-1-1-1 1-1-1-1 1-1-1-1 1 0 2 1 1 0 2-1 1 0 2 1 1z"/>
<path fill="#69b090" stroke="#69b090" d="M31 -7l-1-1-1 1 0 2 1 1 0 2-1 1 0 2 1 1 0 2-1 1 0 2-1 1 0 2 1 1 0 2-1 1 0 2 1 1 0 2-1 1 0 2 1 1 1-1 1 1 1-1 1 1 0 2-1 1 0 2-1 1 0 2 1 1 1-1 1 1 0 2 1 1 0 2 1 1 0 2 1 1 0 2-1 1 0 2 1 1 0 2 1 1 0 2-1 1 0 2 1 1 1-1 1 1 0 2 1 1 0 2 1 1 0 2 1 1 1-1 1 1 0 2 1 1 0 2 1 1 0 2 1 1 0 2 1 1 1-1 1 1 0 2 1 1 0 2 1 1 0 2-1 1 0 2 1 1 1-1 1 1 0 2-1 1 0 2 1 1 0 2-1 1 0 2 1 1 0 2 1 1 0 2-1 1 0 2 1 1 0 2 1 1 0 2 1 1 0 2-1 1 0 2 1 1 0 2-1 1 0 2 1 1 0 2-1 1 0 2 1 1 0 2 1 1 0 2-1 1-1-1-1 1 0 2 1 1 0 2 1 1 0 2-1 1 0 2-1 1 0 2 1 1 0 2 1 1 0 2 1 1 0 2-1 1 0 2-1 1 0 2 1 1 0 2 1 1 0 2-1 1 0 2 1 1 0 2 1 1 0 2 1 1 1-1 1 1 1-1 1 1 1-1 1 1 1-1 1 1 1-1 1 1 1-1 1 1 1-1 1 1 1-1 1 1 1-1 1 1 1-1 0-2 1-1 0-2 1-1 0-2-1-1 0-2 1-1 0-2 1-1 0-2-1-1 0-2 1-1 0-2-1-1 0-2-1-1 0-2 1-1 0-2-1-1 0-2-1-1 0-2 1-1 0-2-1-1 0-2 1-1 0-2 1-1 0-2-1-1 0-2 1-1 0-2 1-1 0-2-1-1 0-2-1-1 0-2-1-1 0-2 1-1 0-2 1-1 0-2-1-1 0-2 1-1 0-2-1-1 0-2-1-1 0-2 1-1 0-2-1-1 0-2 1-1 0-2-1-1 0-2 1-1 0-2-1-1 0-2-1-1 0-2 1-1 0-2-1-1 0-2-1-1 0-2 1-1 0-2 1-1 0-2-1-1 0-2-1-1 0-2-1-1 0-2 1-1 0-2-1-1 0-2 1-1 0-2-1-1-1 1-1-1 0-2 1-1 1 1 1-1 0-2-1-1-1 1-1-1 0-2 1-1 1 1 1-1 0-2-1-1 0-2-1-1 0-2 1-1 0-2-1-1 0-2-1-1 0-2 1-1 0-2-1-1 0-2 1-1 0-2-1-1 0-2 1-1 0-2-1-1-1 1-1-1 0-2 1-1 0-2-1-1 0-2-1-1-1 1-1-1-1 1-1-1-1 1-1-1-1 1-1-1-1 1-1-1-1 1-1-1-1 1-1-1-1 1-1-1-1 1-1-1-1 1-1-1-1 1-1-1-1 1-1-1-1 1-1-1-1 1-1-1-1 1-1-1-1 1-1-1-1 1-1-1-1 1-1-1-1 1-1-1-1 1-1-1z"/>
<path fill="#61aa90" stroke="#61aa90" d="M38 -8l-1 1-1-1-1 1-1-1-1 1-1-1-1 1 0 2 1 1 0 2-1 1-1-1-1 1 0 2 1 1 1-1 1 1 0 2-1 1 0 2-1 1 0 2-1 1 0 2 1 1 0 2 1 1 0 2 1 1 0 2 1 1 0 2-1 1 0 2 1 1 1-1 1 1 1-1 1 1 0 2-1 1 0 2 1 1 0 2-1 1 0 2 1 1 0 2 1 1 0 2 1 1 0 2-1 1 0 2 1 1 0 2 1 1 1-1 1 1 0 2 1 1 0 2 1 1 0 2 1 1 0 2 1 1 1-1 1 1 0 2 1 1 0 2 1 1 1-1 1 1 0 2-1 1 0 2 1 1 0 2 1 1 0 2 1 1 0 2 1 1 0 2-1 1 0 2 1 1 1-1 1 1 0 2 1 1 0 2-1 1 0 2 1 1 0 2 1 1 0 2-1 1 0 2 1 1 0 2 1 1 0 2-1 1 0 2 1 1 0 2 1 1 0 2-1 1-1-1-1 1 0 2-1 1 0 2 1 1 1-1 1 1 0 2-1 1 0 2 1 1 0 2-1 1 0 2 1 1 0 2-1 1 0 2 1 1 0 2-1 1 0 2-1 1 0 2 1 1 0 2-1 1 0 2 1 1 0 2 1 1 0 2-1 1 0 2 1 1 0 2 1 1 0 2 1 1 0 2 1 1 1-1 1 1 1-1 1 1 1-1 1 1 1-1 1 1 1-1 1 1 1-1 1 1 1-1 1 1 1-1 0-2 1-1 0-2 1-1 0-2-1-1 0-2 1-1 0-2 1-1 0-2 1-1 0-2-1-1 0-2 1-1 0-2-1-1 0-2-1-1 0-2 1-1 0-2-1-1 0-2 1-1 0-2-1-1 0-2-1-1 0-2 1-1 0-2-1-1 0-2 1-1 0-2-1-1 0-2 1-1 0-2-1-1 0-2 1-1 0-2-1-1 0-2-1-1 0-2 1-1 0-2-1-1 0-2 1-1 0-2-1-1 0-2 1-1 0-2 1-1 0-2-1-1 0-2-1-1 0-2-1-1 0-2 1-1 0-2 1-1 0-2-1-1 0-2-1-1 0-2 1-1 0-2 1-1 0-2-1-1-1 1-1-1 0-2 1-1 0-2 1-1 0-2-1-1 0-2 1-1 0-2-1-1-1 1-1-1 0-2-1-1 0-2 1-1 0-2 1-1 0-2-1-1 0-2-1-1 0-2 1-1 0-2 1-1 0-2-1-1-1 1-1-1 0-2 1-1 0-2 1-1 0-2-1-1-1 1-1-1 0-2 1-1 0-2 1-1 0-2-1-1 0-2-1-1 0-2-1-1 0-2 1-1 0-2-1-1 0-2-1-1-1 1-1-1-1 1-1-1-1 1-1-1-1 1-1-1-1 1-1-1-1 1-1-1-1 1-1-1-1 1-1-1-1 1-1-1-1 1-1-1-1 1-1-1-1 1-1-1-1 1-1-1-1 1-1-1-1 1-1-1-1 1zM36 22l-1 1-1-1 0-2 1-1 1 1zM32 14l-1-1 0-2 1-1 1 1 0 2z"/>
<path fill="#5aa690" stroke="#5aa690" d="M35 -1l-1-1 0-2-1-1-1 1 0 2-1 1 0 2 1 1 0 2-1 1 0 2 1 1 0 2 1 1 0 2-1 1 0 2 1 1 1-1 1 1 0 2 1 1 0 2-1 1 0 2 1 1 0 2 1 1 0 2 1 1 0 2 1 1 0 2-1 1 0 2 1 1 0 2-1 1 0 2 1 1 0 2 1 1 0 2-1 1 0 2 1 1 1-1 1 1 0 2 1 1 0 2 1 1 0 2 1 1 1-1 1 1 0 2 1 1 0 2 1 1 0 2 1 1 1-1 1 1 0 2 1 1 0 2 1 1 0 2 1 1 0 2-1 1 0 2 1 1 0 2 1 1 0 2 1 1 0 2 1 1 0 2 1 1 0 2-1 1 0 2 1 1 1-1 1 1 0 2-1 1 0 2-1 1 0 2 1 1 0 2-1 1 0 2 1 1 0 2 1 1 0 2-1 1 0 2 1 1 0 2-1 1 0 2-1 1 0 2 1 1 0 2 1 1 0 2-1 1 0 2-1 1 0 2 1 1 0 2 1 1 0 2-1 1 0 2-1 1 0 2 1 1 0 2 1 1 0 2-1 1 0 2 1 1 0 2-1 1 0 2 1 1 1-1 1 1 0 2 1 1 0 2 1 1 1-1 1 1 1-1 1 1 1-1 1 1 1-1 1 1 1-1 1 1 1-1 1 1 1-1 0-2 1-1 0-2-1-1 0-2 1-1 0-2 1-1 0-2 1-1 0-2 1-1 0-2-1-1 0-2-1-1 0-2 1-1 0-2-1-1 0-2-1-1 0-2 1-1 0-2-1-1 0-2-1-1 0-2 1-1 0-2-1-1 0-2 1-1 0-2-1-1 0-2 1-1 0-2-1-1-1 1-1-1 0-2 1-1 0-2 1-1 0-2-1-1 0-2 1-1 0-2 1-1 0-2-1-1-1 1-1-1 0-2 1-1 0-2 1-1 0-2 1-1 0-2-1-1-1 1-1-1 0-2 1-1 0-2 1-1 0-2-1-1 0-2 1-1 0-2-1-1 0-2 1-1 0-2-1-1 0-2-1-1 0-2 1-1 0-2-1-1 0-2-1-1 0-2-1-1 0-2 1-1 0-2-1-1 0-2 1-1 0-2-1-1 0-2-1-1 0-2 1-1 1 1 1-1 0-2-1-1-1 1-1-1 0-2 1-1 0-2-1-1-1 1-1-1 0-2 1-1 0-2 1-1 0-2-1-1 0-2 1-1 0-2-1-1 0-2 1-1 0-2-1-1 0-2-1-1 0-2 1-1 0-2-1-1 0-2-1-1 0-2-1-1-1 1-1-1 0-2-1-1-1 1-1-1-1 1-1-1-1 1-1-1-1 1-1-1-1 1-1-1-1 1-1-1-1 1-1-1-1 1-1-1-1 1-1-1-1 1-1-1-1 1-1-1-1 1-1-1-1 1-1-1-1 1-1-1-1 1-1-1-1 1 0 2 1 1 0 2z"/>
<path fill="#53a190" stroke="#53a190" d="M36 -4l0 2-1 1 0 2 1 1 0 2-1 1 0 2-1 1-1-1-1 1 0 2 1 1 1-1 1 1 1-1 1 1 0 2 1 1 0 2-1 1-1-1-1 1 0 2 1 1 0 2 1 1 0 2 1 1 0 2 1 1 0 2-1 1 0 2 1 1 0 2-1 1 0 2 1 1 0 2-1 1 0 2 1 1 0 2 1 1 0 2 1 1 0 2 1 1 0 2 1 1 0 2 1 1 1-1 1 1 0 2 1 1 1-1 1 1 0 2 1 1 0 2 1 1 0 2 1 1 1-1 1 1 0 2 1 1 0 2-1 1 0 2 1 1 1-1 1 1 0 2 1 1 0 2 1 1 0 2 1 1 0 2-1 1 0 2 1 1 0 2 1 1 0 2-1 1 0 2 1 1 1-1 1 1 0 2-1 1 0 2-1 1-1-1-1 1 0 2 1 1 0 2 1 1 0 2-1 1 0 2 1 1 0 2 1 1 1-1 1 1 0 2-1 1-1-1-1 1 0 2 1 1 0 2-1 1 0 2-1 1 0 2 1 1 0 2-1 1 0 2 1 1 0 2-1 1 0 2 1 1 0 2-1 1 0 2 1 1 0 2-1 1 0 2 1 1 0 2 1 1 0 2-1 1 0 2 1 1 0 2 1 1 0 2 1 1 0 2 1 1 1-1 1 1 1-1 1 1 1-1 1 1 1-1 1 1 1-1 1 1 1-1 0-2 1-1 0-2 1-1 0-2 1-1 0-2 1-1 0-2-1-1 0-2 1-1 0-2-1-1 0-2 1-1 0-2-1-1 0-2 1-1 0-2-1-1 0-2 1-1 0-2-1-1-1 1-1-1 0-2 1-1 0-2-1-1 0-2-1-1 0-2 1-1 0-2 1-1 0-2-1-1 0-2-1-1 0-2 1-1 0-2 1-1 0-2-1-1 0-2-1-1 0-2 1-1 0-2-1-1 0-2 1-1 0-2-1-1 0-2-1-1 0-2 1-1 0-2 1-1 0-2-1-1 0-2-1-1 0-2 1-1 0-2-1-1 0-2 1-1 0-2-1-1-1 1-1-1 0-2 1-1 1 1 1-1 0-2-1-1 0-2-1-1 0-2-1-1 0-2 1-1 0-2 1-1 0-2-1-1 0-2-1-1 0-2-1-1 0-2 1-1 0-2 1-1 0-2-1-1-1 1-1-1 0-2-1-1 0-2 1-1 0-2 1-1 0-2 1-1 0-2-1-1-1 1-1-1-1 1-1-1 0-2 1-1 1 1 1-1 0-2-1-1 0-2 1-1 0-2-1-1-1 1 0 2-1 1-1-1 0-2 1-1 0-2-1-1 0-2 1-1 0-2-1-1-1 1-1-1 0-2 1-1 1 1 1-1 0-2-1-1 0-2-1-1-1 1 0 2-1 1-1-1 0-2-1-1-1 1-1-1-1 1-1-1-1 1-1-1-1 1-1-1-1 1-1-1-1 1-1-1-1 1-1-1-1 1-1-1-1 1-1-1-1 1-1-1-1 1-1-1-1 1 0 2-1 1-1-1zM32 14l0 2 1 1 1-1 0-2-1-1z"/>
<path fill="#4d9c90" stroke="#4d9c90" d="M36 -2l-1 1 0 2 1 1 1-1 0-2 1-1 1 1 0 2-1 1 0 2-1 1 0 2-1 1 0 2 1 1 0 2 1 1 1-1 1 1 0 2-1 1 0 2 1 1 0 2-1 1 0 2-1 1 0 2 1 1 0 2-1 1 0 2 1 1 0 2-1 1 0 2 1 1 0 2 1 1 0 2 1 1 0 2-1 1 0 2 1 1 1-1 1 1 0 2 1 1 0 2 1 1 0 2 1 1 1-1 1 1 0 2 1 1 0 2 1 1 1-1 1 1 0 2 1 1 0 2 1 1 0 2 1 1 1-1 1 1 0 2-1 1 0 2 1 1 0 2 1 1 0 2 1 1 0 2 1 1 0 2 1 1 0 2-1 1 0 2 1 1 1-1 1 1 0 2-1 1 0 2 1 1 0 2-1 1 0 2 1 1 0 2-1 1 0 2-1 1 0 2 1 1 0 2 1 1 0 2 1 1 0 2-1 1-1-1-1 1 0 2 1 1 0 2-1 1 0 2 1 1 1-1 1 1 0 2-1 1 0 2-1 1 0 2-1 1 0 2 1 1 0 2 1 1 0 2-1 1 0 2-1 1 0 2-1 1 0 2 1 1 0 2 1 1 0 2-1 1 0 2 1 1 1-1 1 1 0 2-1 1 0 2 1 1 1-1 1 1 0 2 1 1 1-1 1 1 1-1 1 1 1-1 1 1 1-1 0-2 1-1 0-2 1-1 0-2 1-1 0-2 1-1 0-2 1-1 0-2 1-1 0-2-1-1 0-2-1-1 0-2 1-1 0-2-1-1 0-2-1-1 0-2-1-1 0-2 1-1 0-2-1-1 0-2 1-1 0-2-1-1 0-2-1-1 0-2 1-1 0-2-1-1 0-2-1-1 0-2-1-1 0-2 1-1 1 1 1-1 0-2-1-1 0-2 1-1 0-2 1-1 0-2-1-1-1 1-1-1 0-2 1-1 0-2-1-1 0-2 1-1 0-2-1-1 0-2 1-1 0-2 1-1 0-2-1-1 0-2-1-1 0-2-1-1 0-2 1-1 0-2-1-1 0-2-1-1 0-2 1-1 0-2 1-1 0-2-1-1 0-2-1-1-1 1-1-1 0-2 1-1 1 1 1-1 0-2-1-1 0-2 1-1 0-2-1-1-1 1-1-1 0-2 1-1 0-2 1-1 1 1 1-1 0-2-1-1-1 1-1-1-1 1-1-1 0-2-1-1 0-2 1-1 1 1 1-1 0-2-1-1 0-2-1-1-1 1-1-1 0-2 1-1 0-2 1-1 1 1 1-1 0-2-1-1 0-2 1-1 0-2-1-1-1 1 0 2-1 1-1-1 0-2 1-1 0-2-1-1-1 1-1-1 0-2-1-1 0-2 1-1 0-2-1-1 0-2-1-1-1 1-1-1-1 1-1-1 0-2-1-1-1 1-1-1-1 1-1-1-1 1-1-1-1 1-1-1-1 1-1-1-1 1-1-1-1 1-1-1-1 1 0 2-1 1-1-1 0-2-1-1-1 1 0 2-1 1-1-1-1 1zM65 17l1-1 1 1 0 2-1 1-1-1z"/>
<path fill="#47978f" stroke="#47978f" d="M44 -8l-1 1 0 2-1 1 0 2-1 1 0 2-1 1-1-1-1 1 0 2-1 1 0 2 1 1 1-1 1 1 0 2 1 1 0 2-1 1 0 2-1 1 0 2 1 1 1-1 1 1 0 2-1 1 0 2-1 1 0 2-1 1 0 2 1 1 0 2-1 1 0 2 1 1 0 2 1 1 0 2-1 1 0 2 1 1 0 2 1 1 0 2 1 1 0 2 1 1 0 2 1 1 0 2 1 1 1-1 1 1 0 2 1 1 1-1 1 1 0 2 1 1 0 2 1 1 1-1 1 1 0 2-1 1 0 2 1 1 1-1 0-2 1-1 1 1 0 2 1 1 0 2-1 1 0 2 1 1 0 2 1 1 0 2 1 1 0 2-1 1 0 2 1 1 0 2-1 1 0 2 1 1 1-1 1 1 1-1 1 1 0 2-1 1-1-1-1 1 0 2 1 1 1-1 1 1 0 2-1 1-1-1-1 1 0 2 1 1 0 2 1 1 0 2-1 1 0 2 1 1 0 2 1 1 0 2-1 1 0 2 1 1 0 2-1 1 0 2 1 1 0 2-1 1 0 2-1 1 0 2 1 1 0 2-1 1-1-1-1 1 0 2 1 1 0 2 1 1 0 2-1 1 0 2-1 1 0 2 1 1 0 2 1 1 0 2-1 1 0 2 1 1 0 2 1 1 0 2 1 1 0 2 1 1 1-1 1 1 0 2 1 1 1-1 1 1 1-1 0-2 1-1 1 1 1-1 0-2 1-1 0-2 1-1 0-2 1-1 0-2 1-1 0-2 1-1 0-2-1-1-1 1-1-1 0-2 1-1 0-2 1-1 0-2-1-1 0-2-1-1 0-2-1-1 0-2-1-1 0-2 1-1 0-2-1-1 0-2 1-1 0-2-1-1-1 1-1-1 0-2 1-1 1 1 1-1 0-2-1-1 0-2-1-1 0-2-1-1 0-2 1-1 0-2 1-1 0-2-1-1 0-2 1-1 0-2-1-1 0-2-1-1 0-2 1-1 0-2 1-1 0-2-1-1 0-2-1-1 0-2-1-1 0-2-1-1 0-2-1-1 0-2 1-1 1 1 0 2 1 1 1-1 0-2-1-1 0-2 1-1 0-2-1-1 0-2-1-1 0-2 1-1 0-2-1-1 0-2 1-1 0-2-1-1-1 1-1-1 0-2 1-1 0-2 1-1 0-2-1-1 0-2-1-1 0-2 1-1 0-2-1-1-1 1-1-1 0-2 1-1 0-2-1-1 0-2-1-1 0-2-1-1 0-2 1-1 0-2-1-1 0-2-1-1-1 1-1-1 0-2 1-1 1 1 1-1 0-2 1-1 0-2-1-1-1 1 0 2-1 1-1-1 0-2 1-1 0-2 1-1 0-2-1-1-1 1-1-1 0-2 1-1 0-2-1-1-1 1-1-1-1 1 0 2-1 1-1-1 0-2 1-1 0-2-1-1 0-2-1-1-1 1 0 2-1 1 0 2-1 1-1-1 0-2 1-1 0-2-1-1-1 1-1-1-1 1-1-1-1 1-1-1-1 1zM63 95l1-1 1 1 0 2-1 1-1-1z"/>
<path fill="#41928f" stroke="#41928f" d="M45 1l1 1 0 2-1 1-1-1 0-2-1-1-1 1-1-1-1 1 0 2 1 1 1-1 1 1 0 2-1 1-1-1-1 1 0 2 1 1 1-1 1 1 0 2-1 1-1-1-1 1 0 2 1 1 0 2 1 1 0 2 1 1 0 2-1 1 0 2-1 1 0 2 1 1 0 2-1 1-1-1-1 1 0 2 1 1 0 2 1 1 0 2 1 1 0 2-1 1 0 2 1 1 0 2 1 1 0 2 1 1 0 2 1 1 1-1 1 1 0 2 1 1 0 2 1 1 1-1 1 1 0 2 1 1 1-1 1 1 0 2 1 1 0 2 1 1 1-1 1 1 1-1 1 1 0 2-1 1 0 2 1 1 1-1 1 1 0 2-1 1 0 2 1 1 0 2 1 1 1-1 1 1 0 2-1 1-1-1-1 1 0 2 1 1 1-1 1 1 0 2-1 1 0 2 1 1 0 2-1 1 0 2 1 1 0 2-1 1 0 2-1 1 0 2 1 1 1-1 1 1 0 2-1 1-1-1-1 1 0 2 1 1 0 2 1 1 1-1 0-2 1-1 0-2 1-1 1 1 1-1 0-2 1-1 1 1 1-1 0-2 1-1 0-2-1-1 0-2-1-1 0-2-1-1-1 1-1-1 0-2 1-1 1 1 1-1 1 1 1-1 0-2-1-1 0-2-1-1 0-2 1-1 0-2-1-1 0-2-1-1 0-2-1-1 0-2 1-1 1 1 1-1 0-2-1-1 0-2-1-1 0-2-1-1 0-2 1-1 0-2-1-1-1 1-1-1 0-2 1-1 0-2 1-1 0-2 1-1 0-2-1-1-1 1-1-1 0-2 1-1 0-2 1-1 0-2-1-1 0-2-1-1 0-2-1-1 0-2-1-1 0-2-1-1-1 1-1-1 0-2 1-1 0-2-1-1 0-2 1-1 1 1 1-1 0-2-1-1-1 1-1-1 0-2-1-1-1 1-1-1 0-2 1-1 0-2-1-1 0-2 1-1 0-2-1-1-1 1-1-1 0-2-1-1 0-2-1-1 0-2-1-1-1 1 0 2-1 1-1-1 0-2 1-1 0-2-1-1-1 1 0 2-1 1-1-1-1 1-1-1-1 1-1-1 0-2-1-1-1 1 0 2 1 1 0 2 1 1zM54 4l0-2 1-1 1 1 0 2 1 1 0 2-1 1-1-1 0-2zM48 -2l1 1 0 2-1 1-1-1 0-2zM57 13l-1 1-1-1 0-2 1-1 1 1zM67 43l1 1 0 2-1 1-1-1 0-2zM69 85l1 1 0 2-1 1-1-1 0-2zM64 4l-1 1 0 2 1 1 1-1 0-2zM62 160l1 1 0 2-1 1 0 2 1 1 0 2-1 1 0 2 1 1 1-1 1 1 0 2-1 1 0 2 1 1 0 2 1 1 1-1 1 1 1-1 1 1 1-1 1 1 1-1 0-2 1-1 1 1 1-1 0-2 1-1 0-2 1-1 0-2-1-1 0-2 1-1 0-2-1-1 0-2-1-1 0-2 1-1 0-2-1-1 0-2 1-1 0-2-1-1 0-2-1-1-1 1-1-1 0-2 1-1 1 1 1-1 0-2-1-1 0-2-1-1-1 1-1-1 0-2 1-1 0-2 1-1 0-2-1-1-1 1-1-1 0-2 1-1 1 1 1-1 0-2-1-1 0-2-1-1-1 1 0 2-1 1-1-1-1 1 0 2-1 1 0 2 1 1 0 2-1 1-1-1-1 1 0 2-1 1 0 2 1 1 0 2-1 1 0 2 1 1 0 2-1 1 0 2 1 1 0 2-1 1-1-1-1 1 0 2 1 1 0 2-1 1zM69 133l1 1 0 2-1 1-1-1 0-2z"/>
<path fill="#3c8c8e" stroke="#3c8c8e" d="M49 -1l0 2-1 1 0 2 1 1 1-1 1 1 1-1 1 1 0 2 1 1 0 2-1 1-1-1-1 1-1-1-1 1-1-1 0-2-1-1 0-2-1-1-1 1 0 2 1 1 0 2-1 1 0 2 1 1 0 2-1 1-1-1-1 1 0 2-1 1 0 2 1 1 0 2 1 1 0 2-1 1-1-1-1 1 0 2 1 1 0 2-1 1 0 2 1 1 0 2-1 1 0 2 1 1 0 2-1 1 0 2 1 1 0 2 1 1 0 2 1 1 1-1 1 1 0 2 1 1 0 2 1 1 1-1 1 1 0 2 1 1 1-1 1 1 1-1 1 1 0 2 1 1 0 2 1 1 1-1 1 1 0 2 1 1 0 2 1 1 0 2 1 1 0 2 1 1 1-1 0-2 1-1 1 1 0 2-1 1 0 2 1 1 1-1 0-2 1-1 1 1 1-1 0-2 1-1 0-2-1-1 0-2 1-1 0-2-1-1-1 1-1-1 0-2 1-1 0-2-1-1 0-2 1-1 0-2-1-1 0-2 1-1 0-2-1-1 0-2-1-1 0-2-1-1 0-2 1-1 0-2 1-1 0-2-1-1-1 1-1-1 0-2-1-1 0-2-1-1 0-2 1-1 0-2-1-1 0-2-1-1 0-2 1-1 0-2-1-1-1 1-1-1 0-2-1-1 0-2 1-1 0-2 1-1 0-2-1-1-1 1 0 2-1 1 0 2-1 1 0 2-1 1-1-1 0-2 1-1 0-2-1-1 0-2-1-1 0-2-1-1-1 1-1-1 0-2-1-1 0-2-1-1-1 1-1-1-1 1 0 2 1 1 1-1zM58 20l0 2-1 1-1-1 0-2 1-1zM68 76l-1 1-1-1 0-2 1-1 1 1zM66 92l-1-1-1 1 0 2 1 1 1-1zM64 148l1 1 0 2-1 1 0 2-1 1 0 2-1 1 0 2 1 1 0 2 1 1 0 2-1 1 0 2 1 1 0 2 1 1 0 2 1 1 0 2 1 1 1-1 1 1 0 2 1 1 1-1 1 1 1-1 0-2 1-1 0-2 1-1 1 1 1-1 0-2-1-1 0-2 1-1 0-2 1-1 0-2-1-1 0-2-1-1 0-2 1-1 0-2-1-1 0-2-1-1 0-2-1-1 0-2-1-1 0-2-1-1 0-2-1-1 0-2-1-1-1 1-1-1-1 1 0 2 1 1 0 2-1 1-1-1-1 1 0 2-1 1zM67 103l1 1 1-1 0-2-1-1 0-2-1-1-1 1 0 2-1 1 0 2 1 1zM66 110l1-1 1 1 0 2 1 1 0 2 1 1 1-1 0-2 1-1 0-2-1-1-1 1-1-1 0-2-1-1-1 1-1-1-1 1 0 2zM71 97l-1 1 0 2 1 1 1-1 0-2zM69 127l-1 1 0 2 1 1 1-1 0-2z"/>
<path fill="#37888d" stroke="#37888d" d="M46 14l0 2 1 1 0 2-1 1-1-1-1 1 0 2-1 1 0 2 1 1 0 2-1 1 0 2-1 1 0 2-1 1 0 2 1 1 0 2-1 1 0 2 1 1 0 2-1 1 0 2 1 1 0 2 1 1 1-1 1 1 0 2 1 1 0 2 1 1 0 2 1 1 1-1 1 1 1-1 1 1 0 2 1 1 1-1 1 1 0 2 1 1 1-1 1 1 0 2 1 1 1-1 1 1 1-1 1 1 0 2-1 1 0 2 1 1 0 2 1 1 1-1 0-2-1-1 0-2 1-1 0-2 1-1 1 1 0 2 1 1 0 2 1 1 0 2 1 1 1-1 0-2-1-1 0-2-1-1 0-2-1-1 0-2-1-1-1 1-1-1 0-2 1-1 0-2 1-1 1 1 1-1 0-2-1-1-1 1-1-1 0-2 1-1 1 1 1-1 0-2-1-1 0-2-1-1 0-2-1-1-1 1-1-1 0-2 1-1 0-2 1-1 0-2-1-1 0-2-1-1 0-2-1-1 0-2 1-1 0-2-1-1-1 1-1-1-1 1-1-1 0-2 1-1 0-2 1-1 0-2-1-1-1 1-1-1-1 1 0 2 1 1 0 2-1 1-1-1 0-2-1-1 0-2 1-1 0-2-1-1-1 1 0 2-1 1-1-1-1 1-1-1-1 1-1-1 0-2 1-1 1 1 1-1 1 1 1-1 0-2-1-1-1 1-1-1-1 1-1-1 0-2-1-1-1 1 0 2 1 1 0 2zM63 163l1 1 0 2-1 1 0 2 1 1 0 2 1 1 0 2 1 1 0 2 1 1 1-1 1 1 0 2 1 1 1-1 0-2 1-1 1 1 1-1 0-2 1-1 0-2 1-1 0-2 1-1 0-2-1-1 0-2 1-1 0-2-1-1 0-2 1-1 0-2-1-1-1 1-1-1 0-2 1-1 0-2-1-1 0-2-1-1-1 1-1-1 0-2-1-1 0-2 1-1 0-2-1-1-1 1 0 2-1 1 0 2-1 1 0 2-1 1 0 2-1 1 0 2-1 1 0 2 1 1 0 2-1 1 0 2-1 1zM68 80l-1-1-1 1 0 2 1 1 1-1zM69 107l-1-1-1 1 0 2 1 1 1-1z"/>
<path fill="#31828d" stroke="#31828d" d="M47 25l-1 1-1-1-1 1 0 2-1 1 0 2-1 1 0 2 1 1 0 2-1 1 0 2 1 1 0 2-1 1 0 2 1 1 0 2 1 1 0 2 1 1 0 2 1 1 0 2 1 1 1-1 1 1 0 2 1 1 1-1 1 1 0 2 1 1 1-1 1 1 1-1 1 1 1-1 1 1 1-1 1 1 1-1 1 1 1-1 0-2 1-1 1 1 1-1 0-2-1-1 0-2-1-1-1 1 0 2-1 1-1-1 0-2 1-1 0-2 1-1 1 1 1-1 0-2-1-1 0-2-1-1 0-2-1-1 0-2 1-1 0-2-1-1 0-2 1-1 0-2-1-1-1 1-1-1 0-2-1-1 0-2-1-1-1 1-1-1-1 1-1-1 0-2 1-1 0-2-1-1-1 1 0 2-1 1-1-1-1 1-1-1 0-2-1-1-1 1 0 2-1 1zM53 17l-1-1-1 1 0 2 1 1 1-1zM60 68l-1-1-1 1 0 2 1 1 1-1zM66 68l-1-1-1 1 0 2 1 1 1-1zM64 76l0-2-1-1-1 1 0 2 1 1zM69 143l-1-1-1 1 0 2 1 1 1-1zM65 149l0 2 1 1 0 2-1 1 0 2-1 1 0 2 1 1 1-1 1 1 0 2-1 1-1-1-1 1 0 2 1 1 0 2 1 1 0 2-1 1 0 2 1 1 1-1 1 1 1-1 1 1 0 2 1 1 1-1 1 1 1-1 0-2-1-1 0-2 1-1 0-2 1-1 1 1 1-1 0-2-1-1 0-2-1-1 0-2 1-1 0-2-1-1 0-2-1-1 0-2-1-1 0-2 1-1 0-2-1-1-1 1-1-1-1 1 0 2-1 1-1-1-1 1-1-1z"/>
<path fill="#2c7e8c" stroke="#2c7e8c" d="M48 22l-1 1 0 2-1 1-1-1-1 1 0 2-1 1 0 2-1 1 0 2 1 1 0 2-1 1 0 2 1 1 0 2 1 1 0 2-1 1 0 2 1 1 0 2 1 1 0 2 1 1 1-1 1 1 0 2 1 1 1-1 1 1 0 2 1 1 1-1 1 1 0 2 1 1 1-1 0-2 1-1 1 1 1-1 1 1 0 2 1 1 1-1 1 1 1-1 0-2-1-1-1 1-1-1 0-2 1-1 0-2 1-1 0-2 1-1 0-2-1-1 0-2-1-1 0-2 1-1 0-2-1-1-1 1-1-1 0-2 1-1 0-2-1-1 0-2-1-1 0-2-1-1 0-2-1-1-1 1-1-1 0-2-1-1-1 1-1-1-1 1-1-1-1 1zM66 58l0-2-1-1-1 1 0 2 1 1zM64 76l0-2-1-1-1 1 0 2 1 1zM67 151l-1 1 0 2-1 1 0 2-1 1 0 2 1 1 1-1 1 1 0 2-1 1 0 2-1 1 0 2 1 1 0 2 1 1 1-1 1 1 0 2 1 1 0 2 1 1 1-1 0-2 1-1 0-2 1-1 0-2 1-1 0-2-1-1 0-2 1-1 0-2-1-1 0-2 1-1 0-2-1-1 0-2-1-1-1 1-1-1 0-2-1-1-1 1-1-1-1 1z"/>
<path fill="#26788c" stroke="#26788c" d="M46 28l-1 1 0 2-1 1 0 2-1 1 0 2-1 1 0 2 1 1 0 2 1 1 0 2-1 1 0 2 1 1 0 2 1 1 1-1 1 1 0 2 1 1 0 2 1 1 1-1 1 1 0 2 1 1 1-1 1 1 1-1 1 1 1-1 0-2 1-1 1 1 1-1 1 1 1-1 0-2 1-1 0-2-1-1 0-2 1-1 0-2-1-1 0-2 1-1 0-2-1-1-1 1-1-1 0-2 1-1 0-2-1-1 0-2-1-1 0-2-1-1-1 1-1-1 0-2-1-1 0-2-1-1-1 1-1-1-1 1 0 2-1 1-1-1-1 1 0 2-1 1zM68 154l-1 1 0 2-1 1 0 2 1 1 0 2-1 1 0 2 1 1 0 2-1 1 0 2 1 1 1-1 1 1 0 2 1 1 1-1 0-2 1-1 1 1 1-1 0-2 1-1 0-2-1-1 0-2 1-1 0-2-1-1 0-2-1-1 0-2-1-1 0-2-1-1 0-2-1-1-1 1 0 2-1 1z"/>
<path fill="#22748b" stroke="#22748b" d="M46 28l-1 1 0 2-1 1 0 2-1 1 0 2 1 1 0 2-1 1 0 2 1 1 0 2 1 1 0 2 1 1 0 2 1 1 0 2 1 1 1-1 1 1 0 2 1 1 1-1 1 1 1-1 0-2 1-1 1 1 0 2 1 1 1-1 1 1 1-1 1 1 1-1 0-2-1-1 0-2 1-1 0-2 1-1 0-2-1-1 0-2-1-1 0-2-1-1 0-2 1-1 0-2-1-1 0-2-1-1 0-2-1-1-1 1-1-1 0-2-1-1 0-2-1-1-1 1-1-1-1 1 0 2-1 1-1-1-1 1 0 2-1 1zM69 151l-1 1 0 2-1 1 0 2-1 1 0 2 1 1 0 2 1 1 0 2-1 1 0 2-1 1 0 2 1 1 1-1 1 1 1-1 1 1 1-1 1 1 1-1 0-2-1-1 0-2 1-1 0-2 1-1 0-2-1-1 0-2-1-1 0-2-1-1 0-2-1-1-1 1z"/>
<path fill="#1e6e8a" stroke="#1e6e8a" d="M47 29l-1-1-1 1 0 2 1 1 0 2-1 1-1-1-1 1 0 2 1 1 0 2-1 1 0 2 1 1 0 2 1 1 0 2 1 1 0 2 1 1 0 2 1 1 1-1 1 1 0 2 1 1 1-1 1 1 1-1 0-2 1-1 1 1 0 2 1 1 1-1 0-2 1-1 1 1 1-1 0-2-1-1 0-2 1-1 0-2 1-1 0-2-1-1-1 1-1-1 0-2 1-1 0-2-1-1 0-2-1-1 0-2-1-1-1 1-1-1 0-2 1-1 0-2-1-1-1 1-1-1-1 1-1-1-1 1-1-1-1 1 0 2zM70 158l0 2-1 1-1-1-1 1 0 2 1 1 0 2 1 1 0 2-1 1 0 2 1 1 1-1 0-2 1-1 0-2 1-1 0-2 1-1 0-2 1-1 0-2-1-1 0-2-1-1-1 1 0 2z"/>
<path fill="#1c6989" stroke="#1c6989" d="M48 28l-1 1 0 2-1 1 0 2-1 1 0 2 1 1 0 2-1 1 0 2-1 1 0 2 1 1 0 2 1 1 0 2 1 1 0 2 1 1 1-1 1 1 1-1 1 1 1-1 1 1 1-1 1 1 1-1 0-2 1-1 1 1 1-1 0-2 1-1 0-2-1-1 0-2-1-1 0-2 1-1 0-2-1-1-1 1-1-1 0-2 1-1 0-2-1-1-1 1-1-1 0-2-1-1-1 1-1-1-1 1-1-1-1 1zM72 158l-1-1-1 1 0 2 1 1 1-1 1 1 1-1 0-2-1-1zM68 166l1 1 0 2-1 1 0 2 1 1 1-1 0-2 1-1 0-2 1-1 0-2-1-1-1 1-1-1 0-2-1-1-1 1 0 2 1 1z"/>
<path fill="#1c6388" stroke="#1c6388" d="M46 32l0 2-1 1 0 2 1 1 0 2-1 1 0 2-1 1 0 2 1 1 0 2 1 1 0 2 1 1 0 2 1 1 1-1 1 1 1-1 1 1 1-1 1 1 1-1 1 1 1-1 0-2 1-1 1 1 1-1 0-2 1-1 0-2-1-1 0-2-1-1 0-2-1-1 0-2-1-1 0-2-1-1-1 1-1-1 0-2 1-1 0-2-1-1-1 1-1-1-1 1 0 2-1 1-1-1 0-2-1-1-1 1 0 2zM71 161l1-1 0-2-1-1-1 1 0 2zM69 167l0 2 1 1 1-1 0-2 1-1 0-2-1-1-1 1 0 2z"/>
<path fill="#1e5d86" stroke="#1e5d86" d="M46 34l-1 1 0 2 1 1 0 2-1 1 0 2-1 1 0 2 1 1 1-1 1 1 0 2-1 1 0 2 1 1 0 2 1 1 1-1 1 1 1-1 1 1 1-1 1 1 1-1 0-2 1-1 1 1 1-1 0-2-1-1 0-2 1-1 1 1 1-1 0-2-1-1 0-2-1-1 0-2-1-1 0-2-1-1-1 1-1-1 0-2-1-1 0-2-1-1-1 1 0 2-1 1 0 2-1 1-1-1 0-2-1-1-1 1zM48 52l0-2 1-1 1 1 0 2-1 1z"/>
<path fill="#205885" stroke="#205885" d="M50 34l-1 1-1-1-1 1 0 2-1 1 0 2-1 1 0 2 1 1 0 2 1 1 0 2 1 1 1-1 1 1 0 2-1 1-1-1-1 1 0 2 1 1 1-1 1 1 1-1 1 1 1-1 0-2 1-1 1 1 1-1 0-2 1-1 0-2 1-1 0-2-1-1 0-2-1-1 0-2 1-1 0-2-1-1-1 1-1-1-1 1-1-1 0-2-1-1-1 1z"/>
<path fill="#225282" stroke="#225282" d="M50 32l0 2-1 1-1-1-1 1 0 2 1 1 0 2-1 1 0 2-1 1 0 2 1 1 0 2 1 1 1-1 1 1 0 2 1 1 0 2 1 1 1-1 0-2 1-1 1 1 1-1 0-2 1-1 0-2 1-1 0-2-1-1 0-2-1-1 0-2-1-1 0-2-1-1-1 1-1-1 0-2-1-1z"/>
<path fill="#254c80" stroke="#254c80" d="M50 32l0 2-1 1 0 2-1 1 0 2-1 1 0 2 1 1 0 2-1 1 0 2 1 1 1-1 1 1 0 2 1 1 1-1 1 1 1-1 1 1 1-1 0-2-1-1 0-2 1-1 0-2-1-1 0-2 1-1 0-2-1-1 0-2-1-1-1 1-1-1 0-2-1-1z"/>
<path fill="#27467c" stroke="#27467c" d="M49 35l0 2-1 1 0 2-1 1 0 2 1 1 0 2 1 1 0 2 1 1 0 2 1 1 1-1 0-2 1-1 1 1 1-1 0-2 1-1 0-2-1-1 0-2 1-1 0-2-1-1-1 1-1-1 0-2-1-1-1 1-1-1z"/>
<path fill="#294079" stroke="#294079" d="M49 35l0 2-1 1 0 2 1 1 0 2 1 1 0 2-1 1 0 2 1 1 1-1 1 1 1-1 1 1 1-1 0-2-1-1 0-2 1-1 0-2-1-1 0-2-1-1-1 1-1-1 0-2-1-1z"/>
<path fill="#2b3a76" stroke="#2b3a76" d="M51 37l-1 1-1-1-1 1 0 2 1 1 0 2 1 1 0 2 1 1 0 2 1 1 1-1 1 1 1-1 0-2-1-1 0-2 1-1 0-2-1-1-1 1-1-1 0-2z"/>
<path fill="#2c3473" stroke="#2c3473" d="M52 38l-1-1-1 1 0 2-1 1 0 2 1 1 0 2 1 1 1-1 1 1 1-1 0-2-1-1 0-2-1-1z"/>
</g></g>
<path fill="#f0a9a9" d="M1167.6 898.9v-1.9h13.4v1.9zM1182.6 898.9v-3.0h13.4v3.0zM1197.5 898.9v-4.8h13.4v4.8zM1212.4 898.9v-6.9h13.4v6.9zM1227.4 898.9v-9.7h13.4v9.7zM1242.3 898.9v-13.7h13.4v13.7zM1257.2 898.9v-17.9h13.4v17.9zM1272.2 898.9v-21.8h13.4v21.8zM1287.1 898.9v-25.8h13.4v25.8zM1302.1 898.9v-30.0h13.4v30.0zM1317.0 898.9v-34.3h13.4v34.3zM1332.0 898.9v-36.8h13.4v36.8zM1346.9 898.9v-40.0h13.4v40.0zM1361.8 898.9v-43.2h13.4v43.2zM1376.8 898.9v-46.0h13.4v46.0zM1391.7 898.9v-50.0h13.4v50.0zM1406.7 898.9v-50.7h13.4v50.7zM1421.6 898.9v-47.1h13.4v47.1zM1436.5 898.9v-40.7h13.4v40.7zM1451.5 898.9v-31.8h13.4v31.8zM1466.4 898.9v-22.9h13.4v22.9zM1481.4 898.9v-14.7h13.4v14.7zM1496.3 898.9v-8.7h13.4v8.7zM1511.2 898.9v-4.4h13.4v4.4zM1526.2 898.9v-2.3h13.4v2.3z"/>
<path fill="#f0a9a9" d="M1623.9 962.4h31.5v11.5h-31.5zM1623.9 975.4h30.1v11.5h-30.1zM1623.9 988.4h30.1v11.5h-30.1zM1623.9 1001.4h29.1v11.5h-29.1zM1623.9 1014.4h29.3v11.5h-29.3zM1623.9 1027.5h28.4v11.5h-28.4zM1623.9 1040.5h27.5v11.5h-27.5zM1623.9 1053.5h26.5v11.5h-26.5zM1623.9 1066.5h25.8v11.5h-25.8zM1623.9 1079.5h25.1v11.5h-25.1zM1623.9 1092.5h23.9v11.5h-23.9zM1623.9 1105.6h24.1v11.5h-24.1zM1623.9 1118.6h23.2v11.5h-23.2zM1623.9 1131.6h23.2v11.5h-23.2zM1623.9 1144.6h23.0v11.5h-23.0zM1623.9 1157.7h22.0v11.5h-22.0zM1623.9 1170.7h21.1v11.5h-21.1zM1623.9 1183.7h21.3v11.5h-21.3zM1623.9 1196.7h22.0v11.5h-22.0zM1623.9 1209.7h23.0v11.5h-23.0zM1623.9 1222.8h24.4v11.5h-24.4zM1623.9 1235.8h25.1v11.5h-25.1zM1623.9 1248.8h27.2v11.5h-27.2zM1623.9 1261.8h31.0v11.5h-31.0zM1623.9 1274.8h36.0v11.5h-36.0zM1623.9 1287.8h43.1v11.5h-43.1zM1623.9 1300.9h49.0v11.5h-49.0zM1623.9 1313.9h54.9v11.5h-54.9zM1623.9 1326.9h58.2v11.5h-58.2zM1623.9 1339.9h60.8v11.5h-60.8zM1623.9 1353.0h61.8v11.5h-61.8zM1623.9 1366.0h59.9v11.5h-59.9zM1623.9 1379.0h58.0v11.5h-58.0zM1623.9 1392.0h55.4v11.5h-55.4zM1623.9 1405.0h52.8v11.5h-52.8zM1623.9 1418.0h51.1v11.5h-51.1zM1623.9 1431.1h51.8v11.5h-51.8zM1623.9 1444.1h51.8v11.5h-51.8zM1623.9 1457.1h53.0v11.5h-53.0zM1623.9 1470.1h54.9v11.5h-54.9z"/>
<path d="M1372.7 898.9V845.4M1623.9 1267.6H1690.0" stroke="#029e73" stroke-width="5" stroke-dasharray="17.5 7.3" fill="none"/>
<path d="M1042.6 959.7V1484.2M1041.3 1482.9H1574.8M1041.3 898.9H1574.8M1623.9 959.7V1484.2M1042.6 1482.9v10.8M1042.6 898.9v10.8M1219.6 1482.9v10.8M1219.6 898.9v10.8M1396.5 1482.9v10.8M1396.5 898.9v10.8M1573.5 1482.9v10.8M1573.5 898.9v10.8M1042.6 1387.0h-10.8M1623.9 1387.0h-10.8M1042.6 1280.5h-10.8M1623.9 1280.5h-10.8M1042.6 1174.0h-10.8M1623.9 1174.0h-10.8M1042.6 1067.5h-10.8M1623.9 1067.5h-10.8M1042.6 961.0h-10.8M1623.9 961.0h-10.8" stroke="#000" stroke-width="2.6" fill="none"/>
<text transform="translate(1025.20,1533.50) rotate(-45)" font-size="29.17" >2</text>
<text transform="translate(1202.16,1533.50) rotate(-45)" font-size="29.17" >3</text>
<text transform="translate(1379.13,1533.50) rotate(-45)" font-size="29.17" >4</text>
<text transform="translate(1556.10,1533.50) rotate(-45)" font-size="29.17" >5</text>
<text transform="translate(990.57,1417.88) rotate(-45)" font-size="29.17" >10</text>
<text transform="translate(990.57,1311.37) rotate(-45)" font-size="29.17" >20</text>
<text transform="translate(990.57,1204.86) rotate(-45)" font-size="29.17" >30</text>
<text transform="translate(990.57,1098.35) rotate(-45)" font-size="29.17" >40</text>
<text transform="translate(990.57,991.84) rotate(-45)" font-size="29.17" >50</text>
<circle cx="1372.7" cy="1267.6" r="18.4" fill="#029e73" stroke="#fff" stroke-width="6"/>
<rect x="1343.8" y="979.1" width="212.1" height="66.0" rx="5" fill="#fff" fill-opacity="0.5"/>
<circle cx="1395.3" cy="1009.3" r="18.4" fill="#029e73" stroke="#fff" stroke-width="6"/>
<text x="1460.4" y="1022.2" font-size="36.1">MAP</text>
<text x="1307.6" y="1577.7" font-size="36.1" text-anchor="middle"><tspan class="i">v</tspan><tspan class="i" font-size="25.3" dy="5.4">s</tspan><tspan dy="-5.4">2</tspan></text><text x="1307.6" y="1624.5" font-size="36.1" text-anchor="middle"><tspan>[km·s</tspan><tspan font-size="25.3" dy="-13.0">−1</tspan><tspan dy="13.0">]</tspan></text><text transform="translate(913.2,1222.2) rotate(-90)" font-size="36.1" text-anchor="middle"><tspan class="i">H</tspan><tspan>2</tspan></text><text transform="translate(954.9,1222.2) rotate(-90)" font-size="36.1" text-anchor="middle"><tspan>[km]</tspan></text>
<g font-weight="bold"><text transform="translate(873.1,849.8) scale(1.19,1)" font-size="49.7">(</text><text x="899.0" y="847.2" font-size="46.0">d</text><text transform="translate(931.0,849.8) scale(1.19,1)" font-size="49.7">)</text></g>
<!-- panel e -->
<clipPath id="clip4"><rect x="175.5" y="1824.1" width="556.8" height="504.3"/></clipPath>
<rect x="175.5" y="1824.1" width="556.8" height="504.3" fill="#f5f5f5"/>
<g clip-path="url(#clip4)"><g transform="matrix(5.5680 0 0 -3.0018 175.50 2328.40)" class="hx">
<path fill="#a5cd90" stroke="#a5cd90" d="M-2 2l0 2-1 1 0 2 1 1 0 2-1 1 0 2 1 1 0 2-1 1 0 2 1 1 0 2-1 1 0 2 1 1 0 2-1 1 0 2 1 1 0 2-1 1 0 2 1 1 0 2-1 1 0 2 1 1 0 2-1 1 0 2 1 1 0 2-1 1 0 2 1 1 0 2-1 1 0 2 1 1 0 2-1 1 0 2 1 1 0 2-1 1 0 2 1 1 0 2-1 1 0 2 1 1 0 2-1 1 0 2 1 1 0 2-1 1 0 2 1 1 0 2-1 1 0 2 1 1 0 2-1 1 0 2 1 1 0 2-1 1 0 2 1 1 0 2-1 1 0 2 1 1 0 2-1 1 0 2 1 1 0 2-1 1 0 2 1 1 0 2-1 1 0 2 1 1 0 2-1 1 0 2 1 1 0 2-1 1 0 2 1 1 0 2-1 1 0 2 1 1 0 2-1 1 0 2 1 1 0 2-1 1 0 2 1 1 0 2-1 1 0 2 1 1 0 2-1 1 0 2 1 1 0 2-1 1 0 2 1 1 0 2 1 1 1-1 1 1 1-1 1 1 1-1 1 1 1-1 1 1 1-1 1 1 1-1 1 1 1-1 1 1 1-1 1 1 1-1 1 1 1-1 1 1 1-1 1 1 1-1 1 1 1-1 1 1 1-1 1 1 1-1 1 1 1-1 1 1 1-1 1 1 1-1 1 1 1-1 1 1 1-1 1 1 1-1 1 1 1-1 1 1 1-1 1 1 1-1 0-2 1-1 1 1 1-1 0-2-1-1-1 1-1-1 0-2 1-1 1 1 1-1 1 1 1-1 1 1 1-1 0-2 1-1 1 1 1-1 0-2-1-1 0-2 1-1 1 1 1-1 1 1 1-1 1 1 1-1 0-2 1-1 0-2 1-1 1 1 1-1 1 1 1-1 0-2 1-1 0-2 1-1 0-2 1-1 1 1 0 2 1 1 1-1 0-2-1-1 0-2 1-1 1 1 1-1 0-2 1-1 1 1 1-1 0-2 1-1 0-2-1-1 0-2 1-1 1 1 0 2 1 1 1-1 0-2 1-1 1 1 1-1 0-2-1-1-1 1-1-1 0-2 1-1 0-2 1-1 1 1 1-1 0-2-1-1 0-2 1-1 0-2 1-1 0-2 1-1 1 1 1-1 0-2-1-1-1 1-1-1-1 1-1-1 0-2 1-1 1 1 1-1 1 1 1-1 1 1 1-1 0-2-1-1-1 1-1-1-1 1-1-1 0-2 1-1 1 1 1-1 0-2 1-1 0-2-1-1 0-2-1-1 0-2 1-1 0-2-1-1 0-2-1-1 0-2-1-1 0-2 1-1 1 1 0 2 1 1 0 2 1 1 0 2 1 1 1-1 0-2-1-1 0-2-1-1 0-2-1-1 0-2-1-1 0-2 1-1 1 1 1-1 0-2-1-1 0-2 1-1 0-2-1-1-1 1-1-1 0-2 1-1 1 1 1-1 0-2-1-1 0-2 1-1 0-2-1-1-1 1-1-1 0-2 1-1 1 1 1-1 0-2 1-1 0-2-1-1-1 1 0 2-1 1-1-1 0-2 1-1 0-2 1-1 0-2 1-1 0-2-1-1 0-2-1-1-1 1-1-1 0-2 1-1 1 1 1-1 1 1 1-1 0-2-1-1 0-2-1-1 0-2-1-1 0-2-1-1 0-2 1-1 1 1 0 2 1 1 1-1 0-2-1-1 0-2-1-1 0-2-1-1-1 1-1-1 0-2-1-1-1 1-1-1 0-2 1-1 1 1 1-1 1 1 0 2 1 1 1-1 0-2 1-1 0-2-1-1-1 1-1-1 0-2 1-1 0-2-1-1-1 1-1-1-1 1-1-1-1 1-1-1-1 1-1-1-1 1-1-1-1 1-1-1-1 1-1-1-1 1-1-1-1 1-1-1-1 1-1-1-1 1-1-1-1 1-1-1-1 1-1-1-1 1-1-1-1 1-1-1-1 1-1-1-1 1-1-1-1 1-1-1-1 1-1-1-1 1-1-1-1 1-1-1-1 1-1-1-1 1-1-1-1 1-1-1-1 1-1-1-1 1-1-1-1 1-1-1-1 1-1-1-1 1-1-1-1 1-1-1-1 1-1-1-1 1-1-1-1 1-1-1-1 1-1-1-1 1-1-1-1 1-1-1-1 1-1-1-1 1-1-1-1 1-1-1-1 1-1-1-1 1-1-1-1 1-1-1-1 1-1-1-1 1-1-1-1 1-1-1-1 1-1-1-1 1 0 2 1 1 0 2-1 1 0 2zM59 161l1-1 1 1 0 2-1 1-1-1zM90 38l-1-1 0-2 1-1 1 1 0 2z"/>
<path fill="#98c691" stroke="#98c691" d="M1 7l1 1 0 2 1 1 0 2-1 1-1-1-1 1-1-1 0-2-1-1-1 1 0 2 1 1 0 2-1 1 0 2 1 1 1-1 0-2 1-1 1 1 0 2-1 1 0 2-1 1 0 2-1 1 0 2-1 1 0 2 1 1 0 2-1 1 0 2 1 1 0 2-1 1 0 2 1 1 0 2-1 1 0 2 1 1 0 2-1 1 0 2 1 1 0 2-1 1 0 2 1 1 0 2-1 1 0 2 1 1 0 2-1 1 0 2 1 1 0 2-1 1 0 2 1 1 0 2-1 1 0 2 1 1 0 2-1 1 0 2 1 1 0 2-1 1 0 2 1 1 0 2-1 1 0 2 1 1 0 2-1 1 0 2 1 1 0 2-1 1 0 2 1 1 0 2-1 1 0 2 1 1 0 2-1 1 0 2 1 1 0 2-1 1 0 2 1 1 0 2-1 1 0 2 1 1 0 2-1 1 0 2 1 1 0 2-1 1 0 2 1 1 0 2-1 1 0 2 1 1 0 2-1 1 0 2 1 1 0 2-1 1 0 2 1 1 0 2-1 1 0 2 1 1 0 2-1 1 0 2 1 1 1-1 0-2 1-1 1 1 1-1 1 1 0 2 1 1 1-1 0-2 1-1 1 1 1-1 0-2 1-1 1 1 1-1 1 1 1-1 0-2 1-1 1 1 1-1 1 1 1-1 0-2 1-1 1 1 0 2 1 1 1-1 0-2 1-1 1 1 1-1 1 1 1-1 1 1 1-1 0-2 1-1 1 1 1-1 0-2 1-1 1 1 0 2 1 1 1-1 0-2 1-1 0-2 1-1 1 1 1-1 1 1 0 2 1 1 1-1 0-2-1-1 0-2 1-1 1 1 1-1 0-2 1-1 1 1 1-1 1 1 1-1 0-2 1-1 1 1 1-1 1 1 1-1 0-2 1-1 0-2 1-1 0-2 1-1 1 1 1-1 1 1 1-1 0-2 1-1 0-2 1-1 1 1 1-1 0-2-1-1 0-2 1-1 1 1 1-1 0-2 1-1 1 1 1-1 0-2 1-1 1 1 1-1 0-2-1-1 0-2 1-1 1 1 1-1 0-2 1-1 0-2-1-1 0-2 1-1 1 1 1-1 0-2-1-1 0-2-1-1 0-2-1-1 0-2 1-1 0-2 1-1 0-2 1-1 0-2 1-1 0-2-1-1 0-2 1-1 0-2-1-1 0-2-1-1 0-2 1-1 0-2-1-1 0-2-1-1 0-2 1-1 1 1 1-1 0-2-1-1-1 1-1-1 0-2 1-1 0-2-1-1 0-2 1-1 0-2-1-1 0-2 1-1 0-2-1-1 0-2-1-1 0-2-1-1-1 1-1-1 0-2-1-1 0-2 1-1 0-2-1-1 0-2 1-1 1 1 1-1 0-2-1-1-1 1-1-1-1 1 0 2-1 1-1-1 0-2 1-1 0-2-1-1 0-2 1-1 0-2 1-1 0-2-1-1-1 1-1-1-1 1 0 2-1 1-1-1 0-2 1-1 0-2 1-1 0-2-1-1-1 1 0 2-1 1-1-1 0-2 1-1 0-2-1-1-1 1-1-1 0-2 1-1 1 1 1-1 0-2-1-1-1 1-1-1-1 1-1-1 0-2-1-1-1 1 0 2-1 1-1-1 0-2-1-1-1 1-1-1-1 1-1-1-1 1-1-1-1 1-1-1-1 1-1-1-1 1-1-1-1 1-1-1-1 1-1-1-1 1-1-1-1 1-1-1-1 1-1-1-1 1-1-1-1 1-1-1-1 1 0 2-1 1-1-1 0-2-1-1-1 1 0 2-1 1 0 2 1 1 0 2-1 1-1-1-1 1-1-1 0-2 1-1 0-2 1-1 0-2-1-1-1 1-1-1-1 1 0 2-1 1-1-1-1 1 0 2-1 1 0 2-1 1 0 2 1 1 0 2-1 1-1-1-1 1-1-1-1 1-1-1 0-2-1-1-1 1 0 2-1 1-1-1 0-2-1-1-1 1zM14 4l0-2 1-1 1 1 0 2-1 1zM8 10l1 1 0 2-1 1-1-1 0-2zM3 23l0 2-1 1-1-1 0-2 1-1zM26 -2l1 1 0 2-1 1-1-1 0-2zM32 -4l0 2-1 1-1-1 0-2 1-1zM74 44l1-1 1 1 0 2-1 1-1-1zM5 -5l1 1 1-1 0-2-1-1-1 1zM8 4l1 1 1-1 0-2 1-1 0-2 1-1 0-2-1-1-1 1 0 2-1 1-1-1-1 1 0 2 1 1zM38 166l1 1 1-1 0-2-1-1-1 1zM76 32l1-1 0-2-1-1-1 1 0 2zM79 49l1 1 1-1 0-2-1-1-1 1z"/>
<path fill="#8ec291" stroke="#8ec291" d="M-1 35l0 2 1 1 1-1 0-2-1-1zM-2 46l-1 1 0 2 1 1 1-1 1 1 0 2-1 1-1-1-1 1 0 2 1 1 0 2-1 1 0 2 1 1 0 2-1 1 0 2 1 1 0 2-1 1 0 2 1 1 0 2-1 1 0 2 1 1 0 2-1 1 0 2 1 1 0 2-1 1 0 2 1 1 0 2-1 1 0 2 1 1 0 2-1 1 0 2 1 1 0 2-1 1 0 2 1 1 0 2-1 1 0 2 1 1 0 2-1 1 0 2 1 1 0 2-1 1 0 2 1 1 0 2-1 1 0 2 1 1 0 2-1 1 0 2 1 1 0 2-1 1 0 2 1 1 0 2-1 1 0 2 1 1 0 2-1 1 0 2 1 1 0 2 1 1 0 2 1 1 0 2-1 1 0 2 1 1 1-1 1 1 1-1 0-2 1-1 1 1 0 2-1 1 0 2-1 1 0 2 1 1 1-1 0-2 1-1 1 1 1-1 0-2 1-1 1 1 0 2 1 1 1-1 0-2 1-1 1 1 1-1 1 1 1-1 1 1 1-1 0-2 1-1 1 1 1-1 1 1 1-1 0-2 1-1 1 1 1-1 1 1 1-1 0-2 1-1 1 1 1-1 1 1 1-1 0-2 1-1 1 1 1-1 1 1 1-1 0-2 1-1 1 1 1-1 0-2 1-1 1 1 1-1 1 1 1-1 0-2 1-1 1 1 1-1 0-2 1-1 1 1 1-1 0-2 1-1 1 1 1-1 0-2 1-1 1 1 1-1 0-2 1-1 0-2 1-1 1 1 1-1 0-2 1-1 1 1 1-1 0-2 1-1 0-2 1-1 1 1 1-1 0-2 1-1 0-2 1-1 0-2 1-1 0-2 1-1 0-2 1-1 0-2-1-1 0-2 1-1 0-2 1-1 0-2-1-1 0-2 1-1 0-2-1-1 0-2 1-1 0-2-1-1 0-2 1-1 0-2-1-1 0-2 1-1 0-2-1-1 0-2 1-1 0-2-1-1-1 1-1-1 0-2 1-1 1 1 1-1 0-2-1-1-1 1-1-1-1 1-1-1 0-2 1-1 0-2 1-1 0-2-1-1-1 1-1-1 0-2 1-1 0-2-1-1-1 1-1-1 0-2 1-1 0-2-1-1 0-2 1-1 0-2-1-1 0-2-1-1-1 1 0 2-1 1-1-1 0-2 1-1 0-2-1-1 0-2-1-1 0-2 1-1 0-2-1-1-1 1 0 2-1 1-1-1 0-2 1-1 0-2-1-1 0-2-1-1 0-2 1-1 0-2-1-1-1 1-1-1 0-2-1-1-1 1 0 2-1 1-1-1 0-2 1-1 0-2-1-1-1 1-1-1 0-2-1-1-1 1 0 2-1 1 0 2-1 1-1-1-1 1-1-1 0-2-1-1-1 1-1-1-1 1-1-1-1 1-1-1-1 1 0 2-1 1 0 2-1 1-1-1-1 1 0 2-1 1-1-1 0-2 1-1 0-2-1-1-1 1 0 2-1 1 0 2 1 1 0 2-1 1-1-1-1 1-1-1 0-2-1-1-1 1 0 2 1 1 0 2-1 1-1-1 0-2-1-1-1 1-1-1-1 1 0 2 1 1 1-1 1 1 0 2 1 1 0 2-1 1-1-1 0-2-1-1-1 1 0 2 1 1 0 2-1 1-1-1 0-2-1-1-1 1-1-1-1 1 0 2 1 1 1-1 1 1 0 2-1 1-1-1-1 1-1-1-1 1-1-1-1 1 0 2-1 1 0 2-1 1 0 2 1 1 0 2-1 1-1-1 0-2-1-1 0-2-1-1-1 1 0 2 1 1 0 2 1 1 0 2-1 1-1-1-1 1-1-1-1 1 0 2-1 1zM17 31l0-2 1-1 1 1 0 2-1 1zM13 31l1 1 0 2-1 1-1-1 0-2zM53 11l1-1 1 1 0 2-1 1-1-1zM51 7l-1 1-1-1 0-2 1-1 1 1zM32 4l1 1 1-1 0-2-1-1-1 1zM45 1l1 1 1-1 0-2-1-1-1 1z"/>
<path fill="#85bd91" stroke="#85bd91" d="M2 58l1 1 1-1 1 1 0 2-1 1 0 2-1 1 0 2-1 1-1-1-1 1-1-1-1 1 0 2 1 1 0 2-1 1 0 2-1 1 0 2 1 1 1-1 1 1 0 2 1 1 0 2-1 1 0 2-1 1-1-1-1 1 0 2 1 1 1-1 1 1 0 2-1 1 0 2-1 1 0 2-1 1 0 2 1 1 0 2 1 1 0 2-1 1 0 2-1 1 0 2 1 1 0 2-1 1 0 2 1 1 0 2 1 1 0 2-1 1 0 2 1 1 0 2 1 1 1-1 1 1 0 2-1 1 0 2-1 1-1-1-1 1 0 2 1 1 1-1 1 1 0 2-1 1 0 2 1 1 1-1 1 1 0 2 1 1 0 2-1 1 0 2 1 1 1-1 0-2 1-1 0-2 1-1 1 1 0 2-1 1 0 2-1 1 0 2 1 1 0 2-1 1 0 2 1 1 1-1 1 1 1-1 1 1 1-1 1 1 1-1 0-2 1-1 1 1 0 2 1 1 1-1 1 1 1-1 0-2 1-1 1 1 1-1 1 1 1-1 1 1 1-1 0-2 1-1 1 1 1-1 0-2 1-1 1 1 1-1 1 1 1-1 0-2 1-1 1 1 1-1 1 1 1-1 0-2 1-1 1 1 1-1 0-2 1-1 1 1 1-1 1 1 1-1 0-2 1-1 1 1 1-1 0-2 1-1 1 1 1-1 0-2 1-1 0-2 1-1 1 1 1-1 0-2 1-1 1 1 1-1 0-2 1-1 1 1 1-1 0-2 1-1 0-2 1-1 1 1 1-1 0-2 1-1 0-2 1-1 0-2 1-1 0-2 1-1 0-2 1-1 0-2-1-1 0-2 1-1 0-2 1-1 0-2-1-1 0-2 1-1 0-2-1-1 0-2 1-1 0-2-1-1 0-2-1-1 0-2 1-1 0-2-1-1 0-2-1-1 0-2-1-1 0-2 1-1 0-2-1-1-1 1-1-1 0-2 1-1 0-2 1-1 0-2-1-1 0-2-1-1-1 1-1-1 0-2-1-1 0-2-1-1 0-2-1-1 0-2-1-1 0-2-1-1 0-2 1-1 1 1 1-1 0-2-1-1-1 1-1-1 0-2-1-1-1 1-1-1-1 1-1-1 0-2-1-1 0-2-1-1 0-2-1-1 0-2-1-1 0-2 1-1 0-2-1-1-1 1-1-1-1 1 0 2-1 1-1-1-1 1-1-1 0-2-1-1-1 1 0 2 1 1 0 2-1 1-1-1 0-2-1-1 0-2-1-1 0-2-1-1-1 1 0 2-1 1-1-1-1 1 0 2 1 1 1-1 1 1 0 2-1 1-1-1-1 1-1-1-1 1-1-1-1 1 0 2-1 1 0 2 1 1 0 2-1 1 0 2-1 1-1-1-1 1-1-1-1 1 0 2 1 1 0 2-1 1-1-1 0-2-1-1-1 1 0 2 1 1 0 2-1 1-1-1-1 1-1-1 0-2-1-1-1 1 0 2-1 1 0 2 1 1 0 2-1 1 0 2-1 1 0 2-1 1-1-1 0-2-1-1-1 1 0 2-1 1-1-1-1 1 0 2-1 1 0 2-1 1-1-1-1 1-1-1-1 1zM11 53l1-1 1 1 0 2-1 1-1-1zM3 71l1-1 1 1 1-1 1 1 0 2-1 1-1-1-1 1-1-1zM8 62l0 2-1 1-1-1 0-2 1-1zM-1 103l0-2 1-1 1 1 0 2-1 1zM8 158l1-1 1 1 0 2-1 1-1-1zM32 22l0-2 1-1 1 1 0 2-1 1zM40 20l0 2-1 1-1-1 0-2 1-1zM48 16l1 1 0 2-1 1-1-1 0-2zM53 25l1 1 0 2-1 1-1-1 0-2zM0 62l0 2 1 1 1-1 0-2-1-1zM22 28l1 1 1-1 0-2-1-1-1 1z"/>
<path fill="#7bb991" stroke="#7bb991" d="M9 73l-1 1 0 2-1 1 0 2-1 1 0 2-1 1 0 2 1 1 0 2-1 1-1-1-1 1 0 2 1 1 0 2-1 1 0 2 1 1 0 2-1 1-1-1-1 1 0 2 1 1 0 2-1 1 0 2-1 1 0 2 1 1 1-1 1 1 0 2-1 1 0 2 1 1 0 2 1 1 0 2-1 1 0 2-1 1 0 2 1 1 1-1 1 1 0 2 1 1 0 2-1 1 0 2-1 1 0 2-1 1 0 2 1 1 1-1 1 1 0 2-1 1 0 2 1 1 1-1 1 1 0 2 1 1 0 2 1 1 0 2 1 1 0 2 1 1 1-1 0-2 1-1 1 1 0 2 1 1 1-1 1 1 1-1 1 1 1-1 0-2 1-1 1 1 1-1 1 1 1-1 1 1 1-1 1 1 1-1 0-2 1-1 1 1 1-1 0-2 1-1 1 1 1-1 1 1 1-1 0-2 1-1 1 1 1-1 0-2 1-1 1 1 1-1 1 1 1-1 0-2 1-1 1 1 1-1 0-2 1-1 1 1 1-1 0-2 1-1 1 1 1-1 0-2 1-1 1 1 1-1 0-2 1-1 1 1 1-1 0-2 1-1 0-2 1-1 0-2 1-1 1 1 1-1 0-2 1-1 0-2 1-1 0-2 1-1 0-2 1-1 0-2 1-1 0-2-1-1 0-2 1-1 0-2 1-1 0-2-1-1 0-2 1-1 0-2-1-1 0-2 1-1 0-2-1-1-1 1-1-1 0-2-1-1 0-2 1-1 1 1 1-1 0-2-1-1 0-2-1-1-1 1-1-1 0-2 1-1 0-2 1-1 0-2-1-1 0-2-1-1-1 1 0 2-1 1-1-1 0-2 1-1 0-2 1-1 0-2-1-1 0-2-1-1-1 1-1-1 0-2-1-1 0-2 1-1 0-2-1-1 0-2-1-1 0-2-1-1-1 1-1-1-1 1-1-1 0-2-1-1 0-2-1-1 0-2-1-1 0-2-1-1-1 1-1-1 0-2-1-1 0-2-1-1-1 1 0 2-1 1 0 2-1 1-1-1 0-2-1-1-1 1-1-1-1 1-1-1-1 1 0 2-1 1 0 2-1 1 0 2-1 1 0 2-1 1-1-1 0-2-1-1-1 1 0 2-1 1 0 2-1 1 0 2 1 1 0 2-1 1 0 2-1 1-1-1-1 1-1-1-1 1 0 2-1 1 0 2 1 1 0 2-1 1-1-1-1 1-1-1 0-2-1-1-1 1 0 2-1 1-1-1-1 1-1-1-1 1 0 2 1 1 0 2-1 1 0 2-1 1-1-1-1 1 0 2 1 1 0 2 1 1 0 2-1 1zM38 28l0-2 1-1 1 1 0 2-1 1zM15 59l1-1 1 1 0 2-1 1-1-1zM7 143l1-1 1 1 0 2-1 1-1-1zM15 67l1 1 0 2-1 1-1-1 0-2zM55 43l0-2 1-1 1 1 0 2-1 1zM4 68l0 2 1 1 1-1 0-2-1-1zM22 44l1-1 0-2-1-1-1 1 0 2-1 1 0 2 1 1 1-1zM39 17l0 2 1 1 1-1 0-2-1-1zM54 26l0 2 1 1 1-1 0-2-1-1z"/>
<path fill="#72b490" stroke="#72b490" d="M15 55l-1 1 0 2 1 1 1-1 0-2zM9 79l-1 1 0 2 1 1 1-1 1 1 0 2 1 1 0 2-1 1 0 2-1 1-1-1 0-2-1-1-1 1 0 2 1 1 0 2-1 1 0 2-1 1 0 2-1 1 0 2 1 1 0 2 1 1 1-1 1 1 0 2-1 1-1-1-1 1 0 2-1 1 0 2 1 1 0 2 1 1 0 2 1 1 0 2 1 1 0 2-1 1 0 2 1 1 0 2 1 1 0 2-1 1-1-1 0-2-1-1-1 1 0 2 1 1 0 2 1 1 0 2 1 1 1-1 1 1 0 2-1 1 0 2 1 1 0 2-1 1 0 2 1 1 1-1 0-2 1-1 1 1 0 2-1 1 0 2 1 1 1-1 1 1 0 2 1 1 0 2 1 1 1-1 0-2 1-1 1 1 1-1 1 1 1-1 0-2 1-1 1 1 1-1 1 1 1-1 1 1 1-1 0-2 1-1 1 1 1-1 1 1 1-1 0-2 1-1 1 1 1-1 0-2 1-1 1 1 1-1 1 1 1-1 0-2 1-1 1 1 1-1 0-2 1-1 1 1 1-1 0-2 1-1 1 1 1-1 1 1 1-1 0-2 1-1 0-2 1-1 1 1 1-1 0-2 1-1 1 1 1-1 0-2 1-1 0-2 1-1 1 1 1-1 0-2 1-1 0-2 1-1 0-2 1-1 0-2 1-1 0-2-1-1 0-2-1-1 0-2 1-1 0-2 1-1 0-2-1-1 0-2 1-1 0-2 1-1 0-2-1-1 0-2-1-1 0-2-1-1 0-2 1-1 0-2-1-1-1 1-1-1 0-2 1-1 0-2-1-1 0-2-1-1 0-2-1-1 0-2-1-1-1 1-1-1 0-2 1-1 0-2-1-1-1 1-1-1-1 1-1-1 0-2-1-1 0-2 1-1 0-2 1-1 0-2-1-1-1 1-1-1-1 1-1-1 0-2 1-1 0-2-1-1-1 1-1-1-1 1-1-1 0-2-1-1-1 1-1-1-1 1-1-1-1 1-1-1-1 1-1-1-1 1 0 2 1 1 0 2-1 1-1-1 0-2-1-1-1 1 0 2-1 1 0 2-1 1-1-1-1 1 0 2-1 1-1-1-1 1 0 2 1 1 0 2-1 1 0 2-1 1-1-1-1 1 0 2-1 1-1-1 0-2-1-1-1 1 0 2 1 1 0 2 1 1 0 2-1 1-1-1 0-2-1-1 0-2-1-1-1 1 0 2 1 1 0 2 1 1 0 2-1 1-1-1-1 1-1-1 0-2 1-1 0-2-1-1-1 1 0 2-1 1 0 2 1 1 0 2 1 1 0 2 1 1 0 2-1 1-1-1 0-2-1-1-1 1 0 2-1 1-1-1-1 1-1-1-1 1zM9 103l0-2 1-1 1 1 0 2-1 1zM12 80l1-1 1 1 0 2-1 1-1-1zM7 113l1-1 1 1 0 2-1 1-1-1zM5 125l0 2 1 1 1-1 0-2-1-1zM26 50l0 2 1 1 1-1 0-2-1-1zM40 26l0 2 1 1 1-1 0-2-1-1zM37 29l0 2 1 1 1-1 0-2-1-1zM47 29l0 2 1 1 1-1 0-2-1-1zM59 47l0 2 1 1 1-1 0-2-1-1z"/>
<path fill="#69b090" stroke="#69b090" d="M16 88l-1 1 0 2-1 1 0 2-1 1 0 2-1 1-1-1 0-2-1-1-1 1 0 2 1 1 0 2 1 1 0 2 1 1 0 2-1 1 0 2 1 1 0 2-1 1-1-1-1 1 0 2 1 1 0 2-1 1-1-1-1 1 0 2 1 1 1-1 1 1 1-1 1 1 0 2-1 1 0 2 1 1 0 2 1 1 0 2-1 1-1-1-1 1 0 2 1 1 0 2 1 1 0 2 1 1 0 2-1 1 0 2-1 1 0 2 1 1 1-1 1 1 0 2 1 1 1-1 1 1 0 2 1 1 1-1 1 1 0 2 1 1 1-1 0-2 1-1 1 1 1-1 1 1 1-1 1 1 1-1 1 1 1-1 0-2 1-1 1 1 1-1 1 1 1-1 0-2 1-1 1 1 1-1 0-2 1-1 1 1 1-1 1 1 1-1 0-2 1-1 1 1 1-1 0-2 1-1 1 1 1-1 0-2 1-1 1 1 1-1 0-2 1-1 1 1 1-1 0-2 1-1 1 1 1-1 0-2 1-1 0-2 1-1 1 1 1-1 0-2 1-1 0-2 1-1 0-2 1-1 0-2 1-1 0-2 1-1 0-2 1-1 0-2-1-1 0-2 1-1 0-2-1-1 0-2 1-1 0-2 1-1 0-2-1-1 0-2-1-1 0-2-1-1 0-2-1-1 0-2 1-1 0-2-1-1-1 1-1-1 0-2 1-1 0-2-1-1-1 1-1-1-1 1-1-1 0-2 1-1 1 1 1-1 0-2-1-1-1 1-1-1 0-2-1-1 0-2-1-1 0-2-1-1 0-2-1-1 0-2-1-1 0-2-1-1-1 1 0 2-1 1-1-1 0-2-1-1-1 1-1-1 0-2 1-1 0-2-1-1-1 1-1-1-1 1 0 2-1 1 0 2-1 1-1-1 0-2 1-1 0-2-1-1-1 1 0 2-1 1 0 2-1 1 0 2-1 1 0 2-1 1-1-1-1 1-1-1-1 1-1-1-1 1 0 2-1 1 0 2-1 1 0 2-1 1-1-1-1 1 0 2 1 1 0 2-1 1-1-1-1 1-1-1 0-2-1-1-1 1 0 2 1 1 0 2 1 1 0 2-1 1 0 2-1 1-1-1-1 1 0 2 1 1 0 2-1 1-1-1-1 1-1-1-1 1 0 2 1 1zM13 115l0-2 1-1 1 1 0 2-1 1zM11 83l0 2 1 1 1-1 0-2-1-1zM8 128l0 2 1 1 1-1 0-2-1-1zM38 44l1-1 0-2-1-1-1 1 0 2-1 1 0 2 1 1 1-1zM43 35l0 2 1 1 1-1 0-2-1-1zM51 41l0 2 1 1 1-1 0-2-1-1zM57 43l-1 1 0 2 1 1 1-1 0-2z"/>
<path fill="#61aa90" stroke="#61aa90" d="M17 91l1 1 0 2-1 1 0 2-1 1 0 2-1 1 0 2-1 1 0 2 1 1 0 2 1 1 0 2 1 1 0 2-1 1 0 2-1 1 0 2-1 1 0 2-1 1 0 2 1 1 0 2-1 1 0 2 1 1 0 2-1 1 0 2 1 1 0 2 1 1 0 2 1 1 0 2-1 1 0 2 1 1 1-1 1 1 0 2 1 1 1-1 1 1 0 2 1 1 1-1 1 1 1-1 1 1 1-1 0-2 1-1 1 1 1-1 1 1 1-1 1 1 1-1 0-2 1-1 1 1 1-1 0-2 1-1 1 1 1-1 1 1 1-1 0-2 1-1 1 1 1-1 0-2 1-1 1 1 1-1 1 1 1-1 0-2 1-1 0-2 1-1 1 1 1-1 0-2 1-1 1 1 1-1 0-2 1-1 1 1 1-1 0-2 1-1 1 1 1-1 0-2 1-1 0-2 1-1 0-2 1-1 0-2 1-1 0-2 1-1 0-2-1-1 0-2 1-1 0-2-1-1 0-2 1-1 0-2 1-1 0-2-1-1 0-2-1-1 0-2-1-1 0-2-1-1 0-2-1-1 0-2-1-1 0-2 1-1 0-2-1-1-1 1-1-1 0-2-1-1 0-2 1-1 0-2-1-1-1 1 0 2-1 1-1-1 0-2-1-1 0-2 1-1 0-2-1-1-1 1-1-1 0-2 1-1 1 1 1-1 0-2-1-1-1 1-1-1-1 1-1-1-1 1 0 2-1 1-1-1-1 1-1-1 0-2 1-1 1 1 1-1 0-2-1-1 0-2-1-1-1 1 0 2-1 1-1-1 0-2-1-1-1 1-1-1-1 1-1-1-1 1 0 2 1 1 1-1 1 1 1-1 1 1 0 2-1 1-1-1-1 1-1-1-1 1-1-1-1 1-1-1-1 1 0 2 1 1 1-1 1 1 1-1 1 1 0 2-1 1-1-1-1 1-1-1-1 1 0 2-1 1-1-1-1 1-1-1-1 1 0 2-1 1 0 2-1 1-1-1-1 1 0 2-1 1-1-1-1 1 0 2-1 1 0 2 1 1 1-1 1 1 1-1 1 1 0 2-1 1-1-1-1 1 0 2-1 1-1-1-1 1 0 2-1 1-1-1-1 1 0 2-1 1zM54 46l-1 1 0 2 1 1 1-1 0-2z"/>
<path fill="#5aa690" stroke="#5aa690" d="M21 91l1 1 0 2-1 1-1-1-1 1-1-1-1 1 0 2-1 1 0 2 1 1 1-1 0-2 1-1 1 1 0 2-1 1 0 2-1 1 0 2-1 1 0 2-1 1 0 2 1 1 0 2-1 1 0 2 1 1 1-1 1 1 0 2-1 1 0 2-1 1 0 2-1 1 0 2 1 1 0 2 1 1 0 2-1 1 0 2-1 1 0 2 1 1 0 2-1 1 0 2 1 1 1-1 1 1 0 2 1 1 1-1 1 1 0 2 1 1 1-1 1 1 1-1 1 1 1-1 0-2 1-1 1 1 1-1 1 1 1-1 1 1 1-1 0-2 1-1 1 1 1-1 1 1 1-1 0-2 1-1 1 1 1-1 1 1 1-1 0-2 1-1 1 1 1-1 0-2 1-1 1 1 1-1 0-2 1-1 1 1 1-1 0-2 1-1 1 1 1-1 0-2 1-1 0-2 1-1 1 1 1-1 0-2 1-1 0-2 1-1 0-2 1-1 0-2 1-1 1 1 1-1 0-2-1-1 0-2 1-1 0-2-1-1 0-2 1-1 0-2-1-1 0-2 1-1 0-2-1-1 0-2-1-1 0-2 1-1 0-2-1-1-1 1-1-1 0-2 1-1 0-2-1-1-1 1-1-1-1 1-1-1 0-2 1-1 0-2-1-1 0-2-1-1-1 1-1-1 0-2-1-1 0-2-1-1 0-2-1-1 0-2-1-1 0-2 1-1 0-2-1-1-1 1 0 2-1 1-1-1-1 1 0 2-1 1-1-1 0-2 1-1 0-2-1-1-1 1 0 2-1 1-1-1-1 1 0 2-1 1-1-1-1 1-1-1-1 1 0 2-1 1-1-1-1 1 0 2 1 1 0 2-1 1 0 2-1 1-1-1 0-2 1-1 0-2-1-1-1 1 0 2-1 1 0 2 1 1 0 2-1 1-1-1-1 1-1-1-1 1 0 2 1 1 0 2-1 1 0 2-1 1-1-1-1 1 0 2-1 1 0 2-1 1zM19 109l1 1 0 2-1 1-1-1 0-2z"/>
<path fill="#53a190" stroke="#53a190" d="M24 88l1 1 0 2-1 1-1-1-1 1 0 2-1 1-1-1-1 1 0 2 1 1 0 2 1 1 0 2 1 1 0 2-1 1-1-1-1 1 0 2 1 1 0 2-1 1 0 2 1 1 0 2-1 1 0 2-1 1 0 2 1 1 0 2 1 1 0 2-1 1-1-1-1 1 0 2 1 1 1-1 1 1 0 2-1 1-1-1-1 1 0 2 1 1 0 2 1 1 0 2 1 1 0 2-1 1 0 2 1 1 1-1 1 1 0 2 1 1 1-1 1 1 1-1 1 1 1-1 0-2 1-1 1 1 1-1 0-2 1-1 1 1 0 2 1 1 1-1 0-2 1-1 1 1 1-1 1 1 1-1 0-2 1-1 1 1 1-1 0-2 1-1 1 1 1-1 0-2 1-1 1 1 1-1 1 1 1-1 0-2 1-1 0-2 1-1 1 1 1-1 0-2 1-1 1 1 1-1 0-2 1-1 0-2 1-1 1 1 1-1 0-2 1-1 0-2 1-1 0-2 1-1 0-2-1-1 0-2 1-1 0-2 1-1 0-2 1-1 0-2-1-1 0-2-1-1 0-2-1-1 0-2 1-1 0-2-1-1 0-2-1-1 0-2 1-1 0-2-1-1-1 1 0 2-1 1-1-1-1 1-1-1 0-2 1-1 0-2 1-1 0-2-1-1-1 1-1-1 0-2-1-1-1 1-1-1-1 1-1-1 0-2-1-1 0-2-1-1 0-2-1-1-1 1 0 2-1 1-1-1 0-2 1-1 0-2-1-1-1 1 0 2-1 1-1-1-1 1-1-1-1 1 0 2-1 1-1-1-1 1-1-1-1 1 0 2-1 1 0 2-1 1 0 2-1 1-1-1-1 1 0 2-1 1 0 2-1 1 0 2 1 1 0 2-1 1-1-1-1 1-1-1-1 1zM36 70l0-2 1-1 1 1 0 2-1 1 0 2-1 1-1-1 0-2z"/>
<path fill="#4d9c90" stroke="#4d9c90" d="M27 95l-1-1-1 1 0 2-1 1 0 2-1 1 0 2-1 1 0 2-1 1 0 2 1 1 0 2 1 1 0 2-1 1 0 2-1 1 0 2-1 1-1-1-1 1 0 2 1 1 1-1 1 1 0 2-1 1 0 2-1 1-1-1-1 1 0 2 1 1 1-1 1 1 0 2-1 1 0 2-1 1 0 2 1 1 1-1 1 1 0 2 1 1 0 2 1 1 0 2 1 1 1-1 1 1 1-1 1 1 1-1 1 1 1-1 0-2 1-1 1 1 1-1 1 1 1-1 1 1 1-1 0-2 1-1 1 1 1-1 0-2 1-1 1 1 1-1 1 1 1-1 0-2 1-1 1 1 1-1 0-2 1-1 1 1 1-1 0-2 1-1 1 1 1-1 0-2 1-1 0-2 1-1 1 1 1-1 0-2 1-1 0-2 1-1 0-2 1-1 1 1 1-1 0-2 1-1 0-2-1-1 0-2 1-1 0-2 1-1 0-2-1-1 0-2 1-1 0-2-1-1-1 1-1-1 0-2 1-1 0-2 1-1 0-2-1-1-1 1 0 2-1 1-1-1 0-2-1-1 0-2 1-1 0-2-1-1-1 1-1-1 0-2-1-1 0-2-1-1-1 1-1-1 0-2-1-1 0-2-1-1 0-2-1-1 0-2-1-1-1 1 0 2 1 1 0 2-1 1-1-1 0-2-1-1-1 1 0 2-1 1-1-1 0-2 1-1 0-2-1-1-1 1 0 2-1 1-1-1-1 1-1-1-1 1 0 2-1 1 0 2-1 1-1-1-1 1 0 2 1 1 0 2-1 1 0 2-1 1-1-1 0-2-1-1-1 1 0 2-1 1 0 2-1 1 0 2-1 1 0 2 1 1 0 2zM25 107l1-1 1 1 0 2-1 1-1-1zM41 71l0 2-1 1-1-1 0-2 1-1zM20 148l-1 1 0 2 1 1 1-1 0-2z"/>
<path fill="#47978f" stroke="#47978f" d="M28 92l0 2-1 1 0 2 1 1 0 2-1 1-1-1-1 1 0 2 1 1 0 2 1 1 0 2-1 1 0 2 1 1 0 2-1 1-1-1 0-2-1-1-1 1 0 2-1 1 0 2 1 1 1-1 1 1 0 2-1 1-1-1-1 1 0 2-1 1 0 2-1 1 0 2 1 1 1-1 1 1 0 2-1 1-1-1-1 1 0 2 1 1 0 2-1 1 0 2 1 1 1-1 1 1 1-1 1 1 0 2-1 1 0 2 1 1 1-1 1 1 1-1 1 1 1-1 1 1 1-1 1 1 1-1 1 1 1-1 1 1 1-1 0-2 1-1 1 1 1-1 0-2 1-1 1 1 1-1 0-2 1-1 1 1 1-1 1 1 1-1 0-2 1-1 1 1 1-1 0-2 1-1 1 1 1-1 0-2 1-1 0-2 1-1 1 1 1-1 0-2 1-1 0-2 1-1 0-2 1-1 0-2 1-1 0-2 1-1 0-2-1-1 0-2 1-1 0-2 1-1 0-2-1-1 0-2-1-1 0-2-1-1 0-2-1-1 0-2-1-1-1 1-1-1 0-2 1-1 0-2-1-1-1 1-1-1 0-2-1-1-1 1-1-1 0-2 1-1 0-2-1-1-1 1 0 2-1 1-1-1 0-2-1-1 0-2-1-1-1 1 0 2-1 1-1-1 0-2-1-1-1 1 0 2-1 1-1-1-1 1 0 2-1 1-1-1 0-2-1-1-1 1 0 2 1 1 0 2-1 1 0 2-1 1-1-1-1 1 0 2-1 1 0 2-1 1 0 2-1 1-1-1 0-2 1-1 0-2-1-1-1 1 0 2-1 1 0 2zM30 94l1 1 0 2-1 1-1-1 0-2zM24 106l-1 1 0 2 1 1 1-1 0-2zM31 79l-1 1 0 2 1 1 1-1 0-2zM39 67l-1 1 0 2 1 1 1-1 0-2z"/>
<path fill="#41928f" stroke="#41928f" d="M30 98l-1-1 0-2-1-1-1 1 0 2 1 1 0 2 1 1 0 2-1 1 0 2-1 1 0 2 1 1 0 2-1 1 0 2-1 1 0 2-1 1 0 2-1 1 0 2-1 1-1-1-1 1 0 2 1 1 0 2 1 1 0 2 1 1 0 2-1 1 0 2 1 1 0 2 1 1 0 2-1 1 0 2 1 1 1-1 1 1 1-1 1 1 1-1 1 1 1-1 1 1 1-1 1 1 1-1 0-2 1-1 1 1 1-1 0-2 1-1 1 1 1-1 1 1 1-1 0-2 1-1 1 1 1-1 0-2 1-1 1 1 1-1 0-2 1-1 1 1 1-1 0-2 1-1 1 1 1-1 0-2 1-1 1 1 1-1 0-2 1-1 0-2 1-1 0-2 1-1 0-2 1-1 0-2 1-1 0-2-1-1 0-2 1-1 0-2 1-1 0-2-1-1 0-2-1-1 0-2-1-1 0-2-1-1-1 1-1-1 0-2-1-1 0-2 1-1 0-2-1-1-1 1-1-1 0-2-1-1-1 1 0 2-1 1-1-1 0-2-1-1-1 1 0 2-1 1 0 2-1 1-1-1 0-2 1-1 0-2-1-1-1 1-1-1 0-2 1-1 0-2-1-1-1 1-1-1-1 1 0 2-1 1-1-1-1 1 0 2 1 1 0 2-1 1 0 2-1 1-1-1 0-2-1-1-1 1 0 2-1 1 0 2-1 1-1-1-1 1 0 2-1 1 0 2 1 1 0 2zM27 101l-1-1-1 1 0 2 1 1 1-1z"/>
<path fill="#3c8c8e" stroke="#3c8c8e" d="M30 106l-1 1-1-1-1 1 0 2 1 1 1-1 1 1 0 2-1 1-1-1-1 1 0 2 1 1 0 2-1 1-1-1-1 1 0 2 1 1 0 2 1 1 0 2-1 1-1-1 0-2-1-1-1 1 0 2 1 1 0 2 1 1 0 2-1 1 0 2 1 1 0 2 1 1 0 2 1 1 0 2 1 1 1-1 1 1 0 2 1 1 1-1 0-2 1-1 1 1 1-1 1 1 1-1 0-2 1-1 1 1 1-1 1 1 1-1 0-2 1-1 1 1 1-1 0-2 1-1 1 1 1-1 1 1 1-1 0-2 1-1 1 1 1-1 0-2 1-1 0-2 1-1 1 1 1-1 0-2 1-1 0-2 1-1 1 1 1-1 0-2-1-1 0-2 1-1 1 1 1-1 0-2-1-1 0-2 1-1 0-2 1-1 0-2-1-1 0-2 1-1 0-2-1-1-1 1-1-1 0-2 1-1 0-2-1-1-1 1-1-1-1 1-1-1 0-2-1-1 0-2-1-1-1 1-1-1-1 1-1-1 0-2 1-1 0-2-1-1-1 1 0 2-1 1 0 2-1 1-1-1 0-2 1-1 0-2-1-1-1 1 0 2-1 1-1-1 0-2-1-1-1 1-1-1-1 1 0 2-1 1 0 2-1 1-1-1-1 1 0 2-1 1-1-1-1 1 0 2-1 1 0 2 1 1 0 2-1 1-1-1-1 1 0 2 1 1 0 2-1 1zM44 74l-1-1-1 1 0 2 1 1 1-1z"/>
<path fill="#37888d" stroke="#37888d" d="M30 106l-1 1-1-1-1 1 0 2 1 1 1-1 1 1 0 2-1 1 0 2-1 1 0 2-1 1 0 2-1 1 0 2 1 1 0 2-1 1 0 2 1 1 0 2-1 1 0 2 1 1 0 2 1 1 0 2 1 1 0 2 1 1 1-1 1 1 1-1 1 1 1-1 1 1 1-1 0-2 1-1 1 1 1-1 1 1 1-1 0-2 1-1 1 1 1-1 0-2 1-1 1 1 1-1 1 1 1-1 0-2 1-1 1 1 1-1 0-2 1-1 0-2 1-1 1 1 1-1 0-2 1-1 0-2 1-1 1 1 1-1 0-2-1-1 0-2 1-1 0-2 1-1 0-2 1-1 0-2-1-1 0-2 1-1 0-2-1-1-1 1-1-1 0-2-1-1 0-2-1-1 0-2-1-1-1 1-1-1 0-2-1-1 0-2-1-1-1 1 0 2-1 1-1-1 0-2-1-1-1 1-1-1 0-2-1-1-1 1-1-1-1 1-1-1-1 1 0 2-1 1-1-1-1 1 0 2 1 1 1-1 1 1 0 2-1 1-1-1-1 1 0 2-1 1-1-1 0-2-1-1-1 1 0 2-1 1 0 2 1 1 0 2-1 1-1-1 0-2-1-1-1 1 0 2 1 1 0 2-1 1z"/>
<path fill="#31828d" stroke="#31828d" d="M31 103l-1 1 0 2 1 1 0 2-1 1 0 2 1 1 0 2-1 1 0 2-1 1 0 2-1 1-1-1-1 1 0 2 1 1 0 2-1 1 0 2 1 1 0 2-1 1 0 2 1 1 0 2 1 1 1-1 1 1 0 2-1 1 0 2 1 1 1-1 1 1 1-1 0-2 1-1 1 1 0 2 1 1 1-1 0-2-1-1 0-2 1-1 1 1 0 2 1 1 1-1 0-2 1-1 1 1 1-1 0-2 1-1 1 1 1-1 1 1 1-1 0-2 1-1 1 1 1-1 0-2 1-1 0-2 1-1 1 1 1-1 1 1 1-1 0-2 1-1 0-2 1-1 0-2 1-1 0-2 1-1 0-2 1-1 0-2-1-1 0-2 1-1 0-2-1-1-1 1-1-1 0-2 1-1 0-2-1-1 0-2-1-1-1 1-1-1 0-2-1-1 0-2-1-1-1 1-1-1-1 1-1-1 0-2-1-1-1 1-1-1-1 1 0 2-1 1-1-1-1 1-1-1-1 1 0 2-1 1-1-1-1 1 0 2 1 1 0 2-1 1-1-1-1 1 0 2-1 1-1-1-1 1 0 2-1 1z"/>
<path fill="#2c7e8c" stroke="#2c7e8c" d="M32 106l-1 1 0 2 1 1 0 2 1 1 0 2-1 1-1-1-1 1 0 2 1 1 0 2-1 1 0 2-1 1-1-1-1 1 0 2 1 1 0 2 1 1 0 2-1 1 0 2 1 1 0 2 1 1 0 2 1 1 1-1 1 1 1-1 1 1 1-1 0-2 1-1 1 1 1-1 1 1 1-1 1 1 1-1 0-2 1-1 1 1 1-1 1 1 1-1 0-2 1-1 0-2 1-1 1 1 1-1 0-2 1-1 1 1 1-1 0-2 1-1 1 1 1-1 0-2 1-1 0-2-1-1 0-2 1-1 1 1 1-1 0-2 1-1 0-2-1-1 0-2-1-1 0-2-1-1 0-2 1-1 0-2-1-1-1 1-1-1 0-2-1-1 0-2-1-1-1 1-1-1-1 1-1-1 0-2-1-1 0-2-1-1-1 1 0 2-1 1 0 2-1 1-1-1-1 1 0 2-1 1-1-1-1 1-1-1-1 1 0 2-1 1-1-1-1 1 0 2-1 1-1-1-1 1 0 2-1 1zM34 104l1-1 1 1 0 2-1 1-1-1z"/>
<path fill="#26788c" stroke="#26788c" d="M33 109l-1 1 0 2 1 1 1-1 1 1 0 2-1 1-1-1-1 1 0 2-1 1 0 2-1 1 0 2 1 1 0 2-1 1 0 2 1 1 0 2-1 1 0 2-1 1 0 2 1 1 1-1 1 1 1-1 1 1 1-1 1 1 1-1 1 1 1-1 0-2 1-1 1 1 1-1 1 1 1-1 1 1 1-1 0-2 1-1 1 1 1-1 0-2 1-1 1 1 1-1 0-2 1-1 1 1 1-1 0-2 1-1 0-2 1-1 0-2 1-1 0-2 1-1 1 1 1-1 0-2-1-1 0-2 1-1 0-2-1-1 0-2-1-1 0-2-1-1 0-2-1-1 0-2-1-1-1 1 0 2-1 1-1-1 0-2 1-1 0-2-1-1-1 1-1-1-1 1-1-1-1 1-1-1-1 1-1-1-1 1 0 2-1 1-1-1-1 1-1-1-1 1 0 2-1 1 0 2-1 1 0 2 1 1 0 2-1 1-1-1-1 1-1-1-1 1zM40 100l0-2 1-1 1 1 0 2-1 1z"/>
<path fill="#22748b" stroke="#22748b" d="M39 103l-1 1 0 2-1 1-1-1-1 1 0 2-1 1 0 2 1 1 0 2-1 1-1-1-1 1 0 2 1 1 0 2-1 1-1-1-1 1 0 2 1 1 0 2 1 1 0 2-1 1 0 2-1 1 0 2 1 1 1-1 1 1 0 2 1 1 1-1 1 1 1-1 1 1 1-1 0-2 1-1 1 1 1-1 1 1 1-1 1 1 1-1 0-2 1-1 0-2 1-1 1 1 1-1 1 1 1-1 0-2 1-1 0-2 1-1 1 1 1-1 0-2 1-1 0-2 1-1 0-2 1-1 0-2 1-1 0-2 1-1 0-2-1-1-1 1-1-1 0-2-1-1 0-2-1-1 0-2-1-1-1 1-1-1 0-2 1-1 0-2-1-1-1 1 0 2-1 1-1-1-1 1-1-1 0-2-1-1-1 1 0 2 1 1 0 2-1 1-1-1 0-2-1-1-1 1 0 2-1 1 0 2-1 1-1-1 0-2 1-1 0-2-1-1-1 1 0 2-1 1 0 2 1 1z"/>
<path fill="#1e6e8a" stroke="#1e6e8a" d="M39 109l-1 1-1-1-1 1 0 2-1 1 0 2-1 1 0 2-1 1 0 2-1 1 0 2-1 1 0 2 1 1 0 2-1 1 0 2-1 1 0 2 1 1 1-1 1 1 1-1 1 1 1-1 1 1 0 2 1 1 1-1 0-2-1-1 0-2 1-1 1 1 0 2 1 1 1-1 0-2 1-1 1 1 0 2 1 1 1-1 0-2 1-1 0-2 1-1 1 1 1-1 0-2 1-1 1 1 1-1 0-2 1-1 1 1 1-1 0-2 1-1 0-2 1-1 0-2 1-1 0-2-1-1 0-2 1-1 0-2-1-1 0-2-1-1 0-2-1-1 0-2-1-1-1 1-1-1-1 1-1-1 0-2-1-1-1 1 0 2-1 1-1-1-1 1-1-1-1 1-1-1-1 1 0 2-1 1 0 2-1 1-1-1-1 1 0 2 1 1z"/>
<path fill="#1c6989" stroke="#1c6989" d="M38 110l-1-1-1 1 0 2 1 1 0 2-1 1-1-1-1 1 0 2-1 1 0 2 1 1 0 2 1 1 0 2-1 1 0 2-1 1-1-1-1 1 0 2 1 1 1-1 1 1 0 2 1 1 1-1 1 1 1-1 0-2 1-1 1 1 1-1 1 1 1-1 0-2 1-1 1 1 0 2 1 1 1-1 0-2 1-1 1 1 1-1 0-2 1-1 1 1 1-1 0-2 1-1 0-2 1-1 1 1 1-1 0-2 1-1 0-2-1-1 0-2-1-1 0-2 1-1 0-2 1-1 0-2-1-1 0-2-1-1-1 1-1-1 0-2-1-1-1 1-1-1-1 1-1-1-1 1-1-1-1 1 0 2-1 1-1-1 0-2-1-1-1 1 0 2-1 1 0 2-1 1 0 2-1 1 0 2z"/>
<path fill="#1c6388" stroke="#1c6388" d="M39 107l0 2-1 1-1-1-1 1 0 2 1 1 0 2-1 1 0 2-1 1 0 2-1 1 0 2 1 1 0 2 1 1 0 2 1 1 0 2-1 1 0 2 1 1 1-1 0-2 1-1 1 1 1-1 1 1 1-1 0-2 1-1 1 1 1-1 1 1 1-1 0-2 1-1 1 1 1-1 0-2 1-1 1 1 1-1 0-2 1-1 0-2 1-1 0-2 1-1 0-2-1-1 0-2 1-1 0-2-1-1 0-2 1-1 0-2-1-1-1 1-1-1-1 1-1-1-1 1-1-1 0-2-1-1-1 1-1-1-1 1 0 2-1 1-1-1-1 1 0 2-1 1-1-1-1 1 0 2zM35 133l0-2-1-1-1 1 0 2 1 1z"/>
<path fill="#1e5d86" stroke="#1e5d86" d="M41 107l-1-1-1 1 0 2 1 1 0 2-1 1 0 2-1 1-1-1-1 1 0 2-1 1 0 2 1 1 0 2 1 1 0 2-1 1 0 2 1 1 0 2 1 1 1-1 1 1 1-1 0-2 1-1 1 1 1-1 1 1 1-1 1 1 1-1 0-2 1-1 0-2 1-1 1 1 1-1 0-2 1-1 1 1 1-1 0-2 1-1 0-2 1-1 0-2-1-1 0-2 1-1 0-2-1-1 0-2-1-1 0-2-1-1-1 1-1-1-1 1-1-1-1 1-1-1 0-2-1-1-1 1 0 2-1 1-1-1-1 1 0 2-1 1 0 2z"/>
<path fill="#205885" stroke="#205885" d="M44 104l0 2-1 1-1-1-1 1 0 2-1 1 0 2-1 1 0 2-1 1 0 2-1 1-1-1-1 1 0 2 1 1 1-1 1 1 0 2-1 1 0 2-1 1 0 2 1 1 0 2 1 1 1-1 0-2 1-1 1 1 1-1 1 1 1-1 1 1 1-1 1 1 1-1 0-2 1-1 0-2 1-1 1 1 1-1 0-2 1-1 0-2 1-1 1 1 1-1 0-2-1-1 0-2 1-1 0-2 1-1 0-2-1-1 0-2-1-1 0-2-1-1-1 1-1-1-1 1-1-1-1 1 0 2-1 1-1-1-1 1-1-1 0-2-1-1-1 1 0 2z"/>
<path fill="#225282" stroke="#225282" d="M42 110l-1-1-1 1 0 2-1 1 0 2 1 1 0 2-1 1 0 2 1 1 0 2-1 1 0 2 1 1 1-1 1 1 1-1 1 1 1-1 1 1 1-1 1 1 1-1 0-2 1-1 1 1 1-1 0-2 1-1 0-2 1-1 1 1 1-1 0-2-1-1 0-2 1-1 0-2-1-1 0-2-1-1-1 1-1-1 0-2-1-1-1 1-1-1-1 1-1-1-1 1-1-1-1 1 0 2-1 1 0 2z"/>
<path fill="#254c80" stroke="#254c80" d="M43 109l-1 1 0 2-1 1 0 2-1 1 0 2-1 1 0 2 1 1 0 2-1 1 0 2 1 1 1-1 1 1 1-1 1 1 1-1 1 1 1-1 0-2 1-1 1 1 1-1 0-2 1-1 1 1 1-1 0-2 1-1 0-2 1-1 0-2 1-1 0-2-1-1 0-2-1-1-1 1 0 2-1 1-1-1 0-2 1-1 0-2-1-1-1 1-1-1-1 1-1-1-1 1 0 2-1 1 0 2-1 1z"/>
<path fill="#27467c" stroke="#27467c" d="M44 110l-1-1-1 1 0 2-1 1 0 2-1 1 0 2-1 1 0 2 1 1 0 2-1 1 0 2 1 1 1-1 0-2 1-1 1 1 1-1 1 1 1-1 1 1 1-1 0-2 1-1 1 1 1-1 0-2 1-1 1 1 1-1 0-2 1-1 0-2-1-1 0-2-1-1-1 1-1-1 0-2-1-1-1 1 0 2-1 1-1-1-1 1-1-1z"/>
<path fill="#294079" stroke="#294079" d="M44 110l0 2-1 1-1-1-1 1 0 2-1 1 0 2-1 1 0 2 1 1 1-1 1 1 0 2 1 1 1-1 1 1 1-1 0-2 1-1 1 1 1-1 1 1 1-1 0-2-1-1 0-2-1-1 0-2 1-1 1 1 0 2 1 1 1-1 0-2 1-1 0-2-1-1-1 1-1-1-1 1-1-1-1 1-1-1-1 1-1-1z"/>
<path fill="#2b3a76" stroke="#2b3a76" d="M45 109l-1 1 0 2 1 1 1-1 0-2zM49 109l-1 1 0 2-1 1 0 2-1 1-1-1-1 1-1-1-1 1-1-1-1 1 0 2 1 1 0 2 1 1 1-1 1 1 1-1 0-2 1-1 1 1 1-1 0-2 1-1 0-2 1-1 0-2zM49 119l0 2 1 1 1-1 0-2-1-1z"/>
<path fill="#2c3473" stroke="#2c3473" d="M44 118l1 1 1-1 0-2-1-1-1 1-1-1-1 1 0 2 1 1z"/>
</g></g>
<path fill="#f0a9a9" d="M175.5 1760.7v-5.6h10.4v5.6zM187.4 1760.7v-7.5h17.3v7.5zM206.2 1760.7v-9.7h17.3v9.7zM225.0 1760.7v-12.6h17.3v12.6zM243.8 1760.7v-15.9h17.3v15.9zM262.6 1760.7v-19.6h17.3v19.6zM281.4 1760.7v-23.3h17.3v23.3zM300.2 1760.7v-27.4h17.3v27.4zM319.0 1760.7v-32.5h17.3v32.5zM337.8 1760.7v-35.5h17.3v35.5zM356.6 1760.7v-38.4h17.3v38.4zM375.5 1760.7v-42.5h17.3v42.5zM394.3 1760.7v-44.7h17.3v44.7zM413.1 1760.7v-47.3h17.3v47.3zM431.9 1760.7v-46.5h17.3v46.5zM450.7 1760.7v-45.8h17.3v45.8zM469.5 1760.7v-41.7h17.3v41.7zM488.3 1760.7v-35.5h17.3v35.5zM507.1 1760.7v-28.5h17.3v28.5zM525.9 1760.7v-21.1h17.3v21.1zM544.8 1760.7v-14.5h17.3v14.5zM563.6 1760.7v-8.6h17.3v8.6zM582.4 1760.7v-4.9h17.3v4.9zM601.2 1760.7v-2.3h17.3v2.3z"/>
<path fill="#f0a9a9" d="M782.8 1825.0h4.3v11.1h-4.3zM782.8 1837.7h6.8v11.1h-6.8zM782.8 1850.3h11.2v11.1h-11.2zM782.8 1862.9h16.0v11.1h-16.0zM782.8 1875.5h23.5v11.1h-23.5zM782.8 1888.1h29.9v11.1h-29.9zM782.8 1900.7h36.9v11.1h-36.9zM782.8 1913.3h44.0v11.1h-44.0zM782.8 1925.9h51.3v11.1h-51.3zM782.8 1938.5h58.4v11.1h-58.4zM782.8 1951.1h62.9v11.1h-62.9zM782.8 1963.8h64.8v11.1h-64.8zM782.8 1976.4h66.4v11.1h-66.4zM782.8 1989.0h67.0v11.1h-67.0zM782.8 2001.6h62.9v11.1h-62.9zM782.8 2014.2h60.2v11.1h-60.2zM782.8 2026.8h57.0v11.1h-57.0zM782.8 2039.4h52.9v11.1h-52.9zM782.8 2052.0h49.0v11.1h-49.0zM782.8 2064.6h44.9v11.1h-44.9zM782.8 2077.2h41.0v11.1h-41.0zM782.8 2089.9h36.9v11.1h-36.9zM782.8 2102.5h34.0v11.1h-34.0zM782.8 2115.1h31.2v11.1h-31.2zM782.8 2127.7h28.0v11.1h-28.0zM782.8 2140.3h26.0v11.1h-26.0zM782.8 2152.9h23.9v11.1h-23.9zM782.8 2165.5h22.3v11.1h-22.3zM782.8 2178.1h21.0v11.1h-21.0zM782.8 2190.7h19.2v11.1h-19.2zM782.8 2203.3h18.0v11.1h-18.0zM782.8 2216.0h16.4v11.1h-16.4zM782.8 2228.6h15.1v11.1h-15.1zM782.8 2241.2h13.9v11.1h-13.9zM782.8 2253.8h13.0v11.1h-13.0zM782.8 2266.4h12.3v11.1h-12.3zM782.8 2279.0h11.4v11.1h-11.4zM782.8 2291.6h11.2v11.1h-11.2zM782.8 2304.2h10.3v11.1h-10.3zM782.8 2316.8h10.0v11.1h-10.0z"/>
<path d="M394.9 1760.7V1708.1M782.8 2039.9H848.7" stroke="#029e73" stroke-width="5" stroke-dasharray="17.5 7.3" fill="none"/>
<path d="M175.5 1822.8V2329.7M174.2 2328.4H733.6M174.2 1760.7H733.6M782.8 1822.8V2329.7M175.5 2328.4v10.8M175.5 1760.7v10.8M314.7 2328.4v10.8M314.7 1760.7v10.8M453.9 2328.4v10.8M453.9 1760.7v10.8M593.1 2328.4v10.8M593.1 1760.7v10.8M732.3 2328.4v10.8M732.3 1760.7v10.8M175.5 2328.4h-10.8M782.8 2328.4h-10.8M175.5 2160.3h-10.8M782.8 2160.3h-10.8M175.5 1992.2h-10.8M782.8 1992.2h-10.8M175.5 1824.1h-10.8M782.8 1824.1h-10.8" stroke="#000" stroke-width="2.6" fill="none"/>
<text transform="translate(138.42,2398.68) rotate(-45)" font-size="29.17" >3.5</text>
<text transform="translate(277.62,2398.68) rotate(-45)" font-size="29.17" >4.0</text>
<text transform="translate(416.82,2398.68) rotate(-45)" font-size="29.17" >4.5</text>
<text transform="translate(556.02,2398.68) rotate(-45)" font-size="29.17" >5.0</text>
<text transform="translate(695.22,2398.68) rotate(-45)" font-size="29.17" >5.5</text>
<text transform="translate(116.92,2365.80) rotate(-45)" font-size="29.17" >0.1</text>
<text transform="translate(116.92,2197.70) rotate(-45)" font-size="29.17" >0.2</text>
<text transform="translate(116.92,2029.60) rotate(-45)" font-size="29.17" >0.3</text>
<text transform="translate(116.92,1861.50) rotate(-45)" font-size="29.17" >0.4</text>
<circle cx="394.9" cy="2039.9" r="18.4" fill="#029e73" stroke="#fff" stroke-width="6"/>
<rect x="502.6" y="1842.2" width="212.1" height="66.0" rx="5" fill="#fff" fill-opacity="0.5"/>
<circle cx="554.1" cy="1872.4" r="18.4" fill="#029e73" stroke="#fff" stroke-width="6"/>
<text x="619.2" y="1885.3" font-size="36.1">MAP</text>
<text x="453.7" y="2442.9" font-size="36.1" text-anchor="middle"><tspan class="i">v</tspan><tspan class="i" font-size="25.3" dy="5.4">s</tspan><tspan dy="-5.4">4</tspan></text><text x="453.7" y="2489.7" font-size="36.1" text-anchor="middle"><tspan>[km·s</tspan><tspan font-size="25.3" dy="-13.0">−1</tspan><tspan dy="13.0">]</tspan></text><text transform="translate(79.9,2076.5) rotate(-90)" font-size="36.1" text-anchor="middle"><tspan class="i">ν</tspan><tspan>4</tspan></text>
<g font-weight="bold"><text transform="translate(4.0,1725.8) scale(1.19,1)" font-size="49.7">(</text><text x="29.9" y="1723.2" font-size="46.0">e</text><text transform="translate(60.2,1725.8) scale(1.19,1)" font-size="49.7">)</text></g>
<!-- panel f -->
<clipPath id="clip5"><rect x="1041.6" y="1823.6" width="523.9" height="504.4"/></clipPath>
<rect x="1041.6" y="1823.6" width="523.9" height="504.4" fill="#f5f5f5"/>
<g clip-path="url(#clip5)"><g transform="matrix(5.2390 0 0 -3.0024 1041.60 2328.00)" class="hx">
<path fill="#a5cd90" stroke="#a5cd90" d="M-2 2l0 2-1 1 0 2 1 1 0 2-1 1 0 2 1 1 0 2-1 1 0 2 1 1 0 2-1 1 0 2 1 1 0 2-1 1 0 2 1 1 0 2-1 1 0 2 1 1 0 2-1 1 0 2 1 1 0 2-1 1 0 2 1 1 0 2-1 1 0 2 1 1 0 2-1 1 0 2 1 1 0 2-1 1 0 2 1 1 0 2-1 1 0 2 1 1 0 2-1 1 0 2 1 1 0 2-1 1 0 2 1 1 0 2-1 1 0 2 1 1 0 2-1 1 0 2 1 1 0 2-1 1 0 2 1 1 0 2-1 1 0 2 1 1 1-1 1 1 0 2 1 1 1-1 1 1 0 2 1 1 1-1 1 1 1-1 1 1 1-1 1 1 0 2 1 1 1-1 1 1 1-1 1 1 0 2 1 1 1-1 1 1 0 2 1 1 1-1 1 1 0 2 1 1 1-1 0-2 1-1 1 1 0 2 1 1 1-1 1 1 0 2 1 1 0 2 1 1 1-1 0-2 1-1 1 1 0 2-1 1 0 2 1 1 1-1 1 1 1-1 1 1 1-1 1 1 1-1 1 1 0 2 1 1 1-1 1 1 1-1 1 1 0 2 1 1 0 2 1 1 1-1 1 1 1-1 1 1 0 2 1 1 1-1 1 1 1-1 1 1 0 2 1 1 1-1 1 1 1-1 1 1 0 2-1 1 0 2 1 1 1-1 0-2 1-1 1 1 1-1 1 1 0 2 1 1 1-1 1 1 1-1 1 1 0 2 1 1 1-1 1 1 0 2 1 1 1-1 1 1 1-1 1 1 0 2 1 1 0 2-1 1 0 2 1 1 1-1 1 1 1-1 0-2-1-1 0-2 1-1 1 1 1-1 1 1 1-1 0-2-1-1-1 1-1-1-1 1-1-1 0-2 1-1 1 1 1-1 0-2-1-1 0-2-1-1 0-2 1-1 1 1 0 2 1 1 0 2 1 1 1-1 1 1 1-1 0-2 1-1 0-2-1-1-1 1 0 2-1 1-1-1 0-2 1-1 0-2 1-1 0-2 1-1 1 1 1-1 0-2-1-1 0-2 1-1 0-2 1-1 1 1 1-1 1 1 1-1 0-2-1-1 0-2-1-1 0-2 1-1 0-2 1-1 1 1 1-1 0-2 1-1 0-2-1-1-1 1-1-1 0-2 1-1 0-2-1-1 0-2 1-1 1 1 0 2 1 1 0 2 1 1 0 2 1 1 1-1 0-2 1-1 0-2-1-1 0-2-1-1-1 1-1-1 0-2 1-1 1 1 1-1 1 1 1-1 0-2-1-1 0-2 1-1 0-2-1-1 0-2 1-1 0-2-1-1 0-2 1-1 0-2-1-1 0-2 1-1 0-2-1-1 0-2-1-1 0-2-1-1 0-2 1-1 0-2 1-1 0-2 1-1 0-2-1-1 0-2 1-1 0-2-1-1 0-2 1-1 0-2-1-1 0-2 1-1 0-2-1-1 0-2 1-1 0-2-1-1 0-2 1-1 0-2-1-1 0-2-1-1 0-2 1-1 0-2 1-1 0-2-1-1-1 1-1-1 0-2-1-1 0-2 1-1 0-2-1-1-1 1 0 2-1 1-1-1-1 1 0 2-1 1-1-1-1 1-1-1 0-2-1-1-1 1-1-1 0-2 1-1 0-2 1-1 1 1 0 2 1 1 1-1 0-2-1-1 0-2-1-1-1 1-1-1-1 1 0 2-1 1 0 2-1 1-1-1-1 1 0 2-1 1-1-1 0-2 1-1 0-2 1-1 1 1 1-1 0-2-1-1 0-2-1-1-1 1 0 2-1 1-1-1-1 1 0 2 1 1 0 2-1 1 0 2-1 1-1-1 0-2 1-1 0-2-1-1-1 1-1-1 0-2-1-1-1 1-1-1 0-2 1-1 1 1 1-1 1 1 1-1 0-2-1-1-1 1-1-1 0-2-1-1-1 1 0 2-1 1-1-1 0-2 1-1 0-2-1-1-1 1 0 2-1 1-1-1 0-2-1-1-1 1-1-1-1 1 0 2-1 1-1-1 0-2-1-1-1 1-1-1-1 1-1-1-1 1-1-1-1 1-1-1-1 1-1-1-1 1-1-1-1 1-1-1-1 1-1-1-1 1-1-1-1 1-1-1-1 1-1-1-1 1-1-1-1 1-1-1-1 1-1-1-1 1-1-1-1 1-1-1-1 1-1-1-1 1-1-1-1 1-1-1-1 1-1-1-1 1-1-1-1 1-1-1-1 1-1-1-1 1-1-1-1 1-1-1-1 1-1-1-1 1-1-1-1 1-1-1-1 1-1-1-1 1-1-1-1 1-1-1-1 1-1-1-1 1-1-1-1 1 0 2 1 1 0 2-1 1 0 2zM6 110l0 2-1 1-1-1 0-2 1-1zM63 -1l1-1 1 1 0 2-1 1-1-1zM70 -4l0 2-1 1-1-1 0-2 1-1zM89 139l1 1 0 2-1 1-1-1 0-2zM88 130l1 1 0 2-1 1-1-1 0-2zM81 157l1 1 0 2-1 1-1-1 0-2zM94 112l1 1 0 2-1 1-1-1 0-2zM91 133l0-2-1-1 0-2 1-1 1 1 0 2 1 1 0 2-1 1zM93 121l-1 1-1-1 0-2 1-1 1 1zM81 -5l1 1 0 2 1 1 0 2 1 1 1-1 0-2-1-1 0-2-1-1 0-2-1-1-1 1zM83 179l1-1 0-2-1-1-1 1 0 2zM86 176l1-1 0-2-1-1-1 1 0 2zM95 143l1-1 0-2-1-1-1 1 0 2zM91 179l1-1 0-2-1-1-1 1 0 2zM102 124l1 1 1-1 0-2-1-1-1 1zM103 131l1-1 0-2-1-1-1 1 0 2z"/>
<path fill="#98c691" stroke="#98c691" d="M-1 -1l0 2-1 1 0 2-1 1 0 2 1 1 0 2-1 1 0 2 1 1 0 2-1 1 0 2 1 1 0 2-1 1 0 2 1 1 0 2-1 1 0 2 1 1 0 2-1 1 0 2 1 1 0 2-1 1 0 2 1 1 0 2-1 1 0 2 1 1 0 2-1 1 0 2 1 1 0 2-1 1 0 2 1 1 0 2-1 1 0 2 1 1 0 2-1 1 0 2 1 1 0 2-1 1 0 2 1 1 0 2-1 1 0 2 1 1 0 2-1 1 0 2 1 1 0 2-1 1 0 2 1 1 0 2-1 1 0 2 1 1 0 2-1 1 0 2 1 1 1-1 1 1 0 2 1 1 1-1 1 1 0 2 1 1 1-1 1 1 1-1 1 1 1-1 1 1 0 2 1 1 1-1 1 1 1-1 1 1 0 2 1 1 1-1 1 1 0 2 1 1 1-1 1 1 0 2 1 1 1-1 0-2 1-1 1 1 0 2 1 1 1-1 1 1 0 2 1 1 0 2 1 1 1-1 0-2 1-1 1 1 0 2-1 1 0 2 1 1 1-1 1 1 1-1 1 1 1-1 1 1 1-1 1 1 0 2 1 1 1-1 1 1 1-1 1 1 0 2 1 1 1-1 1 1 0 2 1 1 1-1 1 1 1-1 1 1 0 2 1 1 1-1 1 1 1-1 1 1 0 2 1 1 1-1 1 1 1-1 1 1 1-1 0-2 1-1 1 1 1-1 0-2-1-1 0-2 1-1 0-2 1-1 0-2-1-1 0-2 1-1 0-2 1-1 0-2 1-1 0-2 1-1 1 1 1-1 0-2-1-1-1 1-1-1 0-2 1-1 0-2-1-1 0-2 1-1 0-2 1-1 0-2 1-1 0-2 1-1 1 1 1-1 1 1 0 2 1 1 1-1 0-2-1-1 0-2-1-1 0-2 1-1 1 1 1-1 0-2 1-1 1 1 1-1 1 1 1-1 1 1 1-1 0-2 1-1 1 1 1-1 0-2 1-1 1 1 1-1 1 1 1-1 1 1 1-1 0-2 1-1 0-2 1-1 1 1 1-1 0-2 1-1 0-2 1-1 0-2-1-1 0-2 1-1 0-2 1-1 0-2-1-1-1 1-1-1 0-2 1-1 0-2-1-1-1 1-1-1 0-2-1-1 0-2-1-1 0-2-1-1-1 1-1-1 0-2-1-1-1 1-1-1-1 1-1-1 0-2-1-1 0-2-1-1-1 1-1-1 0-2-1-1-1 1 0 2-1 1-1-1 0-2 1-1 0-2-1-1 0-2-1-1-1 1-1-1 0-2-1-1-1 1-1-1-1 1-1-1 0-2-1-1 0-2 1-1 0-2-1-1-1 1 0 2-1 1-1-1 0-2 1-1 0-2 1-1 0-2-1-1 0-2-1-1-1 1 0 2-1 1-1-1-1 1-1-1 0-2 1-1 1 1 1-1 0-2 1-1 0-2-1-1-1 1-1-1-1 1-1-1 0-2-1-1-1 1-1-1 0-2 1-1 0-2-1-1-1 1-1-1 0-2-1-1-1 1-1-1-1 1-1-1-1 1-1-1-1 1-1-1-1 1-1-1-1 1-1-1-1 1-1-1-1 1-1-1-1 1-1-1-1 1-1-1-1 1-1-1-1 1-1-1-1 1-1-1-1 1-1-1-1 1-1-1-1 1-1-1-1 1-1-1-1 1-1-1-1 1-1-1-1 1-1-1-1 1-1-1-1 1-1-1-1 1-1-1-1 1-1-1-1 1-1-1-1 1-1-1-1 1-1-1-1 1-1-1-1 1 0 2-1 1 0 2zM5 109l1 1 0 2-1 1-1-1 0-2zM63 145l1 1 0 2-1 1-1-1 0-2zM73 115l1 1 1-1 0-2-1-1-1 1z"/>
<path fill="#8ec291" stroke="#8ec291" d="M4 8l0 2-1 1-1-1-1 1 0 2-1 1-1-1-1 1 0 2 1 1 1-1 1 1 0 2-1 1 0 2-1 1 0 2 1 1 0 2-1 1-1-1-1 1 0 2 1 1 0 2-1 1 0 2 1 1 0 2-1 1 0 2 1 1 0 2-1 1 0 2 1 1 0 2-1 1 0 2 1 1 0 2-1 1 0 2 1 1 0 2-1 1 0 2 1 1 0 2-1 1 0 2 1 1 0 2-1 1 0 2 1 1 0 2-1 1 0 2 1 1 0 2-1 1 0 2 1 1 0 2-1 1 0 2 1 1 0 2-1 1 0 2 1 1 0 2 1 1 0 2 1 1 1-1 1 1 0 2 1 1 1-1 0-2 1-1 1 1 0 2-1 1 0 2 1 1 1-1 1 1 1-1 1 1 0 2 1 1 1-1 1 1 1-1 1 1 0 2 1 1 1-1 1 1 0 2 1 1 1-1 1 1 0 2 1 1 1-1 0-2 1-1 1 1 0 2 1 1 1-1 1 1 0 2 1 1 0 2 1 1 1-1 0-2 1-1 1 1 0 2 1 1 0 2 1 1 1-1 1 1 1-1 1 1 1-1 1 1 0 2 1 1 1-1 1 1 1-1 1 1 0 2 1 1 1-1 1 1 0 2 1 1 1-1 0-2 1-1 1 1 0 2 1 1 1-1 1 1 1-1 0-2 1-1 1 1 1-1 0-2-1-1 0-2 1-1 0-2 1-1 0-2 1-1 0-2 1-1 1 1 1-1 1 1 1-1 0-2-1-1-1 1-1-1 0-2 1-1 1 1 1-1 0-2-1-1-1 1-1-1 0-2 1-1 1 1 1-1 0-2 1-1 0-2 1-1 0-2-1-1 0-2 1-1 1 1 1-1 0-2-1-1 0-2 1-1 1 1 1-1 1 1 1-1 0-2-1-1 0-2 1-1 1 1 0 2 1 1 1-1 0-2 1-1 1 1 1-1 0-2 1-1 1 1 1-1 1 1 1-1 0-2 1-1 1 1 1-1 0-2 1-1 1 1 0 2 1 1 1-1 0-2-1-1 0-2 1-1 1 1 0 2 1 1 1-1 0-2-1-1 0-2 1-1 1 1 1-1 0-2-1-1 0-2-1-1 0-2 1-1 1 1 1-1 0-2-1-1 0-2-1-1 0-2-1-1 0-2-1-1-1 1-1-1 0-2 1-1 0-2-1-1-1 1-1-1-1 1-1-1 0-2-1-1-1 1-1-1-1 1-1-1 0-2-1-1-1 1-1-1 0-2-1-1-1 1-1-1-1 1-1-1 0-2 1-1 0-2-1-1-1 1 0 2-1 1-1-1 0-2-1-1 0-2-1-1-1 1-1-1 0-2-1-1 0-2-1-1 0-2-1-1-1 1-1-1 0-2 1-1 0-2-1-1 0-2-1-1 0-2-1-1-1 1-1-1 0-2 1-1 0-2-1-1-1 1 0 2-1 1-1-1 0-2-1-1 0-2 1-1 0-2-1-1-1 1-1-1 0-2-1-1-1 1 0 2-1 1-1-1 0-2-1-1-1 1-1-1 0-2-1-1-1 1-1-1-1 1-1-1-1 1-1-1-1 1-1-1-1 1-1-1-1 1-1-1-1 1-1-1-1 1-1-1-1 1-1-1-1 1-1-1-1 1 0 2-1 1-1-1 0-2-1-1-1 1-1-1-1 1-1-1-1 1-1-1-1 1 0 2-1 1 0 2-1 1-1-1-1 1-1-1 0-2-1-1-1 1 0 2-1 1 0 2-1 1 0 2-1 1-1-1-1 1 0 2zM6 8l1-1 1 1 0 2-1 1-1-1z"/>
<path fill="#85bd91" stroke="#85bd91" d="M3 19l1 1 0 2-1 1 0 2 1 1 0 2-1 1 0 2-1 1 0 2-1 1 0 2-1 1-1-1-1 1 0 2 1 1 0 2-1 1 0 2-1 1 0 2 1 1 0 2-1 1 0 2 1 1 0 2-1 1 0 2 1 1 0 2-1 1 0 2 1 1 0 2-1 1 0 2 1 1 0 2-1 1 0 2 1 1 0 2-1 1 0 2 1 1 0 2-1 1 0 2 1 1 0 2-1 1 0 2 1 1 0 2-1 1 0 2 1 1 0 2 1 1 1-1 1 1 0 2 1 1 1-1 1 1 1-1 1 1 0 2 1 1 0 2 1 1 1-1 1 1 0 2 1 1 1-1 1 1 1-1 1 1 0 2 1 1 1-1 1 1 0 2 1 1 1-1 1 1 0 2 1 1 1-1 0-2 1-1 1 1 0 2 1 1 1-1 1 1 0 2 1 1 1-1 1 1 1-1 1 1 0 2 1 1 1-1 1 1 0 2 1 1 1-1 1 1 1-1 1 1 0 2 1 1 1-1 1 1 1-1 1 1 1-1 1 1 0 2 1 1 1-1 1 1 1-1 1 1 1-1 0-2 1-1 1 1 1-1 0-2-1-1 0-2 1-1 0-2-1-1 0-2 1-1 1 1 1-1 1 1 1-1 0-2-1-1 0-2 1-1 0-2 1-1 0-2 1-1 0-2 1-1 1 1 1-1 0-2-1-1 0-2 1-1 0-2 1-1 0-2 1-1 0-2 1-1 1 1 1-1 0-2 1-1 0-2 1-1 1 1 1-1 0-2 1-1 1 1 1-1 0-2 1-1 1 1 1-1 1 1 1-1 1 1 1-1 0-2 1-1 0-2 1-1 1 1 1-1 1 1 1-1 0-2-1-1 0-2 1-1 1 1 1-1 0-2 1-1 0-2 1-1 0-2-1-1-1 1-1-1 0-2-1-1 0-2 1-1 0-2-1-1-1 1-1-1 0-2-1-1-1 1-1-1 0-2-1-1 0-2-1-1-1 1 0 2-1 1-1-1 0-2-1-1 0-2-1-1-1 1-1-1-1 1-1-1 0-2-1-1-1 1-1-1 0-2-1-1 0-2-1-1-1 1-1-1-1 1-1-1 0-2 1-1 0-2-1-1 0-2-1-1 0-2-1-1-1 1-1-1-1 1-1-1 0-2 1-1 0-2-1-1 0-2-1-1-1 1 0 2-1 1-1-1 0-2-1-1-1 1-1-1 0-2 1-1 0-2-1-1 0-2-1-1-1 1-1-1-1 1-1-1-1 1-1-1 0-2-1-1-1 1-1-1 0-2 1-1 0-2-1-1-1 1 0 2-1 1 0 2-1 1-1-1 0-2-1-1 0-2-1-1-1 1 0 2-1 1-1-1 0-2-1-1 0-2-1-1-1 1-1-1-1 1 0 2-1 1 0 2-1 1-1-1 0-2-1-1-1 1-1-1-1 1 0 2-1 1 0 2-1 1-1-1-1 1-1-1 0-2-1-1 0-2-1-1-1 1 0 2 1 1 0 2 1 1 0 2-1 1-1-1-1 1 0 2-1 1 0 2-1 1-1-1-1 1 0 2-1 1 0 2-1 1-1-1-1 1-1-1-1 1zM39 -5l1 1 1-1 0-2-1-1-1 1zM47 1l1 1 1-1 0-2-1-1-1 1z"/>
<path fill="#7bb991" stroke="#7bb991" d="M4 34l1 1 0 2-1 1 0 2-1 1-1-1-1 1 0 2 1 1 1-1 1 1 0 2-1 1-1-1-1 1 0 2 1 1 0 2-1 1 0 2-1 1 0 2-1 1 0 2 1 1 0 2-1 1 0 2 1 1 0 2-1 1 0 2-1 1 0 2-1 1 0 2 1 1 0 2 1 1 0 2-1 1 0 2-1 1 0 2 1 1 1-1 1 1 0 2-1 1 0 2-1 1 0 2 1 1 0 2-1 1 0 2 1 1 1-1 1 1 0 2 1 1 1-1 1 1 1-1 1 1 0 2 1 1 0 2 1 1 1-1 1 1 0 2 1 1 1-1 1 1 1-1 1 1 0 2 1 1 1-1 1 1 0 2 1 1 1-1 1 1 1-1 1 1 1-1 1 1 0 2 1 1 1-1 1 1 0 2 1 1 1-1 1 1 1-1 1 1 0 2 1 1 1-1 1 1 0 2 1 1 1-1 1 1 1-1 1 1 1-1 1 1 0 2 1 1 1-1 1 1 1-1 1 1 1-1 1 1 0 2 1 1 1-1 0-2 1-1 0-2 1-1 0-2-1-1 0-2 1-1 1 1 1-1 0-2 1-1 0-2 1-1 0-2 1-1 0-2 1-1 0-2-1-1 0-2 1-1 1 1 0 2 1 1 1-1 0-2-1-1 0-2 1-1 0-2-1-1 0-2 1-1 0-2 1-1 1 1 1-1 0-2 1-1 0-2 1-1 0-2 1-1 1 1 1-1 0-2 1-1 0-2 1-1 1 1 0 2 1 1 1-1 0-2 1-1 0-2 1-1 1 1 0 2 1 1 1-1 1 1 1-1 0-2 1-1 0-2 1-1 0-2 1-1 1 1 1-1 0-2 1-1 1 1 1-1 0-2-1-1 0-2 1-1 0-2-1-1-1 1-1-1 0-2 1-1 0-2-1-1-1 1-1-1 0-2-1-1-1 1-1-1 0-2-1-1 0-2-1-1-1 1-1-1-1 1-1-1 0-2-1-1-1 1-1-1 0-2-1-1-1 1-1-1 0-2-1-1-1 1-1-1 0-2-1-1 0-2-1-1 0-2-1-1-1 1-1-1 0-2-1-1-1 1-1-1 0-2 1-1 0-2-1-1-1 1 0 2-1 1-1-1 0-2 1-1 0-2-1-1-1 1-1-1 0-2-1-1 0-2-1-1-1 1-1-1 0-2-1-1-1 1-1-1 0-2-1-1 0-2-1-1-1 1 0 2-1 1-1-1 0-2 1-1 0-2-1-1-1 1 0 2-1 1-1-1-1 1 0 2-1 1-1-1 0-2 1-1 0-2 1-1 0-2-1-1-1 1 0 2-1 1 0 2-1 1-1-1 0-2-1-1 0-2-1-1-1 1 0 2-1 1-1-1-1 1-1-1-1 1-1-1-1 1 0 2-1 1-1-1-1 1 0 2-1 1-1-1-1 1 0 2 1 1 0 2-1 1-1-1 0-2-1-1-1 1 0 2 1 1 0 2-1 1-1-1-1 1 0 2-1 1-1-1-1 1-1-1-1 1 0 2 1 1 0 2 1 1 0 2-1 1-1-1 0-2-1-1-1 1 0 2 1 1 0 2-1 1-1-1-1 1z"/>
<path fill="#72b490" stroke="#72b490" d="M8 38l0 2-1 1-1-1-1 1 0 2 1 1 0 2-1 1 0 2-1 1 0 2-1 1 0 2 1 1 0 2-1 1 0 2-1 1 0 2-1 1 0 2 1 1 0 2-1 1 0 2 1 1 0 2-1 1 0 2-1 1 0 2 1 1 0 2-1 1 0 2 1 1 0 2 1 1 0 2-1 1-1-1-1 1 0 2 1 1 1-1 1 1 0 2-1 1 0 2-1 1 0 2 1 1 1-1 0-2 1-1 1 1 0 2-1 1 0 2 1 1 1-1 1 1 0 2 1 1 1-1 1 1 0 2 1 1 1-1 1 1 0 2 1 1 1-1 1 1 0 2 1 1 1-1 1 1 0 2 1 1 1-1 1 1 1-1 1 1 1-1 1 1 0 2 1 1 1-1 1 1 0 2 1 1 1-1 1 1 1-1 1 1 0 2 1 1 1-1 1 1 1-1 1 1 0 2 1 1 1-1 1 1 1-1 1 1 1-1 1 1 0 2 1 1 1-1 1 1 1-1 0-2-1-1 0-2 1-1 1 1 1-1 1 1 1-1 0-2-1-1 0-2-1-1 0-2 1-1 1 1 1-1 1 1 1-1 0-2 1-1 0-2-1-1 0-2 1-1 1 1 1-1 0-2 1-1 0-2-1-1 0-2 1-1 1 1 1-1 0-2-1-1 0-2 1-1 0-2 1-1 0-2 1-1 1 1 1-1 0-2 1-1 1 1 1-1 1 1 1-1 0-2 1-1 0-2 1-1 1 1 1-1 0-2-1-1 0-2 1-1 1 1 0 2 1 1 1-1 1 1 1-1 0-2 1-1 1 1 1-1 0-2 1-1 0-2 1-1 1 1 1-1 0-2 1-1 0-2-1-1-1 1-1-1 0-2 1-1 1 1 1-1 0-2-1-1-1 1-1-1 0-2-1-1 0-2-1-1-1 1-1-1 0-2-1-1 0-2-1-1-1 1-1-1 0-2-1-1-1 1-1-1-1 1-1-1 0-2-1-1-1 1-1-1 0-2-1-1-1 1-1-1 0-2-1-1-1 1-1-1 0-2-1-1-1 1-1-1 0-2-1-1 0-2-1-1 0-2-1-1-1 1-1-1 0-2 1-1 0-2-1-1-1 1-1-1-1 1-1-1 0-2-1-1-1 1-1-1 0-2-1-1 0-2-1-1-1 1-1-1-1 1-1-1-1 1-1-1 0-2-1-1-1 1-1-1-1 1 0 2-1 1-1-1-1 1-1-1-1 1-1-1 0-2-1-1 0-2-1-1-1 1 0 2-1 1 0 2-1 1-1-1 0-2-1-1-1 1 0 2 1 1 0 2-1 1 0 2-1 1 0 2-1 1-1-1 0-2 1-1 0-2 1-1 0-2-1-1-1 1 0 2-1 1 0 2-1 1 0 2-1 1 0 2-1 1 0 2-1 1-1-1-1 1-1-1-1 1 0 2-1 1 0 2-1 1 0 2-1 1 0 2zM37 13l0-2 1-1 1 1 0 2-1 1zM4 32l0 2 1 1 1-1 0-2-1-1z"/>
<path fill="#69b090" stroke="#69b090" d="M10 32l0 2 1 1 1-1 0-2-1-1zM9 41l1-1 0-2-1-1-1 1 0 2-1 1 0 2 1 1 0 2-1 1 0 2 1 1 0 2-1 1 0 2-1 1 0 2-1 1 0 2-1 1 0 2 1 1 0 2 1 1 0 2-1 1 0 2-1 1-1-1-1 1 0 2 1 1 1-1 1 1 0 2-1 1 0 2-1 1 0 2-1 1 0 2 1 1 0 2-1 1 0 2 1 1 0 2 1 1 0 2 1 1 0 2-1 1 0 2 1 1 0 2 1 1 1-1 1 1 0 2 1 1 1-1 1 1 0 2 1 1 0 2 1 1 1-1 1 1 0 2 1 1 1-1 1 1 1-1 1 1 0 2 1 1 1-1 1 1 1-1 1 1 0 2 1 1 1-1 1 1 0 2 1 1 1-1 1 1 1-1 1 1 1-1 1 1 0 2 1 1 1-1 1 1 1-1 1 1 0 2 1 1 1-1 1 1 1-1 0-2 1-1 1 1 0 2 1 1 1-1 0-2 1-1 0-2 1-1 0-2 1-1 0-2 1-1 0-2 1-1 0-2 1-1 1 1 1-1 0-2-1-1 0-2 1-1 1 1 1-1 0-2-1-1 0-2 1-1 0-2 1-1 1 1 1-1 0-2-1-1 0-2 1-1 1 1 1-1 0-2 1-1 0-2 1-1 0-2 1-1 1 1 1-1 0-2 1-1 1 1 1-1 0-2 1-1 1 1 1-1 0-2 1-1 1 1 1-1 1 1 1-1 1 1 1-1 0-2-1-1 0-2 1-1 0-2 1-1 1 1 1-1 1 1 1-1 0-2-1-1 0-2-1-1-1 1-1-1 0-2 1-1 0-2 1-1 0-2-1-1-1 1-1-1-1 1-1-1-1 1-1-1 0-2-1-1 0-2-1-1-1 1-1-1-1 1-1-1 0-2-1-1-1 1-1-1 0-2-1-1 0-2-1-1-1 1-1-1 0-2-1-1-1 1-1-1 0-2-1-1 0-2-1-1 0-2-1-1-1 1-1-1-1 1-1-1 0-2-1-1 0-2-1-1-1 1-1-1 0-2-1-1-1 1-1-1 0-2-1-1-1 1-1-1-1 1-1-1-1 1-1-1 0-2-1-1-1 1-1-1-1 1-1-1 0-2-1-1-1 1-1-1-1 1 0 2-1 1 0 2-1 1-1-1 0-2-1-1-1 1-1-1-1 1 0 2 1 1 0 2-1 1-1-1 0-2-1-1-1 1 0 2-1 1-1-1-1 1 0 2-1 1 0 2-1 1-1-1-1 1 0 2-1 1 0 2 1 1 1-1 1 1 0 2-1 1-1-1-1 1 0 2-1 1 0 2-1 1 0 2-1 1-1-1zM33 13l1 1 0 2-1 1-1-1 0-2z"/>
<path fill="#61aa90" stroke="#61aa90" d="M10 46l0-2-1-1 0-2-1-1-1 1 0 2 1 1 0 2 1 1zM12 44l0 2-1 1 0 2-1 1-1-1-1 1 0 2-1 1 0 2 1 1 0 2-1 1-1-1-1 1 0 2 1 1 1-1 1 1 0 2-1 1 0 2-1 1 0 2-1 1 0 2 1 1 0 2-1 1 0 2 1 1 0 2-1 1 0 2-1 1 0 2 1 1 0 2-1 1 0 2 1 1 0 2 1 1 0 2 1 1 0 2-1 1 0 2 1 1 0 2 1 1 0 2 1 1 1-1 1 1 0 2 1 1 1-1 1 1 0 2 1 1 1-1 1 1 0 2 1 1 1-1 1 1 0 2 1 1 1-1 1 1 1-1 1 1 0 2 1 1 1-1 1 1 1-1 1 1 0 2 1 1 1-1 1 1 1-1 1 1 0 2 1 1 1-1 1 1 1-1 1 1 1-1 1 1 0 2 1 1 1-1 0-2-1-1 0-2 1-1 1 1 1-1 0-2 1-1 1 1 1-1 0-2 1-1 0-2 1-1 0-2 1-1 0-2 1-1 1 1 1-1 0-2 1-1 0-2 1-1 0-2-1-1 0-2 1-1 1 1 1-1 0-2 1-1 0-2 1-1 0-2 1-1 0-2 1-1 0-2 1-1 0-2 1-1 1 1 1-1 0-2 1-1 1 1 1-1 1 1 1-1 0-2 1-1 0-2 1-1 1 1 1-1 1 1 1-1 0-2 1-1 1 1 1-1 0-2 1-1 0-2-1-1 0-2-1-1 0-2 1-1 0-2-1-1-1 1-1-1 0-2-1-1 0-2-1-1-1 1 0 2-1 1-1-1 0-2 1-1 0-2-1-1-1 1-1-1-1 1-1-1 0-2-1-1-1 1-1-1 0-2-1-1 0-2-1-1-1 1-1-1-1 1-1-1 0-2-1-1 0-2-1-1-1 1-1-1-1 1-1-1 0-2 1-1 1 1 1-1 0-2-1-1-1 1-1-1-1 1-1-1-1 1-1-1 0-2 1-1 0-2-1-1 0-2-1-1-1 1 0 2-1 1-1-1 0-2-1-1 0-2-1-1-1 1-1-1-1 1-1-1-1 1 0 2-1 1-1-1 0-2 1-1 0-2-1-1-1 1 0 2-1 1-1-1-1 1-1-1 0-2-1-1-1 1 0 2-1 1 0 2 1 1 0 2-1 1-1-1 0-2-1-1-1 1-1-1-1 1-1-1-1 1 0 2-1 1 0 2-1 1-1-1-1 1-1-1-1 1 0 2 1 1 1-1 1 1 0 2-1 1-1-1-1 1 0 2-1 1 0 2-1 1 0 2-1 1-1-1-1 1 0 2z"/>
<path fill="#5aa690" stroke="#5aa690" d="M13 47l-1-1-1 1 0 2 1 1 0 2-1 1 0 2-1 1-1-1-1 1 0 2 1 1 0 2 1 1 0 2-1 1 0 2-1 1 0 2-1 1 0 2-1 1 0 2 1 1 0 2 1 1 0 2-1 1 0 2 1 1 0 2-1 1 0 2 1 1 0 2 1 1 0 2-1 1 0 2-1 1 0 2 1 1 0 2-1 1 0 2 1 1 0 2 1 1 1-1 1 1 1-1 1 1 0 2 1 1 0 2 1 1 1-1 1 1 0 2 1 1 1-1 1 1 0 2 1 1 1-1 1 1 1-1 1 1 0 2 1 1 1-1 1 1 1-1 1 1 0 2 1 1 1-1 1 1 1-1 1 1 1-1 1 1 0 2 1 1 1-1 1 1 1-1 1 1 1-1 0-2 1-1 0-2-1-1 0-2 1-1 1 1 1-1 1 1 1-1 1 1 1-1 0-2 1-1 0-2 1-1 0-2 1-1 0-2 1-1 0-2 1-1 0-2 1-1 0-2 1-1 0-2 1-1 0-2 1-1 0-2 1-1 0-2 1-1 1 1 1-1 0-2 1-1 0-2 1-1 1 1 1-1 0-2 1-1 1 1 1-1 0-2 1-1 1 1 1-1 0-2 1-1 0-2 1-1 1 1 1-1 0-2 1-1 1 1 1-1 1 1 1-1 0-2-1-1 0-2-1-1 0-2-1-1-1 1-1-1 0-2-1-1-1 1-1-1 0-2-1-1 0-2-1-1 0-2-1-1-1 1-1-1-1 1-1-1 0-2-1-1-1 1-1-1 0-2-1-1 0-2-1-1-1 1-1-1-1 1-1-1 0-2-1-1 0-2-1-1-1 1-1-1-1 1-1-1 0-2 1-1 0-2-1-1-1 1-1-1 0-2-1-1-1 1-1-1 0-2-1-1-1 1 0 2 1 1 0 2-1 1-1-1 0-2-1-1 0-2-1-1-1 1 0 2-1 1-1-1 0-2 1-1 0-2-1-1-1 1-1-1-1 1-1-1-1 1 0 2-1 1-1-1-1 1-1-1-1 1 0 2-1 1-1-1-1 1-1-1-1 1-1-1-1 1 0 2-1 1 0 2-1 1-1-1-1 1 0 2-1 1 0 2-1 1-1-1-1 1 0 2 1 1 0 2-1 1 0 2z"/>
<path fill="#53a190" stroke="#53a190" d="M13 53l-1-1-1 1 0 2-1 1 0 2 1 1 0 2 1 1 0 2-1 1 0 2-1 1 0 2-1 1 0 2-1 1 0 2 1 1 0 2-1 1 0 2-1 1 0 2 1 1 1-1 1 1 0 2-1 1-1-1-1 1 0 2 1 1 1-1 1 1 0 2-1 1 0 2 1 1 0 2-1 1 0 2 1 1 1-1 1 1 0 2-1 1-1-1-1 1 0 2 1 1 1-1 1 1 0 2 1 1 0 2 1 1 1-1 1 1 0 2 1 1 1-1 1 1 0 2 1 1 1-1 1 1 0 2 1 1 1-1 1 1 0 2 1 1 1-1 1 1 1-1 1 1 0 2 1 1 1-1 1 1 1-1 1 1 1-1 1 1 0 2 1 1 1-1 1 1 1-1 0-2 1-1 0-2 1-1 0-2 1-1 1 1 1-1 0-2 1-1 0-2 1-1 1 1 1-1 0-2 1-1 0-2 1-1 1 1 1-1 0-2-1-1 0-2 1-1 1 1 1-1 0-2 1-1 0-2-1-1 0-2 1-1 1 1 1-1 0-2 1-1 0-2 1-1 0-2 1-1 1 1 1-1 0-2 1-1 0-2 1-1 0-2 1-1 1 1 1-1 1 1 1-1 0-2 1-1 1 1 1-1 0-2-1-1 0-2 1-1 0-2 1-1 1 1 0 2 1 1 1-1 0-2-1-1 0-2-1-1 0-2-1-1 0-2-1-1 0-2-1-1-1 1-1-1-1 1-1-1 0-2-1-1 0-2-1-1-1 1-1-1 0-2-1-1 0-2-1-1-1 1-1-1-1 1-1-1 0-2-1-1-1 1-1-1 0-2-1-1 0-2-1-1-1 1-1-1 0-2 1-1 0-2-1-1-1 1 0 2-1 1-1-1 0-2-1-1-1 1-1-1-1 1-1-1 0-2-1-1-1 1-1-1-1 1-1-1 0-2-1-1-1 1-1-1-1 1 0 2 1 1 0 2-1 1-1-1 0-2-1-1-1 1-1-1-1 1-1-1-1 1-1-1-1 1 0 2-1 1-1-1-1 1-1-1-1 1 0 2-1 1 0 2 1 1 0 2-1 1-1-1-1 1 0 2-1 1 0 2-1 1-1-1-1 1 0 2-1 1 0 2 1 1 0 2z"/>
<path fill="#4d9c90" stroke="#4d9c90" d="M15 49l0-2-1-1-1 1 0 2 1 1 0 2 1 1 0 2-1 1-1-1-1 1 0 2 1 1 0 2-1 1 0 2-1 1 0 2-1 1 0 2 1 1 0 2-1 1 0 2-1 1 0 2 1 1 0 2 1 1 0 2-1 1 0 2-1 1 0 2 1 1 1-1 1 1 0 2-1 1 0 2 1 1 0 2-1 1-1-1-1 1 0 2 1 1 1-1 1 1 0 2 1 1 0 2-1 1 0 2 1 1 1-1 1 1 0 2 1 1 0 2 1 1 1-1 1 1 0 2 1 1 1-1 1 1 0 2 1 1 1-1 1 1 1-1 1 1 0 2 1 1 1-1 1 1 1-1 1 1 0 2 1 1 1-1 1 1 1-1 1 1 1-1 1 1 1-1 0-2 1-1 1 1 1-1 0-2 1-1 0-2 1-1 1 1 1-1 0-2 1-1 0-2 1-1 1 1 1-1 0-2-1-1 0-2 1-1 1 1 1-1 0-2 1-1 0-2 1-1 1 1 1-1 0-2-1-1 0-2 1-1 0-2 1-1 1 1 1-1 0-2 1-1 0-2 1-1 0-2 1-1 0-2-1-1 0-2 1-1 1 1 0 2 1 1 1-1 0-2 1-1 0-2 1-1 1 1 1-1 0-2 1-1 0-2 1-1 1 1 1-1 0-2 1-1 1 1 1-1 0-2-1-1-1 1-1-1 0-2-1-1 0-2-1-1-1 1-1-1 0-2-1-1 0-2-1-1-1 1-1-1-1 1-1-1 0-2-1-1-1 1-1-1 0-2-1-1-1 1-1-1 0-2-1-1 0-2-1-1 0-2-1-1-1 1-1-1-1 1-1-1 0-2-1-1-1 1-1-1 0-2-1-1 0-2-1-1-1 1-1-1 0-2-1-1-1 1 0 2-1 1-1-1-1 1-1-1 0-2-1-1-1 1 0 2-1 1-1-1-1 1-1-1 0-2-1-1-1 1 0 2-1 1 0 2-1 1-1-1-1 1-1-1-1 1 0 2-1 1-1-1-1 1 0 2-1 1-1-1-1 1 0 2 1 1 0 2-1 1-1-1-1 1 0 2 1 1 0 2-1 1z"/>
<path fill="#47978f" stroke="#47978f" d="M17 49l-1 1 0 2-1 1 0 2-1 1 0 2-1 1 0 2 1 1 0 2-1 1 0 2-1 1 0 2-1 1 0 2 1 1 0 2-1 1 0 2-1 1 0 2 1 1 0 2-1 1 0 2 1 1 0 2 1 1 0 2-1 1 0 2 1 1 0 2 1 1 0 2 1 1 1-1 1 1 0 2-1 1 0 2 1 1 0 2-1 1 0 2 1 1 0 2 1 1 1-1 1 1 0 2 1 1 1-1 1 1 1-1 1 1 0 2 1 1 1-1 1 1 0 2 1 1 1-1 1 1 1-1 1 1 0 2 1 1 1-1 1 1 1-1 0-2 1-1 1 1 1-1 1 1 1-1 0-2 1-1 1 1 1-1 0-2 1-1 0-2 1-1 1 1 1-1 0-2 1-1 0-2 1-1 0-2 1-1 0-2 1-1 1 1 1-1 0-2 1-1 0-2 1-1 0-2 1-1 0-2 1-1 0-2 1-1 0-2 1-1 0-2 1-1 1 1 1-1 0-2-1-1 0-2 1-1 1 1 1-1 1 1 1-1 0-2 1-1 0-2 1-1 1 1 1-1 0-2 1-1 0-2 1-1 0-2-1-1 0-2-1-1-1 1-1-1 0-2 1-1 0-2-1-1-1 1-1-1 0-2-1-1-1 1-1-1 0-2-1-1-1 1-1-1 0-2-1-1-1 1-1-1 0-2-1-1-1 1-1-1 0-2 1-1 0-2-1-1-1 1 0 2-1 1-1-1 0-2-1-1 0-2-1-1-1 1-1-1 0-2-1-1-1 1 0 2-1 1-1-1 0-2-1-1 0-2-1-1-1 1 0 2-1 1-1-1 0-2-1-1-1 1 0 2-1 1-1-1-1 1-1-1-1 1-1-1-1 1 0 2-1 1-1-1-1 1 0 2-1 1-1-1-1 1-1-1-1 1 0 2-1 1 0 2-1 1-1-1-1 1-1-1-1 1 0 2 1 1z"/>
<path fill="#41928f" stroke="#41928f" d="M20 52l-1 1-1-1-1 1 0 2 1 1 0 2-1 1-1-1-1 1 0 2-1 1 0 2-1 1 0 2 1 1 0 2-1 1 0 2-1 1 0 2 1 1 1-1 1 1 0 2-1 1 0 2-1 1 0 2-1 1 0 2 1 1 0 2-1 1 0 2 1 1 1-1 1 1 0 2-1 1 0 2 1 1 0 2 1 1 0 2 1 1 0 2 1 1 0 2-1 1 0 2 1 1 1-1 1 1 0 2-1 1 0 2 1 1 1-1 1 1 1-1 1 1 0 2 1 1 1-1 1 1 0 2 1 1 1-1 1 1 1-1 1 1 1-1 1 1 1-1 1 1 1-1 1 1 1-1 0-2 1-1 1 1 1-1 0-2 1-1 1 1 1-1 0-2 1-1 0-2 1-1 1 1 1-1 0-2-1-1 0-2 1-1 0-2 1-1 1 1 1-1 0-2 1-1 1 1 1-1 0-2-1-1 0-2 1-1 0-2 1-1 0-2 1-1 1 1 1-1 0-2-1-1 0-2 1-1 1 1 1-1 0-2 1-1 0-2 1-1 1 1 1-1 0-2 1-1 1 1 1-1 0-2 1-1 1 1 1-1 0-2 1-1 0-2-1-1 0-2-1-1 0-2-1-1-1 1-1-1 0-2-1-1 0-2-1-1 0-2-1-1-1 1-1-1 0-2-1-1-1 1-1-1 0-2-1-1-1 1-1-1 0-2-1-1 0-2-1-1-1 1-1-1 0-2-1-1-1 1-1-1 0-2-1-1-1 1-1-1-1 1-1-1-1 1-1-1 0-2-1-1-1 1 0 2-1 1-1-1-1 1-1-1-1 1-1-1-1 1-1-1 0-2-1-1-1 1 0 2-1 1-1-1-1 1 0 2-1 1-1-1-1 1-1-1-1 1 0 2-1 1 0 2-1 1 0 2-1 1 0 2 1 1z"/>
<path fill="#3c8c8e" stroke="#3c8c8e" d="M19 53l-1-1-1 1 0 2 1 1 0 2 1 1 0 2-1 1 0 2-1 1-1-1-1 1 0 2-1 1 0 2 1 1 0 2-1 1 0 2 1 1 0 2 1 1 0 2-1 1-1-1-1 1 0 2 1 1 0 2-1 1 0 2 1 1 0 2 1 1 0 2-1 1 0 2 1 1 0 2 1 1 1-1 1 1 0 2-1 1 0 2 1 1 0 2-1 1 0 2 1 1 1-1 1 1 0 2 1 1 0 2 1 1 1-1 1 1 0 2 1 1 1-1 1 1 1-1 1 1 0 2 1 1 1-1 1 1 1-1 1 1 1-1 1 1 1-1 1 1 1-1 0-2 1-1 0-2 1-1 1 1 1-1 0-2 1-1 0-2 1-1 0-2 1-1 1 1 1-1 0-2 1-1 0-2 1-1 1 1 1-1 0-2 1-1 0-2 1-1 0-2 1-1 0-2 1-1 0-2 1-1 1 1 1-1 0-2-1-1 0-2 1-1 0-2 1-1 0-2 1-1 1 1 1-1 0-2 1-1 1 1 1-1 0-2-1-1 0-2 1-1 1 1 1-1 0-2-1-1 0-2 1-1 1 1 1-1 0-2-1-1-1 1-1-1-1 1-1-1 0-2 1-1 0-2-1-1-1 1-1-1 0-2-1-1-1 1-1-1 0-2-1-1 0-2-1-1-1 1-1-1 0-2-1-1 0-2-1-1-1 1-1-1-1 1-1-1 0-2-1-1-1 1-1-1-1 1-1-1-1 1-1-1 0-2-1-1-1 1-1-1-1 1-1-1-1 1 0 2-1 1-1-1 0-2-1-1-1 1 0 2-1 1-1-1-1 1-1-1-1 1 0 2-1 1-1-1-1 1 0 2-1 1-1-1-1 1-1-1-1 1 0 2-1 1 0 2 1 1 0 2zM16 100l0-2 1-1 1 1 0 2-1 1z"/>
<path fill="#37888d" stroke="#37888d" d="M19 55l1 1 0 2-1 1 0 2-1 1 0 2-1 1 0 2 1 1 0 2-1 1 0 2 1 1 0 2-1 1 0 2-1 1 0 2-1 1 0 2-1 1 0 2 1 1 0 2-1 1 0 2 1 1 0 2 1 1 1-1 1 1 0 2 1 1 0 2-1 1 0 2 1 1 0 2 1 1 0 2 1 1 0 2 1 1 0 2-1 1 0 2 1 1 1-1 1 1 0 2 1 1 1-1 1 1 1-1 1 1 0 2 1 1 1-1 1 1 1-1 1 1 1-1 0-2 1-1 1 1 1-1 0-2 1-1 1 1 1-1 1 1 1-1 0-2-1-1 0-2 1-1 1 1 1-1 0-2 1-1 1 1 1-1 0-2 1-1 0-2 1-1 0-2 1-1 0-2 1-1 1 1 1-1 0-2 1-1 0-2 1-1 0-2 1-1 0-2 1-1 0-2 1-1 0-2 1-1 0-2 1-1 0-2 1-1 0-2 1-1 0-2 1-1 1 1 1-1 1 1 1-1 0-2-1-1 0-2-1-1-1 1-1-1 0-2 1-1 0-2-1-1-1 1-1-1 0-2-1-1 0-2-1-1 0-2-1-1-1 1-1-1 0-2-1-1-1 1-1-1 0-2-1-1 0-2-1-1-1 1 0 2-1 1-1-1 0-2-1-1 0-2-1-1-1 1-1-1-1 1 0 2-1 1-1-1-1 1-1-1 0-2 1-1 0-2-1-1-1 1-1-1-1 1 0 2-1 1-1-1 0-2-1-1-1 1 0 2-1 1 0 2-1 1-1-1-1 1-1-1-1 1 0 2-1 1 0 2-1 1 0 2-1 1-1-1-1 1 0 2-1 1-1-1-1 1zM18 112l-1 1 0 2 1 1 1-1 0-2z"/>
<path fill="#31828d" stroke="#31828d" d="M21 59l-1-1-1 1 0 2 1 1 0 2-1 1 0 2-1 1 0 2 1 1 0 2-1 1 0 2-1 1 0 2 1 1 0 2-1 1 0 2-1 1 0 2 1 1 0 2 1 1 0 2 1 1 0 2 1 1 0 2-1 1 0 2 1 1 0 2 1 1 0 2 1 1 0 2-1 1 0 2 1 1 0 2-1 1 0 2 1 1 1-1 1 1 1-1 1 1 0 2 1 1 1-1 1 1 0 2 1 1 1-1 0-2 1-1 1 1 0 2 1 1 1-1 0-2 1-1 1 1 1-1 0-2 1-1 1 1 1-1 0-2 1-1 0-2 1-1 1 1 1-1 0-2 1-1 1 1 1-1 0-2 1-1 0-2 1-1 0-2 1-1 0-2 1-1 0-2 1-1 0-2 1-1 0-2 1-1 0-2 1-1 0-2-1-1 0-2 1-1 1 1 1-1 0-2 1-1 0-2 1-1 1 1 1-1 0-2-1-1 0-2 1-1 0-2 1-1 1 1 0 2 1 1 1-1 0-2 1-1 0-2-1-1-1 1-1-1 0-2 1-1 0-2-1-1-1 1-1-1 0-2-1-1-1 1-1-1 0-2-1-1 0-2-1-1 0-2-1-1-1 1 0 2-1 1-1-1 0-2-1-1-1 1-1-1 0-2-1-1-1 1-1-1 0-2-1-1-1 1-1-1-1 1-1-1-1 1-1-1 0-2-1-1-1 1-1-1-1 1 0 2-1 1-1-1-1 1-1-1-1 1-1-1-1 1 0 2-1 1-1-1-1 1 0 2-1 1 0 2-1 1-1-1-1 1 0 2-1 1 0 2 1 1 0 2zM18 86l1-1 1 1 0 2-1 1-1-1z"/>
<path fill="#2c7e8c" stroke="#2c7e8c" d="M22 56l0 2-1 1-1-1-1 1 0 2 1 1 0 2-1 1 0 2 1 1 0 2-1 1 0 2 1 1 0 2-1 1 0 2-1 1 0 2 1 1 0 2 1 1 0 2 1 1 0 2-1 1 0 2-1 1 0 2 1 1 0 2 1 1 0 2-1 1 0 2 1 1 0 2 1 1 0 2-1 1 0 2 1 1 0 2-1 1 0 2 1 1 1-1 0-2 1-1 1 1 0 2 1 1 1-1 1 1 0 2 1 1 1-1 1 1 1-1 1 1 1-1 0-2 1-1 1 1 1-1 0-2 1-1 1 1 1-1 0-2 1-1 1 1 1-1 0-2 1-1 1 1 1-1 0-2 1-1 1 1 1-1 0-2 1-1 0-2-1-1 0-2 1-1 0-2 1-1 1 1 1-1 0-2-1-1 0-2 1-1 1 1 1-1 0-2-1-1 0-2 1-1 0-2 1-1 1 1 1-1 0-2 1-1 0-2 1-1 1 1 1-1 0-2-1-1 0-2 1-1 0-2 1-1 0-2 1-1 0-2-1-1 0-2-1-1 0-2-1-1-1 1-1-1 0-2-1-1-1 1-1-1 0-2-1-1-1 1-1-1-1 1-1-1 0-2-1-1 0-2-1-1-1 1 0 2-1 1-1-1 0-2-1-1 0-2-1-1-1 1-1-1-1 1-1-1-1 1-1-1-1 1-1-1-1 1-1-1-1 1 0 2-1 1-1-1-1 1 0 2-1 1-1-1 0-2-1-1-1 1 0 2-1 1 0 2-1 1 0 2-1 1 0 2z"/>
<path fill="#26788c" stroke="#26788c" d="M24 56l0 2-1 1-1-1-1 1 0 2-1 1 0 2 1 1 0 2-1 1 0 2-1 1 0 2 1 1 0 2-1 1 0 2 1 1 0 2-1 1 0 2 1 1 0 2 1 1 0 2-1 1 0 2-1 1 0 2 1 1 1-1 1 1 0 2 1 1 0 2-1 1 0 2-1 1 0 2 1 1 0 2-1 1 0 2 1 1 1-1 1 1 0 2 1 1 0 2 1 1 1-1 1 1 1-1 1 1 0 2 1 1 1-1 0-2 1-1 1 1 1-1 1 1 1-1 0-2 1-1 1 1 1-1 0-2 1-1 1 1 1-1 0-2 1-1 0-2 1-1 1 1 1-1 0-2 1-1 0-2 1-1 0-2 1-1 0-2 1-1 0-2 1-1 0-2 1-1 0-2 1-1 0-2 1-1 0-2 1-1 0-2 1-1 0-2 1-1 0-2 1-1 1 1 1-1 0-2 1-1 0-2-1-1-1 1-1-1 0-2 1-1 1 1 1-1 1 1 1-1 0-2-1-1 0-2-1-1-1 1-1-1 0-2-1-1-1 1-1-1-1 1-1-1 0-2 1-1 0-2-1-1-1 1-1-1-1 1-1-1-1 1-1-1 0-2-1-1-1 1-1-1-1 1-1-1 0-2-1-1-1 1-1-1 0-2-1-1-1 1-1-1-1 1 0 2-1 1-1-1 0-2-1-1-1 1 0 2 1 1 0 2-1 1-1-1-1 1 0 2-1 1-1-1-1 1-1-1-1 1-1-1-1 1 0 2-1 1 0 2zM26 52l1 1 0 2-1 1-1-1 0-2z"/>
<path fill="#22748b" stroke="#22748b" d="M23 61l-1 1 0 2-1 1 0 2-1 1 0 2 1 1 0 2 1 1 0 2-1 1 0 2-1 1 0 2 1 1 0 2-1 1 0 2 1 1 0 2-1 1 0 2 1 1 1-1 1 1 0 2-1 1 0 2 1 1 0 2 1 1 0 2-1 1 0 2 1 1 0 2-1 1 0 2 1 1 1-1 1 1 0 2 1 1 0 2 1 1 1-1 1 1 1-1 1 1 1-1 0-2 1-1 1 1 1-1 0-2 1-1 1 1 1-1 1 1 1-1 0-2 1-1 1 1 1-1 0-2 1-1 0-2 1-1 1 1 1-1 0-2 1-1 0-2 1-1 0-2 1-1 0-2 1-1 0-2 1-1 0-2 1-1 0-2 1-1 0-2 1-1 0-2 1-1 0-2 1-1 0-2 1-1 1 1 1-1 0-2 1-1 0-2-1-1-1 1-1-1 0-2 1-1 1 1 1-1 0-2-1-1-1 1-1-1-1 1-1-1 0-2 1-1 0-2-1-1-1 1-1-1 0-2-1-1-1 1-1-1 0-2-1-1-1 1-1-1 0-2-1-1-1 1-1-1-1 1-1-1 0-2-1-1-1 1-1-1-1 1-1-1-1 1-1-1-1 1 0 2-1 1 0 2-1 1-1-1 0-2-1-1-1 1 0 2-1 1-1-1-1 1 0 2-1 1 0 2-1 1-1-1 0-2-1-1-1 1 0 2 1 1 0 2-1 1zM24 64l0-2 1-1 1 1 0 2-1 1z"/>
<path fill="#1e6e8a" stroke="#1e6e8a" d="M25 59l0 2 1 1 0 2-1 1-1-1-1 1 0 2-1 1 0 2 1 1 0 2-1 1 0 2 1 1 0 2 1 1 0 2-1 1 0 2 1 1 0 2 1 1 0 2-1 1 0 2-1 1 0 2-1 1 0 2 1 1 1-1 1 1 0 2-1 1 0 2 1 1 0 2-1 1 0 2 1 1 0 2 1 1 1-1 1 1 0 2 1 1 1-1 1 1 1-1 1 1 1-1 1 1 1-1 0-2 1-1 1 1 1-1 1 1 1-1 0-2 1-1 1 1 1-1 0-2 1-1 0-2 1-1 1 1 1-1 0-2 1-1 0-2 1-1 0-2 1-1 0-2 1-1 0-2 1-1 0-2-1-1 0-2 1-1 0-2 1-1 0-2 1-1 0-2 1-1 1 1 1-1 0-2 1-1 0-2-1-1 0-2 1-1 0-2 1-1 0-2-1-1-1 1-1-1 0-2-1-1-1 1-1-1 0-2-1-1 0-2-1-1-1 1-1-1 0-2-1-1 0-2-1-1-1 1-1-1-1 1-1-1-1 1-1-1-1 1-1-1-1 1-1-1 0-2-1-1-1 1 0 2-1 1 0 2-1 1-1-1 0-2-1-1-1 1 0 2-1 1 0 2-1 1-1-1-1 1 0 2-1 1 0 2z"/>
<path fill="#1c6989" stroke="#1c6989" d="M26 58l-1 1 0 2 1 1 0 2-1 1 0 2 1 1 0 2-1 1-1-1-1 1 0 2-1 1 0 2 1 1 0 2 1 1 0 2-1 1 0 2 1 1 0 2 1 1 0 2-1 1 0 2-1 1 0 2 1 1 1-1 0-2 1-1 1 1 0 2-1 1 0 2-1 1 0 2-1 1 0 2 1 1 0 2-1 1 0 2 1 1 1-1 1 1 0 2 1 1 0 2 1 1 1-1 1 1 1-1 0-2 1-1 1 1 0 2 1 1 1-1 0-2 1-1 1 1 1-1 0-2 1-1 1 1 1-1 0-2 1-1 0-2 1-1 0-2 1-1 1 1 1-1 0-2-1-1 0-2 1-1 1 1 1-1 0-2 1-1 1 1 1-1 0-2-1-1 0-2 1-1 0-2 1-1 0-2 1-1 0-2 1-1 0-2 1-1 1 1 1-1 0-2-1-1 0-2-1-1 0-2 1-1 1 1 1-1 0-2-1-1-1 1-1-1 0-2-1-1 0-2-1-1 0-2-1-1-1 1-1-1 0-2-1-1 0-2-1-1-1 1-1-1-1 1-1-1-1 1-1-1 0-2-1-1-1 1 0 2-1 1-1-1 0-2-1-1-1 1 0 2-1 1-1-1-1 1-1-1-1 1 0 2-1 1-1-1-1 1-1-1-1 1 0 2 1 1 0 2-1 1zM26 76l-1 1-1-1 0-2 1-1 1 1z"/>
<path fill="#1c6388" stroke="#1c6388" d="M30 58l1 1 0 2-1 1-1-1 0-2-1-1-1 1 0 2-1 1 0 2 1 1 0 2 1 1 0 2-1 1-1-1-1 1 0 2 1 1 0 2-1 1-1-1-1 1 0 2 1 1 0 2 1 1 0 2-1 1 0 2 1 1 0 2 1 1 0 2 1 1 0 2 1 1 0 2-1 1 0 2-1 1 0 2 1 1 1-1 1 1 0 2-1 1 0 2 1 1 0 2 1 1 0 2 1 1 1-1 0-2 1-1 1 1 1-1 1 1 1-1 0-2 1-1 1 1 1-1 0-2 1-1 1 1 1-1 0-2 1-1 0-2 1-1 1 1 1-1 0-2-1-1 0-2 1-1 1 1 1-1 0-2 1-1 0-2 1-1 0-2-1-1 0-2 1-1 1 1 1-1 0-2 1-1 0-2 1-1 0-2 1-1 0-2 1-1 0-2-1-1 0-2-1-1 0-2 1-1 0-2-1-1 0-2-1-1 0-2-1-1-1 1-1-1 0-2-1-1-1 1-1-1-1 1-1-1 0-2-1-1-1 1 0 2-1 1-1-1 0-2-1-1-1 1-1-1-1 1-1-1-1 1-1-1-1 1-1-1-1 1 0 2 1 1 0 2-1 1-1-1 0-2-1-1-1 1 0 2 1 1z"/>
<path fill="#1e5d86" stroke="#1e5d86" d="M31 61l-1 1-1-1-1 1 0 2 1 1 0 2-1 1 0 2-1 1-1-1-1 1 0 2 1 1 1-1 1 1 0 2-1 1 0 2 1 1 0 2 1 1 0 2-1 1 0 2-1 1 0 2 1 1 1-1 1 1 0 2-1 1-1-1-1 1 0 2 1 1 0 2-1 1 0 2 1 1 0 2 1 1 0 2-1 1 0 2 1 1 1-1 1 1 1-1 1 1 0 2 1 1 1-1 1 1 1-1 0-2 1-1 1 1 1-1 0-2 1-1 0-2 1-1 1 1 1-1 0-2 1-1 1 1 1-1 0-2-1-1 0-2 1-1 0-2 1-1 1 1 1-1 0-2-1-1 0-2 1-1 0-2-1-1 0-2 1-1 1 1 1-1 1 1 1-1 0-2-1-1 0-2 1-1 0-2 1-1 1 1 1-1 0-2-1-1-1 1-1-1 0-2-1-1 0-2 1-1 1 1 1-1 0-2-1-1-1 1-1-1-1 1 0 2-1 1-1-1 0-2 1-1 0-2 1-1 0-2-1-1-1 1-1-1-1 1-1-1-1 1-1-1-1 1-1-1 0-2-1-1-1 1 0 2-1 1-1-1 0-2-1-1 0-2-1-1-1 1 0 2-1 1-1-1-1 1 0 2-1 1 0 2-1 1zM26 80l-1-1-1 1 0 2 1 1 1-1zM32 116l-1-1-1 1 0 2 1 1 1-1z"/>
<path fill="#205885" stroke="#205885" d="M29 67l1 1 0 2-1 1-1-1-1 1 0 2 1 1 0 2-1 1 0 2 1 1 0 2 1 1 0 2-1 1 0 2-1 1 0 2 1 1 1-1 1 1 0 2-1 1 0 2-1 1 0 2 1 1 0 2 1 1 0 2 1 1 0 2 1 1 0 2 1 1 1-1 1 1 1-1 1 1 1-1 0-2 1-1 1 1 1-1 0-2 1-1 0-2 1-1 1 1 1-1 0-2 1-1 0-2 1-1 0-2 1-1 0-2 1-1 0-2 1-1 0-2-1-1 0-2 1-1 0-2 1-1 0-2 1-1 0-2 1-1 0-2 1-1 0-2-1-1 0-2 1-1 0-2-1-1-1 1 0 2-1 1-1-1 0-2-1-1 0-2-1-1 0-2-1-1-1 1-1-1-1 1-1-1-1 1-1-1-1 1-1-1 0-2-1-1-1 1-1-1-1 1 0 2-1 1-1-1-1 1 0 2 1 1 0 2-1 1-1-1-1 1 0 2-1 1z"/>
<path fill="#225282" stroke="#225282" d="M32 64l-1 1 0 2-1 1 0 2-1 1 0 2 1 1 0 2-1 1 0 2 1 1 0 2 1 1 0 2-1 1 0 2 1 1 0 2-1 1 0 2 1 1 0 2-1 1 0 2-1 1 0 2 1 1 1-1 1 1 0 2-1 1 0 2 1 1 0 2 1 1 1-1 1 1 1-1 0-2 1-1 1 1 1-1 1 1 1-1 0-2 1-1 0-2 1-1 1 1 1-1 0-2 1-1 0-2-1-1 0-2 1-1 1 1 1-1 0-2 1-1 0-2-1-1 0-2 1-1 0-2 1-1 0-2 1-1 0-2-1-1 0-2 1-1 0-2 1-1 1 1 1-1 0-2-1-1 0-2 1-1 0-2-1-1-1 1 0 2-1 1-1-1 0-2-1-1 0-2-1-1 0-2-1-1-1 1-1-1-1 1-1-1-1 1-1-1-1 1-1-1-1 1-1-1-1 1-1-1-1 1 0 2-1 1 0 2-1 1zM35 59l1-1 1 1 0 2-1 1-1-1zM49 71l-1-1 0-2 1-1 1 1 0 2z"/>
<path fill="#254c80" stroke="#254c80" d="M36 58l0-2-1-1-1 1 0 2 1 1zM33 67l-1 1-1-1-1 1 0 2 1 1 0 2-1 1 0 2-1 1 0 2 1 1 0 2 1 1 0 2 1 1 0 2-1 1 0 2 1 1 0 2-1 1 0 2 1 1 0 2 1 1 0 2-1 1 0 2-1 1 0 2 1 1 1-1 1 1 1-1 1 1 1-1 1 1 1-1 1 1 1-1 0-2 1-1 0-2 1-1 1 1 1-1 0-2 1-1 0-2-1-1 0-2 1-1 1 1 1-1 0-2-1-1 0-2 1-1 0-2-1-1 0-2-1-1 0-2 1-1 1 1 1-1 0-2-1-1-1 1-1-1 0-2 1-1 0-2 1-1 0-2 1-1 1 1 1-1 0-2-1-1 0-2-1-1-1 1-1-1 0-2-1-1 0-2-1-1-1 1-1-1-1 1-1-1-1 1 0 2-1 1-1-1-1 1 0 2-1 1-1-1-1 1 0 2-1 1zM34 104l1-1 1 1 0 2-1 1-1-1zM31 79l0-2 1-1 1 1 0 2-1 1zM51 73l0-2-1-1-1 1 0 2 1 1z"/>
<path fill="#27467c" stroke="#27467c" d="M37 65l0 2-1 1-1-1-1 1-1-1-1 1-1-1-1 1 0 2 1 1 0 2 1 1 1-1 1 1 0 2-1 1 0 2 1 1 1-1 1 1 0 2-1 1 0 2 1 1 0 2-1 1 0 2-1 1 0 2-1 1 0 2-1 1 0 2 1 1 0 2-1 1 0 2 1 1 0 2 1 1 1-1 1 1 1-1 1 1 1-1 0-2-1-1 0-2 1-1 1 1 1-1 0-2 1-1 1 1 0 2 1 1 1-1 0-2-1-1 0-2 1-1 0-2 1-1 0-2-1-1-1 1-1-1 0-2 1-1 1 1 1-1 0-2 1-1 0-2-1-1 0-2-1-1-1 1-1-1 0-2 1-1 1 1 1-1 0-2 1-1 0-2-1-1 0-2 1-1 1 1 1-1 1 1 1-1 0-2-1-1-1 1-1-1 0-2-1-1-1 1 0 2-1 1-1-1 0-2 1-1 0-2-1-1-1 1-1-1-1 1-1-1-1 1 0 2-1 1-1-1-1 1 0 2zM37 77l1-1 1 1 0 2-1 1-1-1zM36 106l-1 1-1-1 0-2 1-1 1 1zM32 86l1-1 0-2-1-1-1 1 0 2z"/>
<path fill="#294079" stroke="#294079" d="M36 64l1 1 1-1 1 1 0 2 1 1 1-1 0-2 1-1 1 1 1-1 0-2-1-1 0-2-1-1-1 1 0 2-1 1-1-1-1 1-1-1-1 1zM36 70l-1 1 0 2-1 1 0 2 1 1 1-1 1 1 1-1 0-2-1-1 0-2 1-1 0-2-1-1-1 1zM35 85l1 1 1-1 0-2-1-1-1 1zM37 91l1 1 0 2-1 1-1-1-1 1-1-1-1 1 0 2 1 1 1-1 1 1 0 2-1 1 0 2 1 1 0 2 1 1 1-1 0-2 1-1 0-2 1-1 0-2 1-1 1 1 0 2 1 1 1-1 0-2 1-1 0-2-1-1 0-2-1-1-1 1-1-1 0-2 1-1 1 1 1-1 0-2 1-1 0-2 1-1 0-2-1-1-1 1 0 2-1 1-1-1-1 1 0 2-1 1-1-1-1 1 0 2-1 1zM40 74l0 2-1 1 0 2-1 1 0 2 1 1 1-1 0-2 1-1 0-2 1-1 1 1 1-1 0-2-1-1 0-2 1-1 0-2-1-1-1 1 0 2-1 1-1-1-1 1 0 2zM45 73l1 1 1-1 0-2-1-1-1 1z"/>
<path fill="#2b3a76" stroke="#2b3a76" d="M39 65l0 2 1 1 1-1 0-2 1-1 0-2 1-1 0-2-1-1-1 1 0 2-1 1 0 2zM35 71l0 2 1 1 1-1 0-2-1-1zM38 86l0 2-1 1 0 2 1 1 0 2-1 1-1-1-1 1 0 2 1 1 0 2-1 1 0 2 1 1 1-1 0-2 1-1 0-2 1-1 1 1 1-1 0-2 1-1 1 1 1-1 0-2-1-1-1 1-1-1-1 1-1-1 0-2 1-1 0-2-1-1zM42 68l0 2-1 1 0 2-1 1 0 2-1 1 0 2 1 1 1-1 0-2 1-1 0-2 1-1 0-2 1-1 0-2-1-1zM45 73l1 1 1-1 0-2-1-1-1 1zM43 83l0 2 1 1 1-1 0-2-1-1z"/>
<path fill="#2c3473" stroke="#2c3473" d="M44 68l-1-1-1 1 0 2 1 1 1-1zM41 73l-1 1 0 2 1 1 1-1 0-2zM39 91l-1 1 0 2 1 1 0 2 1 1 1-1 0-2 1-1 0-2-1-1-1 1zM36 94l-1 1 0 2 1 1 0 2 1 1 1-1 0-2-1-1 0-2z"/>
</g></g>
<path fill="#f0a9a9" d="M1042.0 1760.9v-8.9h33.3v8.9zM1076.8 1760.9v-14.1h33.3v14.1zM1111.6 1760.9v-22.2h33.3v22.2zM1146.4 1760.9v-32.3h33.3v32.3zM1181.2 1760.9v-41.7h33.3v41.7zM1216.0 1760.9v-47.7h33.3v47.7zM1250.8 1760.9v-45.9h33.3v45.9zM1285.6 1760.9v-38.9h33.3v38.9zM1320.4 1760.9v-29.5h33.3v29.5zM1355.2 1760.9v-19.7h33.3v19.7zM1390.1 1760.9v-12.7h33.3v12.7zM1424.9 1760.9v-7.5h33.3v7.5zM1459.7 1760.9v-4.3h33.3v4.3zM1494.5 1760.9v-2.2h33.3v2.2z"/>
<path fill="#f0a9a9" d="M1615.5 1901.2h1.8v11.1h-1.8zM1615.5 1913.8h4.1v11.1h-4.1zM1615.5 1926.5h8.0v11.1h-8.0zM1615.5 1939.0h12.8v11.1h-12.8zM1615.5 1951.7h17.3v11.1h-17.3zM1615.5 1964.2h22.3v11.1h-22.3zM1615.5 1976.8h26.2v11.1h-26.2zM1615.5 1989.5h31.2v11.1h-31.2zM1615.5 2002.0h36.5v11.1h-36.5zM1615.5 2014.7h40.4v11.1h-40.4zM1615.5 2027.2h43.1v11.1h-43.1zM1615.5 2039.8h46.3v11.1h-46.3zM1615.5 2052.4h51.3v11.1h-51.3zM1615.5 2065.1h53.6v11.1h-53.6zM1615.5 2077.7h56.1v11.1h-56.1zM1615.5 2090.2h59.3v11.1h-59.3zM1615.5 2102.8h60.4v11.1h-60.4zM1615.5 2115.4h60.2v11.1h-60.2zM1615.5 2128.1h59.3v11.1h-59.3zM1615.5 2140.7h58.2v11.1h-58.2zM1615.5 2153.2h55.4v11.1h-55.4zM1615.5 2165.8h53.1v11.1h-53.1zM1615.5 2178.4h49.3v11.1h-49.3zM1615.5 2191.1h47.0v11.1h-47.0zM1615.5 2203.7h41.0v11.1h-41.0zM1615.5 2216.2h36.0v11.1h-36.0zM1615.5 2228.8h29.2v11.1h-29.2zM1615.5 2241.4h24.4v11.1h-24.4zM1615.5 2254.1h20.3v11.1h-20.3zM1615.5 2266.7h17.3v11.1h-17.3zM1615.5 2279.2h15.1v11.1h-15.1zM1615.5 2291.8h12.3v11.1h-12.3zM1615.5 2304.4h9.6v11.1h-9.6zM1615.5 2317.1h8.2v10.9h-8.2z"/>
<path d="M1229.5 1760.9V1708.4M1615.5 2116.0H1680.1" stroke="#029e73" stroke-width="5" stroke-dasharray="17.5 7.3" fill="none"/>
<path d="M1041.6 1822.3V2329.3M1040.3 2328.0H1566.8M1040.3 1760.9H1566.8M1615.5 1822.3V2329.3M1111.5 2328.0v10.8M1111.5 1760.9v10.8M1286.1 2328.0v10.8M1286.1 1760.9v10.8M1460.7 2328.0v10.8M1460.7 1760.9v10.8M1041.6 2255.9h-10.8M1615.5 2255.9h-10.8M1041.6 2111.8h-10.8M1615.5 2111.8h-10.8M1041.6 1967.7h-10.8M1615.5 1967.7h-10.8M1041.6 1823.6h-10.8M1615.5 1823.6h-10.8" stroke="#000" stroke-width="2.6" fill="none"/>
<text transform="translate(1074.37,2398.28) rotate(-45)" font-size="29.17" >3.0</text>
<text transform="translate(1249.00,2398.28) rotate(-45)" font-size="29.17" >3.5</text>
<text transform="translate(1423.64,2398.28) rotate(-45)" font-size="29.17" >4.0</text>
<text transform="translate(1002.70,2273.66) rotate(-45)" font-size="29.17" >1</text>
<text transform="translate(1002.70,2129.54) rotate(-45)" font-size="29.17" >2</text>
<text transform="translate(1002.70,1985.43) rotate(-45)" font-size="29.17" >3</text>
<text transform="translate(1002.70,1841.31) rotate(-45)" font-size="29.17" >4</text>
<circle cx="1229.5" cy="2116.0" r="18.4" fill="#029e73" stroke="#fff" stroke-width="6"/>
<rect x="1335.8" y="1841.7" width="212.1" height="66.0" rx="5" fill="#fff" fill-opacity="0.5"/>
<circle cx="1387.3" cy="1871.9" r="18.4" fill="#029e73" stroke="#fff" stroke-width="6"/>
<text x="1452.4" y="1884.8" font-size="36.1">MAP</text>
<text x="1303.3" y="2442.9" font-size="36.1" text-anchor="middle"><tspan class="i">v</tspan><tspan class="i" font-size="25.3" dy="5.4">s</tspan><tspan dy="-5.4">1</tspan></text><text x="1303.3" y="2489.7" font-size="36.1" text-anchor="middle"><tspan>[km·s</tspan><tspan font-size="25.3" dy="-13.0">−1</tspan><tspan dy="13.0">]</tspan></text><text transform="translate(919.4,2076.2) rotate(-90)" font-size="36.1" text-anchor="middle"><tspan class="i">v</tspan><tspan class="i" font-size="25.3" dy="5.4">s</tspan><tspan dy="-5.4">0</tspan></text><text transform="translate(966.2,2076.2) rotate(-90)" font-size="36.1" text-anchor="middle"><tspan>[km·s</tspan><tspan font-size="25.3" dy="-13.0">−1</tspan><tspan dy="13.0">]</tspan></text>
<g font-weight="bold"><text transform="translate(873.1,1725.8) scale(1.19,1)" font-size="49.7">(</text><text x="899.0" y="1723.2" font-size="46.0">f</text><text transform="translate(918.1,1725.8) scale(1.19,1)" font-size="49.7">)</text></g>
</svg>
</body></html>
